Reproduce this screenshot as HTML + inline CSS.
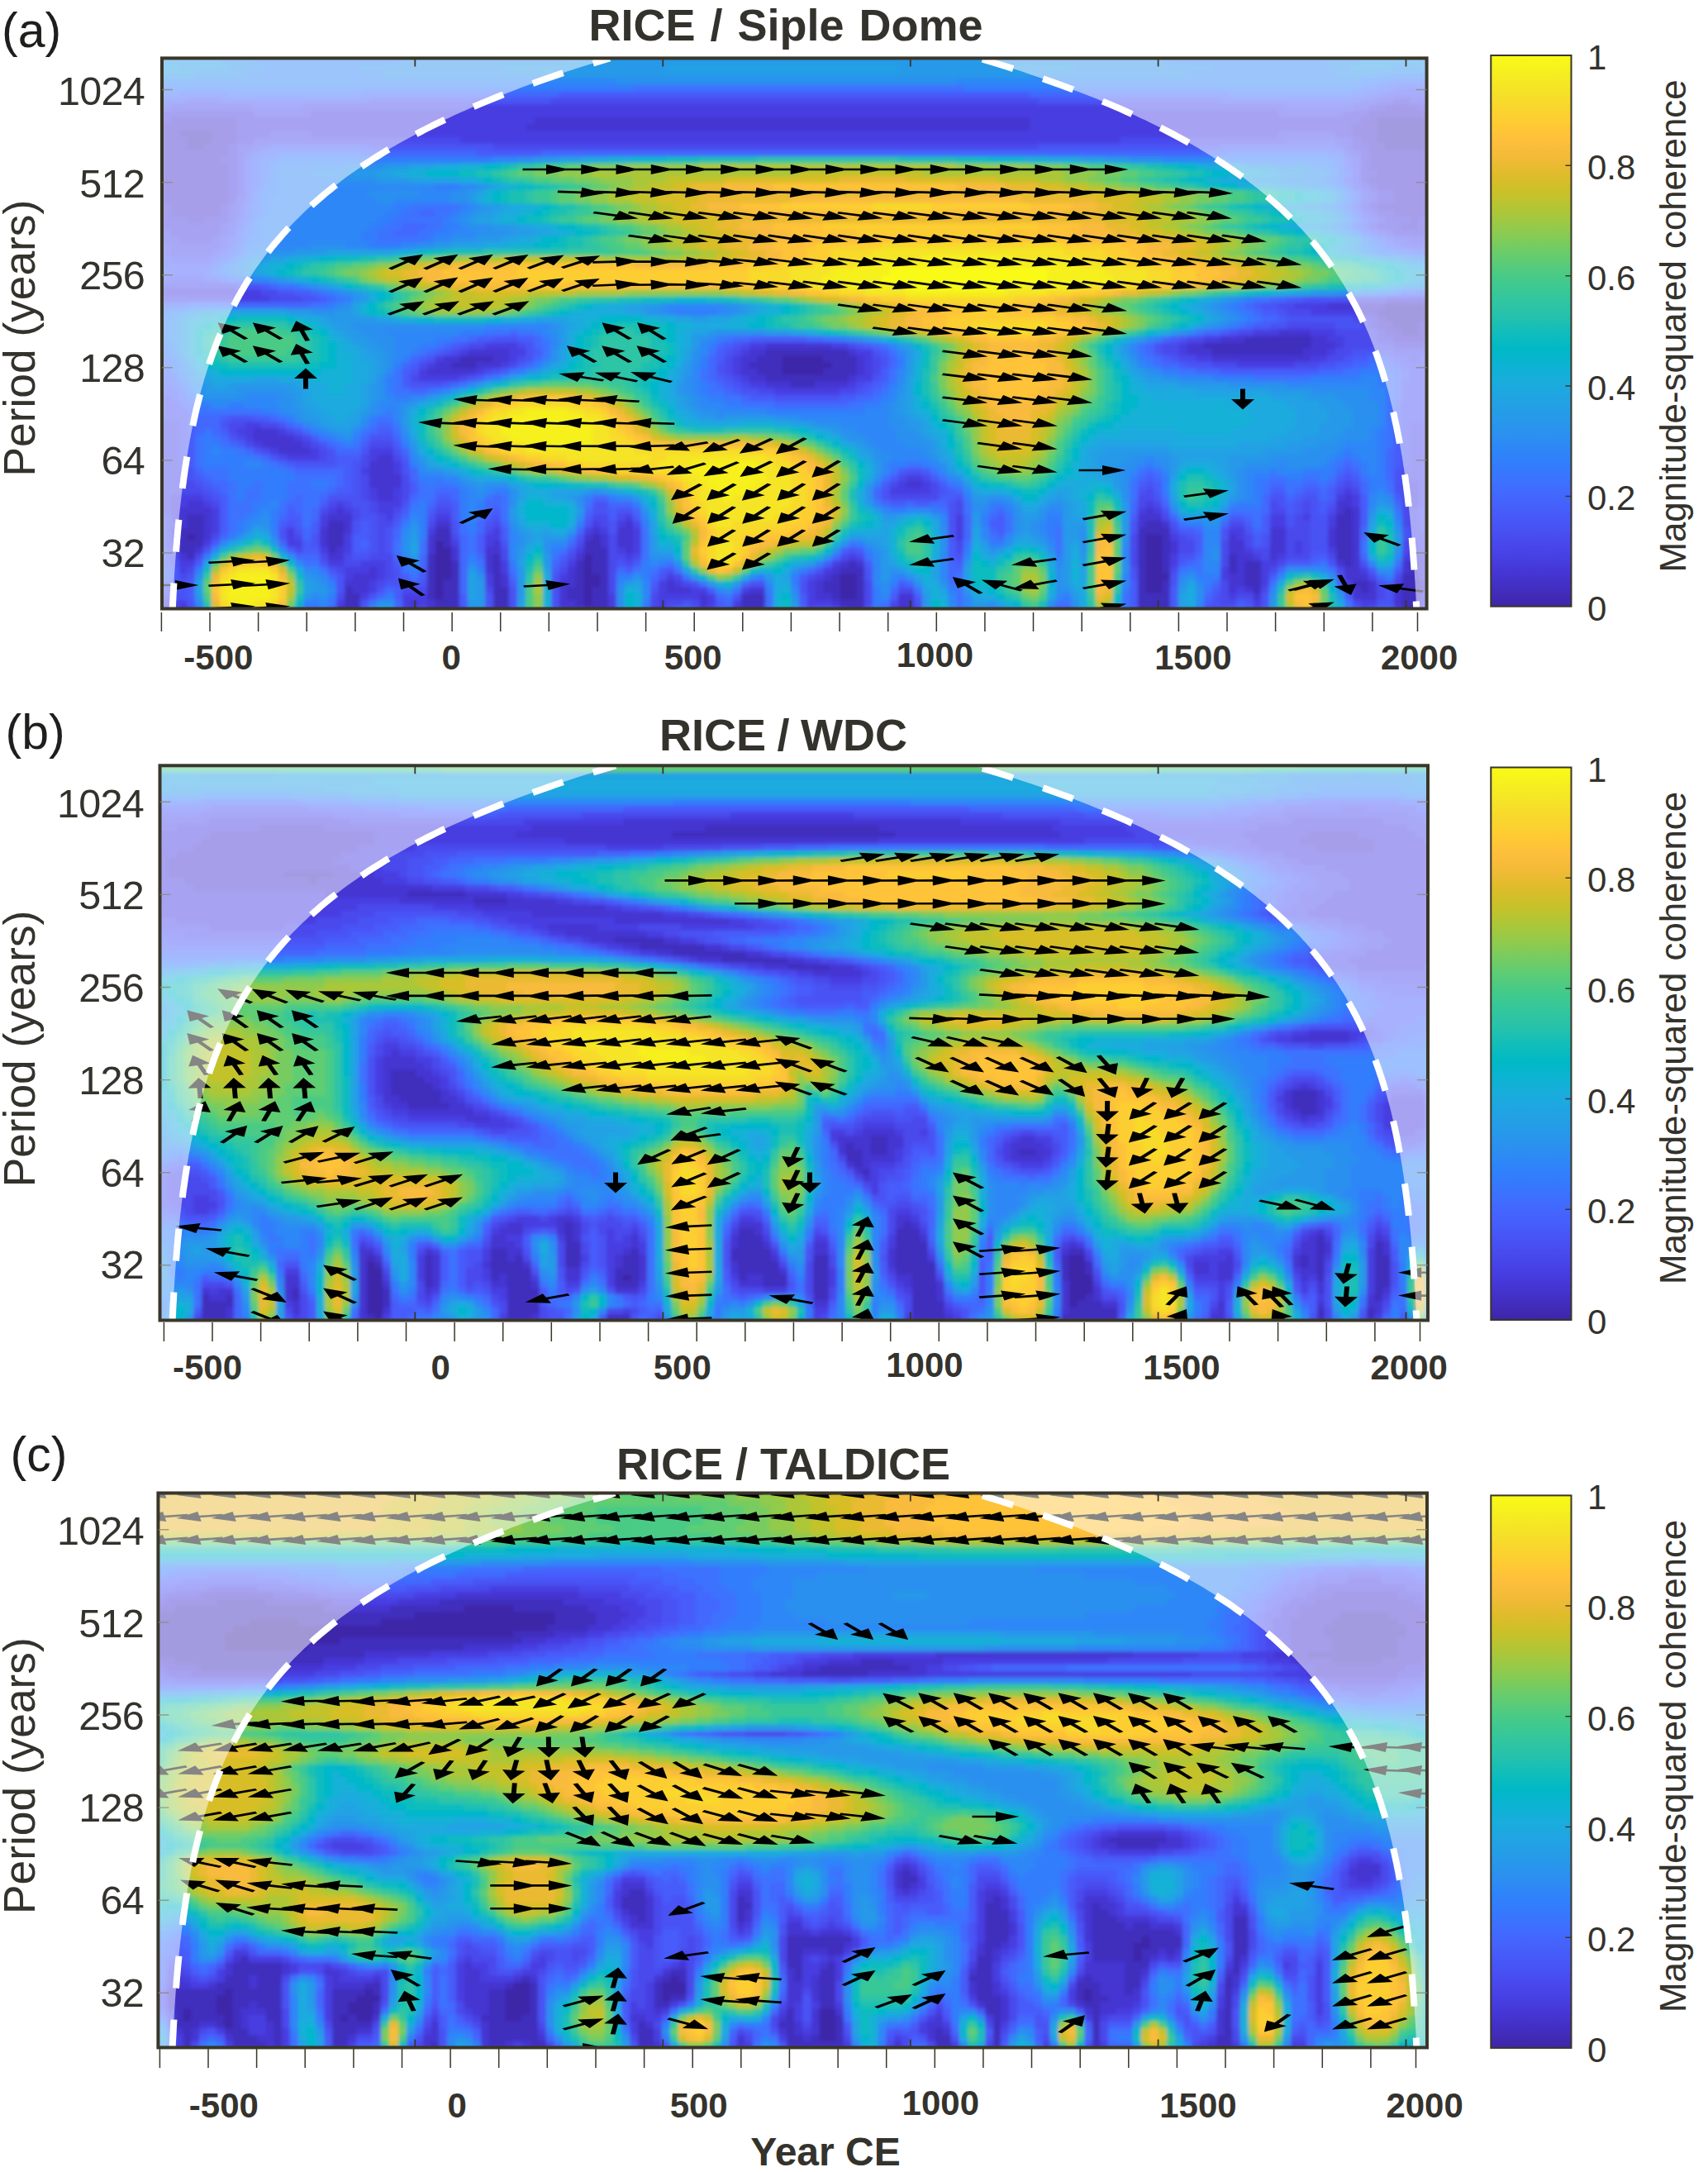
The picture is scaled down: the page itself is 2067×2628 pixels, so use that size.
<!DOCTYPE html><html><head><meta charset="utf-8"><title>Wavelet coherence</title>
<style>html,body{margin:0;padding:0;background:#fff}svg{display:block}text{font-family:"Liberation Sans",sans-serif;fill:#34322c}</style></head><body>
<svg width="2067" height="2628" viewBox="0 0 2067 2628">
<defs><linearGradient id="cb" x1="0" y1="0" x2="0" y2="1"><stop offset="0.0000" stop-color="#f9fb15"/><stop offset="0.0312" stop-color="#f6ef20"/><stop offset="0.0625" stop-color="#f5e327"/><stop offset="0.0938" stop-color="#f9d62d"/><stop offset="0.1250" stop-color="#feca33"/><stop offset="0.1562" stop-color="#febe3c"/><stop offset="0.1875" stop-color="#f1ba37"/><stop offset="0.2188" stop-color="#debc2a"/><stop offset="0.2500" stop-color="#c8c129"/><stop offset="0.2812" stop-color="#afc637"/><stop offset="0.3125" stop-color="#94ca4a"/><stop offset="0.3438" stop-color="#77cc60"/><stop offset="0.3750" stop-color="#5ccc76"/><stop offset="0.4062" stop-color="#44ca8a"/><stop offset="0.4375" stop-color="#34c79c"/><stop offset="0.4688" stop-color="#28c2ab"/><stop offset="0.5000" stop-color="#12beb9"/><stop offset="0.5312" stop-color="#01b9c6"/><stop offset="0.5625" stop-color="#0cb3d3"/><stop offset="0.5938" stop-color="#1aacdd"/><stop offset="0.6250" stop-color="#21a3e3"/><stop offset="0.6562" stop-color="#269ae9"/><stop offset="0.6875" stop-color="#2c90f0"/><stop offset="0.7188" stop-color="#2e85f8"/><stop offset="0.7500" stop-color="#347afd"/><stop offset="0.7812" stop-color="#3f6efe"/><stop offset="0.8125" stop-color="#4562fc"/><stop offset="0.8438" stop-color="#4757f7"/><stop offset="0.8750" stop-color="#484cef"/><stop offset="0.9062" stop-color="#4741e5"/><stop offset="0.9375" stop-color="#4536d5"/><stop offset="0.9688" stop-color="#422ebf"/><stop offset="1.0000" stop-color="#3e26a8"/></linearGradient>
<filter id="bl" x="-2%" y="-2%" width="104%" height="104%"><feGaussianBlur stdDeviation="2.2"/></filter></defs>
<rect width="2067" height="2628" fill="#fff"/>
<clipPath id="cp0"><rect x="196.0" y="70.4" width="1530.6" height="666.1"/></clipPath>
<g clip-path="url(#cp0)">
<rect x="196.0" y="70.4" width="1530.6" height="666.1" fill="#2d88f6"/>
<g filter="url(#bl)" fill="none" stroke-width="9">
<path stroke="#3e26a8" d="M946 434h51M946 442h61M946 450h51M226 650h11M1386 650h21M526 658h11M1386 658h21M526 666h21M1386 666h21M526 674h21M706 674h11M1386 674h21M526 682h21M706 682h11M1386 682h21M526 690h21M706 690h11M1386 690h21M526 698h21M706 698h21M1016 698h21M1386 698h31M526 706h11M706 706h21M1016 706h21M1386 706h21M526 714h11M706 714h11M1016 714h21M1386 714h21M526 722h11M706 722h11M1016 722h21M706 730h11"/>
<path stroke="#412ebd" d="M1666 146h61M1666 154h71M216 162h41M1666 162h71M226 170h31M1666 170h61M226 178h21M1676 178h51M1676 370h51M1666 378h61M1676 386h51M1686 394h31M1696 402h21M1506 410h81M1456 418h131M926 426h101M1466 426h111M556 434h41M916 434h31M996 434h41M546 442h31M906 442h41M1006 442h31M916 450h31M996 450h41M926 458h101M956 466h31M1626 618h11M226 626h21M1616 626h21M226 634h21M396 634h21M1386 634h21M1616 634h21M216 642h31M396 642h21M526 642h21M1376 642h41M1616 642h21M216 650h11M236 650h11M396 650h21M526 650h21M716 650h11M1376 650h11M1406 650h11M1616 650h21M216 658h31M396 658h21M536 658h11M706 658h21M1376 658h11M1406 658h11M1616 658h21M216 666h21M396 666h11M706 666h31M1376 666h11M1406 666h11M1616 666h21M226 674h11M516 674h11M596 674h11M716 674h21M1376 674h11M1406 674h11M1486 674h11M1616 674h21M516 682h11M546 682h11M596 682h11M696 682h11M716 682h21M1026 682h11M1376 682h11M1406 682h11M1486 682h11M1506 682h21M1626 682h11M1706 682h11M516 690h11M546 690h11M596 690h11M696 690h11M716 690h21M1016 690h31M1376 690h11M1406 690h11M1486 690h11M1506 690h21M1706 690h11M516 698h11M546 698h11M596 698h11M696 698h11M726 698h11M1006 698h11M1036 698h11M1376 698h11M1506 698h21M1696 698h21M516 706h11M536 706h21M596 706h11M696 706h11M726 706h11M996 706h21M1036 706h11M1376 706h11M1406 706h11M1506 706h21M1636 706h21M1696 706h21M416 714h11M516 714h11M536 714h21M596 714h21M686 714h21M716 714h21M996 714h21M1036 714h11M1376 714h11M1406 714h11M1516 714h11M1646 714h11M1696 714h21M416 722h21M516 722h11M536 722h21M596 722h21M686 722h21M716 722h21M896 722h31M1006 722h11M1036 722h11M1376 722h41M1696 722h21M416 730h21M526 730h31M596 730h21M696 730h11M716 730h21M896 730h31M1016 730h31M1376 730h41M1696 730h21M406 738h31M526 738h31M596 738h21M706 738h31M896 738h31M1026 738h21M1086 738h21M1376 738h41M1696 738h21"/>
<path stroke="#4435d1" d="M1676 130h41M1656 138h81M206 146h81M646 146h601M1646 146h21M1726 146h11M196 154h91M636 154h611M1636 154h31M196 162h21M256 162h31M1636 162h31M196 170h31M256 170h31M1646 170h21M1726 170h11M196 178h31M246 178h31M1656 178h21M1726 178h11M196 186h81M1656 186h81M196 194h71M1656 194h81M196 202h81M1656 202h81M196 210h81M1666 210h71M196 218h81M1656 218h81M196 226h81M1666 226h71M196 234h81M1686 234h51M196 242h81M1686 242h51M206 250h61M1666 250h71M206 258h61M1686 258h41M226 266h21M1706 266h11M1696 274h21M1606 370h71M1726 370h11M1646 378h21M1726 378h11M1666 386h11M1726 386h11M1666 394h21M1716 394h11M1546 402h41M1676 402h21M1716 402h11M1476 410h31M1586 410h21M1686 410h41M926 418h81M1436 418h21M1586 418h31M566 426h51M906 426h21M1026 426h11M1436 426h31M1576 426h31M536 434h21M596 434h21M896 434h21M1036 434h11M1466 434h121M526 442h21M576 442h31M896 442h11M1036 442h11M516 450h61M896 450h21M1036 450h11M906 458h21M1026 458h11M926 466h31M986 466h41M306 522h31M306 530h51M316 538h51M336 546h41M456 554h21M446 562h31M446 570h31M446 578h41M446 586h41M1096 586h21M456 594h21M456 602h21M1626 602h11M226 610h21M1616 610h21M216 618h41M406 618h11M1386 618h11M1616 618h11M1636 618h11M216 626h11M246 626h11M396 626h31M1376 626h31M1636 626h11M216 634h11M246 634h11M416 634h11M526 634h21M756 634h11M1376 634h11M1406 634h11M1636 634h11M246 642h11M386 642h11M416 642h11M716 642h11M746 642h21M1536 642h21M1606 642h11M1636 642h11M246 650h11M386 650h11M516 650h11M706 650h11M726 650h11M746 650h21M1486 650h11M1536 650h21M1606 650h11M1636 650h11M386 658h11M516 658h11M596 658h11M726 658h11M746 658h21M1416 658h11M1486 658h21M1536 658h21M1606 658h11M1636 658h11M236 666h11M406 666h11M516 666h11M546 666h11M586 666h21M756 666h11M1416 666h11M1486 666h21M1536 666h21M1636 666h11M216 674h11M396 674h21M546 674h11M586 674h11M696 674h11M1496 674h21M1536 674h11M1636 674h11M1706 674h11M586 682h11M1016 682h11M1036 682h11M1496 682h11M1616 682h11M1636 682h11M1696 682h11M446 690h11M586 690h11M686 690h11M1006 690h11M1496 690h11M1626 690h21M1696 690h11M426 698h31M606 698h11M686 698h11M996 698h11M1486 698h21M1626 698h31M416 706h31M606 706h11M676 706h21M806 706h11M986 706h11M1486 706h21M1656 706h11M1716 706h11M426 714h21M676 714h11M806 714h31M906 714h21M986 714h11M1486 714h11M1506 714h11M1636 714h11M1656 714h11M1686 714h11M1716 714h11M676 722h11M846 722h11M986 722h21M1086 722h21M1516 722h11M1636 722h31M1686 722h11M496 730h11M516 730h11M676 730h21M846 730h11M1006 730h11M1086 730h21M1686 730h11M216 738h11M516 738h11M686 738h21M736 738h11M886 738h11M1016 738h11M1076 738h11"/>
<path stroke="#463ee1" d="M1686 122h21M566 130h791M1656 130h21M1716 130h21M196 138h111M376 138h1171M1626 138h31M196 146h11M286 146h361M1246 146h401M286 154h351M1246 154h391M286 162h41M376 162h1171M1616 162h21M286 170h21M556 170h801M1636 170h11M276 178h11M1636 178h21M276 186h11M1646 186h11M266 194h21M1646 194h11M276 202h11M1646 202h11M276 210h11M1646 210h21M276 218h11M1646 218h11M276 226h11M1656 226h11M276 234h11M1666 234h21M276 242h11M1666 242h21M196 250h11M266 250h11M1656 250h11M196 258h11M266 258h11M1666 258h21M1726 258h11M196 266h31M246 266h31M1676 266h31M1716 266h21M196 274h71M1666 274h31M1716 274h21M206 282h61M1686 282h41M216 290h41M196 354h121M286 362h41M1676 362h61M1566 370h41M1586 378h61M1656 386h11M1656 394h11M1726 394h11M1516 402h31M1586 402h31M1666 402h11M1726 402h11M1456 410h21M1606 410h21M1666 410h21M586 418h41M906 418h21M1006 418h21M1426 418h11M1616 418h11M1686 418h41M556 426h11M616 426h21M896 426h11M1036 426h21M1426 426h11M1606 426h11M526 434h11M616 434h11M886 434h11M1046 434h11M1446 434h21M1586 434h21M516 442h11M606 442h11M886 442h11M1046 442h11M1496 442h71M506 450h11M576 450h11M886 450h11M1046 450h11M506 458h51M896 458h11M1036 458h21M906 466h21M1026 466h11M936 474h81M296 514h21M286 522h21M336 522h11M296 530h11M356 530h11M306 538h11M366 538h11M326 546h11M376 546h11M446 546h31M346 554h41M446 554h11M476 562h11M436 570h11M476 570h11M1096 578h21M1086 586h11M1116 586h11M1706 586h11M446 594h11M476 594h11M1076 594h51M1626 594h11M1706 594h11M206 602h41M446 602h11M476 602h11M1616 602h11M1636 602h11M1706 602h11M206 610h21M246 610h11M406 610h11M456 610h31M1386 610h11M1636 610h11M1706 610h11M206 618h11M256 618h11M396 618h11M416 618h11M456 618h21M1376 618h11M1396 618h11M206 626h11M256 626h11M386 626h11M466 626h11M526 626h21M756 626h11M1156 626h11M1536 626h21M1576 626h11M1606 626h11M256 634h11M386 634h11M716 634h11M746 634h11M1156 634h11M1536 634h21M1606 634h11M206 642h11M256 642h11M346 642h11M516 642h11M596 642h11M706 642h11M726 642h11M766 642h11M1156 642h11M1486 642h21M206 650h11M346 650h11M416 650h11M586 650h21M766 650h11M1156 650h11M1416 650h11M1496 650h11M246 658h11M346 658h21M416 658h11M546 658h11M586 658h11M766 658h11M1566 658h11M1706 658h11M386 666h11M416 666h11M696 666h11M746 666h11M766 666h11M1506 666h11M1566 666h11M1606 666h11M1706 666h11M756 674h11M1026 674h11M1416 674h11M1516 674h11M1546 674h11M1696 674h11M1716 674h11M216 682h21M396 682h21M436 682h31M606 682h11M686 682h11M1006 682h11M1416 682h11M1526 682h21M1716 682h11M216 690h11M416 690h31M456 690h11M606 690h11M996 690h11M1476 690h11M1526 690h11M1646 690h11M1716 690h11M416 698h11M456 698h11M586 698h11M676 698h11M806 698h11M986 698h11M1476 698h11M1526 698h11M1716 698h11M446 706h11M586 706h11M796 706h11M816 706h11M976 706h11M1526 706h11M1626 706h11M1686 706h11M446 714h11M796 714h11M836 714h21M896 714h11M976 714h11M1496 714h11M436 722h11M486 722h31M736 722h11M796 722h51M856 722h11M976 722h11M1486 722h11M1716 722h11M196 730h11M216 730h11M406 730h11M486 730h11M506 730h11M736 730h11M796 730h11M856 730h11M886 730h11M976 730h31M1516 730h11M1646 730h21M1716 730h11M196 738h11M486 738h21M676 738h11M786 738h21M846 738h11M1686 738h11"/>
<path stroke="#4848ec" d="M666 122h591M1666 122h21M1706 122h31M206 130h101M366 130h201M1356 130h201M1636 130h21M306 138h71M1546 138h81M326 162h51M1546 162h71M306 170h251M1356 170h201M1616 170h21M286 178h21M596 178h661M1626 178h11M286 186h11M1636 186h11M286 194h11M286 202h11M286 210h11M286 218h11M286 226h11M1646 226h11M286 234h11M1656 234h11M1656 242h11M276 250h11M1646 250h11M276 258h11M1656 258h11M276 266h11M1666 266h11M266 274h11M1656 274h11M196 282h11M266 282h11M1676 282h11M1726 282h11M196 290h21M256 290h11M1706 290h21M206 298h61M206 306h51M196 346h91M316 354h21M196 362h91M326 362h41M1636 362h41M1546 370h21M1556 378h31M1636 386h21M1556 394h61M1646 394h11M1496 402h21M1616 402h51M1436 410h21M1626 410h41M1726 410h11M566 418h21M626 418h11M896 418h11M1026 418h11M1406 418h21M1626 418h61M1726 418h11M546 426h11M886 426h11M1406 426h21M1616 426h21M1686 426h41M626 434h11M876 434h11M1056 434h11M1426 434h21M1606 434h21M1706 434h11M506 442h11M616 442h11M876 442h11M1056 442h11M1466 442h31M1566 442h31M586 450h11M876 450h11M1056 450h11M496 458h11M556 458h11M886 458h11M896 466h11M1036 466h11M916 474h21M1016 474h21M196 514h21M276 514h21M316 514h21M1706 514h21M196 522h21M276 522h11M346 522h11M1706 522h21M196 530h21M286 530h11M366 530h11M1706 530h21M196 538h21M296 538h11M376 538h11M446 538h31M1706 538h21M196 546h21M316 546h11M386 546h11M1706 546h21M196 554h21M336 554h11M386 554h11M436 554h11M476 554h11M1706 554h21M196 562h21M436 562h11M1706 562h21M196 570h31M1696 570h31M196 578h31M436 578h11M486 578h11M1086 578h11M1116 578h11M1696 578h31M196 586h41M436 586h11M486 586h11M1076 586h11M1126 586h11M1626 586h11M1696 586h11M1716 586h11M196 594h51M436 594h11M486 594h11M1126 594h11M1386 594h11M1616 594h11M1636 594h11M1696 594h11M1716 594h11M196 602h11M246 602h11M436 602h11M486 602h11M1076 602h61M1376 602h21M1696 602h11M1716 602h11M196 610h11M256 610h11M396 610h11M416 610h11M446 610h11M1156 610h11M1376 610h11M1396 610h11M1536 610h11M1576 610h11M1696 610h11M1716 610h11M196 618h11M386 618h11M426 618h11M446 618h11M476 618h11M526 618h21M1156 618h11M1536 618h21M1576 618h11M1606 618h11M1696 618h21M426 626h11M456 626h11M716 626h21M746 626h11M1406 626h11M1566 626h11M1696 626h21M206 634h11M456 634h21M516 634h11M596 634h11M726 634h11M766 634h11M1486 634h21M1566 634h21M1696 634h21M456 642h11M586 642h11M1416 642h11M1556 642h31M1706 642h11M256 650h11M356 650h11M456 650h11M546 650h11M736 650h11M1366 650h11M1426 650h11M1506 650h11M1556 650h31M1706 650h21M206 658h11M456 658h11M696 658h11M736 658h11M1156 658h11M1366 658h11M1426 658h21M1476 658h11M1506 658h11M1556 658h11M1576 658h11M1696 658h11M1716 658h21M206 666h11M356 666h11M456 666h11M606 666h11M736 666h11M1156 666h11M1366 666h11M1426 666h21M1476 666h11M1516 666h21M1556 666h11M1576 666h11M1696 666h11M1716 666h21M206 674h11M236 674h11M386 674h11M416 674h11M446 674h31M606 674h11M686 674h11M736 674h21M766 674h11M1016 674h11M1036 674h11M1366 674h11M1476 674h11M1526 674h11M1556 674h31M1606 674h11M1726 674h11M416 682h21M466 682h11M736 682h11M756 682h11M1366 682h11M1476 682h11M1546 682h11M226 690h11M406 690h11M466 690h11M676 690h11M736 690h11M1416 690h11M1536 690h11M1616 690h11M216 698h11M466 698h11M736 698h11M816 698h11M976 698h11M1656 698h11M1686 698h11M456 706h11M736 706h11M826 706h11M1046 706h11M1476 706h11M486 714h31M586 714h11M736 714h11M1046 714h11M1086 714h21M1476 714h11M1526 714h11M1626 714h11M1666 714h11M196 722h11M406 722h11M786 722h11M1046 722h11M1476 722h11M1496 722h21M1666 722h11M206 730h11M786 730h11M806 730h21M836 730h11M1046 730h11M1076 730h11M1476 730h21M1636 730h11M206 738h11M226 738h11M506 738h11M856 738h11M976 738h11M1006 738h11M1106 738h11M1456 738h21M1516 738h11M1646 738h11M1716 738h11"/>
<path stroke="#4852f4" d="M1676 114h51M226 122h41M446 122h221M1256 122h221M1646 122h21M196 130h11M306 130h61M1556 130h81M1556 170h61M306 178h21M446 178h151M1256 178h221M1616 178h11M296 186h11M1626 186h11M1636 194h11M1636 202h11M1636 210h11M1636 218h11M1636 226h11M1646 234h11M286 242h11M1646 242h11M286 250h11M286 258h11M1646 258h11M1656 266h11M276 274h11M276 282h11M1666 282h11M266 290h11M1686 290h21M1726 290h11M196 298h11M266 298h11M1696 298h31M196 306h11M256 306h11M206 314h51M206 338h41M286 346h31M336 354h21M366 362h21M1576 362h61M1526 370h21M1546 378h11M1556 386h81M1536 394h21M1616 394h31M1486 402h11M596 410h31M1426 410h11M556 418h11M636 418h11M886 418h11M1036 418h11M1396 418h11M536 426h11M636 426h11M876 426h11M1056 426h11M1396 426h11M1636 426h51M1726 426h11M516 434h11M636 434h11M1066 434h11M1416 434h11M1626 434h11M1686 434h21M1716 434h11M866 442h11M1066 442h11M1436 442h31M1596 442h21M1696 442h31M496 450h11M596 450h11M866 450h11M1706 450h21M566 458h11M876 458h11M1056 458h11M1706 458h21M496 466h41M886 466h11M1046 466h11M1696 466h31M896 474h21M1036 474h11M1696 474h41M196 482h11M936 482h81M1696 482h41M196 490h21M1696 490h41M196 498h31M1696 498h41M196 506h31M276 506h31M1696 506h41M216 514h11M266 514h11M336 514h11M1696 514h11M1726 514h11M216 522h11M356 522h11M1696 522h11M1726 522h11M216 530h11M276 530h11M446 530h31M1696 530h11M1726 530h11M216 538h11M386 538h11M1696 538h11M1726 538h11M216 546h11M306 546h11M396 546h11M436 546h11M476 546h11M1696 546h11M1726 546h11M216 554h11M326 554h11M396 554h11M1696 554h11M1726 554h11M216 562h11M356 562h51M426 562h11M486 562h11M1696 562h11M1726 562h11M226 570h11M426 570h11M486 570h11M1096 570h21M1686 570h11M1726 570h11M226 578h11M426 578h11M1626 578h11M1686 578h11M1726 578h11M236 586h11M426 586h11M1386 586h11M1616 586h11M1636 586h11M1686 586h11M1726 586h11M246 594h11M426 594h11M1066 594h11M1136 594h11M1376 594h11M1686 594h11M1726 594h11M256 602h11M396 602h41M1066 602h11M1156 602h11M1396 602h11M1536 602h21M1576 602h21M1726 602h11M426 610h21M486 610h11M526 610h21M716 610h21M1146 610h11M1546 610h11M1566 610h11M1586 610h11M1606 610h11M1726 610h11M436 618h11M716 618h21M746 618h21M1146 618h11M1406 618h11M1566 618h11M1586 618h11M1716 618h21M196 626h11M436 626h21M476 626h11M516 626h11M596 626h11M1146 626h11M1556 626h11M1586 626h21M1716 626h21M196 634h11M346 634h11M426 634h11M446 634h11M546 634h11M586 634h11M706 634h11M736 634h11M1146 634h11M1366 634h11M1416 634h11M1556 634h11M1586 634h21M1716 634h21M196 642h11M336 642h11M356 642h11M426 642h11M446 642h11M466 642h11M546 642h11M736 642h11M1146 642h11M1366 642h11M1476 642h11M1506 642h11M1586 642h21M1696 642h11M1716 642h21M196 650h11M336 650h11M376 650h11M446 650h11M466 650h11M696 650h11M1146 650h11M1436 650h11M1476 650h11M1526 650h11M1586 650h21M1696 650h11M1726 650h11M196 658h11M376 658h11M446 658h11M466 658h11M606 658h11M1526 658h11M1586 658h21M246 666h11M446 666h11M466 666h11M686 666h11M1026 666h11M1586 666h21M426 674h21M1156 674h11M1426 674h21M206 682h11M386 682h11M676 682h11M746 682h11M1606 682h11M1646 682h11M1726 682h11M396 690h11M476 690h11M806 690h11M986 690h11M1046 690h11M1366 690h11M1726 690h11M226 698h11M406 698h11M476 698h11M666 698h11M796 698h11M1046 698h11M1366 698h11M1416 698h11M1616 698h11M216 706h11M406 706h11M466 706h31M506 706h11M666 706h11M836 706h11M906 706h21M966 706h11M1416 706h11M1666 706h11M196 714h11M216 714h11M406 714h11M456 714h11M616 714h11M666 714h11M786 714h11M966 714h11M1676 714h11M206 722h21M446 722h11M586 722h11M616 722h11M666 722h11M886 722h11M1466 722h11M1526 722h11M1676 722h11M226 730h11M436 730h11M586 730h11M616 730h11M666 730h11M826 730h11M1106 730h11M1466 730h11M1506 730h11M1526 730h11M1666 730h21M556 738h11M586 738h11M616 738h11M666 738h11M806 738h11M836 738h11M986 738h21M1046 738h11M1476 738h11M1656 738h11"/>
<path stroke="#475cfa" d="M1686 106h31M676 114h571M1656 114h21M1726 114h11M196 122h31M266 122h181M1476 122h171M326 178h121M1476 178h141M306 186h11M576 186h81M296 194h11M1626 194h11M296 202h11M1626 202h11M296 210h11M296 218h11M1626 218h11M296 226h11M296 234h11M296 242h11M1636 250h11M286 266h11M1646 266h11M286 274h11M1646 274h11M1656 282h11M276 290h11M1676 290h11M276 298h11M1686 298h11M1726 298h11M266 306h11M196 314h11M256 314h11M196 322h61M206 330h41M196 338h11M246 338h21M316 346h11M356 354h21M386 362h11M1556 362h21M1516 370h11M1526 378h21M1546 386h11M1516 394h21M1476 402h11M576 410h21M626 410h21M906 410h71M1416 410h11M546 418h11M876 418h11M1046 418h11M526 426h11M646 426h11M866 426h11M1066 426h11M506 434h11M866 434h11M1406 434h11M1636 434h21M1676 434h11M1726 434h11M496 442h11M626 442h11M1426 442h11M1616 442h21M1686 442h11M1726 442h11M486 450h11M606 450h11M1066 450h11M1476 450h121M1696 450h11M1726 450h11M486 458h11M576 458h11M866 458h11M1066 458h11M1696 458h11M1726 458h11M196 466h11M486 466h11M536 466h11M876 466h11M1056 466h11M1726 466h11M196 474h21M886 474h11M1046 474h11M206 482h11M906 482h31M1016 482h21M216 490h11M1686 490h11M226 498h11M1686 498h11M226 506h11M266 506h11M306 506h21M1686 506h11M226 514h11M1686 514h11M226 522h11M266 522h11M456 522h21M1686 522h11M226 530h11M376 530h11M1686 530h11M226 538h11M286 538h11M436 538h11M476 538h11M1686 538h11M226 546h11M1686 546h11M226 554h11M406 554h31M486 554h11M1686 554h11M226 562h11M346 562h11M406 562h21M1686 562h11M416 570h11M1086 570h11M1116 570h11M1626 570h11M236 578h11M416 578h11M1076 578h11M1126 578h11M1386 578h11M1616 578h11M1636 578h11M246 586h11M416 586h11M496 586h11M1066 586h11M1136 586h11M1376 586h11M1396 586h11M256 594h11M406 594h21M496 594h11M1146 594h11M1396 594h11M1536 594h21M1576 594h21M1606 594h11M266 602h11M526 602h21M1136 602h21M1566 602h11M1606 602h11M1646 602h11M1686 602h11M266 610h11M386 610h11M546 610h11M1076 610h21M1106 610h21M1556 610h11M1596 610h11M1646 610h11M266 618h11M346 618h11M486 618h11M516 618h11M546 618h11M596 618h11M736 618h11M1556 618h11M1596 618h11M1646 618h11M266 626h11M346 626h21M546 626h11M586 626h11M706 626h11M736 626h11M766 626h11M1206 626h11M1366 626h11M1486 626h21M1526 626h11M1646 626h11M266 634h11M336 634h11M356 634h11M376 634h11M436 634h11M476 634h11M1196 634h21M1506 634h11M1526 634h11M1646 634h11M266 642h11M376 642h11M436 642h11M606 642h11M1206 642h11M1426 642h21M1526 642h11M426 650h21M576 650h11M606 650h11M1446 650h11M1516 650h11M256 658h11M366 658h11M426 658h11M576 658h11M1146 658h11M1446 658h11M1516 658h11M196 666h11M346 666h11M366 666h21M426 666h21M576 666h11M1016 666h11M1036 666h11M1146 666h11M1446 666h11M196 674h11M676 674h11M1146 674h11M1586 674h21M196 682h11M236 682h11M476 682h11M766 682h11M996 682h11M1046 682h11M1156 682h11M1426 682h11M1556 682h31M206 690h11M506 690h11M666 690h11M756 690h11M796 690h11M1656 690h11M1686 690h11M206 698h11M486 698h11M506 698h11M966 698h11M1536 698h11M1726 698h11M196 706h21M226 706h11M496 706h11M616 706h11M786 706h11M1086 706h11M1366 706h11M1676 706h11M1726 706h11M206 714h11M226 714h11M476 714h11M856 714h11M1366 714h11M1416 714h11M1466 714h11M226 722h11M476 722h11M556 722h11M966 722h11M1076 722h11M1106 722h11M1366 722h11M1416 722h11M1626 722h11M556 730h11M866 730h11M966 730h11M1366 730h11M1416 730h11M1456 730h11M1496 730h11M396 738h11M436 738h11M866 738h21M1276 738h21M1366 738h11M1416 738h11M1486 738h11M1506 738h11M1526 738h11M1636 738h11"/>
<path stroke="#4367fd" d="M1666 106h21M1716 106h21M216 114h61M436 114h241M1246 114h241M1636 114h21M316 186h21M436 186h141M656 186h831M1606 186h21M306 194h11M306 202h11M306 210h11M1626 210h11M306 218h11M306 226h11M1626 226h11M1636 234h11M1636 242h11M296 250h11M296 258h11M506 258h21M1636 258h11M296 266h11M486 274h31M1636 274h11M286 282h11M476 282h31M1646 282h11M286 290h11M1666 290h11M1676 298h11M276 306h11M1706 306h31M266 314h11M256 322h11M196 330h11M246 330h11M266 338h11M326 346h11M376 354h11M1696 354h41M396 362h11M1536 362h21M196 370h31M286 370h91M1506 370h11M1516 378h11M1526 386h21M1506 394h11M616 402h11M1456 402h21M566 410h11M646 410h11M886 410h21M976 410h21M1406 410h11M536 418h11M646 418h11M866 418h11M1056 418h11M1386 418h11M516 426h11M1386 426h11M496 434h11M646 434h11M856 434h11M1076 434h11M1396 434h11M1656 434h21M486 442h11M636 442h11M856 442h11M1076 442h11M1406 442h21M1636 442h21M1676 442h11M196 450h11M856 450h11M1446 450h31M1596 450h31M1686 450h11M196 458h21M856 458h11M1686 458h11M206 466h11M546 466h11M866 466h11M1066 466h11M1686 466h11M216 474h11M496 474h21M876 474h11M1056 474h11M1686 474h11M216 482h11M896 482h11M1036 482h21M1686 482h11M226 490h11M936 490h91M236 506h31M326 506h11M236 514h31M346 514h11M456 514h21M236 522h11M256 522h11M366 522h11M446 522h11M266 530h11M436 530h11M476 530h11M276 538h11M396 538h11M296 546h11M406 546h31M486 546h11M1676 546h11M316 554h11M1676 554h11M336 562h11M1626 562h11M1676 562h11M236 570h11M356 570h61M496 570h11M1386 570h11M1616 570h11M1636 570h11M1676 570h11M246 578h11M406 578h11M496 578h11M1376 578h11M1396 578h11M1676 578h11M256 586h21M406 586h11M1536 586h21M1576 586h21M1606 586h11M1646 586h11M266 594h11M396 594h11M526 594h31M1056 594h11M1156 594h11M1566 594h11M1596 594h11M1646 594h11M356 602h11M386 602h11M496 602h11M546 602h11M596 602h11M716 602h21M1056 602h11M1526 602h11M1556 602h11M1596 602h11M346 610h21M516 610h11M586 610h21M736 610h31M1066 610h11M1096 610h11M1126 610h21M1366 610h11M1406 610h11M1526 610h11M1686 610h11M356 618h11M376 618h11M586 618h11M706 618h11M766 618h11M1206 618h11M1366 618h11M1526 618h11M336 626h11M376 626h11M486 626h11M1166 626h11M1196 626h11M1416 626h11M1506 626h11M576 634h11M606 634h11M1166 634h11M1476 634h11M366 642h11M476 642h11M576 642h11M696 642h11M1166 642h11M1196 642h11M1446 642h11M1516 642h11M1646 642h11M266 650h11M366 650h11M476 650h11M556 650h11M1166 650h11M1206 650h11M1646 650h11M336 658h11M436 658h11M556 658h11M686 658h11M556 666h11M356 674h31M476 674h11M506 674h11M556 674h11M576 674h11M1006 674h11M1446 674h11M1646 674h11M506 682h11M556 682h11M666 682h11M1146 682h11M1436 682h11M1586 682h11M196 690h11M556 690h11M746 690h11M976 690h11M1146 690h21M1546 690h11M196 698h11M396 698h11M556 698h11M616 698h11M786 698h11M1146 698h11M1666 698h11M556 706h11M896 706h11M1096 706h11M1466 706h11M1616 706h11M466 714h11M556 714h11M1076 714h11M1726 714h11M456 722h11M866 722h11M1456 722h11M1726 722h11M476 730h11M876 730h11M1726 730h11M366 738h21M476 738h11M816 738h21M966 738h11M1066 738h11M1496 738h11M1666 738h21"/>
<path stroke="#3c72ff" d="M1676 98h51M766 106h401M1646 106h21M196 114h21M276 114h161M1486 114h151M336 186h101M1486 186h121M316 194h21M1616 194h11M316 202h11M1616 202h11M316 210h11M1616 210h11M316 218h11M1616 218h11M306 234h11M306 242h11M306 250h11M496 250h61M1626 250h11M306 258h11M486 258h21M526 258h21M476 266h61M1636 266h11M296 274h11M466 274h21M516 274h21M296 282h11M456 282h21M506 282h21M456 290h61M1656 290h11M286 298h11M1666 298h11M286 306h11M1686 306h21M276 314h11M256 330h11M276 338h21M336 346h21M386 354h11M1686 354h11M406 362h11M1516 362h21M226 370h61M376 370h21M1496 370h11M1506 378h11M1516 386h11M1496 394h11M586 402h31M626 402h21M1446 402h11M546 410h21M876 410h11M996 410h21M526 418h11M656 418h11M1066 418h11M1376 418h11M506 426h11M656 426h11M856 426h11M1076 426h11M1376 426h11M196 434h11M1386 434h11M196 442h11M1396 442h11M1656 442h21M206 450h11M476 450h11M616 450h11M846 450h11M1076 450h11M1426 450h21M1626 450h21M1676 450h11M476 458h11M586 458h11M846 458h11M1076 458h11M1516 458h71M1676 458h11M216 466h11M476 466h11M556 466h11M856 466h11M1676 466h11M476 474h21M516 474h11M856 474h21M1066 474h11M1676 474h11M226 482h11M876 482h21M1056 482h11M1676 482h11M896 490h41M1026 490h21M1676 490h11M236 498h81M1676 498h11M336 506h11M456 506h21M1676 506h11M356 514h11M446 514h11M1676 514h11M246 522h11M436 522h11M476 522h11M1676 522h11M236 530h11M256 530h11M386 530h11M1676 530h11M236 538h11M266 538h11M406 538h11M426 538h11M1676 538h11M236 546h11M286 546h11M236 554h11M306 554h11M1626 554h11M236 562h11M326 562h11M1096 562h21M1616 562h11M1636 562h11M246 570h31M346 570h11M1076 570h11M1126 570h11M1376 570h11M1396 570h11M256 578h21M356 578h51M1066 578h11M1136 578h11M1536 578h21M1576 578h21M1606 578h11M1646 578h11M276 586h11M306 586h11M346 586h31M396 586h11M506 586h11M526 586h21M1146 586h11M1366 586h11M1526 586h11M1556 586h21M1596 586h11M1676 586h11M276 594h11M296 594h21M346 594h51M506 594h21M1366 594h11M1526 594h11M1556 594h11M1676 594h11M276 602h11M296 602h21M346 602h11M366 602h21M506 602h21M586 602h11M606 602h11M1366 602h11M1406 602h11M276 610h31M336 610h11M366 610h21M496 610h11M606 610h11M706 610h11M1166 610h11M276 618h31M336 618h11M366 618h11M606 618h11M1136 618h11M1166 618h11M1196 618h11M1486 618h41M1686 618h11M276 626h21M366 626h11M576 626h11M606 626h11M1216 626h11M1516 626h11M276 634h11M366 634h11M556 634h11M1216 634h11M1426 634h11M1516 634h11M276 642h11M556 642h11M776 642h11M1216 642h11M1276 642h11M566 650h11M776 650h11M1196 650h11M1276 650h11M476 658h11M506 658h11M566 658h11M776 658h11M1026 658h11M1166 658h11M1276 658h11M1646 658h11M476 666h11M506 666h11M566 666h11M676 666h11M776 666h11M1276 666h11M1646 666h11M666 674h11M776 674h11M1046 674h11M366 682h21M576 682h11M806 682h11M1446 682h11M1596 682h11M1686 682h11M386 690h11M486 690h11M616 690h11M766 690h11M786 690h11M816 690h11M1426 690h11M1446 690h11M1606 690h11M496 698h11M826 698h11M1156 698h11M846 706h11M1146 706h21M1536 706h11M886 714h11M1106 714h11M1156 714h11M1456 714h11M876 722h11M926 722h11M1156 722h11M1356 722h11M396 730h11M446 730h11M926 730h11M1066 730h11M1156 730h11M1276 730h21M1356 730h11M1626 730h11M236 738h11M386 738h11M776 738h11M926 738h11M1056 738h11M1156 738h11M1266 738h11M1446 738h11M1726 738h11"/>
<path stroke="#317dfc" d="M1646 98h31M1726 98h11M196 106h571M1166 106h481M336 194h261M1486 194h131M326 202h11M1606 202h11M326 210h11M326 218h11M1606 218h11M316 226h21M526 226h31M1616 226h11M316 234h21M1626 234h11M316 242h11M1626 242h11M316 250h11M476 250h21M556 250h11M1616 250h11M316 258h11M466 258h21M546 258h11M1626 258h11M306 266h11M456 266h21M536 266h11M306 274h11M446 274h21M536 274h21M1626 274h11M306 282h11M436 282h21M526 282h21M1636 282h11M296 290h21M436 290h21M516 290h11M296 298h11M446 298h41M1656 298h11M1666 306h21M266 322h11M266 330h11M296 338h11M356 346h11M396 354h11M1666 354h21M416 362h11M1506 362h11M396 370h11M1486 370h11M196 378h11M816 378h51M1496 378h11M1506 386h11M1486 394h11M556 402h31M646 402h11M526 410h21M656 410h11M866 410h11M1016 410h11M1396 410h11M196 418h11M506 418h21M856 418h11M196 426h11M496 426h11M206 434h11M486 434h11M656 434h11M846 434h11M1086 434h11M1376 434h11M206 442h11M476 442h11M646 442h11M846 442h11M1086 442h11M1386 442h11M626 450h11M1406 450h21M1646 450h31M216 458h11M466 458h11M596 458h11M1466 458h51M1586 458h61M1666 458h11M466 466h11M846 466h11M1076 466h11M1666 466h11M226 474h11M466 474h11M526 474h11M846 474h11M476 482h21M856 482h21M1066 482h11M236 490h21M276 490h21M876 490h21M1046 490h21M316 498h21M466 498h11M926 498h121M346 506h11M446 506h11M476 514h11M376 522h11M1666 522h11M246 530h11M396 530h11M426 530h11M1666 530h11M246 538h21M416 538h11M486 538h11M1666 538h11M246 546h11M266 546h21M1626 546h11M1666 546h11M246 554h61M1616 554h11M1636 554h11M1666 554h11M246 562h51M316 562h11M496 562h11M1076 562h21M1116 562h11M1386 562h11M1606 562h11M1646 562h11M1666 562h11M276 570h71M1536 570h11M1576 570h41M1646 570h11M1666 570h11M276 578h81M506 578h31M1366 578h11M1406 578h11M1516 578h21M1556 578h21M1596 578h11M1656 578h21M286 586h21M316 586h31M376 586h21M516 586h11M546 586h11M1056 586h11M1156 586h11M1406 586h11M1516 586h11M1656 586h21M286 594h11M316 594h31M556 594h11M596 594h21M1406 594h11M1516 594h11M1656 594h11M286 602h11M316 602h31M556 602h11M706 602h11M736 602h11M1166 602h11M1516 602h11M306 610h21M506 610h11M556 610h11M576 610h11M766 610h11M1056 610h11M1196 610h21M1496 610h31M306 618h11M326 618h11M496 618h21M556 618h11M576 618h11M1076 618h21M1126 618h11M1216 618h11M296 626h11M326 626h11M506 626h11M556 626h11M1186 626h11M1266 626h21M1476 626h11M1686 626h11M286 634h11M326 634h11M486 634h11M506 634h11M566 634h11M696 634h11M776 634h11M1186 634h11M1266 634h21M1436 634h21M286 642h11M326 642h11M506 642h11M566 642h11M1266 642h11M276 650h11M506 650h11M686 650h11M1266 650h11M1036 658h11M1196 658h21M666 666h11M1046 666h11M1166 666h11M246 674h11M566 674h11M1276 674h11M486 682h11M616 682h11M776 682h11M796 682h11M986 682h11M236 690h11M496 690h11M576 690h11M776 690h11M966 690h11M1436 690h11M746 698h21M776 698h11M916 698h11M956 698h11M1086 698h11M1446 698h31M1676 698h11M396 706h11M956 706h11M1076 706h11M1456 706h11M926 714h11M1056 714h11M1146 714h11M1356 714h11M396 722h11M466 722h11M1056 722h11M1286 722h11M366 730h21M776 730h11M1056 730h11M1166 738h11M1196 738h11M1356 738h11M1626 738h11"/>
<path stroke="#2e87f7" d="M306 74h181M1416 74h191M316 82h121M1466 82h141M296 90h171M1436 90h181M1666 90h71M196 98h551M1156 98h491M596 194h31M1406 194h81M336 202h81M1586 202h21M336 210h41M1606 210h11M336 218h71M1596 218h11M336 226h191M556 226h21M1606 226h11M336 234h111M506 234h41M326 242h131M476 242h71M326 250h151M566 250h11M326 258h141M556 258h11M316 266h141M546 266h11M1626 266h11M316 274h131M556 274h11M1616 274h11M316 282h121M546 282h31M316 290h121M526 290h21M1646 290h11M306 298h71M416 298h31M486 298h21M1646 298h11M296 306h21M1656 306h11M286 314h11M1706 314h31M276 322h11M276 330h11M306 338h21M366 346h11M406 354h11M1646 354h21M1496 362h11M406 370h11M806 370h71M1476 370h11M206 378h21M806 378h11M866 378h21M1486 378h11M196 386h21M1496 386h11M196 394h11M586 394h81M1476 394h11M196 402h11M466 402h91M656 402h11M1436 402h11M196 410h11M476 410h51M666 410h11M856 410h11M1026 410h11M1386 410h11M206 418h11M476 418h31M666 418h11M846 418h11M1076 418h11M1366 418h11M206 426h11M476 426h21M846 426h11M1086 426h11M1366 426h11M476 434h11M216 442h11M836 442h11M1376 442h11M216 450h11M466 450h11M836 450h11M1086 450h11M1396 450h11M836 458h11M1086 458h11M1426 458h41M1646 458h21M226 466h11M566 466h11M836 466h11M1556 466h111M536 474h11M836 474h11M1076 474h11M1656 474h21M236 482h11M296 482h41M466 482h11M496 482h21M846 482h11M1076 482h11M1656 482h21M256 490h21M296 490h41M456 490h31M846 490h31M1066 490h11M1666 490h11M336 498h11M456 498h11M476 498h11M866 498h61M1046 498h31M1666 498h11M476 506h11M966 506h111M1666 506h11M366 514h11M436 514h11M1016 514h61M1666 514h11M386 522h11M426 522h11M1036 522h51M1656 522h11M406 530h11M486 530h11M1046 530h41M1656 530h11M1056 538h41M1626 538h41M256 546h11M1066 546h51M1616 546h11M1636 546h31M496 554h11M1076 554h51M1386 554h11M1606 554h11M1646 554h21M296 562h21M1066 562h11M1126 562h11M1376 562h11M1396 562h11M1546 562h11M1596 562h11M1656 562h11M506 570h11M1066 570h11M1136 570h11M1366 570h11M1406 570h11M1506 570h31M1546 570h31M1656 570h11M536 578h21M1146 578h11M1506 578h11M556 586h11M1506 586h11M566 594h11M586 594h11M1166 594h11M1506 594h11M1666 594h11M566 602h21M746 602h21M1506 602h11M1656 602h11M1676 602h11M326 610h11M566 610h11M1216 610h11M1486 610h11M1656 610h11M316 618h11M566 618h11M1066 618h11M1096 618h31M1186 618h11M1266 618h21M1416 618h11M306 626h11M496 626h11M566 626h11M776 626h11M1136 626h11M296 634h11M1136 634h11M1256 634h11M1686 634h11M486 642h11M616 642h11M1186 642h11M1256 642h11M1456 642h21M326 650h11M616 650h11M1186 650h11M1216 650h11M1456 650h21M266 658h11M616 658h11M666 658h21M1266 658h11M1456 658h21M256 666h11M336 666h11M616 666h11M1356 666h11M1456 666h11M486 674h11M616 674h11M1056 674h11M1136 674h11M1166 674h11M1356 674h11M1456 674h11M1686 674h11M356 682h11M566 682h11M786 682h11M1056 682h11M1136 682h11M1276 682h11M1456 682h21M1656 682h11M366 690h21M1056 690h11M1136 690h11M1456 690h21M1596 690h11M386 698h11M906 698h11M1056 698h11M1076 698h11M1136 698h11M1356 698h11M1426 698h11M1546 698h11M746 706h11M776 706h11M926 706h11M1056 706h11M1356 706h11M1446 706h11M396 714h11M776 714h11M866 714h11M956 714h11M1536 714h11M1616 714h11M376 722h11M776 722h11M1066 722h11M1146 722h11M1166 722h11M1276 722h11M236 730h11M386 730h11M1146 730h11M1166 730h11M1446 730h11M1186 738h11M1206 738h11"/>
<path stroke="#2b90ef" d="M266 74h41M486 74h201M1216 74h201M1606 74h41M276 82h41M436 82h171M1296 82h171M1606 82h31M1686 82h31M236 90h61M466 90h191M1246 90h191M1616 90h51M746 98h411M626 194h21M1366 194h41M416 202h51M1536 202h51M376 210h51M1576 210h31M406 218h51M1546 218h51M576 226h11M1586 226h21M446 234h61M546 234h21M1616 234h11M456 242h21M546 242h21M1616 242h11M576 250h11M1596 250h21M566 258h11M1616 258h11M556 266h11M566 274h31M1606 274h11M576 282h41M1626 282h11M546 290h31M376 298h41M506 298h21M316 306h41M1646 306h11M296 314h11M1696 314h11M286 322h11M286 330h11M326 338h11M376 346h11M1716 346h21M416 354h11M1616 354h31M426 362h11M1486 362h11M416 370h11M796 370h11M876 370h21M1466 370h11M226 378h11M376 378h31M786 378h21M886 378h11M1476 378h11M1486 386h11M206 394h11M426 394h161M666 394h11M1466 394h11M206 402h11M436 402h31M666 402h11M866 402h61M1426 402h11M206 410h11M446 410h31M846 410h11M1036 410h11M456 418h21M466 426h11M666 426h11M836 426h11M216 434h11M466 434h11M666 434h11M836 434h11M1366 434h11M466 442h11M656 442h11M226 450h11M636 450h11M1386 450h11M226 458h11M456 458h11M606 458h11M826 458h11M1406 458h21M236 466h11M456 466h11M826 466h11M1086 466h11M1486 466h71M236 474h11M286 474h61M456 474h11M826 474h11M1086 474h11M1586 474h71M246 482h51M336 482h21M456 482h11M836 482h11M1616 482h41M336 490h21M446 490h11M486 490h11M836 490h11M1076 490h11M1626 490h41M346 498h21M446 498h11M846 498h21M1076 498h11M1636 498h31M356 506h11M436 506h11M866 506h11M936 506h31M1076 506h21M1636 506h31M376 514h11M986 514h31M1076 514h21M1636 514h31M396 522h11M486 522h11M1016 522h21M1086 522h21M1626 522h31M416 530h11M1026 530h21M1086 530h31M1616 530h41M1046 538h11M1096 538h31M1596 538h31M496 546h11M1056 546h11M1116 546h11M1576 546h41M1056 554h21M1126 554h11M1366 554h21M1396 554h21M1536 554h71M506 562h11M1136 562h11M1356 562h21M1406 562h11M1506 562h41M1556 562h41M516 570h21M1346 570h21M1496 570h11M1056 578h11M1156 578h11M1356 578h11M1496 578h11M566 586h11M586 586h31M1356 586h11M1496 586h11M576 594h11M616 594h11M716 594h11M1046 594h11M1356 594h11M1496 594h11M616 602h11M696 602h11M1046 602h11M1196 602h21M1356 602h11M1496 602h11M1666 602h11M616 610h11M696 610h11M1176 610h21M1266 610h21M1676 610h11M776 618h11M1176 618h11M1226 618h11M1256 618h11M1476 618h11M1656 618h11M316 626h11M696 626h11M1226 626h11M1256 626h11M1426 626h11M306 634h21M496 634h11M616 634h11M1226 634h11M1246 634h11M1456 634h21M296 642h11M1136 642h11M1226 642h11M1246 642h11M1306 642h11M1686 642h11M286 650h11M486 650h11M626 650h11M1136 650h11M1256 650h11M1306 650h11M1356 650h11M486 658h11M626 658h11M656 658h11M1016 658h11M1046 658h11M1136 658h11M1216 658h11M1306 658h11M1356 658h11M486 666h11M656 666h11M1006 666h11M1056 666h11M1136 666h11M1196 666h11M1266 666h11M1306 666h11M1466 666h11M1686 666h11M346 674h11M786 674h31M996 674h11M1466 674h11M496 682h11M816 682h11M1356 682h11M956 690h11M1076 690h11M1276 690h11M1356 690h11M1556 690h41M1666 690h21M236 698h11M376 698h11M576 698h11M766 698h11M1096 698h11M1276 698h11M1436 698h11M1606 698h11M386 706h11M1066 706h11M1106 706h11M1136 706h11M1276 706h11M1426 706h11M746 714h11M876 714h11M1066 714h11M1276 714h21M1446 714h11M386 722h11M746 722h11M956 722h11M1446 722h11M1536 722h11M456 730h21M746 730h11M1196 730h11M1266 730h11M1296 730h11M446 738h11M566 738h21M746 738h11M1146 738h11M1176 738h11M1216 738h11M1296 738h11"/>
<path stroke="#2699e9" d="M196 74h71M686 74h531M1646 74h91M216 82h61M606 82h201M1086 82h211M1636 82h51M1716 82h21M196 90h41M656 90h591M646 194h31M1336 194h31M466 202h31M1506 202h31M426 210h31M1546 210h31M456 218h41M1516 218h31M586 226h11M1556 226h31M566 234h11M566 242h11M586 250h21M1576 250h21M576 258h21M1606 258h11M566 266h11M1616 266h11M596 274h31M1596 274h11M616 282h31M1616 282h11M576 290h31M1636 290h11M526 298h21M1636 298h11M356 306h41M1636 306h11M306 314h21M1676 314h21M296 322h11M1726 322h11M296 330h11M336 338h11M386 346h11M1696 346h21M426 354h11M1586 354h31M436 362h11M1476 362h11M776 370h21M896 370h11M1456 370h11M236 378h21M346 378h31M406 378h21M776 378h11M896 378h11M1466 378h11M216 386h11M396 386h61M836 386h21M1476 386h11M216 394h11M406 394h21M676 394h11M1456 394h11M216 402h11M416 402h21M676 402h11M856 402h11M926 402h31M1416 402h11M216 410h11M426 410h21M676 410h11M836 410h11M1046 410h11M1376 410h11M216 418h11M436 418h21M676 418h11M836 418h11M1086 418h11M1356 418h11M216 426h11M446 426h21M1096 426h11M1356 426h11M456 434h11M1096 434h11M226 442h11M456 442h11M826 442h11M1096 442h11M1366 442h11M456 450h11M646 450h11M826 450h11M1096 450h11M1376 450h11M236 458h11M1386 458h21M246 466h11M276 466h81M446 466h11M576 466h11M816 466h11M1426 466h61M246 474h41M346 474h21M446 474h11M546 474h11M816 474h11M1536 474h51M356 482h11M446 482h11M516 482h11M826 482h11M1086 482h11M1576 482h41M356 490h11M496 490h11M826 490h11M1086 490h11M1596 490h31M366 498h11M436 498h11M486 498h11M836 498h11M1086 498h11M1606 498h31M366 506h21M486 506h11M846 506h21M876 506h61M1096 506h11M1606 506h31M386 514h11M426 514h11M486 514h11M976 514h11M1096 514h21M1596 514h41M406 522h21M1006 522h11M1106 522h11M1596 522h31M1016 530h11M1116 530h11M1576 530h41M496 538h11M1036 538h11M1126 538h11M1556 538h41M1046 546h11M1126 546h11M1336 546h81M1526 546h51M506 554h11M1326 554h41M1416 554h11M1486 554h51M1056 562h11M1326 562h31M1416 562h11M1486 562h21M536 570h11M1056 570h11M1146 570h11M1336 570h11M1416 570h11M1486 570h11M556 578h11M1346 578h11M1486 578h11M576 586h11M1046 586h11M1166 586h11M1346 586h11M706 594h11M726 594h11M686 602h11M766 602h11M1176 602h21M1216 602h11M1276 602h11M1486 602h11M1046 610h11M1226 610h11M1286 610h11M1356 610h11M1416 610h11M1666 610h11M616 618h11M696 618h11M1056 618h11M1286 618h11M1356 618h11M616 626h11M1066 626h21M1126 626h11M1176 626h11M1236 626h21M1286 626h11M1356 626h11M1436 626h41M1656 626h11M1176 634h11M1236 634h11M1286 634h31M1356 634h11M316 642h11M496 642h11M626 642h11M686 642h11M1236 642h11M1286 642h21M1356 642h11M496 650h11M636 650h11M656 650h31M786 650h11M1026 650h21M1226 650h11M1246 650h11M1286 650h21M1686 650h11M326 658h11M786 658h11M1056 658h11M1186 658h11M1256 658h11M1286 658h11M1686 658h11M626 666h11M786 666h11M1066 666h11M1206 666h11M1286 666h11M496 674h11M626 674h11M656 674h11M1066 674h11M1286 674h11M1306 674h11M656 682h11M976 682h11M1066 682h11M1166 682h11M1286 682h11M1306 682h11M566 690h11M626 690h11M1066 690h11M1086 690h11M1286 690h11M366 698h11M626 698h11M836 698h11M926 698h11M1066 698h11M1286 698h11M376 706h11M576 706h11M626 706h11M756 706h11M856 706h11M886 706h11M1286 706h11M376 714h21M576 714h11M626 714h11M1166 714h11M1426 714h11M236 722h11M366 722h11M576 722h11M626 722h11M1116 722h11M1296 722h11M1616 722h11M566 730h21M956 730h11M1116 730h11M1176 730h21M1536 730h11M356 738h11M956 738h11M1116 738h11M1426 738h11M1536 738h11"/>
<path stroke="#22a2e4" d="M196 82h21M806 82h281M676 194h31M1306 194h31M496 202h31M1486 202h21M456 210h21M1526 210h21M496 218h61M1496 218h21M596 226h11M1536 226h21M576 234h11M1606 234h11M1606 242h11M606 250h11M1556 250h21M596 258h11M1596 258h11M576 266h21M1606 266h11M626 274h21M1576 274h21M646 282h21M1606 282h11M606 290h21M1626 290h11M546 298h41M1626 298h11M396 306h81M1626 306h11M326 314h21M1666 314h11M306 322h11M1706 322h21M306 330h11M1726 330h11M346 338h11M1716 338h21M396 346h11M1686 346h11M436 354h11M1566 354h21M1466 362h11M426 370h11M756 370h21M906 370h11M1446 370h11M256 378h91M426 378h11M756 378h21M906 378h11M1456 378h11M226 386h11M386 386h11M456 386h21M646 386h41M816 386h21M856 386h31M1466 386h11M396 394h11M686 394h11M1446 394h11M406 402h11M836 402h21M956 402h21M416 410h11M1056 410h11M1366 410h11M426 418h11M1096 418h11M436 426h11M676 426h11M826 426h11M226 434h11M436 434h21M676 434h11M826 434h11M1356 434h11M446 442h11M666 442h11M236 450h11M446 450h11M816 450h11M1366 450h11M246 458h11M306 458h31M446 458h11M616 458h11M816 458h11M1096 458h11M1376 458h11M256 466h21M356 466h11M436 466h11M1096 466h11M1386 466h41M366 474h11M436 474h11M1096 474h11M1446 474h91M366 482h11M436 482h11M526 482h11M816 482h11M1096 482h11M1536 482h41M366 490h21M436 490h11M816 490h11M1096 490h11M1556 490h41M376 498h21M426 498h11M826 498h11M1096 498h11M1566 498h41M386 506h21M416 506h21M836 506h11M1106 506h11M1566 506h41M396 514h31M956 514h21M1116 514h11M1566 514h31M996 522h11M1116 522h11M1556 522h41M496 530h11M1126 530h11M1536 530h41M1026 538h11M1326 538h91M1496 538h61M1036 546h11M1136 546h11M1316 546h21M1416 546h111M1046 554h11M1136 554h11M1316 554h11M1426 554h61M516 562h11M1146 562h11M1316 562h11M1426 562h11M1466 562h21M546 570h11M1316 570h21M1476 570h11M566 578h11M1326 578h21M1416 578h11M616 586h11M1486 586h11M626 594h11M666 594h41M736 594h11M1176 594h11M1276 594h21M1346 594h11M1486 594h11M626 602h11M666 602h21M1266 602h11M1286 602h11M1416 602h11M776 610h11M1256 610h11M1296 610h11M1476 610h11M1236 618h21M1296 618h11M1676 618h11M1086 626h11M1296 626h21M626 634h11M786 634h11M1066 634h21M1656 634h11M306 642h11M636 642h11M656 642h11M786 642h11M1066 642h11M1176 642h11M296 650h11M646 650h11M1046 650h31M1176 650h11M1236 650h11M276 658h11M496 658h11M636 658h11M1066 658h11M1246 658h11M1296 658h11M496 666h11M796 666h21M1186 666h11M1196 674h11M1266 674h11M246 682h11M626 682h11M966 682h11M1076 682h11M656 690h11M826 690h11M1126 690h11M1166 690h11M1306 690h11M566 698h11M946 698h11M1106 698h11M1126 698h11M1166 698h11M1306 698h11M236 706h11M366 706h11M566 706h11M766 706h11M1166 706h11M1436 706h11M236 714h11M366 714h11M566 714h11M1116 714h11M1136 714h11M1296 714h11M566 722h11M1176 722h11M1426 722h11M626 730h11M1206 730h11M1426 730h11M466 738h11M626 738h11M766 738h11M1226 738h11M1436 738h11"/>
<path stroke="#1caadf" d="M706 194h31M1266 194h41M526 202h31M1456 202h31M476 210h21M1506 210h21M556 218h21M1476 218h21M606 226h11M1516 226h21M1596 234h11M576 242h11M1596 242h11M616 250h21M1546 250h11M606 258h21M1576 258h21M596 266h11M1596 266h11M646 274h21M1556 274h21M666 282h21M1596 282h11M626 290h21M586 298h31M1616 298h11M476 306h21M1616 306h11M346 314h21M1656 314h11M316 322h11M1696 322h11M316 330h11M1706 330h21M356 338h11M1706 338h11M406 346h11M1676 346h11M1546 354h21M446 362h11M1456 362h11M736 370h21M916 370h11M1436 370h11M706 378h51M916 378h11M1446 378h11M236 386h11M366 386h21M476 386h11M626 386h21M686 386h21M796 386h21M886 386h11M1456 386h11M226 394h11M386 394h11M696 394h11M836 394h41M226 402h11M396 402h11M686 402h11M826 402h11M976 402h11M1406 402h11M226 410h11M406 410h11M686 410h11M826 410h11M226 418h11M416 418h11M686 418h11M826 418h11M1346 418h11M226 426h11M416 426h21M1106 426h11M1346 426h11M426 434h11M1106 434h11M236 442h11M426 442h21M676 442h11M816 442h11M1356 442h11M246 450h11M426 450h21M656 450h11M256 458h51M336 458h41M426 458h21M626 458h11M806 458h11M1366 458h11M366 466h31M416 466h21M586 466h11M806 466h11M1376 466h11M376 474h21M416 474h21M556 474h11M806 474h11M1386 474h61M376 482h61M806 482h11M1396 482h141M386 490h51M506 490h11M1486 490h71M396 498h31M496 498h11M816 498h11M1106 498h11M1506 498h61M406 506h11M826 506h11M1116 506h11M1516 506h51M846 514h51M936 514h21M1506 514h61M496 522h11M986 522h11M1126 522h11M1356 522h71M1486 522h71M1006 530h11M1136 530h11M1326 530h211M1016 538h11M1136 538h11M1316 538h11M1416 538h81M506 546h11M1306 546h11M516 554h11M1036 554h11M1146 554h11M1306 554h11M526 562h11M1046 562h11M1306 562h11M1436 562h31M556 570h11M1156 570h11M1306 570h11M1466 570h11M576 578h21M1046 578h11M1166 578h11M1306 578h21M1476 578h11M626 586h11M1286 586h31M1336 586h11M1416 586h11M636 594h31M746 594h11M1036 594h11M1186 594h31M1266 594h11M1296 594h11M1416 594h11M656 602h11M1036 602h11M1226 602h11M1256 602h11M1296 602h11M1476 602h11M626 610h11M686 610h11M1236 610h21M1306 610h11M1306 618h11M1426 618h11M1466 618h11M1666 618h11M626 626h11M786 626h11M1096 626h11M1116 626h11M686 634h11M1126 634h11M646 642h11M666 642h21M1046 642h21M1126 642h11M1656 642h11M316 650h11M646 658h11M1176 658h11M1226 658h21M636 666h11M1216 666h11M1256 666h11M1296 666h11M1076 674h11M1126 674h11M1186 674h11M1296 674h11M1656 674h11M956 682h11M1126 682h11M1266 682h11M1676 682h11M356 690h11M946 690h11M1096 690h11M656 698h11M896 698h11M936 698h11M1596 698h11M656 706h11M936 706h21M1116 706h21M1296 706h21M1546 706h11M1606 706h11M766 714h11M936 714h11M1306 714h11M1436 714h11M1136 722h11M1186 722h21M1266 722h11M1306 722h11M1436 722h11M1306 730h11M1436 730h11M1616 730h11M456 738h11M656 738h11M1306 738h11M1346 738h11M1616 738h11"/>
<path stroke="#12b1d6" d="M736 194h31M1236 194h31M556 202h31M1446 202h11M496 210h21M1486 210h21M576 218h11M1456 218h21M616 226h11M1496 226h21M586 234h11M1576 234h21M586 242h11M1576 242h21M636 250h21M1526 250h21M626 258h21M1566 258h11M606 266h21M1576 266h21M666 274h11M1546 274h11M686 282h11M1576 282h21M646 290h11M1616 290h11M616 298h31M1606 298h11M496 306h11M1606 306h11M366 314h21M1646 314h11M326 322h21M1686 322h11M326 330h11M1696 330h11M366 338h11M1696 338h11M1666 346h11M446 354h11M1536 354h11M1446 362h11M436 370h11M716 370h21M926 370h21M1426 370h11M436 378h11M686 378h21M926 378h21M1436 378h11M246 386h21M356 386h11M486 386h21M606 386h21M706 386h21M776 386h21M896 386h21M236 394h11M376 394h11M706 394h11M816 394h21M876 394h31M1436 394h11M696 402h11M816 402h11M986 402h11M1396 402h11M396 410h11M816 410h11M1066 410h11M1356 410h11M406 418h11M816 418h11M406 426h11M686 426h11M816 426h11M236 434h11M406 434h21M686 434h11M816 434h11M1346 434h11M406 442h21M1106 442h11M256 450h11M386 450h41M666 450h11M806 450h11M1106 450h11M1356 450h11M376 458h51M1106 458h11M396 466h21M796 466h11M1366 466h11M396 474h21M796 474h11M1366 474h21M536 482h11M796 482h11M1106 482h11M1376 482h21M516 490h11M806 490h11M1106 490h11M1376 490h111M1116 498h11M1366 498h141M496 506h11M816 506h11M1356 506h161M496 514h11M826 514h21M896 514h41M1126 514h11M1346 514h161M976 522h11M1136 522h11M1326 522h31M1426 522h61M996 530h11M1316 530h11M506 538h11M1306 538h11M1026 546h11M1146 546h11M536 562h11M1296 562h11M1046 570h11M1296 570h11M1426 570h11M1456 570h11M596 578h21M1286 578h21M1466 578h11M636 586h11M1176 586h11M1276 586h11M1316 586h21M1476 586h11M756 594h11M1216 594h11M1306 594h21M1476 594h11M636 602h21M776 602h11M1306 602h11M1346 602h11M656 610h31M1036 610h11M626 618h11M686 618h11M786 618h11M1046 618h11M1446 618h21M686 626h11M1056 626h11M1106 626h11M1676 626h11M636 634h31M1056 634h11M1086 634h11M1026 642h21M1076 642h11M306 650h11M1016 650h11M1076 650h11M1126 650h11M1656 650h11M286 658h11M796 658h21M1006 658h11M1076 658h11M1126 658h11M266 666h11M1076 666h11M1126 666h11M1176 666h11M256 674h11M816 674h11M986 674h11M1206 674h11M1086 682h11M1196 682h11M1296 682h11M1666 682h11M916 690h21M1266 690h11M1296 690h11M1116 698h11M1296 698h11M866 706h11M656 714h11M756 714h11M946 714h11M1126 714h11M1176 714h21M1266 714h11M656 722h11M766 722h11M936 722h11M1126 722h11M656 730h11M766 730h11M936 730h11M1136 730h11M1216 730h11M1346 730h11M246 738h11M756 738h11M936 738h11M1136 738h11M1256 738h11"/>
<path stroke="#02b7cb" d="M766 194h41M1196 194h41M586 202h21M1426 202h21M516 210h41M1466 210h21M586 218h11M1436 218h21M626 226h21M1476 226h21M596 234h11M1566 234h11M596 242h11M1566 242h11M656 250h11M1516 250h11M646 258h11M1546 258h21M626 266h11M1566 266h11M676 274h21M1526 274h21M696 282h21M1566 282h11M656 290h21M1606 290h11M646 298h21M1596 298h11M506 306h11M1586 306h21M386 314h21M1636 314h11M346 322h11M1676 322h11M336 330h11M1686 330h11M376 338h11M1686 338h11M416 346h11M1646 346h21M456 354h11M1516 354h21M456 362h11M816 362h41M1436 362h11M446 370h11M706 370h11M946 370h11M1416 370h11M446 378h11M676 378h11M946 378h11M1426 378h11M266 386h21M346 386h11M506 386h21M586 386h21M726 386h51M916 386h11M1446 386h11M246 394h11M716 394h11M806 394h11M906 394h21M1426 394h11M236 402h11M386 402h11M706 402h11M806 402h11M996 402h11M1386 402h11M236 410h11M696 410h11M806 410h11M1076 410h11M236 418h11M396 418h11M696 418h11M1106 418h11M1336 418h11M236 426h11M396 426h11M696 426h11M1336 426h11M396 434h11M806 434h11M246 442h11M386 442h21M686 442h11M806 442h11M1346 442h11M266 450h121M676 450h11M796 450h11M636 458h21M796 458h11M1356 458h11M596 466h11M786 466h11M1106 466h11M1356 466h11M566 474h11M786 474h11M1106 474h11M1356 474h11M1356 482h21M1116 490h11M1356 490h21M506 498h11M806 498h11M1356 498h11M1126 506h11M1346 506h11M1136 514h11M1326 514h21M966 522h11M1316 522h11M986 530h11M1146 530h11M1306 530h11M1006 538h11M1146 538h11M516 546h11M1296 546h11M526 554h11M1296 554h11M546 562h11M1036 562h11M1156 562h11M566 570h11M1166 570h11M1286 570h11M1436 570h21M616 578h11M1276 578h11M1426 578h11M646 586h41M1036 586h11M1186 586h11M1266 586h11M1226 594h11M1256 594h11M1336 594h11M1236 602h21M1316 602h11M636 610h21M786 610h11M1426 610h11M1466 610h11M636 618h51M1436 618h11M636 626h51M1666 626h11M666 634h21M1046 634h11M1116 634h11M1676 634h11M796 650h11M1656 658h11M646 666h11M816 666h11M996 666h11M1226 666h11M1246 666h11M1656 666h11M336 674h11M636 674h11M1176 674h11M1216 674h11M346 682h11M946 682h11M1186 682h11M936 690h11M1106 690h21M846 698h11M1266 698h11M1556 698h11M876 706h11M1176 706h11M1266 706h11M1196 714h11M1606 714h11M756 722h11M946 722h11M1206 722h11M356 730h11M756 730h11M1126 730h11M1226 730h11M946 738h11M1126 738h11"/>
<path stroke="#07bcbf" d="M806 194h41M1156 194h41M606 202h11M1406 202h21M556 210h21M1456 210h11M596 218h11M1426 218h11M646 226h11M1456 226h21M606 234h11M1546 234h21M606 242h11M1546 242h21M666 250h11M1496 250h21M656 258h11M1536 258h11M636 266h21M1556 266h11M696 274h11M1516 274h11M716 282h11M1546 282h21M676 290h11M1596 290h11M666 298h21M1586 298h11M516 306h21M1576 306h11M406 314h31M1616 314h21M356 322h11M1656 322h21M346 330h11M1676 330h11M386 338h11M1676 338h11M426 346h11M1626 346h21M466 354h11M1506 354h11M466 362h11M776 362h41M856 362h31M1426 362h11M696 370h11M956 370h11M1406 370h11M456 378h11M666 378h11M956 378h11M1416 378h11M286 386h61M526 386h61M926 386h11M1436 386h11M256 394h11M366 394h11M726 394h21M776 394h31M926 394h11M1416 394h11M246 402h11M376 402h11M716 402h11M796 402h11M1006 402h11M386 410h11M706 410h11M796 410h11M1346 410h11M386 418h11M706 418h11M806 418h11M246 426h11M386 426h11M806 426h11M1116 426h11M246 434h11M386 434h11M696 434h11M796 434h11M1116 434h11M1336 434h11M256 442h21M366 442h21M696 442h11M796 442h11M1116 442h11M686 450h11M786 450h11M1346 450h11M656 458h11M776 458h21M1346 458h11M606 466h11M776 466h11M546 482h11M786 482h11M1116 482h11M526 490h11M796 490h11M1346 490h11M1126 498h11M1346 498h11M506 506h11M806 506h11M1336 506h11M506 514h11M816 514h11M1316 514h11M506 522h11M956 522h11M1146 522h11M1306 522h11M506 530h11M1296 538h11M1016 546h11M536 554h11M1026 554h11M1156 554h11M1286 562h11M576 570h11M1036 570h11M1036 578h11M1176 578h11M1456 578h11M686 586h21M1196 586h21M1466 586h11M766 594h11M1236 594h21M1326 594h11M1466 594h11M786 602h11M1466 602h11M1316 610h11M1346 610h11M1456 610h11M1036 618h11M1316 618h11M1046 626h11M1036 634h11M1096 634h11M1666 634h11M796 642h11M1086 642h11M1676 642h11M806 650h11M296 658h11M316 658h11M816 658h11M326 666h11M1236 666h11M976 674h11M1086 674h11M1256 674h11M1676 674h11M636 682h11M1096 682h11M1116 682h11M1176 682h11M1206 682h11M246 690h11M906 690h11M1176 690h31M356 698h11M1176 698h31M1586 698h11M1186 706h21M1346 722h11M946 730h11M1236 738h11M1606 738h11"/>
<path stroke="#1dc0b3" d="M846 194h71M1086 194h71M616 202h11M1386 202h21M576 210h21M1436 210h21M606 218h11M1406 218h21M656 226h21M1446 226h11M616 234h21M1536 234h11M616 242h21M1536 242h11M676 250h21M1486 250h11M666 258h21M1516 258h21M656 266h11M1536 266h21M706 274h21M1506 274h11M726 282h11M1536 282h11M686 290h21M1586 290h11M686 298h21M1576 298h11M536 306h51M1556 306h21M436 314h21M1606 314h11M366 322h11M1646 322h11M356 330h11M1666 330h11M396 338h11M1666 338h11M436 346h11M1606 346h21M1496 354h11M746 362h31M886 362h11M1416 362h11M456 370h11M686 370h11M966 370h11M1396 370h11M466 378h11M656 378h11M966 378h11M1406 378h11M936 386h11M1426 386h11M266 394h11M346 394h21M746 394h31M936 394h21M256 402h11M366 402h11M726 402h21M766 402h31M1016 402h11M1376 402h11M246 410h11M376 410h11M716 410h11M786 410h11M1086 410h11M246 418h11M376 418h11M716 418h11M786 418h21M1116 418h11M1326 418h11M376 426h11M706 426h11M786 426h21M1326 426h11M256 434h11M366 434h21M706 434h11M786 434h11M276 442h91M706 442h21M776 442h21M1336 442h11M696 450h21M766 450h21M1116 450h11M666 458h21M766 458h11M1116 458h11M766 466h11M1116 466h11M1346 466h11M576 474h11M776 474h11M1116 474h11M1346 474h11M1346 482h11M786 490h11M1126 490h11M1336 490h11M516 498h11M796 498h11M1336 498h11M1136 506h11M1326 506h11M1146 514h11M836 522h41M936 522h21M976 530h11M1296 530h11M516 538h11M996 538h11M1156 538h11M526 546h11M1156 546h11M1286 546h11M1286 554h11M556 562h11M1166 562h11M586 570h11M1276 570h11M626 578h11M1266 578h11M1436 578h21M706 586h31M1216 586h11M1256 586h11M1426 586h11M1456 586h11M776 594h11M1026 594h11M1426 594h11M1026 602h11M1336 602h11M1426 602h11M1456 602h11M1436 610h21M1346 618h11M1036 626h11M1316 626h11M796 634h11M1026 634h11M1106 634h11M1316 634h11M1016 642h11M1116 642h11M1316 642h11M816 650h11M1086 650h11M1316 650h11M1676 650h11M1676 658h11M276 666h11M1086 666h11M1676 666h11M646 674h11M956 674h21M1666 674h11M936 682h11M636 690h11M1566 698h11M1206 714h11M1546 714h11M356 722h11M1216 722h11M1606 722h11M1256 730h11M1606 730h11M1246 738h11M1316 738h11M1546 738h11"/>
<path stroke="#2dc4a6" d="M916 194h171M626 202h21M1366 202h21M596 210h11M1416 210h21M616 218h21M1386 218h21M676 226h11M1426 226h21M636 234h11M1516 234h21M636 242h11M1516 242h21M696 250h11M1476 250h11M686 258h11M1506 258h11M666 266h11M1526 266h11M726 274h11M1486 274h21M736 282h21M1516 282h21M706 290h11M1566 290h21M706 298h21M1556 298h21M586 306h101M1546 306h11M456 314h21M1586 314h21M376 322h21M1636 322h11M366 330h21M1656 330h11M406 338h11M1646 338h21M446 346h11M1586 346h21M476 354h11M1476 354h21M476 362h11M716 362h31M896 362h21M1406 362h11M676 370h11M976 370h11M1386 370h11M646 378h11M976 378h11M1396 378h11M946 386h21M1416 386h11M276 394h71M956 394h11M1406 394h11M266 402h11M356 402h11M746 402h21M1026 402h11M256 410h11M366 410h11M726 410h61M1096 410h11M1336 410h11M256 418h11M366 418h11M726 418h61M256 426h11M366 426h11M716 426h71M1126 426h11M266 434h11M356 434h11M716 434h71M1326 434h11M726 442h51M716 450h51M1336 450h11M686 458h81M1336 458h11M616 466h11M756 466h11M1336 466h11M766 474h11M1336 474h11M556 482h11M776 482h11M1126 482h11M1336 482h11M536 490h11M1136 498h11M1326 498h11M516 506h11M796 506h11M1146 506h11M1316 506h11M806 514h11M1306 514h11M826 522h11M876 522h61M1296 522h11M516 530h11M966 530h11M1156 530h11M1286 538h11M1006 546h11M546 554h11M1016 554h11M1166 554h11M566 562h11M1026 562h11M1276 562h11M596 570h11M1176 570h11M636 578h11M1186 578h11M1226 586h11M1246 586h11M1436 586h21M1456 594h11M1326 602h11M1446 602h11M1026 610h11M796 618h11M796 626h11M1346 626h11M806 642h11M1096 642h11M1666 642h11M1006 650h11M1116 650h11M306 658h11M1086 658h11M1116 658h11M1316 658h11M1116 666h11M1316 666h11M1096 674h11M1116 674h11M1226 674h11M1246 674h11M826 682h11M1106 682h11M1216 682h11M836 690h11M1206 690h11M636 698h11M1576 698h11M356 706h11M1206 706h11M1596 706h11M1346 714h11M1226 722h11M246 730h11M1316 730h11M1596 738h11"/>
<path stroke="#37c897" d="M646 202h11M1346 202h21M606 210h11M1396 210h21M636 218h11M1376 218h11M686 226h21M1416 226h11M646 234h21M1506 234h11M646 242h21M1506 242h11M706 250h11M1456 250h21M696 258h21M1486 258h21M676 266h21M1506 266h21M736 274h11M1476 274h11M756 282h11M1506 282h11M716 290h11M1556 290h11M726 298h11M1546 298h11M686 306h61M1536 306h11M476 314h11M1576 314h11M396 322h11M1616 322h21M386 330h11M1636 330h21M416 338h11M1626 338h21M456 346h11M1576 346h11M486 354h11M1466 354h11M486 362h11M696 362h21M916 362h11M1396 362h11M466 370h11M666 370h11M986 370h11M1376 370h11M476 378h11M636 378h11M986 378h21M1386 378h11M966 386h11M1406 386h11M966 394h21M1396 394h11M276 402h11M336 402h21M1036 402h11M1366 402h11M266 410h11M356 410h11M266 418h11M356 418h11M1126 418h11M1316 418h11M266 426h11M346 426h21M276 434h81M1126 434h11M1126 442h11M1326 442h11M1126 450h11M626 466h11M736 466h21M1126 466h11M586 474h11M756 474h11M1126 474h11M766 482h11M1326 482h11M776 490h11M1136 490h11M1326 490h11M526 498h11M786 498h11M1316 498h11M1306 506h11M516 514h11M1156 514h11M1296 514h11M516 522h11M816 522h11M1156 522h11M1286 530h11M526 538h11M986 538h11M536 546h11M1166 546h11M1276 554h11M606 570h11M1026 570h11M1266 570h11M646 578h21M1196 578h11M1256 578h11M736 586h11M1026 586h11M1236 586h11M786 594h11M1436 594h21M1436 602h11M796 610h11M1026 618h11M1026 626h11M1346 634h11M1106 642h11M1096 650h11M1666 650h11M996 658h11M1666 658h11M286 666h11M986 666h11M1666 666h11M946 674h11M1106 674h11M1236 674h11M1316 674h11M646 682h11M926 682h11M1256 682h11M1216 690h11M246 698h11M886 698h11M1206 698h11M636 706h11M1346 706h11M356 714h11M1216 714h11M1316 722h11M1546 722h11M1236 730h11M1546 730h11M346 738h11"/>
<path stroke="#48cb86" d="M656 202h31M1316 202h31M616 210h11M1376 210h21M646 218h21M1356 218h21M706 226h11M1396 226h21M666 234h11M1486 234h21M666 242h11M1486 242h21M716 250h21M1446 250h11M716 258h11M1476 258h11M696 266h11M1496 266h11M746 274h21M1466 274h11M766 282h11M1496 282h11M726 290h21M1546 290h11M736 298h21M1536 298h11M746 306h41M1516 306h21M486 314h11M1556 314h21M406 322h21M1596 322h21M396 330h11M1616 330h21M426 338h11M1606 338h21M1556 346h21M496 354h11M1456 354h11M676 362h21M926 362h11M1386 362h11M476 370h11M656 370h11M996 370h11M1366 370h11M486 378h11M626 378h11M1006 378h11M1376 378h11M976 386h11M1396 386h11M986 394h11M1386 394h11M286 402h51M1046 402h11M1356 402h11M276 410h81M1106 410h11M1326 410h11M276 418h81M276 426h71M1136 426h11M1316 426h11M1326 450h11M1126 458h11M1326 458h11M636 466h21M716 466h21M1326 466h11M746 474h11M1326 474h11M566 482h11M1136 482h11M546 490h11M1316 490h11M1146 498h11M1306 498h11M526 506h11M786 506h11M1156 506h11M1296 506h11M796 514h11M806 522h11M1286 522h11M526 530h11M956 530h11M1166 530h11M1166 538h11M1276 538h11M996 546h11M1276 546h11M556 554h11M576 562h11M1016 562h11M1176 562h11M1266 562h11M616 570h11M1186 570h11M666 578h11M1026 578h11M1206 578h21M1246 578h11M746 586h21M796 602h11M1326 610h21M806 634h11M1016 634h11M816 642h11M1346 642h11M826 650h11M1106 650h11M1346 650h11M1096 658h21M1096 666h21M266 674h11M256 682h11M916 682h11M1226 682h11M1316 682h11M346 690h11M1316 690h11M856 698h11M1216 698h11M1316 698h11M1346 698h11M1216 706h11M1316 706h11M1556 706h11M636 714h11M1226 714h11M1316 714h11M246 722h11M636 722h11M1256 722h11M636 730h11M1246 730h11M636 738h11"/>
<path stroke="#5fcd73" d="M686 202h31M1286 202h31M626 210h21M1356 210h21M666 218h31M1336 218h21M716 226h21M1376 226h21M676 234h21M1466 234h21M676 242h21M1466 242h21M736 250h11M1436 250h11M726 258h21M1456 258h21M706 266h21M1476 266h21M766 274h11M1456 274h11M776 282h21M1476 282h21M746 290h11M1526 290h21M756 298h21M1526 298h11M786 306h21M1506 306h11M496 314h11M1536 314h21M426 322h21M1586 322h11M406 330h11M1606 330h11M1596 338h11M466 346h11M1546 346h11M506 354h11M1446 354h11M496 362h11M666 362h11M936 362h21M1376 362h11M486 370h11M646 370h11M1006 370h11M1346 370h21M496 378h11M616 378h11M1016 378h11M1366 378h11M986 386h11M1386 386h11M996 394h11M1056 402h11M1116 410h11M1136 418h11M1306 418h11M1136 434h11M1316 434h11M1316 442h11M656 466h61M596 474h11M736 474h11M1136 474h11M756 482h11M1316 482h11M766 490h11M1146 490h11M1306 490h11M536 498h11M776 498h11M526 514h11M1286 514h11M526 522h11M1166 522h11M946 530h11M1276 530h11M536 538h11M976 538h11M546 546h11M1006 554h11M1176 554h11M1266 554h11M586 562h11M1196 570h11M1256 570h11M676 578h11M1226 578h21M766 586h11M1016 594h11M1016 602h11M1326 618h11M806 626h11M1006 642h11M826 658h11M1346 658h11M296 666h11M316 666h11M826 666h11M966 666h21M1346 666h11M826 674h11M936 674h11M1346 674h11M336 682h11M1236 682h21M1346 682h11M646 690h11M896 690h11M1226 690h11M1256 690h11M1346 690h11M1226 698h11M246 706h11M1226 706h11M246 714h11M1256 714h11M1596 714h11M1236 722h11M1596 730h11M1336 738h11"/>
<path stroke="#78cc5f" d="M716 202h41M1246 202h41M646 210h31M1326 210h31M696 218h31M1316 218h21M736 226h11M1356 226h21M696 234h21M1446 234h21M696 242h21M1446 242h21M746 250h21M1416 250h21M746 258h11M1446 258h11M726 266h21M1466 266h11M776 274h21M1436 274h21M796 282h11M1456 282h21M756 290h21M1516 290h11M776 298h11M1506 298h21M806 306h21M1486 306h21M506 314h21M1526 314h11M446 322h11M1566 322h21M416 330h21M1586 330h21M436 338h11M1576 338h21M476 346h11M1526 346h21M516 354h11M1426 354h21M506 362h11M646 362h21M956 362h11M1356 362h21M636 370h11M1016 370h11M1336 370h11M506 378h21M596 378h21M1026 378h11M1356 378h11M996 386h21M1376 386h11M1006 394h21M1376 394h11M1066 402h11M1346 402h11M1316 410h11M1146 418h11M1146 426h11M1306 426h11M1136 442h11M1136 450h11M1316 450h11M1136 458h11M1316 458h11M1136 466h11M1316 466h11M606 474h11M726 474h11M1316 474h11M576 482h11M746 482h11M1146 482h11M1306 482h11M556 490h11M1156 498h11M1296 498h11M1166 506h11M1286 506h11M786 514h11M1166 514h11M1276 514h11M796 522h11M1276 522h11M926 530h21M966 538h11M1176 538h11M1266 538h11M986 546h11M1176 546h11M1266 546h11M566 554h11M596 562h11M1186 562h11M1256 562h11M626 570h11M1016 570h11M1206 570h11M1246 570h11M686 578h11M1016 586h11M796 594h11M1016 610h11M1336 618h11M1016 626h11M816 634h11M826 642h11M306 666h11M946 666h21M326 674h11M876 698h11M1256 698h11M1256 706h11M1586 706h11M1246 722h11M1596 722h11M346 730h11M646 738h11M1326 738h11M1556 738h11"/>
<path stroke="#92ca4b" d="M756 202h91M1156 202h91M676 210h41M1286 210h41M726 218h41M1286 218h31M746 226h21M1336 226h21M716 234h21M1426 234h21M716 242h21M1426 242h21M766 250h11M1406 250h11M756 258h21M1426 258h21M746 266h21M1446 266h21M796 274h11M1426 274h11M806 282h21M1446 282h11M776 290h21M1496 290h21M786 298h21M1496 298h11M826 306h21M1476 306h11M526 314h31M1506 314h21M456 322h21M1556 322h11M436 330h11M1576 330h11M446 338h11M1566 338h11M486 346h11M1506 346h21M526 354h11M756 354h121M1416 354h11M516 362h11M636 362h11M966 362h11M1346 362h11M496 370h21M626 370h11M1026 370h11M1326 370h11M526 378h71M1036 378h11M1336 378h21M1016 386h11M1366 386h11M1026 394h11M1366 394h11M1076 402h11M1336 402h11M1126 410h11M1306 410h11M1296 418h11M1296 426h11M1146 434h11M1306 434h11M1306 442h11M616 474h11M716 474h11M1146 474h11M1306 474h11M756 490h11M1156 490h11M1296 490h11M546 498h11M766 498h11M1166 498h11M1286 498h11M536 506h11M776 506h11M1276 506h11M536 514h11M1176 514h11M536 522h11M1176 522h11M536 530h11M816 530h71M906 530h21M1176 530h11M1266 530h11M546 538h11M556 546h11M576 554h11M996 554h11M1186 554h11M1256 554h11M1006 562h11M1196 562h11M1246 562h11M636 570h11M1216 570h31M696 578h21M1016 578h11M776 586h11M806 610h11M806 618h11M1016 618h11M1326 626h21M1006 634h11M996 650h11M986 658h11M276 674h11M926 674h11M906 682h11M846 690h11M1236 690h21M346 698h11M646 698h11M866 698h11M1566 706h11M1236 714h11M646 722h11M646 730h11"/>
<path stroke="#abc739" d="M846 202h311M716 210h251M1116 210h171M766 218h41M1256 218h31M766 226h21M1316 226h21M736 234h21M1396 234h31M736 242h31M1406 242h21M776 250h21M1386 250h21M776 258h21M1396 258h31M766 266h21M1416 266h31M806 274h21M1406 274h21M826 282h11M1426 282h21M796 290h21M1476 290h21M806 298h21M1476 298h21M846 306h21M1466 306h11M556 314h51M726 314h101M1486 314h21M476 322h11M1536 322h21M446 330h11M1556 330h21M456 338h11M1546 338h21M496 346h11M1496 346h11M536 354h11M696 354h61M876 354h21M1406 354h11M526 362h21M616 362h21M976 362h11M1336 362h11M516 370h21M606 370h21M1036 370h11M1316 370h11M1046 378h21M1326 378h11M1026 386h21M1356 386h11M1036 394h11M1356 394h11M1086 402h21M1326 402h11M1136 410h11M1156 418h11M1156 426h11M1296 434h11M1146 442h11M1146 450h11M1306 450h11M1146 458h11M1306 458h11M1146 466h11M1306 466h11M626 474h11M696 474h21M586 482h11M736 482h11M1156 482h11M1296 482h11M566 490h11M1166 490h11M1286 490h11M1276 498h11M1176 506h11M776 514h11M1266 514h11M786 522h11M1266 522h11M806 530h11M886 530h21M956 538h11M1186 538h11M1256 538h11M976 546h11M1186 546h11M1256 546h11M1196 554h11M1246 554h11M606 562h11M1206 562h11M1236 562h11M646 570h21M716 578h21M786 586h11M1006 594h11M806 602h11M1006 602h11M816 626h11M1326 634h11M836 650h11M936 666h11M916 674h11M836 682h11M256 690h11M1236 698h21M646 706h11M1236 706h21M1576 706h11M646 714h11M1246 714h11M1556 714h11M346 722h11M1336 730h11M256 738h11M1586 738h11"/>
<path stroke="#c3c22b" d="M966 210h151M806 218h71M1206 218h51M786 226h31M1286 226h31M756 234h41M1366 234h31M766 242h31M1376 242h31M796 250h21M1366 250h21M796 258h31M1376 258h21M786 266h31M1386 266h31M826 274h21M1386 274h21M836 282h21M1406 282h21M816 290h31M1456 290h21M826 298h21M1466 298h11M866 306h21M1446 306h21M606 314h121M826 314h41M1466 314h21M486 322h11M1516 322h21M456 330h11M1536 330h21M466 338h21M1526 338h21M506 346h21M1476 346h21M546 354h31M636 354h61M896 354h21M1386 354h21M546 362h71M986 362h11M1326 362h11M536 370h71M1046 370h11M1296 370h21M1066 378h11M1316 378h11M1046 386h11M1346 386h11M1046 394h21M1346 394h11M1106 402h11M1146 410h11M1296 410h11M1166 418h11M1286 418h11M1286 426h11M1156 434h11M1156 442h11M1296 442h11M1296 450h11M1296 458h11M1156 466h11M1296 466h11M636 474h61M1156 474h11M1296 474h11M596 482h11M726 482h11M1166 482h11M1286 482h11M746 490h11M1276 490h11M556 498h11M756 498h11M1176 498h11M546 506h11M766 506h11M1266 506h11M1186 514h11M1186 522h11M1256 522h11M546 530h11M796 530h11M1186 530h11M1256 530h11M556 538h11M946 538h11M566 546h11M1196 546h11M1246 546h11M586 554h11M986 554h11M1206 554h41M616 562h11M996 562h11M1216 562h21M666 570h11M1006 570h11M736 578h11M1006 578h11M1006 586h11M1006 610h11M1006 626h11M826 634h11M1336 634h11M836 642h11M996 642h11M1326 642h11M836 658h11M956 658h31M926 666h11M286 674h11M266 682h11M886 690h11M346 706h11M346 714h11M1326 730h11M1556 730h11M336 738h11"/>
<path stroke="#d8be28" d="M876 218h141M1096 218h111M816 226h21M1256 226h31M796 234h51M1306 234h61M796 242h51M1326 242h51M816 250h21M1346 250h21M826 258h31M1336 258h41M816 266h61M1336 266h51M846 274h21M1366 274h21M856 282h31M1376 282h31M846 290h31M1426 290h31M846 298h31M1446 298h21M886 306h21M1426 306h21M866 314h31M1446 314h21M496 322h21M1496 322h21M466 330h21M1516 330h21M486 338h11M1506 338h21M526 346h21M1456 346h21M576 354h61M916 354h21M1376 354h11M996 362h21M1306 362h21M1056 370h21M1286 370h11M1076 378h21M1296 378h21M1056 386h21M1326 386h21M1066 394h11M1336 394h11M1116 402h11M1316 402h11M1156 410h11M1286 410h11M1176 418h11M1276 418h11M1166 426h11M1276 426h11M1166 434h11M1286 434h11M1286 442h11M1156 450h11M1156 458h11M1166 474h11M1286 474h11M716 482h11M1276 482h11M576 490h11M736 490h11M1176 490h11M1186 498h11M1266 498h11M1186 506h11M1256 506h11M546 514h11M766 514h11M1196 514h11M1256 514h11M546 522h11M776 522h11M1196 522h11M1246 522h11M786 530h11M1196 530h11M1246 530h11M936 538h11M1196 538h21M1236 538h21M576 546h11M966 546h11M1206 546h41M596 554h11M626 562h11M676 570h11M746 578h21M796 586h11M806 594h11M996 602h11M816 618h11M1006 618h11M1336 642h11M986 650h11M946 658h11M296 674h11M316 674h11M836 674h11M896 682h11M336 690h11M1586 714h11M1336 722h11M1556 722h11M1566 738h11"/>
<path stroke="#eaba31" d="M1016 218h81M836 226h41M1216 226h41M846 234h461M846 242h111M1236 242h91M836 250h21M1326 250h21M856 258h51M1286 258h51M876 266h461M866 274h31M1336 274h31M886 282h31M1346 282h31M876 290h61M1386 290h41M876 298h31M1416 298h31M906 306h21M1406 306h21M896 314h31M1426 314h21M516 322h31M1476 322h21M486 330h21M1496 330h21M496 338h21M1486 338h21M546 346h21M1446 346h11M936 354h21M1356 354h21M1016 362h11M1296 362h11M1076 370h11M1266 370h21M1096 378h11M1276 378h21M1076 386h21M1316 386h11M1076 394h21M1326 394h11M1126 402h11M1306 402h11M1166 410h11M1276 410h11M1186 418h11M1256 418h21M1176 426h21M1266 426h11M1176 434h11M1276 434h11M1166 442h11M1166 450h11M1286 450h11M1166 458h11M1286 458h11M1166 466h11M1286 466h11M1176 474h11M1276 474h11M606 482h21M706 482h11M1176 482h21M1266 482h11M586 490h11M1186 490h11M1256 490h21M566 498h11M746 498h11M1196 498h11M1246 498h21M556 506h11M756 506h11M1196 506h21M1246 506h11M1206 514h11M1236 514h21M766 522h11M1206 522h41M556 530h11M1206 530h41M566 538h11M916 538h21M1216 538h21M956 546h11M606 554h11M976 554h11M636 562h11M986 562h11M686 570h21M996 570h11M766 578h21M996 578h11M996 586h11M996 594h11M816 602h11M816 610h11M996 610h11M826 626h11M836 634h11M996 634h11M986 642h11M956 650h31M1326 650h21M936 658h11M836 666h11M916 666h11M306 674h11M906 674h11M326 682h11M856 690h11M256 698h11M1336 714h11M1566 714h11M1326 722h11M256 730h11M1586 730h11M1576 738h11"/>
<path stroke="#f9bb3d" d="M876 226h61M1156 226h61M956 242h281M856 250h41M1296 250h31M906 258h121M1146 258h141M896 274h41M1306 274h31M916 282h41M1296 282h51M936 290h111M1296 290h91M906 298h31M1386 298h31M926 306h21M1386 306h21M926 314h21M1406 314h21M546 322h71M766 322h91M1456 322h21M506 330h31M1476 330h21M516 338h31M1466 338h21M566 346h71M686 346h211M1426 346h21M956 354h21M1346 354h11M1026 362h21M1276 362h21M1086 370h21M1246 370h21M1106 378h31M1256 378h21M1096 386h21M1296 386h21M1096 394h21M1316 394h11M1136 402h21M1296 402h11M1176 410h21M1256 410h21M1196 418h61M1196 426h31M1236 426h31M1186 434h11M1256 434h21M1176 442h21M1266 442h21M1176 450h11M1266 450h21M1176 458h11M1266 458h21M1176 466h21M1266 466h21M1186 474h11M1256 474h21M626 482h21M686 482h21M1196 482h11M1246 482h21M726 490h11M1196 490h61M576 498h11M736 498h11M1206 498h41M566 506h11M746 506h11M1216 506h31M556 514h11M756 514h11M1216 514h21M556 522h11M776 530h11M806 538h111M586 546h11M946 546h11M616 554h11M966 554h11M646 562h21M976 562h11M706 570h21M986 570h11M786 578h11M806 586h11M816 594h11M826 618h11M996 618h11M996 626h11M986 634h11M846 642h11M976 642h11M846 650h11M946 650h11M916 658h21M1326 658h21M906 666h11M1326 666h11M276 682h11M846 682h11M876 690h11M336 698h11M256 706h11M1326 706h21M1326 714h11M1576 714h11M256 722h11M1586 722h11M336 730h11M1566 730h11M326 738h11"/>
<path stroke="#fec338" d="M936 226h221M896 250h51M1246 250h51M1026 258h121M936 274h61M1256 274h51M956 282h81M1206 282h91M1046 290h251M936 298h51M1356 298h31M946 306h31M1366 306h21M946 314h31M1376 314h31M616 322h151M856 322h51M1426 322h31M536 330h91M1446 330h31M546 338h91M1446 338h21M636 346h51M896 346h31M1396 346h31M976 354h21M1326 354h21M1046 362h21M1256 362h21M1106 370h31M1216 370h31M1136 378h31M1216 378h41M1116 386h31M1276 386h21M1116 394h31M1296 394h21M1156 402h11M1276 402h21M1196 410h61M1226 426h11M1196 434h61M1196 442h71M1186 450h81M1186 458h81M1196 466h71M1196 474h61M646 482h41M1206 482h41M596 490h11M716 490h11M566 514h11M746 514h11M566 522h11M756 522h11M566 530h11M766 530h11M576 538h11M786 538h21M596 546h11M936 546h11M626 554h11M956 554h11M666 562h21M966 562h11M726 570h21M976 570h11M796 578h11M986 578h11M816 586h11M986 586h11M986 594h11M826 602h11M986 602h11M826 610h11M986 610h11M986 618h11M836 626h11M986 626h11M846 634h11M976 634h11M956 642h21M916 650h31M846 658h11M906 658h11M1336 666h11M846 674h11M896 674h11M1326 674h21M286 682h11M316 682h11M886 682h11M1326 682h21M266 690h11M866 690h11M1326 690h21M1326 698h21M256 714h11M1566 722h21M1576 730h11M266 738h11"/>
<path stroke="#fdce31" d="M946 250h111M1126 250h121M996 274h261M1036 282h171M986 298h81M1286 298h71M976 306h31M1336 306h31M976 314h31M1346 314h31M906 322h41M1396 322h31M626 330h281M1416 330h31M636 338h271M1416 338h31M926 346h31M1376 346h21M996 354h21M1296 354h31M1066 362h31M1226 362h31M1136 370h81M1166 378h51M1146 386h131M1146 394h31M1266 394h31M1166 402h31M1246 402h31M606 490h21M696 490h21M586 498h11M726 498h11M576 506h11M736 506h11M746 522h11M576 530h11M756 530h11M586 538h11M766 538h21M606 546h11M906 546h31M636 554h21M946 554h11M686 562h21M956 562h11M746 570h41M966 570h11M806 578h11M966 578h21M976 586h11M826 594h11M976 594h11M976 602h11M836 610h11M976 610h11M836 618h11M966 618h21M846 626h11M966 626h21M946 634h31M856 642h11M926 642h31M856 650h11M896 650h21M896 658h11M846 666h11M896 666h11M296 682h21M856 682h11M326 690h11M336 706h11M336 714h11M336 722h11M316 738h11"/>
<path stroke="#f8da2b" d="M1056 250h71M1066 298h221M1006 306h51M1286 306h51M1006 314h41M1306 314h41M946 322h41M1356 322h41M906 330h51M1386 330h31M906 338h51M1386 338h31M956 346h31M1346 346h31M1016 354h31M1266 354h31M1096 362h131M1176 394h91M1196 402h51M626 490h71M596 498h21M706 498h21M586 506h11M726 506h11M576 514h11M736 514h11M576 522h11M736 522h11M586 530h11M736 530h21M596 538h11M746 538h21M616 546h21M766 546h141M656 554h31M786 554h21M926 554h21M706 562h91M936 562h21M786 570h31M946 570h21M816 578h11M956 578h11M826 586h11M956 586h21M836 594h11M956 594h21M836 602h11M956 602h21M846 610h11M956 610h21M846 618h11M946 618h21M936 626h31M856 634h11M886 634h61M866 642h61M866 650h31M856 658h11M886 658h11M856 666h11M886 666h11M856 674h11M886 674h11M866 682h21M276 690h11M266 698h11M266 730h11M326 730h11M276 738h41"/>
<path stroke="#f5e526" d="M1056 306h231M1046 314h71M1226 314h81M986 322h51M1306 322h51M956 330h51M1336 330h51M956 338h41M1346 338h41M986 346h41M1306 346h41M1046 354h51M1216 354h51M616 498h21M686 498h21M596 506h21M706 506h21M586 514h21M716 514h21M586 522h21M716 522h21M596 530h21M716 530h21M606 538h31M716 538h31M636 546h131M686 554h101M806 554h121M796 562h41M916 562h21M816 570h21M916 570h31M826 578h21M926 578h31M836 586h21M916 586h41M846 594h21M906 594h51M846 602h31M886 602h71M856 610h101M856 618h91M856 626h81M866 634h21M866 658h21M866 666h21M866 674h21M286 690h41M276 698h11M326 698h11M266 706h11M326 706h11M266 714h11M326 714h11M266 722h11M326 722h11M276 730h11M306 730h21"/>
<path stroke="#f6f01f" d="M1116 314h111M1036 322h271M1006 330h71M1266 330h71M996 338h71M1266 338h81M1026 346h81M1226 346h81M1096 354h121M636 498h51M616 506h91M606 514h111M606 522h111M616 530h101M636 538h81M836 562h81M836 570h81M846 578h81M856 586h61M866 594h41M876 602h11M286 698h41M276 706h51M276 714h51M276 722h51M286 730h21"/>
<path stroke="#f9fb15" d="M1076 330h191M1066 338h201M1106 346h121"/>
</g>
<path fill="#000" d="M632.5 203.7L661.0 203.7L661.0 198.9L689.5 205.0L661.0 211.1L661.0 206.3L632.5 206.3ZM674.8 203.7L703.3 203.7L703.3 198.9L731.8 205.0L703.2 211.1L703.2 206.3L674.7 206.3ZM717.0 203.7L745.5 203.7L745.5 198.9L774.0 205.0L745.5 211.1L745.5 206.3L717.0 206.3ZM759.3 203.7L787.8 203.7L787.8 198.9L816.2 205.0L787.7 211.1L787.7 206.3L759.2 206.3ZM801.5 203.7L830.0 203.7L830.0 198.9L858.5 205.0L830.0 211.1L830.0 206.3L801.5 206.3ZM843.8 203.7L872.3 203.7L872.3 198.9L900.8 205.0L872.2 211.1L872.2 206.3L843.7 206.3ZM886.0 203.7L914.5 203.7L914.5 198.9L943.0 205.0L914.5 211.1L914.5 206.3L886.0 206.3ZM928.3 203.7L956.8 203.7L956.8 198.9L985.2 205.0L956.7 211.1L956.7 206.3L928.2 206.3ZM970.5 203.7L999.0 203.7L999.0 198.9L1027.5 205.0L999.0 211.1L999.0 206.3L970.5 206.3ZM1012.8 203.7L1041.3 203.7L1041.3 198.9L1069.8 205.0L1041.2 211.1L1041.2 206.3L1012.7 206.3ZM1055.0 203.7L1083.5 203.7L1083.5 198.9L1112.0 205.0L1083.5 211.1L1083.5 206.3L1055.0 206.3ZM1097.3 203.7L1125.8 203.7L1125.8 198.9L1154.2 205.0L1125.7 211.1L1125.7 206.3L1097.2 206.3ZM1139.5 203.7L1168.0 203.7L1168.0 198.9L1196.5 205.0L1168.0 211.1L1168.0 206.3L1139.5 206.3ZM1181.8 203.7L1210.3 203.7L1210.3 198.9L1238.8 205.0L1210.2 211.1L1210.2 206.3L1181.7 206.3ZM1224.0 203.7L1252.5 203.7L1252.5 198.9L1281.0 205.0L1252.5 211.1L1252.5 206.3L1224.0 206.3ZM1266.3 203.7L1294.8 203.7L1294.8 198.9L1323.2 205.0L1294.7 211.1L1294.7 206.3L1266.2 206.3ZM1308.5 203.7L1337.0 203.7L1337.0 198.9L1365.5 205.0L1337.0 211.1L1337.0 206.3L1308.5 206.3ZM675.1 230.6L703.5 231.6L704.3 226.8L731.7 233.9L702.2 239.0L703.0 234.2L674.6 233.2ZM717.3 230.6L745.7 231.6L746.6 226.8L773.9 233.9L744.4 239.0L745.3 234.2L716.9 233.2ZM759.6 230.7L788.0 231.6L788.8 226.8L816.2 233.8L786.7 239.0L787.5 234.2L759.1 233.2ZM801.8 230.7L830.2 231.6L831.0 226.8L858.4 233.8L829.0 239.0L829.8 234.2L801.4 233.3ZM844.0 230.7L872.5 231.6L873.3 226.8L900.7 233.8L871.2 239.0L872.0 234.2L843.6 233.3ZM886.3 230.7L914.7 231.6L915.5 226.8L942.9 233.8L913.5 239.0L914.3 234.2L885.9 233.3ZM928.5 230.7L957.0 231.6L957.8 226.8L985.2 233.8L955.7 239.0L956.5 234.2L928.1 233.3ZM970.8 230.7L999.2 231.6L1000.0 226.8L1027.4 233.8L998.0 239.0L998.8 234.2L970.4 233.3ZM1013.0 230.7L1041.5 231.6L1042.3 226.8L1069.7 233.8L1040.2 239.0L1041.0 234.2L1012.6 233.3ZM1055.3 230.7L1083.7 231.6L1084.5 226.8L1111.9 233.8L1082.5 239.0L1083.3 234.2L1054.9 233.3ZM1097.5 230.7L1126.0 231.6L1126.8 226.8L1154.2 233.8L1124.7 239.0L1125.5 234.2L1097.1 233.3ZM1139.8 230.7L1168.2 231.6L1169.1 226.8L1196.4 233.8L1166.9 239.0L1167.8 234.2L1139.4 233.3ZM1182.1 230.6L1210.5 231.6L1211.3 226.8L1238.7 233.9L1209.2 239.0L1210.0 234.2L1181.6 233.2ZM1224.3 230.6L1252.7 231.6L1253.6 226.8L1280.9 233.9L1251.4 239.0L1252.3 234.2L1223.9 233.2ZM1266.6 230.6L1295.0 231.6L1295.8 226.8L1323.2 233.9L1293.7 239.0L1294.5 234.2L1266.1 233.2ZM1308.8 230.6L1337.2 231.6L1338.1 226.8L1365.4 233.9L1335.9 239.0L1336.8 234.2L1308.4 233.2ZM1351.1 230.6L1379.5 231.6L1380.4 226.8L1407.7 233.9L1378.1 239.0L1379.0 234.2L1350.6 233.2ZM1393.3 230.6L1421.7 231.6L1422.6 226.8L1449.9 233.9L1420.4 239.0L1421.3 234.2L1392.9 233.2ZM1435.6 230.6L1464.0 231.6L1464.9 226.8L1492.2 233.9L1462.6 239.0L1463.5 234.2L1435.1 233.2ZM719.2 255.8L746.4 259.6L749.7 255.0L772.7 264.6L741.3 266.6L744.6 262.0L717.4 258.3ZM761.5 255.8L788.6 259.6L791.9 255.0L814.9 264.6L783.6 266.6L786.9 262.0L759.7 258.3ZM803.7 255.8L830.9 259.6L834.2 255.0L857.2 264.5L825.8 266.6L829.1 262.0L801.9 258.3ZM845.9 255.9L873.1 259.6L876.4 254.9L899.5 264.5L868.1 266.7L871.4 262.0L844.1 258.4ZM888.1 255.9L915.4 259.6L918.6 254.9L941.8 264.4L910.4 266.7L913.6 262.0L886.4 258.4ZM930.3 256.0L957.6 259.6L960.8 254.9L984.0 264.4L952.7 266.7L955.9 262.0L928.6 258.4ZM972.5 256.0L999.8 259.6L1003.0 254.9L1026.3 264.4L995.0 266.7L998.2 262.0L970.8 258.5ZM1014.8 256.0L1042.1 259.6L1045.2 254.9L1068.6 264.3L1037.3 266.7L1040.4 262.0L1013.1 258.5ZM1057.0 256.0L1084.3 259.6L1087.5 254.9L1110.8 264.3L1079.5 266.7L1082.7 262.0L1055.3 258.5ZM1099.3 256.0L1126.6 259.6L1129.7 254.9L1153.1 264.4L1121.8 266.7L1124.9 262.0L1097.6 258.5ZM1141.5 256.0L1168.8 259.6L1172.0 254.9L1195.3 264.4L1164.0 266.7L1167.2 262.0L1139.8 258.5ZM1183.8 255.9L1211.1 259.6L1214.3 254.9L1237.5 264.4L1206.2 266.7L1209.4 262.0L1182.1 258.4ZM1226.1 255.9L1253.4 259.6L1256.6 254.9L1279.8 264.4L1248.4 266.7L1251.6 262.0L1224.4 258.4ZM1268.4 255.9L1295.6 259.6L1298.9 254.9L1322.0 264.5L1290.6 266.7L1293.9 262.0L1266.6 258.4ZM1310.7 255.8L1337.9 259.6L1341.2 255.0L1364.2 264.5L1332.8 266.6L1336.1 262.0L1308.9 258.3ZM1353.0 255.8L1380.1 259.6L1383.5 255.0L1406.4 264.6L1375.0 266.6L1378.4 262.0L1351.2 258.3ZM1395.2 255.8L1422.4 259.6L1425.7 255.0L1448.7 264.6L1417.3 266.6L1420.6 262.0L1393.4 258.3ZM1437.5 255.8L1464.7 259.6L1468.0 255.0L1490.9 264.6L1459.5 266.6L1462.8 262.0L1435.7 258.2ZM761.5 283.7L788.6 287.5L792.0 282.9L814.9 292.5L783.5 294.5L786.9 289.9L759.7 286.2ZM803.7 283.7L830.9 287.5L834.2 282.9L857.2 292.5L825.8 294.5L829.1 289.9L801.9 286.1ZM846.0 283.7L873.2 287.5L876.5 282.9L899.4 292.5L868.0 294.5L871.3 289.9L844.2 286.1ZM888.3 283.6L915.4 287.5L918.8 282.9L941.6 292.5L910.2 294.5L913.6 289.9L886.5 286.1ZM930.5 283.6L957.7 287.5L961.0 282.9L983.9 292.5L952.5 294.5L955.8 289.9L928.7 286.1ZM972.8 283.6L999.9 287.5L1003.3 282.9L1026.1 292.5L994.7 294.5L998.1 289.9L971.0 286.1ZM1015.0 283.6L1042.2 287.5L1045.5 282.9L1068.4 292.5L1037.0 294.5L1040.3 289.9L1013.2 286.1ZM1057.3 283.6L1084.4 287.5L1087.8 282.9L1110.6 292.5L1079.2 294.5L1082.6 289.9L1055.5 286.1ZM1099.5 283.6L1126.7 287.5L1130.0 282.9L1152.9 292.5L1121.5 294.5L1124.8 289.9L1097.7 286.1ZM1141.8 283.6L1168.9 287.5L1172.3 282.9L1195.1 292.5L1163.7 294.5L1167.1 289.9L1140.0 286.1ZM1184.0 283.6L1211.2 287.5L1214.5 282.9L1237.4 292.5L1206.0 294.5L1209.3 289.9L1182.2 286.1ZM1226.3 283.6L1253.4 287.5L1256.8 282.9L1279.6 292.5L1248.2 294.5L1251.6 289.9L1224.5 286.1ZM1268.5 283.6L1295.7 287.5L1299.0 282.9L1321.9 292.5L1290.5 294.5L1293.8 289.9L1266.7 286.1ZM1310.8 283.6L1337.9 287.5L1341.3 282.9L1364.1 292.5L1332.7 294.5L1336.1 289.9L1309.0 286.1ZM1353.0 283.6L1380.2 287.5L1383.5 282.9L1406.4 292.5L1375.0 294.5L1378.3 289.9L1351.2 286.1ZM1395.3 283.6L1422.4 287.5L1425.8 282.9L1448.6 292.5L1417.2 294.5L1420.6 289.9L1393.5 286.1ZM1437.5 283.6L1464.7 287.5L1468.0 282.9L1490.9 292.5L1459.5 294.5L1462.8 289.9L1435.7 286.1ZM1479.8 283.6L1506.9 287.5L1510.3 282.9L1533.1 292.5L1501.7 294.5L1505.1 289.9L1478.0 286.1ZM469.9 324.6L489.9 315.7L482.1 312.3L512.0 307.7L501.9 320.9L494.1 317.5L474.1 326.4ZM512.0 324.5L532.1 315.7L524.4 312.3L554.4 307.7L544.1 320.9L536.4 317.5L516.2 326.4ZM554.1 324.4L574.4 315.7L566.7 312.2L596.8 307.8L586.3 321.0L578.6 317.5L558.2 326.3ZM595.9 324.2L616.7 315.6L609.2 312.1L639.6 308.1L628.3 321.1L620.8 317.6L599.9 326.1ZM637.4 323.7L659.1 315.6L652.0 311.9L682.7 308.5L670.0 321.3L662.9 317.6L641.2 325.7ZM678.5 322.9L701.5 315.5L695.0 311.6L726.3 309.2L711.5 321.6L705.0 317.7L682.0 325.0ZM716.9 316.1L745.3 315.3L744.6 310.5L773.9 315.8L746.4 322.7L745.7 317.9L717.3 318.7ZM759.3 315.2L787.8 315.3L787.9 310.5L816.2 316.7L787.6 322.7L787.7 317.9L759.2 317.8ZM801.9 314.2L830.3 315.3L831.2 310.5L858.4 317.7L828.8 322.7L829.7 317.9L801.3 316.8ZM844.7 313.2L872.8 315.3L874.6 310.6L900.3 318.7L869.9 322.6L871.7 317.9L843.7 315.7ZM887.5 312.4L915.2 315.3L917.8 310.6L942.2 319.5L911.2 322.6L913.8 317.9L886.1 314.9ZM930.2 311.9L957.6 315.4L960.6 310.7L984.1 320.1L952.9 322.5L955.9 317.8L928.5 314.4ZM972.7 311.7L999.9 315.4L1003.1 310.7L1026.2 320.3L994.9 322.5L998.1 317.8L970.9 314.1ZM1015.0 311.6L1042.1 315.4L1045.5 310.8L1068.4 320.4L1037.0 322.4L1040.4 317.8L1013.2 314.1ZM1057.3 311.6L1084.4 315.4L1087.8 310.8L1110.6 320.4L1079.2 322.4L1082.6 317.8L1055.5 314.0ZM1099.5 311.5L1126.7 315.4L1130.0 310.8L1152.9 320.4L1121.5 322.4L1124.8 317.8L1097.7 314.0ZM1141.8 311.5L1168.9 315.4L1172.3 310.8L1195.1 320.4L1163.7 322.4L1167.1 317.8L1140.0 314.0ZM1184.0 311.5L1211.2 315.4L1214.5 310.8L1237.4 320.4L1206.0 322.4L1209.3 317.8L1182.2 314.0ZM1226.3 311.5L1253.4 315.4L1256.8 310.8L1279.6 320.4L1248.2 322.4L1251.6 317.8L1224.5 314.0ZM1268.5 311.5L1295.7 315.4L1299.0 310.8L1321.9 320.4L1290.5 322.4L1293.8 317.8L1266.7 314.0ZM1310.8 311.5L1337.9 315.4L1341.3 310.8L1364.1 320.4L1332.7 322.4L1336.1 317.8L1309.0 314.0ZM1353.0 311.5L1380.2 315.4L1383.5 310.8L1406.4 320.4L1375.0 322.4L1378.3 317.8L1351.2 314.0ZM1395.3 311.5L1422.4 315.4L1425.8 310.8L1448.6 320.4L1417.2 322.4L1420.6 317.8L1393.5 314.0ZM1437.5 311.5L1464.7 315.4L1468.0 310.8L1490.9 320.4L1459.5 322.4L1462.8 317.8L1435.7 314.0ZM1479.8 311.5L1506.9 315.4L1510.3 310.8L1533.1 320.4L1501.7 322.4L1505.1 317.8L1478.0 314.0ZM1522.0 311.5L1549.2 315.4L1552.5 310.8L1575.4 320.4L1544.0 322.4L1547.3 317.8L1520.2 314.0ZM469.9 352.5L489.9 343.6L482.1 340.2L512.0 335.6L501.9 348.8L494.1 345.4L474.1 354.3ZM512.0 352.4L532.2 343.6L524.4 340.2L554.4 335.6L544.1 348.8L536.3 345.4L516.2 354.3ZM554.1 352.3L574.4 343.6L566.7 340.1L596.8 335.7L586.3 348.9L578.6 345.4L558.2 354.2ZM595.9 352.1L616.7 343.6L609.2 340.0L639.5 336.0L628.3 349.0L620.8 345.4L600.0 354.0ZM637.5 351.7L659.1 343.5L651.9 339.9L682.6 336.3L670.1 349.1L662.9 345.5L641.3 353.6ZM678.8 351.0L701.5 343.5L694.8 339.6L725.9 336.9L711.7 349.4L705.0 345.5L682.3 353.1ZM716.8 344.4L745.2 343.2L744.2 338.4L773.9 343.3L746.8 350.6L745.8 345.8L717.4 347.0ZM759.2 343.5L787.7 343.2L787.4 338.4L816.2 344.2L788.1 350.6L787.8 345.8L759.3 346.1ZM801.7 342.5L830.2 343.2L830.8 338.4L858.5 345.2L829.2 350.6L829.8 345.8L801.4 345.1ZM844.5 341.4L872.7 343.2L874.2 338.4L900.5 346.3L870.3 350.6L871.8 345.8L843.6 344.0ZM887.3 340.6L915.1 343.2L917.5 338.5L942.3 347.2L911.5 350.5L913.9 345.8L886.0 343.1ZM930.0 340.0L957.5 343.2L960.4 338.6L984.2 347.8L953.1 350.4L956.0 345.8L928.5 342.5ZM972.6 339.6L999.9 343.3L1003.0 338.6L1026.3 348.1L995.0 350.4L998.1 345.7L970.9 342.1ZM1015.0 339.5L1042.1 343.3L1045.5 338.7L1068.4 348.3L1037.0 350.3L1040.4 345.7L1013.2 342.0ZM1057.3 339.5L1084.4 343.3L1087.7 338.7L1110.6 348.3L1079.3 350.3L1082.6 345.7L1055.4 341.9ZM1099.5 339.5L1126.7 343.3L1130.0 338.7L1152.9 348.3L1121.5 350.3L1124.8 345.7L1097.7 341.9ZM1141.8 339.5L1168.9 343.3L1172.3 338.7L1195.1 348.3L1163.7 350.3L1167.1 345.7L1140.0 341.9ZM1184.0 339.5L1211.2 343.3L1214.5 338.7L1237.4 348.3L1206.0 350.3L1209.3 345.7L1182.2 341.9ZM1226.3 339.5L1253.4 343.3L1256.8 338.7L1279.6 348.3L1248.2 350.3L1251.6 345.7L1224.4 341.9ZM1268.5 339.5L1295.7 343.3L1299.0 338.7L1321.9 348.3L1290.5 350.3L1293.8 345.7L1266.7 341.9ZM1310.8 339.4L1337.9 343.3L1341.3 338.7L1364.1 348.3L1332.7 350.3L1336.1 345.7L1309.0 341.9ZM1353.0 339.4L1380.2 343.3L1383.5 338.7L1406.4 348.3L1375.0 350.3L1378.3 345.7L1351.2 341.9ZM1395.3 339.4L1422.4 343.3L1425.8 338.7L1448.6 348.3L1417.2 350.3L1420.6 345.7L1393.5 341.9ZM1437.5 339.4L1464.7 343.3L1468.0 338.7L1490.9 348.3L1459.5 350.3L1462.8 345.7L1435.7 341.9ZM1479.8 339.4L1506.9 343.3L1510.3 338.7L1533.1 348.3L1501.7 350.3L1505.1 345.7L1478.0 341.9ZM1522.0 339.4L1549.2 343.3L1552.5 338.7L1575.4 348.3L1544.0 350.3L1547.3 345.7L1520.2 341.9ZM468.3 379.5L490.1 371.4L483.0 367.7L513.8 364.3L501.0 377.1L493.9 373.4L472.1 381.4ZM510.6 379.5L532.3 371.4L525.2 367.7L556.0 364.3L543.3 377.1L536.2 373.4L514.4 381.5ZM552.8 379.5L574.6 371.4L567.5 367.7L598.2 364.3L585.5 377.1L578.4 373.4L556.7 381.5ZM595.1 379.5L616.8 371.4L609.7 367.7L640.5 364.3L627.8 377.1L620.7 373.4L599.0 381.5ZM1015.0 367.3L1042.2 371.2L1045.5 366.6L1068.4 376.2L1037.0 378.2L1040.3 373.6L1013.2 369.8ZM1057.3 367.4L1084.4 371.2L1087.8 366.6L1110.6 376.2L1079.2 378.2L1082.6 373.6L1055.5 369.8ZM1099.5 367.4L1126.6 371.2L1130.0 366.6L1152.9 376.2L1121.5 378.2L1124.9 373.6L1097.7 369.8ZM1141.7 367.4L1168.9 371.2L1172.2 366.6L1195.2 376.2L1163.8 378.2L1167.1 373.6L1139.9 369.9ZM1183.9 367.4L1211.1 371.2L1214.4 366.6L1237.4 376.1L1206.1 378.2L1209.4 373.6L1182.2 369.9ZM1226.2 367.4L1253.4 371.2L1256.7 366.6L1279.7 376.1L1248.3 378.2L1251.6 373.6L1224.4 369.9ZM1268.5 367.4L1295.6 371.2L1299.0 366.6L1321.9 376.2L1290.5 378.2L1293.9 373.6L1266.7 369.9ZM1310.7 367.4L1337.9 371.2L1341.2 366.6L1364.2 376.2L1332.8 378.2L1336.1 373.6L1308.9 369.8ZM295.6 411.0L278.4 401.1L269.6 404.0L263.5 390.3L291.9 396.6L283.1 399.5L300.4 409.5ZM337.9 411.0L320.6 401.1L311.9 404.0L305.8 390.3L334.1 396.6L325.4 399.5L342.6 409.5ZM369.4 412.7L362.4 400.6L351.7 401.8L358.3 388.2L378.8 398.8L368.1 400.0L375.1 412.1ZM760.3 411.1L743.1 401.1L734.3 404.0L728.4 390.3L756.7 396.6L747.9 399.5L765.0 409.5ZM802.0 411.2L785.3 401.1L776.4 403.9L771.1 390.2L799.1 396.7L790.2 399.5L806.8 409.7ZM1057.2 395.3L1084.4 399.1L1087.7 394.5L1110.7 404.1L1079.3 406.1L1082.6 401.5L1055.4 397.8ZM1099.4 395.3L1126.6 399.1L1129.9 394.5L1153.0 404.0L1121.6 406.1L1124.9 401.5L1097.7 397.8ZM1141.6 395.4L1168.9 399.1L1172.1 394.4L1195.3 403.9L1163.9 406.2L1167.1 401.5L1139.9 397.9ZM1183.8 395.4L1211.1 399.1L1214.3 394.4L1237.5 403.9L1206.2 406.2L1209.4 401.5L1182.1 397.9ZM1226.1 395.4L1253.4 399.1L1256.5 394.4L1279.8 403.9L1248.5 406.2L1251.6 401.5L1224.4 397.9ZM1268.3 395.4L1295.6 399.1L1298.8 394.4L1322.0 403.9L1290.7 406.2L1293.9 401.5L1266.6 397.9ZM1310.7 395.3L1337.9 399.1L1341.1 394.5L1364.2 404.0L1332.9 406.1L1336.1 401.5L1308.9 397.8ZM295.6 438.9L278.4 429.0L269.6 431.9L263.5 418.2L291.9 424.5L283.1 427.4L300.4 437.4ZM337.9 438.9L320.6 429.0L311.9 431.9L305.8 418.2L334.1 424.5L325.4 427.4L342.6 437.4ZM369.4 440.6L362.4 428.5L351.7 429.7L358.3 416.1L378.8 426.7L368.1 427.9L375.1 440.0ZM718.2 438.9L700.9 429.0L692.2 431.9L685.9 418.3L714.3 424.5L705.6 427.4L723.0 437.3ZM760.4 438.9L743.1 429.0L734.4 431.9L728.2 418.3L756.6 424.5L747.9 427.4L765.1 437.4ZM802.6 438.9L785.4 429.0L776.6 431.9L770.5 418.2L798.9 424.5L790.1 427.4L807.4 437.4ZM1141.4 423.6L1168.8 426.9L1171.8 422.3L1195.4 431.6L1164.2 434.1L1167.2 429.5L1139.8 426.1ZM1183.6 423.6L1211.0 426.9L1214.0 422.3L1237.7 431.6L1206.5 434.1L1209.5 429.5L1182.0 426.1ZM1225.9 423.6L1253.3 426.9L1256.3 422.3L1279.9 431.6L1248.7 434.1L1251.7 429.5L1224.3 426.1ZM1268.1 423.6L1295.5 426.9L1298.5 422.3L1322.2 431.6L1291.0 434.1L1294.0 429.5L1266.5 426.1ZM729.2 461.4L702.3 457.3L698.7 461.9L676.3 452.0L707.8 450.3L704.2 454.9L731.2 458.9ZM770.0 462.6L744.2 457.3L739.5 461.6L719.7 450.8L751.5 450.6L746.8 454.9L772.5 460.3ZM811.2 463.3L786.3 457.2L780.9 461.4L762.9 450.0L794.6 450.8L789.2 455.0L814.1 461.1ZM1141.4 451.5L1168.8 454.8L1171.8 450.2L1195.4 459.5L1164.2 462.0L1167.2 457.4L1139.8 454.0ZM1183.6 451.5L1211.0 454.8L1214.0 450.2L1237.7 459.5L1206.5 462.0L1209.5 457.4L1182.0 454.0ZM1225.9 451.5L1253.3 454.8L1256.3 450.2L1279.9 459.5L1248.7 462.0L1251.7 457.4L1224.3 454.0ZM1268.1 451.5L1295.5 454.8L1298.5 450.2L1322.2 459.5L1291.0 462.0L1294.0 457.4L1266.5 454.0ZM604.7 486.3L576.3 485.3L575.4 490.1L548.1 483.0L577.6 477.9L576.7 482.7L605.1 483.7ZM646.9 486.3L618.5 485.3L617.6 490.1L590.3 483.0L619.9 477.9L619.0 482.7L647.4 483.7ZM689.2 486.3L660.8 485.3L659.8 490.1L632.6 483.0L662.2 477.9L661.2 482.7L689.6 483.7ZM731.3 486.6L702.9 485.3L701.8 490.1L674.9 482.7L704.7 477.9L703.6 482.7L731.9 484.0ZM773.2 487.1L745.1 485.3L743.4 490.1L717.3 482.1L747.6 477.9L745.9 482.7L774.1 484.6ZM1141.4 479.4L1168.8 482.7L1171.8 478.1L1195.4 487.4L1164.2 489.9L1167.2 485.3L1139.8 481.9ZM1183.7 479.3L1211.1 482.7L1214.1 478.1L1237.7 487.4L1206.4 489.9L1209.4 485.3L1182.0 481.8ZM1225.9 479.3L1253.3 482.7L1256.3 478.1L1279.9 487.4L1248.7 489.9L1251.7 485.3L1224.3 481.8ZM1268.1 479.4L1295.6 482.7L1298.5 478.1L1322.2 487.4L1291.0 489.9L1293.9 485.3L1266.5 481.9ZM562.4 514.2L534.0 513.2L533.1 518.0L505.8 510.9L535.4 505.8L534.5 510.6L562.9 511.6ZM604.7 514.2L576.3 513.2L575.4 518.0L548.1 510.9L577.6 505.8L576.7 510.6L605.1 511.6ZM646.9 514.2L618.5 513.2L617.6 518.0L590.3 510.9L619.9 505.8L619.0 510.6L647.4 511.6ZM689.2 514.2L660.8 513.2L659.9 518.0L632.6 510.9L662.1 505.8L661.2 510.6L689.6 511.6ZM731.4 514.1L703.0 513.2L702.2 518.0L674.8 511.0L704.3 505.8L703.5 510.6L731.9 511.6ZM773.7 514.1L745.3 513.2L744.5 518.0L717.1 511.0L746.5 505.8L745.7 510.6L774.1 511.5ZM816.0 514.0L787.6 513.2L786.9 518.0L759.3 511.1L788.6 505.8L787.9 510.6L816.4 511.4ZM1141.5 507.1L1168.8 510.7L1171.9 506.0L1195.3 515.4L1164.1 517.8L1167.2 513.1L1139.8 509.6ZM1183.8 507.1L1211.1 510.7L1214.3 506.0L1237.6 515.5L1206.2 517.8L1209.4 513.1L1182.1 509.6ZM1226.0 507.1L1253.3 510.7L1256.5 506.0L1279.8 515.5L1248.5 517.8L1251.7 513.1L1224.3 509.6ZM604.7 542.1L576.3 541.1L575.4 545.9L548.1 538.8L577.6 533.7L576.7 538.5L605.1 539.5ZM647.0 541.9L618.6 541.1L617.8 545.9L590.3 539.0L619.7 533.7L618.9 538.5L647.4 539.3ZM689.4 541.6L660.9 541.1L660.5 545.9L632.5 539.3L661.5 533.7L661.1 538.5L689.6 539.0ZM731.7 541.2L703.2 541.1L703.1 545.9L674.8 539.7L703.4 533.7L703.3 538.5L731.8 538.6ZM774.0 540.9L745.5 541.1L745.7 545.9L717.0 540.0L745.3 533.7L745.5 538.5L774.0 538.3ZM816.4 540.2L788.0 541.1L788.8 545.9L759.3 540.7L786.7 533.7L787.5 538.5L816.0 537.6ZM857.6 536.5L831.1 541.0L835.1 545.5L803.4 544.3L824.9 534.1L828.9 538.6L855.5 534.0ZM896.4 533.0L874.1 540.8L880.9 544.6L849.9 547.6L863.6 535.0L870.4 538.8L892.7 531.0ZM936.3 531.7L916.6 540.7L924.6 544.0L894.8 548.8L904.4 535.6L912.4 538.9L932.0 529.9ZM976.9 530.9L959.1 540.6L967.6 543.6L938.9 549.5L945.9 536.0L954.4 539.0L972.3 529.2ZM1183.9 534.8L1211.1 538.6L1214.4 534.0L1237.5 543.5L1206.1 545.6L1209.4 541.0L1182.2 537.3ZM1226.2 534.8L1253.4 538.6L1256.7 534.0L1279.7 543.5L1248.3 545.6L1251.6 541.0L1224.4 537.3ZM647.1 569.5L618.6 569.0L618.2 573.8L590.3 567.2L619.3 561.6L618.9 566.4L647.3 566.9ZM689.5 569.0L661.0 569.0L661.0 573.8L632.5 567.7L661.0 561.6L661.0 566.4L689.5 566.4ZM731.8 568.5L703.4 569.0L703.8 573.8L674.8 568.2L702.7 561.6L703.1 566.4L731.6 565.9ZM774.1 568.1L745.7 569.0L746.5 573.8L717.1 568.6L744.5 561.6L745.3 566.4L773.7 565.5ZM816.1 565.9L788.5 569.0L791.2 573.6L760.1 570.8L784.3 561.8L787.0 566.4L814.6 563.4ZM855.2 561.7L831.7 568.8L837.9 572.8L806.5 574.8L822.1 562.6L828.3 566.6L851.8 559.6ZM895.1 560.1L874.3 568.7L881.8 572.2L851.4 576.2L862.7 563.2L870.2 566.7L891.1 558.2ZM935.9 559.3L916.7 568.6L924.8 571.8L895.3 576.9L904.2 563.6L912.3 566.8L931.5 557.6ZM976.9 558.7L959.1 568.5L967.7 571.5L939.0 577.5L945.8 563.9L954.4 566.9L972.2 557.1ZM1018.1 558.4L1001.4 568.5L1010.3 571.3L982.2 577.8L987.7 564.1L996.6 566.9L1013.4 556.8ZM1184.0 562.7L1211.2 566.5L1214.5 561.9L1237.4 571.5L1206.0 573.5L1209.3 568.9L1182.2 565.1ZM1226.2 562.7L1253.4 566.5L1256.7 561.9L1279.7 571.5L1248.3 573.5L1251.6 568.9L1224.4 565.1ZM850.4 586.8L832.3 596.4L840.8 599.5L811.9 605.2L819.2 591.7L827.7 594.8L845.9 585.1ZM891.8 586.4L874.6 596.4L883.4 599.3L855.1 605.6L861.1 591.9L869.9 594.8L887.0 584.8ZM933.6 586.2L916.9 596.4L925.8 599.2L897.8 605.7L903.2 592.0L912.1 594.8L928.8 584.7ZM975.6 586.1L959.2 596.4L968.1 599.1L940.3 605.8L945.4 592.1L954.3 594.8L970.8 584.6ZM1017.8 586.1L1001.4 596.3L1010.4 599.1L982.6 605.8L987.6 592.1L996.6 594.9L1013.0 584.6ZM848.8 614.0L832.4 624.2L841.4 627.0L813.6 633.7L818.6 620.0L827.6 622.8L844.0 612.5ZM891.1 614.0L874.7 624.2L883.7 627.0L855.9 633.7L860.8 620.0L869.8 622.8L886.2 612.5ZM933.3 614.0L916.9 624.2L925.9 627.0L898.1 633.7L903.1 620.0L912.1 622.8L928.4 612.5ZM975.5 614.0L959.2 624.2L968.2 627.0L940.4 633.7L945.3 620.0L954.3 622.8L970.7 612.5ZM1017.8 614.0L1001.4 624.2L1010.4 627.0L982.6 633.7L987.6 620.0L996.6 622.8L1012.9 612.5ZM1309.5 627.0L1335.9 622.3L1331.8 617.8L1363.4 618.8L1342.2 629.2L1338.1 624.7L1311.7 629.4ZM891.1 641.9L874.7 652.1L883.7 654.9L855.9 661.6L860.8 647.9L869.8 650.7L886.2 640.4ZM933.3 641.9L916.9 652.1L925.9 654.9L898.1 661.6L903.1 647.9L912.1 650.7L928.4 640.4ZM975.5 641.9L959.2 652.1L968.2 654.9L940.4 661.6L945.3 647.9L954.3 650.7L970.7 640.4ZM1017.8 641.9L1001.4 652.1L1010.4 654.9L982.6 661.6L987.6 647.9L996.6 650.7L1012.9 640.4ZM1309.5 654.9L1335.9 650.2L1331.8 645.7L1363.4 646.7L1342.2 657.1L1338.1 652.6L1311.7 657.3ZM252.1 679.5L280.4 678.0L279.1 673.2L309.0 677.8L282.4 685.4L281.1 680.6L252.8 682.1ZM294.3 679.5L322.6 678.0L321.3 673.2L351.3 677.8L324.7 685.4L323.4 680.6L295.1 682.1ZM891.6 670.0L874.6 680.1L883.5 682.9L855.3 689.4L861.0 675.7L869.9 678.5L886.8 668.5ZM933.5 669.9L916.9 680.1L925.8 682.9L897.9 689.4L903.2 675.7L912.1 678.5L928.7 668.4ZM1309.5 682.8L1335.9 678.1L1331.8 673.6L1363.4 674.6L1342.2 685.0L1338.1 680.5L1311.7 685.2ZM252.1 707.4L280.4 705.9L279.1 701.1L309.0 705.7L282.4 713.3L281.1 708.5L252.8 710.0ZM294.3 707.4L322.6 705.9L321.3 701.1L351.3 705.7L324.7 713.3L323.4 708.5L295.1 710.0ZM1280.0 703.7L1253.6 708.4L1257.7 712.9L1226.1 711.9L1247.3 701.5L1251.4 706.0L1277.8 701.3ZM1309.5 710.7L1335.9 706.0L1331.8 701.5L1363.4 702.5L1342.2 712.9L1338.1 708.4L1311.7 713.1ZM1564.6 712.6L1589.0 706.1L1583.2 702.0L1614.8 700.7L1597.8 712.4L1592.0 708.3L1567.7 714.8ZM252.1 735.3L280.4 733.8L279.1 729.0L309.0 733.6L282.4 741.2L281.1 736.4L252.8 737.9ZM294.3 735.3L322.6 733.8L321.3 729.0L351.3 733.6L324.7 741.2L323.4 736.4L295.1 737.9ZM1309.5 738.6L1335.9 733.9L1331.8 729.4L1363.4 730.4L1342.2 740.8L1338.1 736.3L1311.7 741.0ZM1564.6 740.5L1589.0 734.0L1583.2 729.9L1614.8 728.6L1597.8 740.3L1592.0 736.2L1567.7 742.7ZM367.0 470.5L367.0 458.0L356.0 458.0L370.0 445.5L384.0 458.0L373.0 458.0L373.0 470.5ZM555.3 632.2L574.8 623.1L566.8 619.8L596.5 614.9L587.2 628.2L579.2 624.9L559.6 634.0ZM511.9 692.7L494.6 682.8L485.9 685.7L479.8 672.0L508.1 678.3L499.4 681.2L516.6 691.2ZM509.6 721.3L494.5 710.7L485.2 713.3L481.9 699.4L508.8 706.7L499.5 709.3L514.6 719.9ZM633.3 708.2L661.6 706.7L660.3 701.9L690.3 706.5L663.7 714.1L662.4 709.3L634.1 710.8ZM183.5 706.7L212.0 706.7L212.0 701.9L240.5 708.0L212.0 714.1L212.0 709.3L183.5 709.3ZM1507.0 470.5L1507.0 483.0L1518.0 483.0L1504.0 495.5L1490.0 483.0L1501.0 483.0L1501.0 470.5ZM1305.5 567.7L1334.0 567.7L1334.0 562.9L1362.5 569.0L1334.0 575.1L1334.0 570.3L1305.5 570.3ZM1279.0 677.4L1251.9 681.2L1255.3 685.8L1223.9 683.8L1246.7 674.2L1250.1 678.8L1277.2 674.9ZM1721.2 717.1L1694.1 713.2L1690.7 717.8L1667.9 708.2L1699.3 706.2L1695.9 710.8L1723.0 714.6ZM1432.0 599.6L1459.1 595.8L1455.7 591.2L1487.1 593.2L1464.3 602.8L1460.9 598.2L1433.8 602.1ZM1432.0 627.6L1459.1 623.8L1455.7 619.2L1487.1 621.2L1464.3 630.8L1460.9 626.2L1433.8 630.1ZM1155.0 649.4L1127.9 653.2L1131.3 657.8L1099.9 655.8L1122.7 646.2L1126.1 650.8L1153.2 646.9ZM1155.0 677.4L1127.9 681.2L1131.3 685.8L1099.9 683.8L1122.7 674.2L1126.1 678.8L1153.2 674.9ZM1184.9 718.7L1167.6 708.8L1158.9 711.7L1152.8 698.0L1181.1 704.3L1172.4 707.2L1189.6 717.2ZM1234.8 715.6L1210.5 709.1L1204.7 713.2L1187.7 701.5L1219.3 702.8L1213.5 706.9L1237.9 713.4ZM1692.0 661.0L1670.1 653.0L1663.1 656.7L1650.1 644.0L1680.9 647.3L1673.9 651.0L1695.8 659.0ZM1558.1 713.4L1582.5 706.9L1576.7 702.8L1608.3 701.5L1591.3 713.2L1585.5 709.1L1561.2 715.6ZM1623.9 695.6L1630.9 707.7L1641.5 706.5L1635.0 720.1L1614.5 709.5L1625.1 708.3L1618.1 696.2Z"/>
<path fill="#fff" fill-opacity="0.52" d="M194 70L738.0 70.4L728.8 73.2L719.7 76.0L710.7 78.8L701.9 81.5L693.3 84.3L684.8 87.1L676.5 89.9L668.3 92.7L660.2 95.5L652.3 98.3L644.5 101.1L636.9 103.8L629.4 106.6L622.0 109.4L614.7 112.2L607.6 115.0L600.5 117.8L593.6 120.6L586.9 123.4L580.2 126.1L573.7 128.9L567.2 131.7L560.9 134.5L554.7 137.3L548.6 140.1L542.6 142.9L536.7 145.6L530.9 148.4L525.2 151.2L519.6 154.0L514.0 156.8L508.6 159.6L503.3 162.4L498.1 165.2L492.9 167.9L487.9 170.7L482.9 173.5L478.1 176.3L473.3 179.1L468.5 181.9L463.9 184.7L459.4 187.5L454.9 190.2L450.5 193.0L446.2 195.8L441.9 198.6L437.7 201.4L433.6 204.2L429.6 207.0L425.6 209.8L421.7 212.5L417.9 215.3L414.2 218.1L410.5 220.9L406.8 223.7L403.2 226.5L399.7 229.3L396.3 232.0L392.9 234.8L389.6 237.6L386.3 240.4L383.1 243.2L379.9 246.0L376.8 248.8L373.7 251.6L370.7 254.3L367.8 257.1L364.9 259.9L362.0 262.7L359.2 265.5L356.5 268.3L353.8 271.1L351.1 273.9L348.5 276.6L345.9 279.4L343.4 282.2L340.9 285.0L338.5 287.8L336.1 290.6L333.7 293.4L331.4 296.1L329.1 298.9L326.9 301.7L324.7 304.5L322.5 307.3L320.4 310.1L318.3 312.9L316.3 315.7L314.3 318.4L312.3 321.2L310.3 324.0L308.4 326.8L306.5 329.6L304.7 332.4L302.9 335.2L301.1 338.0L299.3 340.7L297.6 343.5L295.9 346.3L294.3 349.1L292.6 351.9L291.0 354.7L289.4 357.5L287.9 360.3L286.4 363.0L284.9 365.8L283.4 368.6L281.9 371.4L280.5 374.2L279.1 377.0L277.8 379.8L276.4 382.5L275.1 385.3L273.8 388.1L272.5 390.9L271.2 393.7L270.0 396.5L268.8 399.3L267.6 402.1L266.4 404.8L265.3 407.6L264.1 410.4L263.0 413.2L261.9 416.0L260.8 418.8L259.8 421.6L258.8 424.4L257.7 427.1L256.7 429.9L255.7 432.7L254.8 435.5L253.8 438.3L252.9 441.1L252.0 443.9L251.1 446.6L250.2 449.4L249.3 452.2L248.5 455.0L247.6 457.8L246.8 460.6L246.0 463.4L245.2 466.2L244.4 468.9L243.6 471.7L242.9 474.5L242.1 477.3L241.4 480.1L240.7 482.9L240.0 485.7L239.3 488.5L238.6 491.2L237.9 494.0L237.3 496.8L236.6 499.6L236.0 502.4L235.4 505.2L234.8 508.0L234.2 510.8L233.6 513.5L233.0 516.3L232.4 519.1L231.9 521.9L231.3 524.7L230.8 527.5L230.2 530.3L229.7 533.0L229.2 535.8L228.7 538.6L228.2 541.4L227.7 544.2L227.3 547.0L226.8 549.8L226.3 552.6L225.9 555.3L225.4 558.1L225.0 560.9L224.6 563.7L224.1 566.5L223.7 569.3L223.3 572.1L222.9 574.9L222.5 577.6L222.1 580.4L221.8 583.2L221.4 586.0L221.0 588.8L220.7 591.6L220.3 594.4L220.0 597.1L219.6 599.9L219.3 602.7L219.0 605.5L218.7 608.3L218.3 611.1L218.0 613.9L217.7 616.7L217.4 619.4L217.1 622.2L216.8 625.0L216.6 627.8L216.3 630.6L216.0 633.4L215.7 636.2L215.5 639.0L215.2 641.7L215.0 644.5L214.7 647.3L214.5 650.1L214.2 652.9L214.0 655.7L213.8 658.5L213.5 661.3L213.3 664.0L213.1 666.8L212.9 669.6L212.7 672.4L212.5 675.2L212.3 678.0L212.1 680.8L211.9 683.5L211.7 686.3L211.5 689.1L211.3 691.9L211.1 694.7L211.0 697.5L210.8 700.3L210.6 703.1L210.4 705.8L210.3 708.6L210.1 711.4L210.0 714.2L209.8 717.0L209.6 719.8L209.5 722.6L209.4 725.4L209.2 728.1L209.1 730.9L208.9 733.7L208.8 736.5L194 736ZM1728 70L1185.0 70.4L1194.2 73.2L1203.3 76.0L1212.3 78.8L1221.1 81.5L1229.7 84.3L1238.2 87.1L1246.5 89.9L1254.7 92.7L1262.8 95.5L1270.7 98.3L1278.5 101.1L1286.1 103.8L1293.6 106.6L1301.0 109.4L1308.3 112.2L1315.4 115.0L1322.5 117.8L1329.4 120.6L1336.1 123.4L1342.8 126.1L1349.3 128.9L1355.8 131.7L1362.1 134.5L1368.3 137.3L1374.4 140.1L1380.4 142.9L1386.3 145.6L1392.1 148.4L1397.8 151.2L1403.4 154.0L1409.0 156.8L1414.4 159.6L1419.7 162.4L1424.9 165.2L1430.1 167.9L1435.1 170.7L1440.1 173.5L1444.9 176.3L1449.7 179.1L1454.5 181.9L1459.1 184.7L1463.6 187.5L1468.1 190.2L1472.5 193.0L1476.8 195.8L1481.1 198.6L1485.3 201.4L1489.4 204.2L1493.4 207.0L1497.4 209.8L1501.3 212.5L1505.1 215.3L1508.8 218.1L1512.5 220.9L1516.2 223.7L1519.8 226.5L1523.3 229.3L1526.7 232.0L1530.1 234.8L1533.4 237.6L1536.7 240.4L1539.9 243.2L1543.1 246.0L1546.2 248.8L1549.3 251.6L1552.3 254.3L1555.2 257.1L1558.1 259.9L1561.0 262.7L1563.8 265.5L1566.5 268.3L1569.2 271.1L1571.9 273.9L1574.5 276.6L1577.1 279.4L1579.6 282.2L1582.1 285.0L1584.5 287.8L1586.9 290.6L1589.3 293.4L1591.6 296.1L1593.9 298.9L1596.1 301.7L1598.3 304.5L1600.5 307.3L1602.6 310.1L1604.7 312.9L1606.7 315.7L1608.7 318.4L1610.7 321.2L1612.7 324.0L1614.6 326.8L1616.5 329.6L1618.3 332.4L1620.1 335.2L1621.9 338.0L1623.7 340.7L1625.4 343.5L1627.1 346.3L1628.7 349.1L1630.4 351.9L1632.0 354.7L1633.6 357.5L1635.1 360.3L1636.6 363.0L1638.1 365.8L1639.6 368.6L1641.1 371.4L1642.5 374.2L1643.9 377.0L1645.2 379.8L1646.6 382.5L1647.9 385.3L1649.2 388.1L1650.5 390.9L1651.8 393.7L1653.0 396.5L1654.2 399.3L1655.4 402.1L1656.6 404.8L1657.7 407.6L1658.9 410.4L1660.0 413.2L1661.1 416.0L1662.2 418.8L1663.2 421.6L1664.2 424.4L1665.3 427.1L1666.3 429.9L1667.3 432.7L1668.2 435.5L1669.2 438.3L1670.1 441.1L1671.0 443.9L1671.9 446.6L1672.8 449.4L1673.7 452.2L1674.5 455.0L1675.4 457.8L1676.2 460.6L1677.0 463.4L1677.8 466.2L1678.6 468.9L1679.4 471.7L1680.1 474.5L1680.9 477.3L1681.6 480.1L1682.3 482.9L1683.0 485.7L1683.7 488.5L1684.4 491.2L1685.1 494.0L1685.7 496.8L1686.4 499.6L1687.0 502.4L1687.6 505.2L1688.2 508.0L1688.8 510.8L1689.4 513.5L1690.0 516.3L1690.6 519.1L1691.1 521.9L1691.7 524.7L1692.2 527.5L1692.8 530.3L1693.3 533.0L1693.8 535.8L1694.3 538.6L1694.8 541.4L1695.3 544.2L1695.7 547.0L1696.2 549.8L1696.7 552.6L1697.1 555.3L1697.6 558.1L1698.0 560.9L1698.4 563.7L1698.9 566.5L1699.3 569.3L1699.7 572.1L1700.1 574.9L1700.5 577.6L1700.9 580.4L1701.2 583.2L1701.6 586.0L1702.0 588.8L1702.3 591.6L1702.7 594.4L1703.0 597.1L1703.4 599.9L1703.7 602.7L1704.0 605.5L1704.3 608.3L1704.7 611.1L1705.0 613.9L1705.3 616.7L1705.6 619.4L1705.9 622.2L1706.2 625.0L1706.4 627.8L1706.7 630.6L1707.0 633.4L1707.3 636.2L1707.5 639.0L1707.8 641.7L1708.0 644.5L1708.3 647.3L1708.5 650.1L1708.8 652.9L1709.0 655.7L1709.2 658.5L1709.5 661.3L1709.7 664.0L1709.9 666.8L1710.1 669.6L1710.3 672.4L1710.5 675.2L1710.7 678.0L1710.9 680.8L1711.1 683.5L1711.3 686.3L1711.5 689.1L1711.7 691.9L1711.9 694.7L1712.0 697.5L1712.2 700.3L1712.4 703.1L1712.6 705.8L1712.7 708.6L1712.9 711.4L1713.0 714.2L1713.2 717.0L1713.4 719.8L1713.5 722.6L1713.6 725.4L1713.8 728.1L1713.9 730.9L1714.1 733.7L1714.2 736.5L1728 736Z"/>
<path fill="none" stroke="#fff" stroke-width="8" stroke-dasharray="39 38" stroke-dashoffset="-69.0" d="M208.8 736.5L208.9 733.7L209.1 730.9L209.2 728.1L209.4 725.4L209.5 722.6L209.6 719.8L209.8 717.0L210.0 714.2L210.1 711.4L210.3 708.6L210.4 705.8L210.6 703.1L210.8 700.3L211.0 697.5L211.1 694.7L211.3 691.9L211.5 689.1L211.7 686.3L211.9 683.5L212.1 680.8L212.3 678.0L212.5 675.2L212.7 672.4L212.9 669.6L213.1 666.8L213.3 664.0L213.5 661.3L213.8 658.5L214.0 655.7L214.2 652.9L214.5 650.1L214.7 647.3L215.0 644.5L215.2 641.7L215.5 639.0L215.7 636.2L216.0 633.4L216.3 630.6L216.6 627.8L216.8 625.0L217.1 622.2L217.4 619.4L217.7 616.7L218.0 613.9L218.3 611.1L218.7 608.3L219.0 605.5L219.3 602.7L219.6 599.9L220.0 597.1L220.3 594.4L220.7 591.6L221.0 588.8L221.4 586.0L221.8 583.2L222.1 580.4L222.5 577.6L222.9 574.9L223.3 572.1L223.7 569.3L224.1 566.5L224.6 563.7L225.0 560.9L225.4 558.1L225.9 555.3L226.3 552.6L226.8 549.8L227.3 547.0L227.7 544.2L228.2 541.4L228.7 538.6L229.2 535.8L229.7 533.0L230.2 530.3L230.8 527.5L231.3 524.7L231.9 521.9L232.4 519.1L233.0 516.3L233.6 513.5L234.2 510.8L234.8 508.0L235.4 505.2L236.0 502.4L236.6 499.6L237.3 496.8L237.9 494.0L238.6 491.2L239.3 488.5L240.0 485.7L240.7 482.9L241.4 480.1L242.1 477.3L242.9 474.5L243.6 471.7L244.4 468.9L245.2 466.2L246.0 463.4L246.8 460.6L247.6 457.8L248.5 455.0L249.3 452.2L250.2 449.4L251.1 446.6L252.0 443.9L252.9 441.1L253.8 438.3L254.8 435.5L255.7 432.7L256.7 429.9L257.7 427.1L258.8 424.4L259.8 421.6L260.8 418.8L261.9 416.0L263.0 413.2L264.1 410.4L265.3 407.6L266.4 404.8L267.6 402.1L268.8 399.3L270.0 396.5L271.2 393.7L272.5 390.9L273.8 388.1L275.1 385.3L276.4 382.5L277.8 379.8L279.1 377.0L280.5 374.2L281.9 371.4L283.4 368.6L284.9 365.8L286.4 363.0L287.9 360.3L289.4 357.5L291.0 354.7L292.6 351.9L294.3 349.1L295.9 346.3L297.6 343.5L299.3 340.7L301.1 338.0L302.9 335.2L304.7 332.4L306.5 329.6L308.4 326.8L310.3 324.0L312.3 321.2L314.3 318.4L316.3 315.7L318.3 312.9L320.4 310.1L322.5 307.3L324.7 304.5L326.9 301.7L329.1 298.9L331.4 296.1L333.7 293.4L336.1 290.6L338.5 287.8L340.9 285.0L343.4 282.2L345.9 279.4L348.5 276.6L351.1 273.9L353.8 271.1L356.5 268.3L359.2 265.5L362.0 262.7L364.9 259.9L367.8 257.1L370.7 254.3L373.7 251.6L376.8 248.8L379.9 246.0L383.1 243.2L386.3 240.4L389.6 237.6L392.9 234.8L396.3 232.0L399.7 229.3L403.2 226.5L406.8 223.7L410.5 220.9L414.2 218.1L417.9 215.3L421.7 212.5L425.6 209.8L429.6 207.0L433.6 204.2L437.7 201.4L441.9 198.6L446.2 195.8L450.5 193.0L454.9 190.2L459.4 187.5L463.9 184.7L468.5 181.9L473.3 179.1L478.1 176.3L482.9 173.5L487.9 170.7L492.9 167.9L498.1 165.2L503.3 162.4L508.6 159.6L514.0 156.8L519.6 154.0L525.2 151.2L530.9 148.4L536.7 145.6L542.6 142.9L548.6 140.1L554.7 137.3L560.9 134.5L567.2 131.7L573.7 128.9L580.2 126.1L586.9 123.4L593.6 120.6L600.5 117.8L607.6 115.0L614.7 112.2L622.0 109.4L629.4 106.6L636.9 103.8L644.5 101.1L652.3 98.3L660.2 95.5L668.3 92.7L676.5 89.9L684.8 87.1L693.3 84.3L701.9 81.5L710.7 78.8L719.7 76.0L728.8 73.2L738.0 70.4"/>
<path fill="none" stroke="#fff" stroke-width="8" stroke-dasharray="39 38" stroke-dashoffset="-4.1" d="M1185.0 70.4L1194.2 73.2L1203.3 76.0L1212.3 78.8L1221.1 81.5L1229.7 84.3L1238.2 87.1L1246.5 89.9L1254.7 92.7L1262.8 95.5L1270.7 98.3L1278.5 101.1L1286.1 103.8L1293.6 106.6L1301.0 109.4L1308.3 112.2L1315.4 115.0L1322.5 117.8L1329.4 120.6L1336.1 123.4L1342.8 126.1L1349.3 128.9L1355.8 131.7L1362.1 134.5L1368.3 137.3L1374.4 140.1L1380.4 142.9L1386.3 145.6L1392.1 148.4L1397.8 151.2L1403.4 154.0L1409.0 156.8L1414.4 159.6L1419.7 162.4L1424.9 165.2L1430.1 167.9L1435.1 170.7L1440.1 173.5L1444.9 176.3L1449.7 179.1L1454.5 181.9L1459.1 184.7L1463.6 187.5L1468.1 190.2L1472.5 193.0L1476.8 195.8L1481.1 198.6L1485.3 201.4L1489.4 204.2L1493.4 207.0L1497.4 209.8L1501.3 212.5L1505.1 215.3L1508.8 218.1L1512.5 220.9L1516.2 223.7L1519.8 226.5L1523.3 229.3L1526.7 232.0L1530.1 234.8L1533.4 237.6L1536.7 240.4L1539.9 243.2L1543.1 246.0L1546.2 248.8L1549.3 251.6L1552.3 254.3L1555.2 257.1L1558.1 259.9L1561.0 262.7L1563.8 265.5L1566.5 268.3L1569.2 271.1L1571.9 273.9L1574.5 276.6L1577.1 279.4L1579.6 282.2L1582.1 285.0L1584.5 287.8L1586.9 290.6L1589.3 293.4L1591.6 296.1L1593.9 298.9L1596.1 301.7L1598.3 304.5L1600.5 307.3L1602.6 310.1L1604.7 312.9L1606.7 315.7L1608.7 318.4L1610.7 321.2L1612.7 324.0L1614.6 326.8L1616.5 329.6L1618.3 332.4L1620.1 335.2L1621.9 338.0L1623.7 340.7L1625.4 343.5L1627.1 346.3L1628.7 349.1L1630.4 351.9L1632.0 354.7L1633.6 357.5L1635.1 360.3L1636.6 363.0L1638.1 365.8L1639.6 368.6L1641.1 371.4L1642.5 374.2L1643.9 377.0L1645.2 379.8L1646.6 382.5L1647.9 385.3L1649.2 388.1L1650.5 390.9L1651.8 393.7L1653.0 396.5L1654.2 399.3L1655.4 402.1L1656.6 404.8L1657.7 407.6L1658.9 410.4L1660.0 413.2L1661.1 416.0L1662.2 418.8L1663.2 421.6L1664.2 424.4L1665.3 427.1L1666.3 429.9L1667.3 432.7L1668.2 435.5L1669.2 438.3L1670.1 441.1L1671.0 443.9L1671.9 446.6L1672.8 449.4L1673.7 452.2L1674.5 455.0L1675.4 457.8L1676.2 460.6L1677.0 463.4L1677.8 466.2L1678.6 468.9L1679.4 471.7L1680.1 474.5L1680.9 477.3L1681.6 480.1L1682.3 482.9L1683.0 485.7L1683.7 488.5L1684.4 491.2L1685.1 494.0L1685.7 496.8L1686.4 499.6L1687.0 502.4L1687.6 505.2L1688.2 508.0L1688.8 510.8L1689.4 513.5L1690.0 516.3L1690.6 519.1L1691.1 521.9L1691.7 524.7L1692.2 527.5L1692.8 530.3L1693.3 533.0L1693.8 535.8L1694.3 538.6L1694.8 541.4L1695.3 544.2L1695.7 547.0L1696.2 549.8L1696.7 552.6L1697.1 555.3L1697.6 558.1L1698.0 560.9L1698.4 563.7L1698.9 566.5L1699.3 569.3L1699.7 572.1L1700.1 574.9L1700.5 577.6L1700.9 580.4L1701.2 583.2L1701.6 586.0L1702.0 588.8L1702.3 591.6L1702.7 594.4L1703.0 597.1L1703.4 599.9L1703.7 602.7L1704.0 605.5L1704.3 608.3L1704.7 611.1L1705.0 613.9L1705.3 616.7L1705.6 619.4L1705.9 622.2L1706.2 625.0L1706.4 627.8L1706.7 630.6L1707.0 633.4L1707.3 636.2L1707.5 639.0L1707.8 641.7L1708.0 644.5L1708.3 647.3L1708.5 650.1L1708.8 652.9L1709.0 655.7L1709.2 658.5L1709.5 661.3L1709.7 664.0L1709.9 666.8L1710.1 669.6L1710.3 672.4L1710.5 675.2L1710.7 678.0L1710.9 680.8L1711.1 683.5L1711.3 686.3L1711.5 689.1L1711.7 691.9L1711.9 694.7L1712.0 697.5L1712.2 700.3L1712.4 703.1L1712.6 705.8L1712.7 708.6L1712.9 711.4L1713.0 714.2L1713.2 717.0L1713.4 719.8L1713.5 722.6L1713.6 725.4L1713.8 728.1L1713.9 730.9L1714.1 733.7L1714.2 736.5"/>
</g>
<rect x="196.0" y="70.4" width="1530.6" height="666.1" fill="none" stroke="#3a3629" stroke-width="4"/>
<path stroke="#8a8570" stroke-opacity="0.75" stroke-width="1.4" fill="none" d="M196.0 108.5h13M1726.6 108.5h-13M196.0 220.6h13M1726.6 220.6h-13M196.0 332.7h13M1726.6 332.7h-13M196.0 444.8h13M1726.6 444.8h-13M196.0 556.9h13M1726.6 556.9h-13M196.0 669.0h13M1726.6 669.0h-13"/>
<path stroke="#3a3629" stroke-width="1.8" fill="none" d="M502.3 70.4v10M502.3 736.5v-10M802.3 70.4v10M802.3 736.5v-10M1101.8 70.4v10M1101.8 736.5v-10M1401.6 70.4v10M1401.6 736.5v-10M1701.5 70.4v10M1701.5 736.5v-10"/>
<path stroke="#3a3629" stroke-width="1.5" fill="none" d="M195.4 741.0v23M254.0 741.0v23M312.6 741.0v23M371.2 741.0v23M429.9 741.0v23M488.5 741.0v23M547.1 741.0v23M605.7 741.0v23M664.3 741.0v23M723.0 741.0v23M781.6 741.0v23M840.2 741.0v23M898.8 741.0v23M957.4 741.0v23M1016.1 741.0v23M1074.7 741.0v23M1133.3 741.0v23M1191.9 741.0v23M1250.5 741.0v23M1309.2 741.0v23M1367.8 741.0v23M1426.4 741.0v23M1485.0 741.0v23M1543.6 741.0v23M1602.3 741.0v23M1660.9 741.0v23M1715.5 741.0v23"/>
<text x="264.4" y="810" text-anchor="middle" font-size="42" font-weight="bold">-500</text>
<text x="546.1" y="810" text-anchor="middle" font-size="42" font-weight="bold">0</text>
<text x="838.7" y="810" text-anchor="middle" font-size="42" font-weight="bold">500</text>
<text x="1131.4" y="807" text-anchor="middle" font-size="42" font-weight="bold">1000</text>
<text x="1443.9" y="810" text-anchor="middle" font-size="42" font-weight="bold">1500</text>
<text x="1717.6" y="810" text-anchor="middle" font-size="42" font-weight="bold">2000</text>
<text x="175" y="126.9" text-anchor="end" font-size="48.5" letter-spacing="-0.7">1024</text>
<text x="175" y="238.7" text-anchor="end" font-size="48.5" letter-spacing="-0.7">512</text>
<text x="175" y="350.4" text-anchor="end" font-size="48.5" letter-spacing="-0.7">256</text>
<text x="175" y="462.1" text-anchor="end" font-size="48.5" letter-spacing="-0.7">128</text>
<text x="175" y="573.9" text-anchor="end" font-size="48.5" letter-spacing="-0.7">64</text>
<text x="175" y="685.6" text-anchor="end" font-size="48.5" letter-spacing="-0.7">32</text>
<text transform="translate(41.5 409.1) rotate(-90)" text-anchor="middle" font-size="53.3">Period (years)</text>
<text x="951.0" y="49" text-anchor="middle" font-size="54" font-weight="bold" word-spacing="3">RICE / Siple Dome</text>
<text x="2" y="57" font-size="59" style="fill:#1e1e1c">(a)</text>
<rect x="1804.3" y="67.0" width="97.2" height="666.7" fill="url(#cb)" stroke="#3a3629" stroke-width="2"/>
<text x="1921" y="84.0" font-size="42">1</text>
<text x="1921" y="217.3" font-size="42">0.8</text>
<text x="1921" y="350.7" font-size="42">0.6</text>
<text x="1921" y="484.0" font-size="42">0.4</text>
<text x="1921" y="617.4" font-size="42">0.2</text>
<text x="1921" y="750.7" font-size="42">0</text>
<path stroke="#3a3629" stroke-width="1.5" fill="none" d="M1901.5 200.3h-7M1901.5 333.7h-7M1901.5 467.0h-7M1901.5 600.4h-7"/>
<text transform="translate(2040 394.5) rotate(-90)" text-anchor="middle" font-size="43.8" word-spacing="2">Magnitude-squared coherence</text>
<clipPath id="cp1"><rect x="193.5" y="926.3" width="1534.5" height="671.2"/></clipPath>
<g clip-path="url(#cp1)">
<rect x="193.5" y="926.3" width="1534.5" height="671.2" fill="#2d88f6"/>
<g filter="url(#bl)" fill="none" stroke-width="9">
<path stroke="#3e26a8" d="M1293 1522h21M443 1530h11M1293 1530h21M443 1538h21M1293 1538h21M443 1546h21M753 1546h11M1293 1546h31M443 1554h21M1293 1554h31M443 1562h21M1293 1562h31M443 1570h21M1293 1570h21M443 1578h21M1293 1578h11M443 1586h21M453 1594h11"/>
<path stroke="#412ebd" d="M853 1002h211M813 1010h271M343 1058h61M373 1066h11M493 1082h71M573 1090h41M743 1138h61M773 1146h81M813 1154h91M873 1162h81M953 1170h51M473 1298h31M473 1306h41M473 1314h51M473 1322h61M1563 1322h31M483 1330h51M1563 1330h31M493 1338h51M1563 1338h31M1573 1346h21M1053 1378h21M1023 1386h11M1053 1386h21M1023 1394h21M1053 1394h21M1233 1394h21M1023 1402h21M1033 1410h11M1043 1418h11M683 1482h11M1093 1482h11M683 1490h11M893 1490h21M1083 1490h31M683 1498h11M893 1498h31M1083 1498h31M1593 1498h11M683 1506h21M893 1506h31M1083 1506h41M1593 1506h11M1663 1506h11M593 1514h21M683 1514h21M763 1514h11M883 1514h51M1083 1514h41M1293 1514h21M1593 1514h11M1663 1514h11M443 1522h11M513 1522h11M593 1522h21M623 1522h11M683 1522h21M753 1522h21M883 1522h51M983 1522h21M1083 1522h41M1283 1522h11M1573 1522h11M1593 1522h11M1663 1522h21M453 1530h11M513 1530h11M593 1530h41M683 1530h21M753 1530h21M893 1530h51M983 1530h21M1083 1530h51M1283 1530h11M1313 1530h11M1573 1530h11M1593 1530h11M1663 1530h21M513 1538h11M593 1538h51M743 1538h31M893 1538h51M983 1538h21M1083 1538h51M1283 1538h11M1313 1538h11M1593 1538h11M1663 1538h21M513 1546h11M593 1546h11M613 1546h31M743 1546h11M763 1546h11M893 1546h11M923 1546h31M983 1546h21M1103 1546h31M1283 1546h11M1593 1546h11M1663 1546h21M513 1554h11M613 1554h31M743 1554h31M923 1554h31M983 1554h21M1103 1554h31M1663 1554h21M353 1562h11M463 1562h11M613 1562h41M983 1562h21M1103 1562h31M1663 1562h11M243 1570h11M273 1570h11M353 1570h11M463 1570h11M613 1570h41M983 1570h21M1103 1570h31M1313 1570h11M1663 1570h11M243 1578h41M463 1578h11M613 1578h41M1103 1578h41M1303 1578h31M243 1586h31M613 1586h41M1103 1586h41M1293 1586h61M1593 1586h11M1653 1586h11M243 1594h31M443 1594h11M613 1594h31M733 1594h31M1103 1594h41M1283 1594h71M1593 1594h11M1653 1594h11"/>
<path stroke="#4435d1" d="M753 994h411M313 1002h81M643 1002h211M1063 1002h211M253 1010h201M623 1010h191M1083 1010h201M1583 1010h61M243 1018h211M683 1018h381M1573 1018h91M233 1026h201M1593 1026h71M213 1034h201M203 1042h201M203 1050h221M203 1058h141M403 1058h51M223 1066h151M383 1066h81M233 1074h291M393 1082h101M563 1082h51M483 1090h91M613 1090h61M573 1098h161M643 1106h161M743 1114h141M663 1122h61M683 1130h101M713 1138h31M803 1138h21M753 1146h21M853 1146h21M793 1154h21M903 1154h21M843 1162h31M953 1162h21M923 1170h31M1003 1170h31M983 1178h61M1583 1250h51M1563 1258h71M473 1274h11M463 1282h41M463 1290h51M463 1298h11M503 1298h21M463 1306h11M513 1306h21M463 1314h11M523 1314h11M1573 1314h11M463 1322h11M533 1322h11M1553 1322h11M1593 1322h11M463 1330h21M533 1330h21M1553 1330h11M1593 1330h11M473 1338h21M543 1338h21M1553 1338h11M1593 1338h11M493 1346h81M1563 1346h11M1593 1346h11M563 1354h31M1573 1354h11M1043 1370h41M1013 1378h41M1073 1378h21M1233 1378h21M1013 1386h11M1033 1386h21M1073 1386h21M1223 1386h41M1013 1394h11M1043 1394h11M1073 1394h11M1223 1394h11M1253 1394h21M1043 1402h41M1223 1402h41M1023 1410h11M1043 1410h11M1033 1418h11M1043 1426h11M673 1474h21M1083 1474h21M613 1482h21M673 1482h11M693 1482h11M893 1482h31M1083 1482h11M1103 1482h11M603 1490h31M673 1490h11M693 1490h11M913 1490h11M1593 1490h11M593 1498h21M693 1498h11M763 1498h11M883 1498h11M1113 1498h11M1583 1498h11M1663 1498h11M593 1506h31M763 1506h11M883 1506h11M923 1506h11M983 1506h21M1293 1506h11M1573 1506h21M1603 1506h11M1673 1506h11M433 1514h21M513 1514h11M613 1514h21M753 1514h11M983 1514h21M1073 1514h11M1283 1514h11M1573 1514h21M1603 1514h11M1673 1514h11M433 1522h11M453 1522h11M523 1522h11M613 1522h11M743 1522h11M773 1522h11M933 1522h11M1073 1522h11M1483 1522h11M1563 1522h11M1583 1522h11M433 1530h11M523 1530h11M583 1530h11M633 1530h11M743 1530h11M773 1530h11M883 1530h11M1073 1530h11M1443 1530h21M1473 1530h21M1563 1530h11M1583 1530h11M433 1538h11M523 1538h11M683 1538h21M773 1538h11M883 1538h11M943 1538h11M1443 1538h21M1473 1538h21M1573 1538h21M343 1546h21M433 1546h11M523 1546h11M603 1546h11M683 1546h21M773 1546h11M903 1546h21M1083 1546h21M1473 1546h21M1573 1546h11M343 1554h21M433 1554h11M463 1554h11M523 1554h11M593 1554h21M643 1554h11M893 1554h31M1093 1554h11M1133 1554h11M1283 1554h11M1593 1554h11M243 1562h11M263 1562h21M343 1562h11M433 1562h11M513 1562h11M743 1562h31M1133 1562h11M1283 1562h11M1323 1562h11M1593 1562h11M1673 1562h11M253 1570h21M343 1570h11M433 1570h11M1133 1570h11M1283 1570h11M1323 1570h11M1653 1570h11M353 1578h11M433 1578h11M983 1578h21M1283 1578h11M1333 1578h21M1473 1578h11M1593 1578h11M1653 1578h21M273 1586h11M353 1586h11M433 1586h11M463 1586h11M1283 1586h11M1473 1586h11M1663 1586h11M273 1594h11M433 1594h11M643 1594h11M1143 1594h11M1463 1594h21"/>
<path stroke="#463ee1" d="M883 986h151M253 994h171M633 994h121M1163 994h121M1563 994h111M213 1002h101M393 1002h251M1273 1002h91M1523 1002h181M193 1010h61M453 1010h171M1283 1010h91M1503 1010h81M1643 1010h71M193 1018h51M453 1018h231M1063 1018h251M1513 1018h61M1663 1018h61M193 1026h41M433 1026h71M733 1026h71M1523 1026h71M1663 1026h71M193 1034h21M413 1034h61M1553 1034h181M193 1042h11M403 1042h61M1573 1042h161M193 1050h11M423 1050h41M1603 1050h131M193 1058h11M453 1058h31M1623 1058h111M193 1066h31M463 1066h31M1633 1066h101M193 1074h41M523 1074h41M1633 1074h101M193 1082h201M613 1082h21M1613 1082h121M193 1090h291M673 1090h21M1603 1090h131M193 1098h241M523 1098h51M733 1098h21M1593 1098h141M193 1106h221M583 1106h61M803 1106h31M1583 1106h151M213 1114h171M613 1114h131M883 1114h21M1623 1114h111M253 1122h91M643 1122h21M723 1122h51M823 1122h91M1653 1122h81M663 1130h21M783 1130h21M1673 1130h61M703 1138h11M823 1138h21M1683 1138h51M733 1146h21M873 1146h11M1673 1146h61M773 1154h21M923 1154h11M1653 1154h81M833 1162h11M973 1162h21M1633 1162h101M903 1170h21M1033 1170h11M1643 1170h81M963 1178h21M1043 1178h11M1003 1186h41M1563 1250h21M1633 1250h21M1543 1258h21M1633 1258h11M463 1266h21M463 1274h11M483 1274h21M453 1282h11M503 1282h21M453 1290h11M513 1290h11M453 1298h11M523 1298h11M453 1306h11M533 1306h11M453 1314h11M533 1314h11M1563 1314h11M1583 1314h11M453 1322h11M543 1322h11M553 1330h11M1543 1330h11M1603 1330h11M1683 1330h41M463 1338h11M563 1338h11M1603 1338h11M1673 1338h51M473 1346h21M573 1346h21M1553 1346h11M1673 1346h51M493 1354h71M593 1354h21M1563 1354h11M1583 1354h21M1673 1354h51M573 1362h51M1043 1362h41M1673 1362h51M1003 1370h21M1033 1370h11M1083 1370h11M1113 1370h11M1683 1370h31M1003 1378h11M1223 1378h11M1253 1378h21M1213 1386h11M1263 1386h11M1083 1394h11M1213 1394h11M1083 1402h11M1213 1402h11M1263 1402h11M1053 1410h31M1233 1410h31M1053 1418h11M1053 1426h11M1053 1434h11M1053 1442h11M233 1450h21M233 1458h31M233 1466h21M1083 1466h21M623 1474h31M663 1474h11M693 1474h11M893 1474h21M1103 1474h11M603 1482h11M633 1482h41M593 1490h11M733 1490h11M763 1490h11M883 1490h11M1113 1490h11M1583 1490h11M1663 1490h11M613 1498h21M673 1498h11M733 1498h11M753 1498h11M923 1498h11M983 1498h21M1073 1498h11M1573 1498h11M1603 1498h11M1673 1498h11M433 1506h11M623 1506h11M733 1506h31M773 1506h11M1073 1506h11M1283 1506h11M1303 1506h11M523 1514h11M583 1514h11M733 1514h21M773 1514h11M933 1514h11M1473 1514h21M1563 1514h11M1653 1514h11M503 1522h11M583 1522h11M703 1522h11M733 1522h11M1123 1522h11M1313 1522h11M1443 1522h41M1603 1522h11M1653 1522h11M503 1530h11M733 1530h11M1463 1530h11M1653 1530h11M343 1538h21M503 1538h11M583 1538h11M733 1538h11M1003 1538h11M1073 1538h11M1463 1538h11M1563 1538h11M1653 1538h11M463 1546h11M503 1546h11M583 1546h11M643 1546h11M733 1546h11M883 1546h11M1003 1546h11M1443 1546h31M1583 1546h11M1653 1546h11M683 1554h21M733 1554h11M773 1554h11M1003 1554h11M1083 1554h11M1323 1554h11M1473 1554h11M1573 1554h11M1653 1554h11M253 1562h11M523 1562h11M593 1562h21M923 1562h31M1093 1562h11M1473 1562h11M1573 1562h11M1653 1562h11M513 1570h11M603 1570h11M1473 1570h11M1593 1570h11M1673 1570h11M343 1578h11M753 1586h11M983 1586h21M1143 1586h11M1463 1586h11M353 1594h11M463 1594h11M603 1594h11M983 1594h11M1093 1594h11M1153 1594h11M1663 1594h11"/>
<path stroke="#4848ec" d="M1623 978h31M243 986h161M703 986h181M1033 986h181M1553 986h151M193 994h61M423 994h211M1283 994h81M1503 994h61M1673 994h51M193 1002h21M1363 1002h161M1703 1002h31M1373 1010h131M1713 1010h21M1313 1018h101M1443 1018h71M1723 1018h11M503 1026h231M803 1026h71M1493 1026h31M473 1034h41M1523 1034h31M463 1042h31M1553 1042h21M463 1050h31M1563 1050h41M483 1058h11M1583 1058h41M493 1066h21M1593 1066h41M563 1074h31M1593 1074h41M633 1082h21M1573 1082h41M693 1090h21M1573 1090h31M433 1098h91M753 1098h21M1563 1098h31M413 1106h41M553 1106h31M833 1106h21M1553 1106h31M193 1114h21M383 1114h51M593 1114h21M903 1114h21M1593 1114h31M193 1122h61M343 1122h71M623 1122h21M773 1122h51M913 1122h31M1623 1122h31M223 1130h161M653 1130h11M803 1130h21M1643 1130h31M683 1138h21M843 1138h11M1653 1138h31M723 1146h11M883 1146h21M1643 1146h31M763 1154h11M933 1154h21M1613 1154h41M823 1162h11M993 1162h21M1603 1162h31M883 1170h21M1043 1170h11M1613 1170h31M1723 1170h11M943 1178h21M1053 1178h11M1643 1178h91M983 1186h21M1043 1186h21M1673 1186h61M1003 1194h41M1543 1250h21M1653 1250h11M463 1258h21M1533 1258h11M1643 1258h11M453 1266h11M483 1266h21M1583 1266h21M453 1274h11M503 1274h11M523 1282h11M523 1290h11M533 1298h11M1563 1306h31M543 1314h11M1553 1314h11M1593 1314h11M553 1322h11M1543 1322h11M1603 1322h11M1683 1322h41M453 1330h11M1673 1330h11M453 1338h11M573 1338h11M1543 1338h11M1663 1338h11M1723 1338h11M463 1346h11M593 1346h11M1543 1346h11M1603 1346h11M1663 1346h11M1723 1346h11M473 1354h21M613 1354h11M1043 1354h41M1103 1354h21M1553 1354h11M1663 1354h11M1723 1354h11M553 1362h21M623 1362h11M1033 1362h11M1083 1362h41M1573 1362h21M1723 1362h11M593 1370h21M1023 1370h11M1093 1370h21M1233 1370h21M1673 1370h11M1713 1370h11M1093 1378h31M1213 1378h11M1683 1378h41M1093 1386h11M1273 1386h11M1093 1394h11M1203 1394h11M1273 1394h11M1013 1402h11M1083 1410h11M1223 1410h11M1263 1410h11M213 1418h11M1063 1418h21M203 1426h41M1033 1426h11M1063 1426h11M203 1434h51M1043 1434h11M203 1442h61M203 1450h31M253 1450h11M213 1458h21M1083 1458h21M223 1466h11M253 1466h11M683 1466h11M1073 1466h11M1103 1466h11M613 1474h11M653 1474h11M733 1474h11M913 1474h11M1073 1474h11M593 1482h11M703 1482h11M723 1482h31M763 1482h11M883 1482h11M1073 1482h11M1113 1482h11M1663 1482h11M633 1490h11M703 1490h11M723 1490h11M743 1490h21M923 1490h11M983 1490h11M1073 1490h11M1573 1490h11M1603 1490h11M1673 1490h11M743 1498h11M773 1498h11M1293 1498h11M1653 1498h11M443 1506h11M583 1506h11M673 1506h11M703 1506h11M1563 1506h11M1653 1506h11M453 1514h11M503 1514h11M673 1514h11M703 1514h11M1123 1514h11M1313 1514h11M1453 1514h21M633 1522h11M673 1522h11M1003 1522h11M1433 1522h11M573 1530h11M673 1530h11M703 1530h11M943 1530h11M973 1530h11M1003 1530h11M1433 1530h11M1493 1530h11M1603 1530h11M463 1538h11M563 1538h21M973 1538h11M1603 1538h11M563 1546h21M973 1546h11M1073 1546h11M1133 1546h11M1323 1546h11M1563 1546h11M243 1554h31M503 1554h11M563 1554h11M583 1554h11M883 1554h11M973 1554h11M1443 1554h31M1483 1554h11M1583 1554h11M503 1562h11M683 1562h11M773 1562h11M893 1562h31M973 1562h11M1003 1562h11M1083 1562h11M363 1570h11M503 1570h11M593 1570h11M1003 1570h11M1093 1570h11M1333 1570h21M363 1578h11M513 1578h11M603 1578h11M1093 1578h11M1143 1578h11M1463 1578h11M1673 1578h11M343 1586h11M363 1586h11M603 1586h11M653 1586h11M733 1586h21M763 1586h11M1093 1586h11M1153 1586h11M1603 1586h11M233 1594h11M363 1594h11M653 1594h11M793 1594h11M993 1594h11M1603 1594h11"/>
<path stroke="#4852f4" d="M253 978h121M1553 978h71M1653 978h61M193 986h51M403 986h81M603 986h101M1213 986h101M1513 986h41M1703 986h31M1363 994h141M1723 994h11M1413 1018h31M873 1026h51M1463 1026h31M513 1034h41M1503 1034h21M493 1042h31M1533 1042h21M493 1050h21M1543 1050h21M493 1058h21M1563 1058h21M513 1066h21M1573 1066h21M593 1074h11M1563 1074h31M653 1082h21M1553 1082h21M713 1090h21M1553 1090h21M773 1098h21M1543 1098h21M453 1106h101M853 1106h11M1533 1106h21M433 1114h41M573 1114h21M923 1114h11M1563 1114h31M413 1122h41M603 1122h21M943 1122h11M1603 1122h21M193 1130h31M383 1130h41M643 1130h11M823 1130h41M1623 1130h21M203 1138h191M673 1138h11M853 1138h21M1633 1138h21M713 1146h11M903 1146h11M1623 1146h21M753 1154h11M953 1154h11M1593 1154h21M813 1162h11M1013 1162h11M1583 1162h21M873 1170h11M1053 1170h11M1593 1170h21M923 1178h21M1063 1178h11M1623 1178h21M963 1186h21M1063 1186h11M1643 1186h31M983 1194h21M1043 1194h21M1663 1194h71M983 1202h61M1683 1202h51M963 1210h81M1583 1242h81M463 1250h11M1533 1250h11M1663 1250h11M453 1258h11M483 1258h11M1523 1258h11M1653 1258h21M503 1266h11M1553 1266h31M1603 1266h31M513 1274h11M443 1282h11M443 1290h11M533 1290h11M443 1298h11M543 1298h11M443 1306h11M543 1306h11M1553 1306h11M1593 1306h11M443 1314h11M1543 1314h11M1603 1314h11M1683 1314h31M443 1322h11M1673 1322h11M563 1330h11M1663 1330h11M1723 1330h11M583 1338h11M1613 1338h11M453 1346h11M603 1346h11M1053 1346h31M1093 1346h21M463 1354h11M623 1354h11M1033 1354h11M1083 1354h21M1603 1354h11M483 1362h71M633 1362h11M1003 1362h31M1563 1362h11M1593 1362h11M1663 1362h11M583 1370h11M613 1370h31M1123 1370h11M1223 1370h11M1253 1370h21M1663 1370h11M1723 1370h11M1123 1378h11M1273 1378h11M1673 1378h11M1003 1386h11M1103 1386h31M1203 1386h11M1683 1386h31M1123 1394h11M1093 1402h11M1203 1402h11M1273 1402h11M1093 1410h11M1213 1410h11M203 1418h11M223 1418h21M1023 1418h11M1083 1418h11M1233 1418h31M193 1426h11M243 1426h11M1073 1426h21M193 1434h11M1063 1434h11M193 1442h11M1063 1442h11M193 1450h11M263 1450h11M1053 1450h21M1083 1450h21M193 1458h21M263 1458h11M1073 1458h11M1103 1458h11M203 1466h21M673 1466h11M693 1466h11M893 1466h31M1113 1466h11M223 1474h31M603 1474h11M703 1474h11M723 1474h11M743 1474h11M1113 1474h11M1663 1474h11M713 1482h11M753 1482h11M923 1482h11M1673 1482h11M643 1490h11M663 1490h11M773 1490h11M993 1490h11M1653 1490h11M433 1498h11M583 1498h11M703 1498h11M723 1498h11M1283 1498h11M1563 1498h11M513 1506h11M723 1506h11M873 1506h11M933 1506h11M1473 1506h21M563 1514h21M633 1514h11M723 1514h11M873 1514h11M973 1514h11M1003 1514h11M1443 1514h11M563 1522h21M723 1522h11M873 1522h11M973 1522h11M1063 1522h11M1493 1522h11M343 1530h21M563 1530h11M723 1530h11M873 1530h11M1683 1530h11M643 1538h11M673 1538h11M703 1538h11M1323 1538h11M1433 1538h11M1493 1538h11M1683 1538h11M673 1546h11M1183 1546h11M1603 1546h11M1683 1546h11M273 1554h11M573 1554h11M953 1554h11M1073 1554h11M1183 1554h11M1563 1554h11M1603 1554h11M1683 1554h11M363 1562h11M563 1562h11M583 1562h11M693 1562h11M733 1562h11M883 1562h11M1183 1562h11M1333 1562h11M1463 1562h11M1483 1562h11M1583 1562h11M1603 1562h11M523 1570h11M763 1570h11M973 1570h11M1083 1570h11M1463 1570h11M1483 1570h11M1573 1570h11M1603 1570h11M503 1578h11M593 1578h11M653 1578h11M1353 1578h11M1603 1578h11M663 1586h11M1163 1586h11M1353 1586h11M1673 1586h11M343 1594h11M663 1594h21M763 1594h11M1163 1594h11M1483 1594h11M1583 1594h11M1643 1594h11"/>
<path stroke="#475cfa" d="M1583 970h111M193 978h61M373 978h71M753 978h421M1523 978h31M1713 978h21M483 986h121M1313 986h91M1463 986h51M923 1026h41M1393 1026h71M553 1034h171M1483 1034h21M523 1042h21M1513 1042h21M513 1050h21M1533 1050h11M513 1058h11M1543 1058h21M533 1066h21M1553 1066h21M603 1074h21M1553 1074h11M673 1082h11M1543 1082h11M733 1090h11M1543 1090h11M793 1098h11M1533 1098h11M863 1106h11M1523 1106h11M473 1114h31M543 1114h31M933 1114h21M1553 1114h11M453 1122h31M593 1122h11M953 1122h11M1583 1122h21M423 1130h41M623 1130h21M863 1130h81M1613 1130h11M193 1138h11M393 1138h41M663 1138h11M873 1138h11M1613 1138h21M193 1146h201M703 1146h11M913 1146h11M1603 1146h21M743 1154h11M963 1154h11M1583 1154h11M803 1162h11M1023 1162h11M1563 1162h21M863 1170h11M1063 1170h11M1583 1170h11M913 1178h11M1073 1178h11M1603 1178h21M953 1186h11M1073 1186h11M1633 1186h11M963 1194h21M1063 1194h11M1643 1194h21M963 1202h21M1043 1202h21M1663 1202h21M953 1210h11M1043 1210h11M1663 1210h71M963 1218h61M1033 1218h21M1673 1218h61M1663 1226h71M1653 1234h61M463 1242h21M1573 1242h11M1663 1242h31M453 1250h11M473 1250h21M1673 1250h21M493 1258h11M1673 1258h11M443 1266h11M1543 1266h11M1633 1266h21M443 1274h11M523 1274h11M533 1282h11M543 1290h11M1563 1298h31M1693 1306h11M553 1314h11M1673 1314h11M1713 1314h11M563 1322h11M1533 1322h11M1613 1322h11M1663 1322h11M1723 1322h11M443 1330h11M573 1330h11M1533 1330h11M1613 1330h11M443 1338h11M1093 1338h21M1533 1338h11M1653 1338h11M1043 1346h11M1083 1346h11M1113 1346h11M1613 1346h11M1653 1346h11M453 1354h11M1543 1354h11M1653 1354h11M473 1362h11M643 1362h11M993 1362h11M1123 1362h11M1283 1362h11M1553 1362h11M1603 1362h11M573 1370h11M643 1370h11M1213 1370h11M1273 1370h21M613 1378h41M1203 1378h11M1283 1378h11M1663 1378h11M1723 1378h11M1283 1386h11M1673 1386h11M1713 1386h11M1103 1394h21M1283 1394h11M1103 1402h11M203 1410h41M1013 1410h11M1203 1410h11M1273 1410h11M193 1418h11M243 1418h11M1093 1418h11M1223 1418h11M1263 1418h11M253 1426h11M1093 1426h11M253 1434h11M1073 1434h21M263 1442h11M1043 1442h11M1073 1442h31M1073 1450h11M683 1458h11M1063 1458h11M1113 1458h11M193 1466h11M263 1466h11M623 1466h21M663 1466h11M733 1466h11M213 1474h11M253 1474h11M593 1474h11M713 1474h11M753 1474h21M883 1474h11M773 1482h11M983 1482h21M1593 1482h21M1653 1482h11M583 1490h11M653 1490h11M713 1490h11M443 1498h11M633 1498h11M713 1498h11M873 1498h11M1193 1498h11M1303 1498h11M1473 1498h21M453 1506h11M503 1506h11M633 1506h11M713 1506h11M973 1506h11M1003 1506h11M1063 1506h11M1123 1506h11M1193 1506h11M1453 1506h21M553 1514h11M713 1514h11M1063 1514h11M1193 1514h11M1273 1514h11M1433 1514h11M1493 1514h11M1683 1514h11M533 1522h11M553 1522h11M713 1522h11M943 1522h11M1273 1522h11M1683 1522h11M463 1530h11M533 1530h11M553 1530h11M713 1530h11M1063 1530h11M1183 1530h11M533 1538h11M553 1538h11M723 1538h11M873 1538h11M1063 1538h11M1133 1538h11M1183 1538h11M243 1546h11M533 1546h11M553 1546h11M703 1546h11M873 1546h11M953 1546h11M363 1554h11M553 1554h11M673 1554h11M573 1562h11M653 1562h11M673 1562h11M953 1562h11M1343 1562h11M1443 1562h21M1563 1562h11M1683 1562h11M653 1570h11M753 1570h11M773 1570h11M893 1570h11M1143 1570h11M1183 1570h11M1353 1570h11M1583 1570h11M373 1578h11M473 1578h11M763 1578h11M1003 1578h11M1153 1578h11M1483 1578h11M1583 1578h11M233 1586h11M373 1586h11M473 1586h31M513 1586h11M673 1586h11M773 1586h11M793 1586h11M1483 1586h11M1583 1586h11M1643 1586h11M373 1594h11M473 1594h21M723 1594h11M783 1594h11M1353 1594h11M1453 1594h11M1693 1594h11"/>
<path stroke="#4367fd" d="M243 970h121M1543 970h41M1693 970h41M443 978h71M613 978h141M1173 978h131M1483 978h41M1403 986h61M963 1026h41M1263 1026h131M723 1034h41M1473 1034h11M543 1042h31M1503 1042h11M533 1050h11M1523 1050h11M523 1058h11M1533 1058h11M553 1066h11M1543 1066h11M623 1074h11M1533 1074h21M683 1082h11M1523 1082h21M743 1090h11M1523 1090h21M803 1098h11M1523 1098h11M873 1106h21M1513 1106h11M503 1114h41M953 1114h11M1533 1114h21M483 1122h31M573 1122h21M963 1122h21M1573 1122h11M463 1130h31M613 1130h11M943 1130h21M1593 1130h21M433 1138h41M653 1138h11M883 1138h21M1603 1138h11M393 1146h51M693 1146h11M923 1146h11M1583 1146h21M193 1154h191M733 1154h11M973 1154h11M1563 1154h21M793 1162h11M1033 1162h11M1553 1162h11M853 1170h11M1073 1170h11M1563 1170h21M903 1178h11M1083 1178h11M1593 1178h11M943 1186h11M1083 1186h11M1613 1186h21M953 1194h11M1073 1194h11M1633 1194h11M953 1202h11M1063 1202h11M1643 1202h21M943 1210h11M1053 1210h11M1653 1210h11M943 1218h21M1023 1218h11M1653 1218h21M1643 1226h21M463 1234h21M1623 1234h31M1713 1234h21M453 1242h11M483 1242h11M1563 1242h11M1693 1242h41M443 1250h11M493 1250h11M1053 1250h11M1523 1250h11M1693 1250h31M443 1258h11M503 1258h11M1513 1258h11M1683 1258h21M513 1266h11M1523 1266h21M1653 1266h21M553 1298h11M1553 1298h11M1593 1298h11M553 1306h11M1543 1306h11M1603 1306h11M1673 1306h21M1703 1306h21M1533 1314h11M1613 1314h11M1663 1314h11M1723 1314h11M1653 1330h11M593 1338h11M1043 1338h51M443 1346h11M613 1346h11M1033 1346h11M1533 1346h11M633 1354h11M993 1354h21M1023 1354h11M1613 1354h11M463 1362h11M1273 1362h11M1543 1362h11M1653 1362h11M493 1370h81M653 1370h11M993 1370h11M1203 1370h11M1563 1370h41M1653 1370h11M593 1378h21M653 1378h21M1193 1378h11M643 1386h31M1193 1386h11M1723 1386h11M1003 1394h11M1193 1394h11M1683 1394h41M213 1402h11M1003 1402h11M1113 1402h21M1193 1402h11M1283 1402h11M193 1410h11M1103 1410h11M1013 1418h11M1103 1418h11M1213 1418h11M1023 1426h11M1243 1426h11M1033 1434h11M1093 1434h11M683 1450h11M1103 1450h21M673 1458h11M693 1458h11M903 1458h11M1053 1458h11M613 1466h11M643 1466h21M723 1466h11M743 1466h11M1063 1466h11M1123 1466h11M1663 1466h11M193 1474h21M923 1474h11M983 1474h21M1123 1474h11M1653 1474h11M1673 1474h11M223 1482h31M583 1482h11M1123 1482h11M1583 1482h11M433 1490h11M873 1490h11M1123 1490h11M1193 1490h11M1283 1490h21M1563 1490h11M1613 1490h11M1003 1498h11M1063 1498h11M1123 1498h11M1613 1498h11M523 1506h11M563 1506h21M1273 1506h11M1313 1506h11M1443 1506h11M1493 1506h11M1683 1506h11M533 1514h11M1423 1514h11M1553 1514h11M343 1522h21M1183 1522h21M1423 1522h11M1553 1522h11M333 1530h11M643 1530h11M1273 1530h11M1323 1530h11M713 1538h11M953 1538h11M253 1546h21M363 1546h11M723 1546h11M1063 1546h11M1433 1546h11M1493 1546h11M533 1554h11M873 1554h11M1333 1554h11M553 1562h11M1073 1562h11M1353 1562h11M283 1570h11M373 1570h11M473 1570h11M583 1570h11M673 1570h21M883 1570h11M903 1570h11M1443 1570h21M1683 1570h11M283 1578h11M483 1578h21M523 1578h11M663 1578h11M753 1578h11M773 1578h11M973 1578h11M1083 1578h11M1163 1578h31M1453 1578h11M1573 1578h11M283 1586h11M503 1586h11M593 1586h11M683 1586h11M783 1586h11M1003 1586h11M1173 1586h11M1453 1586h11M1693 1586h11M283 1594h11M423 1594h11M493 1594h11M593 1594h11M773 1594h11M1673 1594h11"/>
<path stroke="#3c72ff" d="M193 970h51M363 970h61M1513 970h31M513 978h101M1303 978h181M1003 1026h261M763 1034h31M1453 1034h21M573 1042h41M1493 1042h11M543 1050h21M1513 1050h11M533 1058h21M1523 1058h11M563 1066h11M1533 1066h11M633 1074h11M1523 1074h11M693 1082h11M1513 1082h11M753 1090h11M1513 1090h11M813 1098h11M1513 1098h11M893 1106h11M1503 1106h11M963 1114h11M1523 1114h11M513 1122h61M983 1122h11M1563 1122h11M493 1130h31M593 1130h21M963 1130h21M1583 1130h11M473 1138h31M633 1138h21M903 1138h21M1583 1138h21M443 1146h41M673 1146h21M933 1146h11M1573 1146h11M383 1154h61M723 1154h11M983 1154h11M1553 1154h11M193 1162h71M783 1162h11M1043 1162h11M1543 1162h11M843 1170h11M1553 1170h11M893 1178h11M1583 1178h11M933 1186h11M1603 1186h11M943 1194h11M1083 1194h11M1623 1194h11M943 1202h11M1073 1202h11M1633 1202h11M933 1210h11M1633 1210h21M933 1218h11M1633 1218h21M973 1226h41M1033 1226h21M1623 1226h21M453 1234h11M483 1234h11M1603 1234h21M443 1242h11M493 1242h11M1043 1242h21M1553 1242h11M1063 1250h11M1513 1250h11M1723 1250h11M1053 1258h21M1503 1258h11M1703 1258h31M523 1266h11M1513 1266h11M1673 1266h51M533 1274h11M1553 1274h141M543 1282h11M1563 1282h41M433 1290h11M1553 1290h61M433 1298h11M1543 1298h11M1603 1298h21M1683 1298h31M433 1306h11M1533 1306h11M1613 1306h11M1663 1306h11M1723 1306h11M563 1314h11M1623 1314h11M573 1322h11M1623 1322h11M1653 1322h11M583 1330h11M1053 1330h61M1523 1330h11M1623 1330h11M1623 1338h11M1643 1338h11M623 1346h11M1623 1346h11M1643 1346h11M443 1354h11M1013 1354h11M1123 1354h11M1273 1354h21M1533 1354h11M1623 1354h11M1643 1354h11M453 1362h11M653 1362h11M1223 1362h51M1613 1362h11M473 1370h21M663 1370h11M1293 1370h11M1553 1370h11M1603 1370h11M583 1378h11M673 1378h11M993 1378h11M1133 1378h11M1293 1378h11M1653 1378h11M623 1386h21M673 1386h21M1133 1386h11M1293 1386h11M1663 1386h11M653 1394h51M1133 1394h11M1673 1394h11M1723 1394h11M203 1402h11M223 1402h21M673 1402h41M1133 1402h11M1693 1402h11M243 1410h11M693 1410h31M1003 1410h11M1113 1410h21M1193 1410h11M253 1418h11M713 1418h11M1003 1418h11M1203 1418h11M1273 1418h11M1013 1426h11M1103 1426h11M1213 1426h31M1253 1426h21M263 1434h11M1023 1434h11M1103 1434h11M1103 1442h21M273 1450h11M673 1450h11M1123 1450h11M1663 1450h11M273 1458h11M733 1458h21M893 1458h11M913 1458h11M1123 1458h11M1653 1458h21M1703 1458h21M603 1466h11M703 1466h21M753 1466h21M883 1466h11M993 1466h11M1653 1466h11M1673 1466h11M1703 1466h21M263 1474h11M773 1474h11M1063 1474h11M1703 1474h21M193 1482h31M253 1482h11M873 1482h11M1063 1482h11M1573 1482h11M1613 1482h11M1643 1482h11M1703 1482h21M783 1490h11M1003 1490h11M1063 1490h11M1473 1490h21M1643 1490h11M1683 1490h11M1703 1490h21M323 1498h11M373 1498h11M423 1498h11M783 1498h11M933 1498h11M973 1498h11M1273 1498h11M1463 1498h11M1493 1498h11M1683 1498h11M373 1506h11M423 1506h11M783 1506h11M1433 1506h11M1553 1506h11M1613 1506h11M333 1514h31M373 1514h11M543 1514h11M783 1514h11M1183 1514h11M1613 1514h11M333 1522h11M463 1522h11M543 1522h11M783 1522h11M1323 1522h11M543 1530h11M783 1530h11M1133 1530h11M1193 1530h11M1553 1530h11M333 1538h11M363 1538h11M543 1538h11M783 1538h11M1273 1538h11M273 1546h11M543 1546h11M783 1546h11M233 1554h11M543 1554h11M653 1554h11M703 1554h11M723 1554h11M783 1554h11M963 1554h11M1063 1554h11M233 1562h11M283 1562h11M473 1562h11M533 1562h11M783 1562h11M873 1562h11M963 1562h11M1143 1562h11M1693 1562h11M233 1570h11M493 1570h11M573 1570h11M663 1570h11M743 1570h11M873 1570h11M913 1570h11M1173 1570h11M1693 1570h11M233 1578h11M583 1578h11M673 1578h11M783 1578h21M1643 1578h11M1683 1578h21M423 1586h11M523 1586h11M863 1586h11M1083 1586h11M1183 1586h11M503 1594h21M683 1594h11M973 1594h11M1003 1594h11M1173 1594h11M1273 1594h11M1443 1594h11"/>
<path stroke="#317dfc" d="M1573 962h131M423 970h61M813 970h291M1483 970h31M793 1034h21M1443 1034h11M613 1042h51M1483 1042h11M563 1050h21M1503 1050h11M553 1058h11M1513 1058h11M573 1066h21M1513 1066h21M643 1074h11M1513 1074h11M703 1082h11M1503 1082h11M763 1090h11M1503 1090h11M823 1098h11M1503 1098h11M903 1106h11M1493 1106h11M973 1114h11M1513 1114h11M993 1122h11M1543 1122h21M523 1130h71M983 1130h11M1573 1130h11M503 1138h51M613 1138h21M923 1138h31M1573 1138h11M483 1146h51M653 1146h21M943 1146h11M1563 1146h11M443 1154h51M703 1154h21M993 1154h11M1543 1154h11M263 1162h81M773 1162h11M1053 1162h11M1533 1162h11M1083 1170h11M1543 1170h11M1093 1178h11M1573 1178h11M923 1186h11M1093 1186h11M1593 1186h11M933 1194h11M1093 1194h11M1613 1194h11M933 1202h11M1083 1202h11M1623 1202h11M923 1210h11M1063 1210h11M1623 1210h11M923 1218h11M1053 1218h11M1623 1218h11M953 1226h21M1013 1226h21M1613 1226h11M443 1234h11M493 1234h11M1043 1234h11M1593 1234h11M1543 1242h11M503 1250h11M1043 1250h11M433 1258h11M513 1258h11M1493 1258h11M433 1266h11M1063 1266h11M1493 1266h21M1723 1266h11M433 1274h11M1513 1274h41M1693 1274h41M433 1282h11M1533 1282h31M1603 1282h131M553 1290h11M1533 1290h21M1613 1290h121M1533 1298h11M1623 1298h61M1713 1298h21M563 1306h11M1523 1306h11M1623 1306h41M433 1314h11M1523 1314h11M1633 1314h31M433 1322h11M1083 1322h21M1523 1322h11M1633 1322h21M433 1330h11M1043 1330h11M1633 1330h21M603 1338h11M1033 1338h11M1113 1338h11M1523 1338h11M1633 1338h11M1023 1346h11M1523 1346h11M1633 1346h11M643 1354h11M1633 1354h11M663 1362h11M1203 1362h21M1293 1362h11M1533 1362h11M1623 1362h11M1643 1362h11M673 1370h11M1133 1370h11M1193 1370h11M1543 1370h11M1613 1370h11M1643 1370h11M573 1378h11M683 1378h11M1183 1378h11M1563 1378h41M613 1386h11M693 1386h11M993 1386h11M1183 1386h11M1653 1386h11M203 1394h21M633 1394h21M703 1394h11M993 1394h11M1293 1394h11M1663 1394h11M193 1402h11M663 1402h11M713 1402h11M993 1402h11M1673 1402h21M1703 1402h31M683 1410h11M723 1410h11M993 1410h11M1133 1410h11M1283 1410h11M693 1418h21M723 1418h11M1113 1418h21M1193 1418h11M263 1426h11M713 1426h21M1003 1426h11M1113 1426h11M1203 1426h11M1003 1434h21M1113 1434h11M1233 1434h11M273 1442h11M683 1442h11M1003 1442h31M1123 1442h11M1643 1442h31M1703 1442h21M693 1450h11M733 1450h11M993 1450h31M1043 1450h11M1643 1450h21M1673 1450h11M1693 1450h41M623 1458h51M723 1458h11M993 1458h31M1643 1458h11M1673 1458h11M1693 1458h11M1723 1458h11M273 1466h11M923 1466h11M983 1466h11M1003 1466h11M1053 1466h11M1643 1466h11M1683 1466h21M1723 1466h11M313 1474h11M1003 1474h11M1643 1474h11M1683 1474h21M1723 1474h11M313 1482h21M783 1482h11M1003 1482h11M1193 1482h11M1283 1482h21M1683 1482h21M1723 1482h11M193 1490h31M233 1490h21M313 1490h21M363 1490h21M423 1490h11M443 1490h11M973 1490h11M1303 1490h11M1493 1490h11M1693 1490h11M1723 1490h11M193 1498h21M333 1498h11M363 1498h11M453 1498h11M573 1498h11M663 1498h11M1313 1498h11M1453 1498h11M1553 1498h11M1643 1498h11M1703 1498h31M203 1506h11M323 1506h21M363 1506h11M493 1506h11M553 1506h11M1183 1506h11M1423 1506h11M1543 1506h11M1723 1506h11M203 1514h11M323 1514h11M363 1514h11M423 1514h11M493 1514h11M943 1514h11M1413 1514h11M1543 1514h11M1723 1514h11M203 1522h11M363 1522h21M493 1522h11M643 1522h11M1613 1522h11M203 1530h11M363 1530h11M953 1530h11M1693 1530h11M203 1538h21M243 1538h31M1013 1538h11M1193 1538h11M1553 1538h11M1693 1538h11M213 1546h11M233 1546h11M333 1546h11M713 1546h11M963 1546h11M1013 1546h11M1193 1546h11M1273 1546h11M1333 1546h11M1693 1546h11M473 1554h11M1013 1554h11M1193 1554h11M1273 1554h11M1343 1554h21M1433 1554h11M1493 1554h11M1693 1554h11M373 1562h11M493 1562h11M543 1562h11M663 1562h11M1013 1562h11M1063 1562h11M1193 1562h11M483 1570h11M563 1570h11M783 1570h11M1073 1570h11M1153 1570h21M1563 1570h11M1643 1570h11M193 1578h11M683 1578h11M743 1578h11M863 1578h21M893 1578h11M1053 1578h11M1443 1578h11M193 1586h11M973 1586h11M1053 1586h11M1273 1586h11M1443 1586h11M1573 1586h11M1683 1586h11M293 1594h11M863 1594h11M1083 1594h11M1683 1594h11"/>
<path stroke="#2e87f7" d="M1633 938h21M1593 954h101M243 962h111M1543 962h31M1703 962h31M483 970h331M1103 970h381M813 1034h21M1423 1034h21M663 1042h31M1473 1042h11M583 1050h21M1493 1050h11M563 1058h11M1503 1058h11M593 1066h11M1503 1066h11M653 1074h11M1503 1074h11M713 1082h11M1493 1082h11M773 1090h11M1493 1090h11M833 1098h11M1493 1098h11M913 1106h11M1483 1106h11M983 1114h11M1503 1114h11M1003 1122h11M1533 1122h11M993 1130h11M1563 1130h11M553 1138h61M953 1138h21M1563 1138h11M533 1146h121M953 1146h21M1553 1146h11M493 1154h61M673 1154h31M1003 1154h21M1533 1154h11M343 1162h51M763 1162h11M1063 1162h11M1523 1162h11M193 1170h41M833 1170h11M1093 1170h11M1533 1170h11M883 1178h11M1103 1178h11M1563 1178h11M913 1186h11M1103 1186h11M1583 1186h11M923 1194h11M1603 1194h11M923 1202h11M1093 1202h11M1613 1202h11M913 1210h11M1073 1210h11M1613 1210h11M913 1218h11M1613 1218h11M463 1226h31M943 1226h11M1053 1226h11M1603 1226h11M433 1234h11M503 1234h11M1033 1234h11M1053 1234h11M1583 1234h11M433 1242h11M503 1242h11M1533 1242h11M433 1250h11M513 1250h11M1503 1250h11M1483 1258h11M533 1266h11M1053 1266h11M1473 1266h21M543 1274h11M1063 1274h11M1483 1274h31M553 1282h11M1493 1282h41M1503 1290h31M563 1298h11M1503 1298h31M1513 1306h11M573 1314h11M1083 1314h11M1513 1314h11M583 1322h11M1053 1322h31M1513 1322h11M593 1330h11M1513 1330h11M433 1338h11M613 1338h11M433 1346h11M633 1346h11M993 1346h11M1123 1346h11M653 1354h11M1133 1354h11M1523 1354h11M443 1362h11M1133 1362h11M1193 1362h11M1633 1362h11M463 1370h11M1183 1370h11M1623 1370h21M493 1378h81M1553 1378h11M1603 1378h51M603 1386h11M703 1386h11M1633 1386h21M193 1394h11M223 1394h11M713 1394h11M1183 1394h11M1633 1394h31M243 1402h11M653 1402h11M723 1402h11M1183 1402h11M1293 1402h11M1643 1402h31M253 1410h11M673 1410h11M1633 1410h101M263 1418h11M683 1418h11M733 1418h11M993 1418h11M1133 1418h11M1283 1418h11M1633 1418h101M693 1426h21M733 1426h11M993 1426h11M1123 1426h11M1193 1426h11M1273 1426h11M1633 1426h101M693 1434h51M993 1434h11M1123 1434h11M1203 1434h31M1243 1434h31M1633 1434h101M673 1442h11M693 1442h11M723 1442h21M993 1442h11M1033 1442h11M1203 1442h41M1623 1442h21M1673 1442h31M1723 1442h11M633 1450h41M703 1450h11M723 1450h11M743 1450h11M903 1450h21M1023 1450h11M1203 1450h31M1633 1450h11M1683 1450h11M283 1458h11M613 1458h11M703 1458h21M753 1458h21M983 1458h11M1203 1458h31M1683 1458h11M303 1466h21M593 1466h11M773 1466h11M1013 1466h11M1203 1466h21M303 1474h11M323 1474h11M583 1474h11M783 1474h11M873 1474h11M1013 1474h11M1053 1474h11M1193 1474h21M1633 1474h11M303 1482h11M333 1482h11M1013 1482h11M1053 1482h11M1473 1482h31M1513 1482h21M1623 1482h21M223 1490h11M253 1490h11M333 1490h31M933 1490h11M1013 1490h11M1053 1490h11M1273 1490h11M1463 1490h11M1503 1490h41M1553 1490h11M1623 1490h11M213 1498h11M313 1498h11M343 1498h21M383 1498h11M503 1498h21M643 1498h11M1013 1498h11M1053 1498h11M1183 1498h11M1503 1498h11M1523 1498h31M1693 1498h11M193 1506h11M343 1506h21M383 1506h11M1013 1506h11M1053 1506h11M1413 1506h11M1503 1506h11M1533 1506h11M1643 1506h11M1693 1506h31M193 1514h11M463 1514h11M643 1514h11M1013 1514h11M1053 1514h11M1323 1514h11M1503 1514h11M1643 1514h11M1693 1514h11M213 1522h11M423 1522h11M1013 1522h11M1133 1522h11M1503 1522h11M1543 1522h11M1693 1522h11M213 1530h11M253 1530h11M373 1530h11M493 1530h11M1013 1530h11M1363 1530h11M1423 1530h11M1503 1530h11M1613 1530h11M223 1538h21M373 1538h11M493 1538h11M963 1538h11M203 1546h11M223 1546h11M373 1546h11M493 1546h11M653 1546h11M203 1554h31M283 1554h11M333 1554h11M373 1554h11M493 1554h11M663 1554h11M713 1554h11M1143 1554h11M723 1562h11M1173 1562h11M1273 1562h11M1363 1562h11M193 1570h11M533 1570h11M553 1570h11M693 1570h11M733 1570h11M793 1570h11M863 1570h11M923 1570h11M963 1570h11M1013 1570h11M1053 1570h21M1193 1570h11M1273 1570h11M1363 1570h11M573 1578h11M733 1578h11M883 1578h11M1013 1578h11M1193 1578h11M1273 1578h11M293 1586h11M583 1586h11M723 1586h11M1013 1586h11M193 1594h11M523 1594h11M1013 1594h11M1053 1594h11M1183 1594h11M1573 1594h11M1613 1594h11"/>
<path stroke="#2b90ef" d="M1553 938h81M1653 938h81M1563 946h151M1543 954h51M1693 954h41M193 962h51M353 962h71M1503 962h41M833 1034h21M1403 1034h21M693 1042h21M1463 1042h11M603 1050h21M1483 1050h11M573 1058h21M1493 1058h11M603 1066h21M663 1074h11M1493 1074h11M723 1082h11M1483 1082h11M1483 1098h11M923 1106h11M1473 1106h11M993 1114h11M1493 1114h11M1523 1122h11M1003 1130h11M1543 1130h21M973 1138h21M1553 1138h11M973 1146h11M1543 1146h11M553 1154h121M1023 1154h11M1523 1154h11M393 1162h51M753 1162h11M1073 1162h11M1513 1162h11M233 1170h21M823 1170h11M1103 1170h11M1523 1170h11M873 1178h11M1553 1178h11M903 1186h11M1573 1186h11M913 1194h11M1103 1194h11M1593 1194h11M913 1202h11M1603 1202h11M903 1210h11M1083 1210h11M1603 1210h11M903 1218h11M1063 1218h11M1603 1218h11M443 1226h21M493 1226h11M933 1226h11M1593 1226h11M513 1234h11M983 1234h51M1573 1234h11M513 1242h11M1063 1242h11M1493 1250h11M523 1258h11M1473 1258h11M1453 1266h21M1463 1274h21M1063 1282h11M1473 1282h21M563 1290h11M1483 1290h21M1073 1298h11M1493 1298h11M573 1306h11M1073 1306h21M1503 1306h11M1063 1314h21M1093 1314h11M1503 1314h11M1043 1322h11M1103 1322h11M1033 1330h11M623 1338h11M1023 1338h11M1513 1338h11M643 1346h11M1003 1346h21M1133 1346h11M1273 1346h21M1513 1346h11M433 1354h11M663 1354h11M1143 1354h11M1263 1354h11M1293 1354h11M673 1362h11M1143 1362h11M1183 1362h11M1523 1362h11M453 1370h11M683 1370h11M1533 1370h11M193 1378h11M483 1378h11M693 1378h11M983 1378h11M1543 1378h11M193 1386h31M593 1386h11M983 1386h11M1563 1386h71M233 1394h11M623 1394h11M983 1394h11M1603 1394h31M643 1402h11M983 1402h11M1613 1402h31M663 1410h11M733 1410h11M1293 1410h11M1613 1410h21M1603 1418h31M683 1426h11M743 1426h11M1283 1426h11M1603 1426h31M273 1434h11M683 1434h11M743 1434h11M1193 1434h11M1273 1434h11M1603 1434h31M643 1442h31M703 1442h21M743 1442h11M1193 1442h11M1243 1442h21M1603 1442h21M283 1450h11M623 1450h11M713 1450h11M753 1450h11M893 1450h11M983 1450h11M1193 1450h11M1233 1450h11M1623 1450h11M293 1458h21M883 1458h11M1023 1458h11M1043 1458h11M1193 1458h11M1233 1458h11M1633 1458h11M283 1466h21M1193 1466h11M1223 1466h11M1633 1466h11M273 1474h11M293 1474h11M333 1474h11M1213 1474h11M1283 1474h21M1603 1474h31M263 1482h11M343 1482h41M573 1482h11M973 1482h11M1203 1482h11M1273 1482h11M1303 1482h11M1503 1482h11M1533 1482h11M1563 1482h11M383 1490h11M573 1490h11M1543 1490h11M1633 1490h11M223 1498h31M493 1498h11M563 1498h11M653 1498h11M1443 1498h11M1513 1498h11M213 1506h11M313 1506h11M463 1506h11M533 1506h21M643 1506h11M663 1506h11M943 1506h11M1403 1506h11M1523 1506h11M213 1514h11M383 1514h11M663 1514h11M1533 1514h11M1703 1514h11M193 1522h11M323 1522h11M953 1522h11M1053 1522h11M1363 1522h21M1413 1522h11M1643 1522h11M1723 1522h11M193 1530h11M223 1530h31M263 1530h11M423 1530h11M963 1530h11M1053 1530h11M1373 1530h11M273 1538h11M653 1538h11M1333 1538h11M1353 1538h21M473 1546h11M663 1546h11M1343 1546h31M1553 1546h11M193 1554h11M1053 1554h11M1363 1554h11M193 1562h21M223 1562h11M333 1562h11M483 1562h11M703 1562h11M793 1562h11M1053 1562h11M1433 1562h11M1643 1562h11M203 1570h11M543 1570h11M933 1570h31M293 1578h11M423 1578h11M533 1578h11M903 1578h11M1063 1578h21M1363 1578h11M1563 1578h11M693 1586h11M873 1586h11M1193 1586h11M533 1594h11M583 1594h11M1703 1594h11"/>
<path stroke="#2699e9" d="M243 938h91M1503 938h51M1523 946h41M1713 946h21M203 954h191M1513 954h31M423 962h61M1473 962h31M853 1034h21M1383 1034h21M713 1042h31M1453 1042h11M623 1050h21M1473 1050h11M593 1058h21M1483 1058h11M623 1066h11M1493 1066h11M673 1074h11M1483 1074h11M1473 1082h11M783 1090h11M1483 1090h11M843 1098h11M1473 1098h11M933 1106h11M1463 1106h11M1003 1114h11M1483 1114h11M1013 1122h11M1513 1122h11M1013 1130h11M1533 1130h11M993 1138h21M1543 1138h11M983 1146h21M1533 1146h11M1033 1154h11M1513 1154h11M443 1162h31M743 1162h11M1083 1162h11M1503 1162h11M253 1170h31M1513 1170h11M193 1178h11M1113 1178h11M1543 1178h11M893 1186h11M1113 1186h11M1563 1186h11M1113 1194h11M1583 1194h11M903 1202h11M1103 1202h11M1593 1202h11M893 1210h11M1093 1210h11M893 1218h11M1593 1218h11M193 1226h11M503 1226h11M923 1226h11M1583 1226h11M973 1234h11M1563 1234h11M1033 1242h11M1523 1242h11M523 1250h11M1043 1258h11M1073 1258h11M1463 1258h11M543 1266h11M1073 1266h11M1433 1266h21M553 1274h11M1053 1274h11M1073 1274h11M1443 1274h21M563 1282h11M1073 1282h11M1453 1282h21M1063 1290h21M1473 1290h11M573 1298h11M1083 1298h11M1483 1298h11M1063 1306h11M1093 1306h11M1493 1306h11M583 1314h11M1053 1314h11M1493 1314h11M593 1322h11M1503 1322h11M603 1330h11M1113 1330h11M1503 1330h11M633 1338h11M1123 1338h11M653 1346h11M983 1346h11M1143 1346h11M673 1354h11M983 1354h11M1153 1354h11M1173 1354h91M1513 1354h11M193 1362h11M683 1362h21M983 1362h11M1173 1362h11M193 1370h11M693 1370h11M983 1370h11M1143 1370h11M1173 1370h11M1523 1370h11M203 1378h11M473 1378h11M703 1378h11M1143 1378h11M1173 1378h11M1303 1378h11M1533 1378h11M223 1386h11M583 1386h11M713 1386h11M1303 1386h11M1543 1386h21M243 1394h11M613 1394h11M723 1394h11M1553 1394h51M253 1402h11M633 1402h11M733 1402h11M1563 1402h51M263 1410h11M653 1410h11M983 1410h11M1183 1410h11M1573 1410h41M673 1418h11M743 1418h11M983 1418h11M1563 1418h41M273 1426h11M1133 1426h11M1543 1426h61M673 1434h11M1283 1434h11M1533 1434h71M283 1442h11M623 1442h21M753 1442h11M903 1442h21M983 1442h11M1263 1442h21M1523 1442h11M1593 1442h11M293 1450h11M613 1450h11M763 1450h11M1033 1450h11M1133 1450h11M1243 1450h11M1613 1450h11M313 1458h11M603 1458h11M773 1458h11M923 1458h11M1133 1458h11M323 1466h11M783 1466h11M873 1466h11M1023 1466h11M1133 1466h11M1283 1466h21M283 1474h11M343 1474h21M973 1474h11M1273 1474h11M1483 1474h41M1593 1474h11M423 1482h21M933 1482h11M303 1490h11M453 1490h11M1183 1490h11M1203 1490h11M1313 1490h11M1453 1490h11M253 1498h11M1413 1498h31M1623 1498h21M223 1506h41M1323 1506h11M1513 1506h11M223 1514h11M243 1514h21M963 1514h11M1133 1514h11M1353 1514h41M1403 1514h11M1513 1514h21M223 1522h41M383 1522h11M663 1522h11M963 1522h11M1353 1522h11M1383 1522h11M1533 1522h11M663 1530h11M1333 1530h11M1353 1530h11M1543 1530h11M1643 1530h11M193 1538h11M423 1538h11M473 1538h11M663 1538h11M1053 1538h11M1373 1538h11M1503 1538h11M1613 1538h11M1643 1538h11M193 1546h11M283 1546h11M423 1546h11M1053 1546h11M1643 1546h11M483 1554h11M793 1554h11M1173 1554h11M1643 1554h11M213 1562h11M863 1562h11M1153 1562h11M1493 1562h11M293 1570h11M333 1570h11M423 1570h11M203 1578h11M693 1578h11M533 1586h11M573 1586h11M883 1586h21M1063 1586h21M1363 1586h11M1613 1586h11M223 1594h11M543 1594h11M573 1594h11M693 1594h11M803 1594h11M853 1594h11M873 1594h11M1193 1594h11M1433 1594h11M1633 1594h11"/>
<path stroke="#22a2e4" d="M193 938h51M333 938h1171M193 946h261M1473 946h51M193 954h11M393 954h91M1463 954h51M483 962h991M873 1034h21M1363 1034h21M743 1042h21M1443 1042h11M643 1050h31M1463 1050h11M613 1058h21M1473 1058h11M633 1066h21M1483 1066h11M683 1074h11M733 1082h11M793 1090h11M1473 1090h11M853 1098h11M1463 1098h11M943 1106h11M1453 1106h11M1013 1114h21M1473 1114h11M1023 1122h11M1503 1122h11M1023 1130h11M1013 1138h11M1533 1138h11M1003 1146h21M1523 1146h11M1043 1154h11M473 1162h41M723 1162h21M1093 1162h11M283 1170h21M813 1170h11M1113 1170h11M203 1178h21M863 1178h11M1533 1178h11M903 1194h11M1573 1194h11M1113 1202h11M1583 1202h11M1103 1210h11M1593 1210h11M193 1218h11M883 1218h11M1073 1218h11M1583 1218h11M433 1226h11M513 1226h11M913 1226h11M1573 1226h11M193 1234h11M423 1234h11M523 1234h11M953 1234h21M1553 1234h11M423 1242h11M523 1242h11M1003 1242h31M1513 1242h11M423 1250h11M1033 1250h11M1483 1250h11M423 1258h11M533 1258h11M1433 1258h31M423 1266h11M1383 1266h51M423 1274h11M1413 1274h31M423 1282h11M1443 1282h11M423 1290h11M1083 1290h11M1463 1290h11M423 1298h11M1063 1298h11M1473 1298h11M423 1306h11M583 1306h11M1053 1306h11M1483 1306h11M423 1314h11M1043 1314h11M423 1322h11M1033 1322h11M1493 1322h11M423 1330h11M613 1330h11M1023 1330h11M423 1338h11M643 1338h11M983 1338h21M1013 1338h11M1133 1338h21M1503 1338h11M663 1346h21M1153 1346h31M1503 1346h11M193 1354h11M683 1354h31M1163 1354h11M433 1362h11M703 1362h51M1153 1362h21M1513 1362h11M203 1370h11M443 1370h11M703 1370h61M1303 1370h11M213 1378h11M463 1378h11M713 1378h21M913 1378h11M1523 1378h11M233 1386h11M513 1386h71M723 1386h11M913 1386h11M1143 1386h11M1173 1386h11M1533 1386h11M603 1394h11M733 1394h11M1143 1394h11M1303 1394h11M1533 1394h21M1533 1402h31M743 1410h11M1533 1410h41M273 1418h11M663 1418h11M1183 1418h11M1293 1418h11M1523 1418h41M673 1426h11M753 1426h11M983 1426h11M1293 1426h11M1523 1426h21M283 1434h11M643 1434h31M753 1434h11M983 1434h11M1133 1434h11M1513 1434h21M293 1442h11M1133 1442h11M1283 1442h11M1513 1442h11M1533 1442h21M1583 1442h11M303 1450h11M1253 1450h41M1243 1458h11M1273 1458h31M1623 1458h11M333 1466h11M1043 1466h11M1233 1466h11M1273 1466h11M1623 1466h11M363 1474h11M573 1474h11M1133 1474h11M1223 1474h11M1303 1474h11M1473 1474h11M1523 1474h11M1583 1474h11M273 1482h11M293 1482h11M383 1482h11M443 1482h11M1133 1482h11M1213 1482h11M1463 1482h11M1543 1482h11M263 1490h11M563 1490h11M303 1498h11M463 1498h11M523 1498h11M553 1498h11M943 1498h11M1203 1498h11M1403 1498h11M483 1506h11M963 1506h11M1133 1506h11M1353 1506h21M1393 1506h11M1623 1506h11M233 1514h11M313 1514h11M483 1514h11M953 1514h11M1393 1514h11M263 1522h11M653 1522h11M1333 1522h11M1513 1522h11M1703 1522h11M473 1530h11M653 1530h11M1343 1530h11M793 1538h11M1343 1538h11M1423 1538h11M793 1546h11M1143 1546h11M1173 1546h11M1613 1546h11M423 1554h11M863 1554h11M293 1562h11M423 1562h11M713 1562h11M1163 1562h11M213 1570h21M1433 1570h11M333 1578h11M543 1578h11M563 1578h11M1613 1578h11M203 1586h11M333 1586h11M1433 1586h11M1563 1586h11M333 1594h11M893 1594h11M1493 1594h11M1723 1594h11"/>
<path stroke="#1caadf" d="M453 946h1021M483 954h981M893 1034h21M1343 1034h21M763 1042h21M1433 1042h11M673 1050h21M1453 1050h11M633 1058h21M1463 1058h11M653 1066h21M1473 1066h11M693 1074h21M1473 1074h11M743 1082h11M1463 1082h11M803 1090h11M1463 1090h11M863 1098h11M953 1106h11M1443 1106h11M1033 1114h11M1463 1114h11M1033 1122h11M1033 1130h11M1523 1130h11M1023 1138h11M1523 1138h11M1023 1146h11M1513 1146h11M1053 1154h11M1503 1154h11M513 1162h81M653 1162h71M1493 1162h11M303 1170h51M803 1170h11M1123 1170h11M1503 1170h11M223 1178h21M853 1178h11M1123 1178h11M1523 1178h11M883 1186h11M1123 1186h11M1553 1186h11M893 1194h11M1123 1194h11M893 1202h11M1123 1202h11M193 1210h11M883 1210h11M1113 1210h11M1583 1210h11M203 1218h11M873 1218h11M1083 1218h11M203 1226h11M523 1226h11M903 1226h11M1063 1226h11M203 1234h11M943 1234h11M1063 1234h11M1543 1234h11M193 1242h11M993 1242h11M193 1250h11M533 1250h11M1023 1250h11M1073 1250h11M1473 1250h11M1383 1258h51M1043 1266h11M1343 1266h41M563 1274h11M1383 1274h31M1053 1282h11M1083 1282h11M1433 1282h11M573 1290h11M1453 1290h11M1053 1298h11M1463 1298h11M1043 1306h11M1473 1306h11M593 1314h11M1033 1314h11M1103 1314h11M1483 1314h11M603 1322h11M623 1330h21M1123 1330h11M1493 1330h11M193 1338h11M653 1338h11M1153 1338h11M1273 1338h21M193 1346h11M423 1346h11M683 1346h21M1183 1346h21M1263 1346h11M1293 1346h11M203 1354h11M713 1354h31M1503 1354h11M203 1362h11M753 1362h21M213 1370h11M763 1370h11M903 1370h21M973 1370h11M1153 1370h21M1513 1370h11M223 1378h11M733 1378h31M903 1378h11M923 1378h11M973 1378h11M1513 1378h11M493 1386h21M733 1386h11M903 1386h11M923 1386h11M973 1386h11M1523 1386h11M253 1394h11M593 1394h11M913 1394h11M1173 1394h11M1523 1394h11M263 1402h11M623 1402h11M743 1402h11M1143 1402h11M1303 1402h11M1523 1402h11M643 1410h11M1523 1410h11M653 1418h11M753 1418h11M1513 1418h11M283 1426h11M653 1426h21M1183 1426h11M1513 1426h11M623 1434h21M913 1434h11M1183 1434h11M1293 1434h11M613 1442h11M763 1442h11M893 1442h11M1293 1442h11M1503 1442h11M1553 1442h31M313 1450h11M603 1450h11M773 1450h11M883 1450h11M923 1450h11M1293 1450h11M1503 1450h31M1603 1450h11M323 1458h11M593 1458h11M783 1458h11M1033 1458h11M1253 1458h21M1503 1458h11M1613 1458h11M343 1466h11M583 1466h11M973 1466h11M1243 1466h11M1263 1466h11M1303 1466h11M1483 1466h31M1613 1466h11M373 1474h11M933 1474h11M1023 1474h11M1263 1474h11M283 1482h11M563 1482h11M793 1482h11M863 1482h11M1183 1482h11M1263 1482h11M1313 1482h11M1553 1482h11M413 1490h11M503 1490h11M793 1490h11M863 1490h11M1133 1490h11M1263 1490h11M1443 1490h11M263 1498h11M483 1498h11M793 1498h11M863 1498h11M963 1498h11M1133 1498h11M1263 1498h11M1323 1498h11M263 1506h11M303 1506h11M653 1506h11M793 1506h11M863 1506h11M953 1506h11M1263 1506h11M1343 1506h11M1373 1506h21M1633 1506h11M263 1514h11M473 1514h11M653 1514h11M793 1514h11M863 1514h11M1333 1514h21M1623 1514h11M1713 1514h11M473 1522h21M793 1522h11M863 1522h11M1343 1522h11M1393 1522h21M1523 1522h11M273 1530h11M323 1530h11M383 1530h11M483 1530h11M793 1530h11M863 1530h11M1383 1530h11M1723 1530h11M483 1538h11M863 1538h11M483 1546h11M863 1546h11M1373 1546h11M1553 1554h11M1613 1554h11M1613 1562h11M1493 1570h11M1613 1570h11M223 1578h11M553 1578h11M963 1578h11M1433 1578h11M223 1586h11M383 1586h11M543 1586h11M803 1586h11M853 1586h11M1633 1586h11M203 1594h11M383 1594h11M563 1594h11M713 1594h11M883 1594h11M903 1594h11M1063 1594h21M1363 1594h11M1623 1594h11"/>
<path stroke="#12b1d6" d="M913 1034h21M1323 1034h21M783 1042h11M1423 1042h11M693 1050h31M1443 1050h11M653 1058h21M673 1066h21M1463 1066h11M713 1074h11M1463 1074h11M753 1082h11M1453 1082h11M813 1090h11M873 1098h11M1453 1098h11M963 1106h11M1433 1106h11M1043 1114h11M1453 1114h11M1043 1122h11M1493 1122h11M1513 1130h11M1033 1138h11M1513 1138h11M1033 1146h11M1503 1146h11M1063 1154h11M1493 1154h11M593 1162h61M1103 1162h11M1483 1162h11M353 1170h31M793 1170h11M1133 1170h11M1493 1170h11M243 1178h11M1133 1178h11M193 1186h21M873 1186h11M1543 1186h11M883 1194h11M1133 1194h11M1563 1194h11M193 1202h11M883 1202h11M1133 1202h11M1573 1202h11M203 1210h11M873 1210h11M1123 1210h11M1573 1210h11M213 1218h11M1573 1218h11M213 1226h11M423 1226h11M893 1226h11M1563 1226h11M413 1234h11M533 1234h11M933 1234h11M203 1242h11M533 1242h11M973 1242h21M1503 1242h11M1013 1250h11M1463 1250h11M193 1258h11M543 1258h11M1033 1258h11M1323 1258h61M553 1266h11M1313 1266h31M1043 1274h11M1363 1274h21M573 1282h11M1403 1282h31M1053 1290h11M1443 1290h11M583 1298h11M1043 1298h11M1093 1298h11M1453 1298h11M593 1306h11M1463 1306h11M603 1314h11M1473 1314h11M193 1322h11M613 1322h11M1023 1322h11M1113 1322h11M1483 1322h11M193 1330h11M643 1330h11M1013 1330h11M1133 1330h11M663 1338h21M1003 1338h11M1163 1338h11M1493 1338h11M203 1346h11M703 1346h11M1203 1346h21M423 1354h11M743 1354h21M213 1362h11M773 1362h21M973 1362h11M1303 1362h11M1503 1362h11M223 1370h11M773 1370h21M883 1370h21M923 1370h11M233 1378h11M453 1378h11M763 1378h11M893 1378h11M1153 1378h21M243 1386h11M483 1386h11M743 1386h11M1513 1386h11M573 1394h21M743 1394h11M903 1394h11M923 1394h11M973 1394h11M1513 1394h11M613 1402h11M913 1402h11M1513 1402h11M273 1410h11M633 1410h11M1143 1410h11M1303 1410h11M1513 1410h11M643 1418h11M623 1426h31M913 1426h11M1503 1426h11M293 1434h11M613 1434h11M763 1434h11M903 1434h11M1503 1434h11M303 1442h11M603 1442h11M1183 1442h11M1183 1450h11M1493 1450h11M1593 1450h11M333 1458h11M873 1458h11M973 1458h11M1303 1458h11M1483 1458h21M1513 1458h11M353 1466h11M1253 1466h11M1473 1466h11M1513 1466h11M1603 1466h11M563 1474h11M793 1474h11M863 1474h11M1043 1474h11M1183 1474h11M1233 1474h11M1253 1474h11M1313 1474h11M1463 1474h11M1533 1474h11M1573 1474h11M1223 1482h11M1453 1482h11M273 1490h11M293 1490h11M393 1490h11M493 1490h11M513 1490h11M943 1490h11M963 1490h11M1323 1490h11M1433 1490h11M413 1498h11M473 1498h11M1333 1498h31M1393 1498h11M473 1506h11M1333 1506h11M1263 1514h11M1633 1514h11M313 1522h11M1513 1530h11M1533 1530h11M1703 1530h11M283 1538h11M383 1538h11M1143 1538h11M1173 1538h11M1543 1538h11M1503 1546h11M293 1554h11M1153 1554h11M383 1570h11M213 1578h11M383 1578h11M803 1578h11M1493 1578h11M563 1586h11M903 1586h11M1493 1586h11M1703 1586h11M1723 1586h11M553 1594h11M1563 1594h11"/>
<path stroke="#02b7cb" d="M933 1034h31M1303 1034h21M793 1042h21M1413 1042h11M723 1050h21M673 1058h31M1453 1058h11M693 1066h21M723 1074h11M1453 1074h11M763 1082h11M1443 1082h11M823 1090h11M1453 1090h11M883 1098h11M1443 1098h11M973 1106h11M1423 1106h11M1053 1114h21M1053 1122h11M1483 1122h11M1043 1130h11M1503 1130h11M1043 1138h11M1503 1138h11M1043 1146h11M1073 1154h11M1483 1154h11M1113 1162h21M1473 1162h11M383 1170h21M1143 1170h11M1483 1170h11M253 1178h21M843 1178h11M1513 1178h11M213 1186h11M1133 1186h11M1533 1186h11M193 1194h11M1553 1194h11M203 1202h11M873 1202h11M1563 1202h11M213 1210h11M863 1210h11M1133 1210h11M1563 1210h11M223 1218h11M453 1218h61M863 1218h11M1093 1218h11M1563 1218h11M413 1226h11M533 1226h11M883 1226h11M1553 1226h11M213 1234h11M923 1234h11M1533 1234h11M413 1242h11M963 1242h11M1493 1242h11M203 1250h11M413 1250h11M993 1250h21M1443 1250h21M413 1258h11M1023 1258h11M1303 1258h21M193 1266h11M413 1266h11M1033 1266h11M1303 1266h11M193 1274h11M413 1274h11M1083 1274h11M1333 1274h31M193 1282h11M413 1282h11M1043 1282h11M1383 1282h21M193 1290h11M413 1290h11M583 1290h11M1043 1290h11M1423 1290h21M193 1298h11M413 1298h11M1443 1298h11M193 1306h11M1033 1306h11M193 1314h11M613 1314h11M623 1322h21M653 1330h11M983 1330h11M1143 1330h11M1483 1330h11M203 1338h11M683 1338h11M1173 1338h11M713 1346h21M1223 1346h41M1493 1346h11M213 1354h11M763 1354h21M973 1354h11M1493 1354h11M223 1362h11M793 1362h11M883 1362h51M433 1370h11M793 1370h11M873 1370h11M933 1370h11M1503 1370h11M243 1378h11M443 1378h11M773 1378h11M883 1378h11M1503 1378h11M253 1386h11M473 1386h11M753 1386h11M893 1386h11M1153 1386h21M263 1394h11M533 1394h41M273 1402h11M593 1402h21M903 1402h11M923 1402h11M973 1402h11M1173 1402h11M613 1410h21M753 1410h11M913 1410h11M1503 1410h11M283 1418h11M613 1418h31M913 1418h11M1143 1418h11M1303 1418h11M1503 1418h11M293 1426h11M613 1426h11M763 1426h11M903 1426h11M1303 1426h11M303 1434h11M603 1434h11M893 1434h11M1303 1434h11M313 1442h11M773 1442h11M923 1442h11M1303 1442h11M1493 1442h11M323 1450h11M593 1450h11M783 1450h11M973 1450h11M1303 1450h11M1533 1450h11M343 1458h11M1183 1458h11M1523 1458h11M1603 1458h11M363 1466h11M573 1466h11M933 1466h11M1033 1466h11M1183 1466h11M1313 1466h11M1523 1466h11M1593 1466h11M383 1474h11M423 1474h21M1243 1474h11M393 1482h11M413 1482h11M453 1482h11M1023 1482h11M1253 1482h11M1323 1482h11M283 1490h11M463 1490h11M483 1490h11M553 1490h11M1213 1490h11M1403 1490h31M293 1498h11M393 1498h11M533 1498h21M953 1498h11M1363 1498h11M1383 1498h11M1203 1506h11M303 1514h11M273 1522h11M1623 1522h21M1173 1530h11M1413 1530h11M1523 1530h11M1723 1538h11M293 1546h11M383 1546h11M383 1554h11M1163 1554h11M1373 1554h11M383 1562h11M1553 1562h11M703 1570h11M723 1570h11M723 1578h11M853 1578h11M913 1578h11M1633 1578h11M213 1586h11M553 1586h11M713 1586h11M1623 1586h11M213 1594h11M703 1594h11M963 1594h11"/>
<path stroke="#07bcbf" d="M963 1034h21M1273 1034h31M813 1042h21M1403 1042h11M743 1050h21M1433 1050h11M703 1058h21M1443 1058h11M713 1066h11M1453 1066h11M733 1074h11M1443 1074h11M773 1082h11M1443 1090h11M1433 1098h11M983 1106h21M1413 1106h11M1073 1114h11M1443 1114h11M1063 1122h11M1473 1122h11M1053 1130h11M1493 1130h11M1053 1138h11M1493 1138h11M1053 1146h21M1493 1146h11M1083 1154h21M1473 1154h11M1133 1162h11M1463 1162h11M403 1170h51M783 1170h11M1153 1170h11M1473 1170h11M273 1178h11M833 1178h11M1143 1178h11M1503 1178h11M223 1186h11M863 1186h11M203 1194h21M873 1194h11M1143 1194h11M1543 1194h11M213 1202h11M1143 1202h11M1553 1202h11M223 1210h11M1143 1210h11M443 1218h11M513 1218h11M853 1218h11M1103 1218h11M1553 1218h11M223 1226h11M543 1226h11M873 1226h11M1073 1226h11M1543 1226h11M403 1234h11M543 1234h11M913 1234h11M1523 1234h11M213 1242h11M403 1242h11M543 1242h11M953 1242h11M1073 1242h11M1483 1242h11M543 1250h11M983 1250h11M1413 1250h31M203 1258h11M553 1258h11M1013 1258h11M1293 1258h11M563 1266h11M1023 1266h11M1083 1266h11M1293 1266h11M573 1274h11M1033 1274h11M1313 1274h21M583 1282h11M1033 1282h11M1373 1282h11M1033 1290h11M1413 1290h11M593 1298h11M1033 1298h11M413 1306h11M603 1306h11M1103 1306h11M1453 1306h11M413 1314h11M623 1314h11M1023 1314h11M1463 1314h11M203 1322h11M413 1322h11M643 1322h11M1013 1322h11M1123 1322h11M1473 1322h11M203 1330h11M413 1330h11M663 1330h11M973 1330h11M1153 1330h11M1273 1330h21M413 1338h11M693 1338h21M973 1338h11M1183 1338h11M1263 1338h11M1293 1338h11M1483 1338h11M213 1346h11M413 1346h11M733 1346h21M973 1346h11M783 1354h21M1303 1354h11M423 1362h11M803 1362h11M863 1362h21M933 1362h11M963 1362h11M1493 1362h11M233 1370h11M863 1370h11M963 1370h11M783 1378h11M873 1378h11M933 1378h11M963 1378h11M263 1386h11M463 1386h11M763 1386h11M883 1386h11M933 1386h11M1503 1386h11M273 1394h11M513 1394h21M753 1394h11M893 1394h11M1153 1394h11M1503 1394h11M283 1402h11M573 1402h21M753 1402h11M1503 1402h11M283 1410h11M593 1410h21M903 1410h11M923 1410h11M973 1410h11M1173 1410h11M293 1418h11M603 1418h11M763 1418h11M903 1418h11M603 1426h11M1143 1426h11M773 1434h11M1493 1434h11M593 1442h11M883 1442h11M973 1442h11M333 1450h11M873 1450h11M1483 1450h11M1543 1450h11M1583 1450h11M353 1458h11M583 1458h11M1313 1458h11M1473 1458h11M1593 1458h11M373 1466h11M793 1466h11M863 1466h11M1463 1466h11M553 1474h11M1323 1474h11M1543 1474h11M1563 1474h11M553 1482h11M943 1482h11M963 1482h11M1043 1482h11M1233 1482h21M403 1490h11M473 1490h11M1253 1490h11M1333 1490h21M273 1498h11M1373 1498h11M273 1506h11M293 1506h11M393 1506h11M413 1506h11M273 1514h11M303 1522h11M1173 1522h11M1263 1522h11M283 1530h11M1143 1530h11M1623 1530h21M293 1538h11M323 1538h11M1383 1538h11M1623 1538h11M1703 1538h11M1373 1562h11M803 1570h11M1633 1570h11M1623 1578h11M1723 1578h11M703 1586h11M1023 1594h11M1043 1594h11"/>
<path stroke="#1dc0b3" d="M983 1034h41M1243 1034h31M833 1042h11M1393 1042h11M763 1050h21M1423 1050h11M723 1058h21M1433 1058h11M723 1066h21M1443 1066h11M743 1074h11M783 1082h11M1433 1082h11M833 1090h11M1433 1090h11M893 1098h11M1003 1106h11M1403 1106h11M1083 1114h21M1433 1114h11M1073 1122h11M1463 1122h11M1063 1130h11M1483 1130h11M1063 1138h11M1073 1146h11M1483 1146h11M1103 1154h11M1143 1162h11M453 1170h31M763 1170h21M1163 1170h11M283 1178h31M1153 1178h11M1493 1178h11M233 1186h21M1143 1186h11M1523 1186h11M223 1194h11M863 1194h11M223 1202h11M863 1202h11M1153 1202h11M853 1210h11M1153 1210h11M1553 1210h11M233 1218h11M433 1218h11M523 1218h11M843 1218h11M1113 1218h11M233 1226h11M373 1226h11M393 1226h21M863 1226h11M1533 1226h11M223 1234h11M373 1234h31M903 1234h11M1513 1234h11M943 1242h11M213 1250h11M403 1250h11M973 1250h11M1083 1250h11M1303 1250h111M403 1258h11M1003 1258h11M1083 1258h11M1283 1258h11M203 1266h11M1013 1266h11M203 1274h11M1023 1274h11M1303 1274h11M1363 1282h11M593 1290h11M1093 1290h11M1393 1290h21M603 1298h11M1433 1298h11M613 1306h11M1023 1306h11M1443 1306h11M203 1314h11M1113 1314h11M653 1322h11M1133 1322h11M673 1330h21M993 1330h21M1163 1330h11M1473 1330h11M213 1338h11M713 1338h11M1193 1338h11M753 1346h21M1483 1346h11M223 1354h11M413 1354h11M803 1354h11M903 1354h31M963 1354h11M233 1362h11M853 1362h11M943 1362h21M243 1370h11M803 1370h11M853 1370h11M943 1370h21M1493 1370h11M253 1378h21M793 1378h11M863 1378h11M273 1386h11M453 1386h11M773 1386h11M963 1386h11M283 1394h11M493 1394h21M1163 1394h11M1313 1394h11M293 1402h11M553 1402h21M893 1402h11M293 1410h11M583 1410h11M593 1418h11M923 1418h11M973 1418h11M1173 1418h11M1493 1418h11M303 1426h11M593 1426h11M893 1426h11M923 1426h11M973 1426h11M1493 1426h11M313 1434h11M593 1434h11M923 1434h11M973 1434h11M1143 1434h11M323 1442h11M783 1442h11M1313 1442h11M1483 1442h11M583 1450h11M1313 1450h11M1573 1450h11M363 1458h11M933 1458h11M1533 1458h11M563 1466h11M1323 1466h11M1533 1466h11M1583 1466h11M413 1474h11M443 1474h11M963 1474h11M1453 1474h11M1553 1474h11M403 1482h11M463 1482h11M483 1482h41M1333 1482h11M1443 1482h11M523 1490h11M953 1490h11M1023 1490h11M1353 1490h11M1393 1490h11M283 1498h11M403 1498h11M283 1506h11M293 1514h11M1173 1514h11M1203 1514h11M283 1522h21M1713 1522h11M293 1530h21M1263 1530h11M1393 1530h11M1513 1538h11M1533 1538h11M1633 1538h11M1153 1546h21M1423 1546h11M1543 1546h11M1623 1546h21M1723 1546h11M1623 1554h21M803 1562h11M1623 1562h21M853 1570h11M1373 1570h11M1553 1570h11M1623 1570h11M703 1578h11M1703 1578h11M963 1586h11M303 1594h11M1263 1594h11"/>
<path stroke="#2dc4a6" d="M1573 930h161M1023 1034h61M1193 1034h51M843 1042h21M1383 1042h11M783 1050h11M1413 1050h11M743 1058h21M1423 1058h11M743 1066h21M1433 1066h11M753 1074h21M1433 1074h11M793 1082h11M1423 1082h11M843 1090h11M1423 1090h11M903 1098h11M1423 1098h11M1013 1106h21M1393 1106h11M1103 1114h21M1413 1114h21M1083 1122h11M1453 1122h11M1073 1130h11M1473 1130h11M1073 1138h11M1483 1138h11M1083 1146h11M1473 1146h11M1113 1154h11M1463 1154h11M1153 1162h11M1453 1162h11M483 1170h31M753 1170h11M1173 1170h11M1463 1170h11M313 1178h41M823 1178h11M1483 1178h11M253 1186h11M853 1186h11M1153 1186h11M1513 1186h11M233 1194h11M1153 1194h11M1533 1194h11M233 1202h11M853 1202h11M1543 1202h11M233 1210h11M843 1210h11M1163 1210h11M1543 1210h11M243 1218h11M423 1218h11M533 1218h11M833 1218h11M1123 1218h11M1543 1218h11M243 1226h11M353 1226h21M383 1226h11M553 1226h11M853 1226h11M1083 1226h11M233 1234h11M353 1234h21M553 1234h11M893 1234h11M1073 1234h11M1503 1234h11M223 1242h11M363 1242h41M553 1242h11M933 1242h11M1463 1242h21M393 1250h11M553 1250h11M963 1250h11M1093 1250h11M1283 1250h21M213 1258h11M993 1258h11M1273 1258h11M403 1266h11M573 1266h11M1283 1266h11M403 1274h11M583 1274h11M203 1282h11M403 1282h11M593 1282h11M1023 1282h11M1343 1282h21M203 1290h11M403 1290h11M1023 1290h11M1383 1290h11M203 1298h11M403 1298h11M1023 1298h11M1413 1298h21M203 1306h11M403 1306h11M623 1306h11M403 1314h11M633 1314h11M1013 1314h11M1123 1314h11M1453 1314h11M403 1322h11M663 1322h11M973 1322h21M1143 1322h11M1463 1322h11M213 1330h11M403 1330h11M693 1330h11M1173 1330h11M403 1338h11M723 1338h11M1203 1338h21M1473 1338h11M223 1346h11M773 1346h21M233 1354h11M853 1354h51M933 1354h31M1483 1354h11M243 1362h11M813 1362h11M843 1362h11M253 1370h11M423 1370h11M273 1378h11M433 1378h11M943 1378h21M1313 1378h11M1493 1378h11M283 1386h21M783 1386h11M873 1386h11M1313 1386h11M1493 1386h11M293 1394h11M483 1394h11M763 1394h11M883 1394h11M933 1394h11M1493 1394h11M533 1402h21M763 1402h11M1153 1402h21M1313 1402h11M1493 1402h11M303 1410h11M563 1410h21M763 1410h11M893 1410h11M1313 1410h11M1493 1410h11M303 1418h11M583 1418h11M893 1418h11M1313 1418h11M313 1426h11M583 1426h11M773 1426h11M1173 1426h11M1313 1426h11M583 1434h11M883 1434h11M1313 1434h11M1483 1434h11M333 1442h11M583 1442h11M1143 1442h11M343 1450h11M1143 1450h11M1473 1450h11M1553 1450h21M573 1458h11M793 1458h11M863 1458h11M1323 1458h11M1583 1458h11M383 1466h11M553 1466h11M1573 1466h11M393 1474h21M453 1474h11M943 1474h11M1033 1474h11M1333 1474h11M473 1482h11M953 1482h11M1343 1482h11M1403 1482h41M543 1490h11M1043 1490h11M1223 1490h11M1363 1490h31M1213 1498h11M1253 1498h11M1173 1506h11M283 1514h11M393 1514h11M413 1514h11M1143 1522h11M313 1530h11M1403 1530h11M1703 1546h11M1503 1554h11M1723 1554h11M1723 1562h11M713 1570h11M1703 1570h11M1723 1570h11M953 1578h11M1373 1578h11M1023 1586h11M1043 1586h11M413 1594h11M913 1594h11M1203 1594h11"/>
<path stroke="#37c897" d="M1523 930h51M1083 1034h111M863 1042h21M1363 1042h21M793 1050h21M1403 1050h11M763 1058h21M1413 1058h11M763 1066h11M1423 1066h11M773 1074h11M1423 1074h11M803 1082h21M1413 1082h11M853 1090h11M913 1098h11M1413 1098h11M1033 1106h21M1373 1106h21M1123 1114h21M1403 1114h11M1093 1122h11M1443 1122h11M1083 1130h11M1463 1130h11M1083 1138h11M1473 1138h11M1093 1146h21M1463 1146h11M1123 1154h21M1453 1154h11M1163 1162h21M1443 1162h11M513 1170h31M723 1170h31M1183 1170h11M1453 1170h11M353 1178h31M813 1178h11M1163 1178h11M263 1186h11M843 1186h11M1503 1186h11M243 1194h11M853 1194h11M1523 1194h11M1163 1202h11M1533 1202h11M243 1210h11M833 1210h11M1533 1210h11M253 1218h11M413 1218h11M543 1218h11M823 1218h11M1133 1218h21M1533 1218h11M253 1226h11M343 1226h11M563 1226h11M843 1226h11M1523 1226h11M343 1234h11M883 1234h11M1493 1234h11M353 1242h11M923 1242h11M1083 1242h11M1453 1242h11M223 1250h11M363 1250h31M953 1250h11M1103 1250h11M1263 1250h21M393 1258h11M563 1258h11M983 1258h11M1093 1258h11M1263 1258h11M213 1266h11M393 1266h11M1003 1266h11M1273 1266h11M1013 1274h11M1293 1274h11M1093 1282h11M1313 1282h31M603 1290h11M1373 1290h11M613 1298h11M1103 1298h11M1403 1298h11M1113 1306h11M1433 1306h11M213 1314h11M643 1314h11M1443 1314h11M213 1322h11M673 1322h11M1003 1322h11M1153 1322h11M1273 1322h21M703 1330h11M1263 1330h11M1293 1330h11M1463 1330h11M223 1338h11M733 1338h21M1223 1338h11M1253 1338h11M233 1346h11M403 1346h11M793 1346h11M963 1346h11M1303 1346h11M243 1354h11M813 1354h11M843 1354h11M253 1362h11M413 1362h11M1483 1362h11M263 1370h31M843 1370h11M283 1378h31M803 1378h11M853 1378h11M303 1386h11M443 1386h11M863 1386h11M943 1386h11M303 1394h11M473 1394h11M773 1394h11M963 1394h11M303 1402h11M513 1402h21M883 1402h11M933 1402h11M553 1410h11M1153 1410h21M313 1418h11M573 1418h11M773 1418h11M573 1426h11M1483 1426h11M323 1434h11M783 1434h11M1173 1434h11M873 1442h11M1323 1442h11M1473 1442h11M353 1450h11M573 1450h11M793 1450h11M933 1450h11M1323 1450h11M373 1458h11M563 1458h11M1143 1458h11M1463 1458h11M1543 1458h11M1573 1458h11M423 1466h21M963 1466h11M1143 1466h11M1333 1466h11M1453 1466h11M1543 1466h11M1563 1466h11M543 1474h11M1143 1474h11M1343 1474h11M1443 1474h11M523 1482h11M543 1482h11M1353 1482h11M533 1490h11M1233 1490h21M1023 1498h11M1043 1498h11M1173 1498h11M403 1506h11M1143 1514h11M413 1522h11M1203 1522h11M303 1538h11M1153 1538h21M1263 1538h11M1523 1538h11M803 1554h11M1703 1554h11M853 1562h11M1703 1562h11M713 1578h11M1023 1578h11M1043 1578h11M1553 1578h11M1263 1586h11M1373 1586h11M813 1594h11M843 1594h11M1373 1594h11M1423 1594h11"/>
<path stroke="#48cb86" d="M193 930h341M1393 930h131M883 1042h11M1353 1042h11M813 1050h21M1393 1050h11M783 1058h21M1403 1058h11M773 1066h21M1413 1066h11M783 1074h11M1413 1074h11M823 1082h11M1403 1082h11M863 1090h21M1413 1090h11M923 1098h21M1403 1098h11M1053 1106h31M1353 1106h21M1143 1114h21M1383 1114h21M1103 1122h11M1433 1122h11M1093 1130h11M1453 1130h11M1093 1138h21M1463 1138h11M1113 1146h11M1453 1146h11M1143 1154h11M1443 1154h11M1183 1162h11M1433 1162h11M543 1170h71M663 1170h61M1193 1170h11M1443 1170h11M383 1178h31M803 1178h11M1173 1178h11M1473 1178h11M273 1186h21M833 1186h11M1163 1186h11M1493 1186h11M253 1194h11M843 1194h11M1163 1194h11M1513 1194h11M243 1202h21M843 1202h11M1173 1202h11M1523 1202h11M253 1210h11M443 1210h71M823 1210h11M1173 1210h11M263 1218h11M343 1218h71M553 1218h11M813 1218h11M1153 1218h11M1523 1218h11M263 1226h11M313 1226h31M573 1226h11M833 1226h11M1093 1226h11M1513 1226h11M243 1234h11M323 1234h21M563 1234h11M873 1234h11M1083 1234h11M233 1242h11M333 1242h21M913 1242h11M1093 1242h11M1433 1242h21M343 1250h21M563 1250h11M943 1250h11M1113 1250h11M1253 1250h11M223 1258h11M353 1258h41M973 1258h11M1103 1258h11M1253 1258h11M363 1266h31M993 1266h11M1093 1266h11M213 1274h11M393 1274h11M593 1274h11M1003 1274h11M1093 1274h11M1283 1274h11M213 1282h11M393 1282h11M603 1282h11M1013 1282h11M1303 1282h11M213 1290h11M393 1290h11M613 1290h11M1013 1290h11M1363 1290h11M213 1298h11M393 1298h11M623 1298h11M1013 1298h11M1393 1298h11M213 1306h11M393 1306h11M633 1306h11M1013 1306h11M1423 1306h11M393 1314h11M653 1314h11M973 1314h11M1133 1314h11M223 1322h11M393 1322h11M683 1322h11M1453 1322h11M223 1330h11M353 1330h51M713 1330h11M1183 1330h11M233 1338h11M353 1338h51M753 1338h21M1233 1338h21M243 1346h11M353 1346h21M393 1346h11M803 1346h21M883 1346h81M1473 1346h11M253 1354h11M403 1354h11M823 1354h21M263 1362h71M823 1362h21M293 1370h41M813 1370h11M1313 1370h11M1483 1370h11M313 1378h21M1483 1378h11M313 1386h21M793 1386h11M953 1386h11M313 1394h11M463 1394h11M873 1394h11M313 1402h11M493 1402h21M963 1402h11M313 1410h11M533 1410h21M773 1410h11M883 1410h11M933 1410h11M1483 1410h11M563 1418h11M883 1418h11M1153 1418h11M1483 1418h11M323 1426h11M783 1426h11M883 1426h11M333 1434h11M573 1434h11M1323 1434h11M343 1442h11M573 1442h11M933 1442h11M1173 1442h11M363 1450h11M863 1450h11M1173 1450h11M1463 1450h11M383 1458h11M553 1458h11M963 1458h11M1333 1458h11M1553 1458h21M393 1466h11M413 1466h11M443 1466h11M543 1466h11M943 1466h11M1553 1466h11M463 1474h11M483 1474h61M953 1474h11M1433 1474h11M533 1482h11M1033 1482h11M1143 1482h11M1173 1482h11M1363 1482h11M1393 1482h11M1143 1490h11M1173 1490h11M1143 1498h11M1023 1506h11M1143 1506h11M1253 1506h11M393 1522h11M1163 1530h11M1203 1530h11M1413 1538h11M303 1546h11M323 1546h11M803 1546h11M1263 1546h11M1383 1546h11M1513 1546h11M1263 1554h11M1543 1554h11M1023 1570h11M923 1578h11M1263 1578h11M303 1586h11M913 1586h11M1203 1586h11M1553 1586h11M1503 1594h11M1553 1594h11"/>
<path stroke="#5fcd73" d="M533 930h861M893 1042h21M1333 1042h21M833 1050h11M1383 1050h11M803 1058h21M1393 1058h11M793 1066h11M1403 1066h11M793 1074h21M1403 1074h11M833 1082h11M1393 1082h11M883 1090h11M1403 1090h11M943 1098h11M1383 1098h21M1083 1106h31M1333 1106h21M1163 1114h31M1363 1114h21M1113 1122h21M1423 1122h11M1103 1130h11M1443 1130h11M1113 1138h11M1453 1138h11M1123 1146h21M1443 1146h11M1153 1154h21M1433 1154h11M1193 1162h21M1413 1162h21M613 1170h51M1203 1170h21M1433 1170h11M413 1178h51M793 1178h11M1183 1178h11M1463 1178h11M293 1186h51M263 1194h21M833 1194h11M1503 1194h11M263 1202h11M833 1202h11M1513 1202h11M263 1210h21M423 1210h21M513 1210h21M813 1210h11M1183 1210h11M1523 1210h11M273 1218h71M563 1218h11M793 1218h21M1163 1218h21M1513 1218h11M273 1226h41M583 1226h11M823 1226h11M1503 1226h11M253 1234h21M303 1234h21M573 1234h11M863 1234h11M1473 1234h21M243 1242h11M323 1242h11M563 1242h11M903 1242h11M1103 1242h11M1283 1242h151M233 1250h11M333 1250h11M933 1250h11M1123 1250h21M1243 1250h11M343 1258h11M573 1258h11M963 1258h11M1113 1258h21M1243 1258h11M223 1266h11M343 1266h21M583 1266h11M983 1266h11M1103 1266h11M1263 1266h11M353 1274h41M353 1282h41M353 1290h41M1103 1290h11M1343 1290h21M353 1298h41M633 1298h11M1113 1298h11M1383 1298h11M353 1306h41M643 1306h11M1123 1306h11M1403 1306h21M223 1314h11M343 1314h51M663 1314h11M1003 1314h11M1143 1314h11M1273 1314h11M1433 1314h11M343 1322h51M693 1322h11M993 1322h11M1163 1322h11M1263 1322h11M1443 1322h11M233 1330h11M333 1330h21M723 1330h21M1193 1330h11M1453 1330h11M243 1338h11M333 1338h21M773 1338h21M963 1338h11M1463 1338h11M253 1346h11M313 1346h41M373 1346h21M823 1346h61M263 1354h121M393 1354h11M1473 1354h11M333 1362h21M403 1362h11M1313 1362h11M333 1370h11M413 1370h11M823 1370h21M333 1378h11M423 1378h11M433 1386h11M1483 1386h11M323 1394h11M453 1394h11M783 1394h11M863 1394h11M943 1394h21M1483 1394h11M323 1402h11M473 1402h21M773 1402h11M873 1402h11M1483 1402h11M323 1410h11M513 1410h21M963 1410h11M323 1418h11M543 1418h21M933 1418h11M1163 1418h11M1323 1418h11M563 1426h11M933 1426h11M1153 1426h11M1323 1426h11M873 1434h11M933 1434h11M1473 1434h11M353 1442h11M793 1442h11M373 1450h11M563 1450h11M963 1450h11M1333 1450h11M423 1458h11M943 1458h11M1173 1458h11M1453 1458h11M403 1466h11M453 1466h11M533 1466h11M953 1466h11M1173 1466h11M1343 1466h11M1443 1466h11M473 1474h11M1173 1474h11M1353 1474h11M1413 1474h21M1373 1482h21M1043 1506h11M403 1514h11M1023 1514h11M1163 1522h11M393 1530h11M413 1530h11M803 1530h11M1153 1530h11M1713 1530h11M313 1538h11M803 1538h11M1203 1538h11M1533 1546h11M303 1554h11M853 1554h11M1423 1554h11M1023 1562h11M1263 1562h11M1503 1562h11M1043 1570h11M1263 1570h11M303 1578h11M943 1578h11M413 1586h11M813 1586h11M843 1586h11M1033 1594h11M1713 1594h11"/>
<path stroke="#78cc5f" d="M913 1042h31M1313 1042h21M843 1050h21M1363 1050h21M823 1058h11M1383 1058h11M803 1066h21M1393 1066h11M813 1074h11M1393 1074h11M843 1082h21M1373 1082h21M893 1090h11M1393 1090h11M953 1098h21M1373 1098h11M1113 1106h31M1303 1106h31M1193 1114h71M1303 1114h61M1133 1122h21M1413 1122h11M1113 1130h11M1433 1130h11M1123 1138h11M1443 1138h11M1143 1146h11M1433 1146h11M1173 1154h21M1423 1154h11M1213 1162h21M1403 1162h11M1223 1170h21M1413 1170h21M463 1178h31M783 1178h11M1193 1178h21M1453 1178h11M343 1186h51M823 1186h11M1173 1186h11M1483 1186h11M283 1194h21M1173 1194h11M273 1202h11M823 1202h11M1183 1202h11M283 1210h21M343 1210h51M413 1210h11M533 1210h11M803 1210h11M1193 1210h11M1513 1210h11M573 1218h21M783 1218h11M1183 1218h21M593 1226h21M803 1226h21M1103 1226h11M1493 1226h11M273 1234h31M853 1234h11M1093 1234h11M1463 1234h11M253 1242h21M303 1242h21M893 1242h11M1263 1242h21M243 1250h11M313 1250h21M923 1250h11M1143 1250h21M1223 1250h21M233 1258h11M323 1258h21M953 1258h11M1133 1258h11M1233 1258h11M333 1266h11M593 1266h11M1113 1266h11M1253 1266h11M223 1274h11M333 1274h21M603 1274h11M993 1274h11M1103 1274h11M1273 1274h11M223 1282h11M333 1282h21M613 1282h11M1003 1282h11M1103 1282h11M1293 1282h11M223 1290h11M333 1290h21M623 1290h11M1003 1290h11M1313 1290h31M223 1298h11M333 1298h21M1373 1298h11M223 1306h11M333 1306h21M653 1306h11M1003 1306h11M1133 1306h11M1393 1306h11M333 1314h11M673 1314h11M963 1314h11M1153 1314h11M1283 1314h11M1423 1314h11M233 1322h11M323 1322h21M703 1322h11M963 1322h11M1173 1322h11M1293 1322h11M243 1330h11M313 1330h21M743 1330h11M963 1330h11M1203 1330h11M253 1338h21M293 1338h41M793 1338h21M933 1338h31M1303 1338h11M263 1346h51M1463 1346h11M383 1354h11M353 1362h21M1473 1362h11M343 1370h21M343 1378h11M813 1378h11M843 1378h11M333 1386h11M803 1386h11M853 1386h11M333 1394h11M443 1394h11M793 1394h11M1323 1394h11M463 1402h11M783 1402h11M943 1402h21M1323 1402h11M493 1410h21M873 1410h11M1323 1410h11M533 1418h11M783 1418h11M963 1418h11M333 1426h11M553 1426h11M873 1426h11M963 1426h11M1163 1426h11M1473 1426h11M343 1434h11M563 1434h11M793 1434h11M963 1434h11M1153 1434h21M363 1442h11M563 1442h11M863 1442h11M963 1442h11M1153 1442h21M1333 1442h11M1463 1442h11M383 1450h11M943 1450h11M1153 1450h11M393 1458h31M433 1458h11M543 1458h11M953 1458h11M1153 1458h11M1343 1458h11M513 1466h21M1393 1474h21M1033 1490h11M1223 1498h11M1243 1498h11M1163 1506h11M1213 1506h11M803 1514h11M1043 1514h11M1163 1514h11M1253 1514h11M803 1522h11M1023 1522h11M1153 1522h11M1023 1530h11M413 1538h11M1023 1538h11M1393 1538h11M1023 1546h11M1203 1546h11M323 1554h11M1023 1554h11M1203 1554h11M303 1562h11M1043 1562h11M303 1570h11M1203 1570h11M813 1578h11M933 1578h11M1203 1578h11M1033 1586h11M1423 1586h11M1503 1586h11M323 1594h11M393 1594h11M953 1594h11M1213 1594h11M1543 1594h11"/>
<path stroke="#92ca4b" d="M943 1042h21M1293 1042h21M863 1050h21M1353 1050h11M833 1058h21M1363 1058h21M823 1066h11M1383 1066h11M823 1074h21M1373 1074h21M863 1082h21M1363 1082h11M903 1090h21M1373 1090h21M973 1098h11M1353 1098h21M1143 1106h161M1263 1114h41M1153 1122h21M1393 1122h21M1123 1130h21M1423 1130h11M1133 1138h21M1433 1138h11M1153 1146h21M1423 1146h11M1193 1154h21M1403 1154h21M1233 1162h31M1383 1162h21M1243 1170h21M1393 1170h21M493 1178h31M763 1178h21M1213 1178h11M1443 1178h11M393 1186h71M813 1186h11M1183 1186h11M1473 1186h11M303 1194h91M823 1194h11M1183 1194h11M1493 1194h11M283 1202h101M423 1202h101M813 1202h11M1193 1202h11M1503 1202h11M303 1210h41M393 1210h21M543 1210h11M793 1210h11M1203 1210h11M1503 1210h11M593 1218h41M763 1218h21M1203 1218h21M1503 1218h11M613 1226h21M793 1226h11M1113 1226h21M1483 1226h11M583 1234h11M843 1234h11M1103 1234h11M1453 1234h11M273 1242h31M573 1242h11M883 1242h11M1113 1242h21M1253 1242h11M253 1250h21M293 1250h21M573 1250h11M913 1250h11M1163 1250h61M243 1258h11M313 1258h11M583 1258h11M943 1258h11M1143 1258h21M1223 1258h11M233 1266h11M313 1266h21M973 1266h11M1123 1266h11M233 1274h11M323 1274h11M613 1274h11M983 1274h11M1113 1274h11M1263 1274h11M233 1282h11M323 1282h11M623 1282h11M993 1282h11M1113 1282h11M1283 1282h11M233 1290h11M323 1290h11M633 1290h11M1113 1290h11M1303 1290h11M233 1298h11M323 1298h11M643 1298h11M1003 1298h11M1123 1298h11M1363 1298h11M233 1306h11M313 1306h21M663 1306h11M963 1306h11M1383 1306h11M233 1314h11M313 1314h21M683 1314h11M983 1314h21M1263 1314h11M1413 1314h11M243 1322h11M303 1322h21M713 1322h11M1183 1322h11M1433 1322h11M253 1330h61M753 1330h21M1213 1330h31M1253 1330h11M1443 1330h11M273 1338h21M813 1338h11M853 1338h81M1453 1338h11M1313 1354h11M1463 1354h11M373 1362h31M363 1370h11M403 1370h11M1473 1370h11M353 1378h11M413 1378h11M1473 1378h11M343 1386h11M423 1386h11M1323 1386h11M433 1394h11M333 1402h11M453 1402h11M863 1402h11M333 1410h11M473 1410h21M783 1410h11M943 1410h21M1473 1410h11M333 1418h11M513 1418h21M873 1418h11M943 1418h21M1473 1418h11M343 1426h11M543 1426h11M793 1426h11M353 1434h11M553 1434h11M1333 1434h11M373 1442h21M553 1442h11M943 1442h21M393 1450h41M553 1450h11M953 1450h11M1163 1450h11M1343 1450h11M1453 1450h11M443 1458h11M1163 1458h11M1443 1458h11M463 1466h51M853 1466h11M1153 1466h21M1353 1466h11M1423 1466h21M803 1474h11M853 1474h11M1153 1474h21M1363 1474h31M803 1482h11M853 1482h11M1153 1482h21M803 1490h11M853 1490h11M1153 1490h21M803 1498h11M853 1498h11M1033 1498h11M1153 1498h21M1233 1498h11M803 1506h11M1153 1506h11M1153 1514h11M403 1522h11M1043 1522h11M1043 1530h11M393 1538h11M1403 1538h11M393 1546h11M413 1546h11M853 1546h11M1043 1546h11M1523 1546h11M1043 1554h11M1383 1554h11M1203 1562h11M1423 1562h11M1543 1562h11M1503 1570h11M413 1578h11M843 1578h11M1033 1578h11M1503 1578h11M393 1586h11M953 1586h11M823 1594h21M923 1594h11M1253 1594h11M1383 1594h11"/>
<path stroke="#abc739" d="M963 1042h41M1263 1042h31M883 1050h21M1333 1050h21M853 1058h21M1353 1058h11M833 1066h21M1363 1066h21M843 1074h21M1353 1074h21M883 1082h21M1343 1082h21M923 1090h21M1363 1090h11M983 1098h21M1333 1098h21M1173 1122h41M1363 1122h31M1143 1130h21M1403 1130h21M1153 1138h21M1413 1138h21M1173 1146h31M1403 1146h21M1213 1154h31M1383 1154h21M1263 1162h121M1263 1170h41M1363 1170h31M523 1178h31M743 1178h21M1223 1178h21M1423 1178h21M463 1186h41M793 1186h21M1193 1186h11M1463 1186h11M393 1194h121M813 1194h11M1483 1194h11M383 1202h41M523 1202h21M803 1202h11M1493 1202h11M553 1210h21M773 1210h21M1213 1210h11M1493 1210h11M633 1218h51M723 1218h41M1223 1218h11M1493 1218h11M633 1226h21M773 1226h21M1133 1226h21M1473 1226h11M593 1234h11M833 1234h11M1283 1234h31M1433 1234h21M873 1242h11M1133 1242h11M1233 1242h21M273 1250h21M903 1250h11M253 1258h61M933 1258h11M1163 1258h61M243 1266h21M293 1266h21M603 1266h11M963 1266h11M1133 1266h11M1243 1266h11M243 1274h11M303 1274h21M623 1274h11M1123 1274h11M243 1282h11M303 1282h21M633 1282h11M1273 1282h11M243 1290h11M303 1290h21M643 1290h11M993 1290h11M1123 1290h11M1293 1290h11M243 1298h11M303 1298h21M653 1298h11M963 1298h11M993 1298h11M1133 1298h11M1343 1298h21M243 1306h11M293 1306h21M673 1306h11M973 1306h11M993 1306h11M1143 1306h11M1273 1306h21M243 1314h31M283 1314h31M693 1314h21M1163 1314h11M1403 1314h11M253 1322h51M723 1322h21M1193 1322h11M1423 1322h11M773 1330h21M943 1330h21M1243 1330h11M1303 1330h11M823 1338h31M1453 1346h11M1463 1362h11M373 1370h31M363 1378h21M403 1378h11M823 1378h21M1323 1378h11M353 1386h11M843 1386h11M1473 1386h11M343 1394h11M853 1394h11M1473 1394h11M343 1402h11M443 1402h11M793 1402h11M1473 1402h11M453 1410h21M863 1410h11M473 1418h41M793 1418h11M863 1418h11M1333 1418h11M533 1426h11M863 1426h11M943 1426h21M1333 1426h11M363 1434h11M863 1434h11M943 1434h21M1463 1434h11M393 1442h41M1343 1442h11M433 1450h21M543 1450h11M453 1458h11M533 1458h11M803 1458h11M853 1458h11M1353 1458h11M803 1466h11M1363 1466h11M1403 1466h21M853 1506h11M1033 1506h11M1243 1506h11M853 1514h11M853 1522h11M403 1530h11M853 1530h11M853 1538h11M1043 1538h11M313 1546h11M393 1554h11M413 1554h11M1513 1554h11M1533 1554h11M323 1562h11M393 1562h11M413 1562h11M393 1570h11M413 1570h11M813 1570h11M843 1570h11M1033 1570h11M1423 1570h11M1543 1570h11M393 1578h11M1423 1578h11M323 1586h11M1543 1586h11M313 1594h11M403 1594h11M1513 1594h11"/>
<path stroke="#c3c22b" d="M1003 1042h61M1213 1042h51M903 1050h21M1313 1050h21M873 1058h21M1333 1058h21M853 1066h21M1343 1066h21M863 1074h21M1333 1074h21M903 1082h21M1323 1082h21M943 1090h11M1343 1090h21M1003 1098h31M1313 1098h21M1213 1122h151M1163 1130h41M1373 1130h31M1173 1138h41M1383 1138h31M1203 1146h41M1383 1146h21M1243 1154h141M1303 1170h61M553 1178h71M683 1178h61M1243 1178h21M1413 1178h11M503 1186h31M783 1186h11M1203 1186h11M1453 1186h11M513 1194h21M793 1194h21M1193 1194h11M1473 1194h11M543 1202h11M793 1202h11M1203 1202h11M1483 1202h11M573 1210h31M753 1210h21M1223 1210h11M1483 1210h11M683 1218h41M1233 1218h21M1483 1218h11M653 1226h31M753 1226h21M1153 1226h111M1463 1226h11M603 1234h11M823 1234h11M1113 1234h21M1243 1234h41M1313 1234h51M1413 1234h21M583 1242h11M863 1242h11M1143 1242h21M1213 1242h21M583 1250h11M893 1250h11M593 1258h11M923 1258h11M263 1266h31M613 1266h11M943 1266h21M1143 1266h21M1223 1266h21M253 1274h51M973 1274h11M1133 1274h11M1253 1274h11M253 1282h51M983 1282h11M1123 1282h11M253 1290h51M653 1290h11M1133 1290h11M1273 1290h21M253 1298h51M663 1298h11M953 1298h11M1143 1298h11M1273 1298h71M253 1306h41M683 1306h11M983 1306h11M1153 1306h11M1263 1306h11M1363 1306h21M273 1314h11M713 1314h11M1173 1314h11M1293 1314h11M1393 1314h11M743 1322h11M953 1322h11M1203 1322h11M1253 1322h11M1413 1322h11M793 1330h21M913 1330h31M1433 1330h11M1443 1338h11M1313 1346h11M1323 1370h11M1463 1370h11M383 1378h21M363 1386h11M413 1386h11M813 1386h11M353 1394h11M423 1394h11M803 1394h11M433 1402h11M1333 1402h11M343 1410h11M443 1410h11M793 1410h11M1333 1410h11M343 1418h11M453 1418h21M1463 1418h11M353 1426h11M513 1426h21M1463 1426h11M373 1434h21M543 1434h11M1343 1434h11M433 1442h21M543 1442h11M1453 1442h11M453 1450h11M803 1450h11M1353 1450h11M1443 1450h11M463 1458h11M523 1458h11M1423 1458h21M1373 1466h31M1223 1506h11M1033 1514h11M1213 1514h11M1253 1522h11M403 1538h11M1713 1538h11M1413 1546h11M1033 1554h11M813 1562h11M1033 1562h11M1383 1562h11M323 1570h11M323 1578h11M1543 1578h11M823 1586h21M923 1586h11M1253 1586h11M1383 1586h11M1713 1586h11M943 1594h11M1223 1594h11M1533 1594h11"/>
<path stroke="#d8be28" d="M1063 1042h151M923 1050h31M1293 1050h21M893 1058h31M1313 1058h21M873 1066h31M1323 1066h21M883 1074h31M1313 1074h21M923 1082h31M1303 1082h21M953 1090h31M1323 1090h21M1033 1098h41M1273 1098h41M1203 1130h171M1213 1138h171M1243 1146h141M623 1178h61M1263 1178h41M1383 1178h31M533 1186h31M753 1186h31M1213 1186h21M1433 1186h21M533 1194h31M773 1194h21M1203 1194h11M1463 1194h11M553 1202h31M773 1202h21M1213 1202h11M1473 1202h11M603 1210h151M1233 1210h11M1473 1210h11M1253 1218h11M1463 1218h21M683 1226h71M1263 1226h31M1443 1226h21M613 1234h21M803 1234h21M1133 1234h21M1213 1234h31M1363 1234h51M593 1242h11M853 1242h11M1163 1242h51M593 1250h11M883 1250h11M603 1258h11M913 1258h11M623 1266h11M933 1266h11M1163 1266h21M1203 1266h21M633 1274h11M943 1274h31M1143 1274h11M1243 1274h11M643 1282h11M953 1282h11M973 1282h11M1133 1282h21M1263 1282h11M663 1290h11M953 1290h21M983 1290h11M1143 1290h11M1263 1290h11M673 1298h11M973 1298h21M1263 1298h11M693 1306h11M953 1306h11M1163 1306h11M1293 1306h71M723 1314h11M953 1314h11M1183 1314h11M1303 1314h11M1383 1314h11M753 1322h21M943 1322h11M1213 1322h41M1303 1322h11M1393 1322h21M813 1330h101M1423 1330h11M1313 1338h11M1433 1338h11M1443 1346h11M1323 1354h11M1453 1354h11M1323 1362h11M1453 1362h11M1463 1378h11M373 1386h41M823 1386h21M1333 1386h11M1463 1386h11M363 1394h11M1333 1394h11M1463 1394h11M353 1402h11M803 1402h11M853 1402h11M1463 1402h11M353 1410h11M433 1410h11M1463 1410h11M353 1418h11M443 1418h11M363 1426h11M433 1426h81M1343 1426h11M393 1434h71M533 1434h11M803 1434h11M1453 1434h11M453 1442h11M533 1442h11M803 1442h11M1353 1442h11M1443 1442h11M463 1450h11M533 1450h11M853 1450h11M1433 1450h11M473 1458h51M1363 1458h11M1403 1458h21M1233 1506h11M1033 1522h11M1033 1530h11M1253 1530h11M1033 1538h11M403 1546h11M813 1546h11M1033 1546h11M1393 1546h11M313 1554h11M403 1554h11M813 1554h11M1523 1554h11M843 1562h11M1383 1570h11M823 1578h21M1383 1578h11M313 1586h11M403 1586h11M943 1586h11M1213 1586h11M933 1594h11M1233 1594h21M1523 1594h11"/>
<path stroke="#eaba31" d="M953 1050h31M1263 1050h31M923 1058h21M1283 1058h31M903 1066h31M1293 1066h31M913 1074h31M1283 1074h31M953 1082h31M1273 1082h31M983 1090h21M1293 1090h31M1073 1098h201M1303 1178h81M563 1186h191M1233 1186h21M1413 1186h21M563 1194h51M743 1194h31M1213 1194h11M1443 1194h21M583 1202h51M733 1202h41M1223 1202h11M1453 1202h21M1243 1210h11M1463 1210h11M1263 1218h21M1453 1218h11M1293 1226h31M1423 1226h21M633 1234h21M793 1234h11M1153 1234h61M603 1242h11M843 1242h11M603 1250h11M873 1250h11M613 1258h11M903 1258h11M633 1266h11M1183 1266h21M643 1274h11M1153 1274h21M1233 1274h11M653 1282h11M943 1282h11M963 1282h11M1153 1282h11M1253 1282h11M673 1290h11M973 1290h11M1153 1290h11M683 1298h11M1153 1298h11M703 1306h21M1173 1306h11M1253 1306h11M733 1314h21M1193 1314h11M1253 1314h11M1313 1314h21M1363 1314h21M773 1322h31M913 1322h31M1313 1322h11M1383 1322h11M1313 1330h11M1403 1330h21M1423 1338h11M1323 1346h11M1433 1346h11M1443 1354h11M1333 1370h11M1453 1370h11M1333 1378h11M373 1394h11M403 1394h21M813 1394h11M843 1394h11M363 1402h11M423 1402h11M1343 1402h11M423 1410h11M803 1410h11M853 1410h11M1343 1410h11M363 1418h11M423 1418h21M803 1418h11M853 1418h11M1343 1418h11M1453 1418h11M373 1426h21M403 1426h31M803 1426h11M853 1426h11M1453 1426h11M463 1434h71M853 1434h11M1353 1434h11M1443 1434h11M463 1442h21M523 1442h11M853 1442h11M1363 1442h11M473 1450h21M513 1450h21M1363 1450h11M1423 1450h11M1373 1458h31M1243 1514h11M1213 1522h11M813 1530h11M813 1538h11M1253 1538h11M1713 1546h11M843 1554h11M313 1562h11M403 1562h11M823 1562h11M1513 1562h11M1533 1562h11M313 1570h11M403 1570h11M823 1570h21M1253 1570h11M313 1578h11M403 1578h11M1253 1578h11M1713 1578h11M933 1586h11M1513 1586h11M1533 1586h11M1393 1594h11M1413 1594h11"/>
<path stroke="#f9bb3d" d="M983 1050h41M1223 1050h41M943 1058h41M1243 1058h41M933 1066h41M1243 1066h51M943 1074h51M1233 1074h51M983 1082h41M1233 1082h41M1003 1090h41M1253 1090h41M1253 1186h51M1383 1186h31M613 1194h131M1223 1194h21M1423 1194h21M633 1202h101M1233 1202h21M1443 1202h11M1253 1210h21M1443 1210h21M1283 1218h21M1433 1218h21M1323 1226h101M653 1234h21M773 1234h21M613 1242h21M823 1242h21M613 1250h11M863 1250h11M623 1258h11M893 1258h11M643 1266h11M923 1266h11M653 1274h11M933 1274h11M1173 1274h61M663 1282h11M1163 1282h21M1233 1282h21M683 1290h11M943 1290h11M1163 1290h11M1253 1290h11M693 1298h21M1163 1298h21M1253 1298h11M723 1306h11M1183 1306h21M753 1314h21M933 1314h21M1203 1314h51M1333 1314h31M803 1322h111M1323 1322h31M1363 1322h21M1323 1330h21M1393 1330h11M1323 1338h21M1403 1338h21M1333 1346h11M1423 1346h11M1333 1354h11M1433 1354h11M1333 1362h11M1443 1362h11M1343 1378h11M1453 1378h11M1343 1386h11M1453 1386h11M383 1394h21M833 1394h11M1343 1394h11M1453 1394h11M373 1402h11M413 1402h11M843 1402h11M1453 1402h11M363 1410h21M413 1410h11M1453 1410h11M373 1418h21M403 1418h21M1353 1418h11M393 1426h11M1353 1426h11M1443 1426h11M1363 1434h11M483 1442h41M1373 1442h11M1423 1442h21M493 1450h21M1373 1450h51M843 1466h11M843 1474h11M813 1490h11M813 1498h11M813 1506h11M813 1514h11M1223 1514h21M813 1522h11M1213 1530h11M823 1546h11M843 1546h11M1253 1546h11M1403 1546h11M823 1554h21M1253 1554h11M1713 1554h11M833 1562h11M1253 1562h11M1523 1562h11M1713 1562h11M1513 1570h11M1533 1570h11M1713 1570h11M1213 1578h11M1513 1578h31M1223 1586h11M1243 1586h11M1523 1586h11"/>
<path stroke="#fec338" d="M1023 1050h201M983 1058h91M1173 1058h71M973 1066h271M993 1074h241M1023 1082h211M1043 1090h211M1303 1186h81M1243 1194h61M1383 1194h41M1253 1202h31M1403 1202h41M1273 1210h31M1403 1210h41M1303 1218h51M1383 1218h51M673 1234h101M633 1242h21M813 1242h11M623 1250h21M843 1250h21M633 1258h21M873 1258h21M653 1266h11M903 1266h21M663 1274h21M923 1274h11M673 1282h21M933 1282h11M1183 1282h51M693 1290h11M1173 1290h81M713 1298h11M943 1298h11M1183 1298h71M733 1306h21M933 1306h21M1203 1306h51M773 1314h31M903 1314h31M1353 1322h11M1343 1330h51M1343 1338h11M1383 1338h21M1343 1346h11M1403 1346h21M1343 1354h11M1423 1354h11M1343 1362h11M1433 1362h11M1343 1370h11M1443 1370h11M1443 1378h11M1353 1386h11M1443 1386h11M823 1394h11M1353 1394h11M1443 1394h11M383 1402h31M813 1402h11M1353 1402h11M1443 1402h11M383 1410h31M813 1410h11M843 1410h11M1353 1410h11M1443 1410h11M393 1418h11M1363 1418h11M1443 1418h11M1363 1426h11M1433 1426h11M1373 1434h11M1423 1434h21M813 1442h11M1383 1442h41M813 1450h11M843 1450h11M813 1458h11M843 1458h11M813 1466h11M813 1474h11M813 1482h11M843 1482h11M843 1490h11M843 1498h11M843 1506h11M823 1514h11M843 1514h11M823 1522h11M843 1522h11M1223 1522h11M1243 1522h11M823 1530h11M843 1530h11M823 1538h31M1213 1538h11M833 1546h11M1393 1554h11M1413 1554h11M1213 1570h11M1523 1570h11M1223 1578h11M1243 1578h11M1233 1586h11M1403 1594h11"/>
<path stroke="#fdce31" d="M1073 1058h101M1303 1194h81M1283 1202h121M1303 1210h101M1353 1218h31M653 1242h31M783 1242h31M643 1250h21M823 1250h21M653 1258h11M853 1258h21M663 1266h21M883 1266h21M683 1274h11M913 1274h11M693 1282h11M923 1282h11M703 1290h21M933 1290h11M723 1298h21M933 1298h11M753 1306h31M913 1306h21M803 1314h101M1353 1338h31M1353 1346h51M1353 1354h21M1383 1354h41M1353 1362h21M1393 1362h41M1353 1370h21M1403 1370h41M1353 1378h21M1413 1378h31M1363 1386h21M1413 1386h31M1363 1394h21M1413 1394h31M823 1402h21M1363 1402h31M1403 1402h41M833 1410h11M1363 1410h81M813 1418h11M843 1418h11M1373 1418h71M813 1426h11M843 1426h11M1373 1426h61M813 1434h11M843 1434h11M1383 1434h41M843 1442h11M823 1450h21M823 1458h21M823 1466h21M823 1474h21M823 1482h21M823 1490h21M823 1498h21M823 1506h21M833 1514h11M833 1522h11M1233 1522h11M833 1530h11M1223 1530h31M1243 1538h11M1213 1546h11M1243 1546h11M1213 1554h11M1233 1554h21M1403 1554h11M1213 1562h41M1393 1562h11M1413 1562h11M1223 1570h31M1233 1578h11M1393 1586h11M1413 1586h11"/>
<path stroke="#f8da2b" d="M683 1242h101M663 1250h31M793 1250h31M663 1258h31M823 1258h31M683 1266h21M863 1266h21M693 1274h31M893 1274h21M703 1282h31M903 1282h21M723 1290h21M913 1290h21M743 1298h41M903 1298h31M783 1306h131M1373 1354h11M1373 1362h21M1373 1370h31M1373 1378h41M1383 1386h31M1383 1394h31M1393 1402h11M823 1410h11M823 1418h21M823 1426h21M823 1434h21M823 1442h21M1223 1538h21M1223 1546h21M1223 1554h11M1393 1570h11M1413 1570h11M1393 1578h11M1413 1578h11M1403 1586h11"/>
<path stroke="#f5e526" d="M693 1250h101M693 1258h131M703 1266h71M783 1266h81M723 1274h51M833 1274h61M733 1282h51M853 1282h51M743 1290h171M783 1298h121M1403 1562h11M1403 1570h11M1403 1578h11"/>
<path stroke="#f6f01f" d="M773 1266h11M773 1274h61M783 1282h71"/>
</g>
<path fill="#000" d="M1016.4 1040.5L1043.2 1036.3L1039.5 1031.7L1071.1 1033.3L1049.0 1043.3L1045.3 1038.7L1018.5 1043.0ZM1058.7 1040.5L1085.5 1036.3L1081.8 1031.7L1113.3 1033.3L1091.2 1043.3L1087.5 1038.7L1060.7 1043.0ZM1100.9 1040.5L1127.7 1036.3L1124.0 1031.7L1155.6 1033.3L1133.5 1043.3L1129.8 1038.7L1103.0 1043.0ZM1143.2 1040.5L1170.0 1036.3L1166.3 1031.7L1197.8 1033.3L1175.7 1043.3L1172.0 1038.7L1145.2 1043.0ZM1185.4 1040.5L1212.2 1036.3L1208.5 1031.7L1240.1 1033.3L1218.0 1043.3L1214.3 1038.7L1187.5 1043.0ZM1227.7 1040.5L1254.5 1036.3L1250.8 1031.7L1282.3 1033.3L1260.2 1043.3L1256.5 1038.7L1229.7 1043.0ZM804.5 1064.1L833.0 1064.1L833.0 1059.3L861.5 1065.4L833.0 1071.5L833.0 1066.7L804.5 1066.7ZM846.7 1064.1L875.2 1064.1L875.2 1059.3L903.7 1065.4L875.3 1071.5L875.3 1066.7L846.8 1066.7ZM889.0 1064.1L917.5 1064.1L917.5 1059.3L946.0 1065.4L917.5 1071.5L917.5 1066.7L889.0 1066.7ZM931.2 1064.2L959.7 1064.1L959.7 1059.3L988.2 1065.3L959.8 1071.5L959.8 1066.7L931.3 1066.8ZM973.5 1064.2L1002.0 1064.1L1001.9 1059.3L1030.5 1065.3L1002.1 1071.5L1002.0 1066.7L973.5 1066.8ZM1015.7 1064.2L1044.2 1064.1L1044.1 1059.3L1072.7 1065.3L1044.4 1071.5L1044.3 1066.7L1015.8 1066.8ZM1058.0 1064.2L1086.5 1064.1L1086.4 1059.3L1115.0 1065.3L1086.6 1071.5L1086.5 1066.7L1058.0 1066.8ZM1100.2 1064.2L1128.7 1064.1L1128.6 1059.3L1157.2 1065.3L1128.9 1071.5L1128.8 1066.7L1100.3 1066.8ZM1142.5 1064.2L1171.0 1064.1L1170.9 1059.3L1199.5 1065.3L1171.1 1071.5L1171.0 1066.7L1142.5 1066.8ZM1184.7 1064.2L1213.2 1064.1L1213.1 1059.3L1241.7 1065.3L1213.4 1071.5L1213.3 1066.7L1184.8 1066.8ZM1227.0 1064.2L1255.5 1064.1L1255.4 1059.3L1284.0 1065.3L1255.6 1071.5L1255.5 1066.7L1227.0 1066.8ZM1269.2 1064.2L1297.7 1064.1L1297.7 1059.3L1326.2 1065.3L1297.8 1071.5L1297.8 1066.7L1269.3 1066.8ZM1311.5 1064.1L1340.0 1064.1L1340.0 1059.3L1368.5 1065.4L1340.0 1071.5L1340.0 1066.7L1311.5 1066.7ZM1353.7 1064.1L1382.2 1064.1L1382.2 1059.3L1410.7 1065.4L1382.3 1071.5L1382.3 1066.7L1353.8 1066.7ZM889.0 1092.0L917.5 1092.0L917.5 1087.2L946.0 1093.3L917.5 1099.4L917.5 1094.6L889.0 1094.6ZM931.3 1092.0L959.8 1092.0L959.8 1087.2L988.2 1093.3L959.7 1099.4L959.7 1094.6L931.2 1094.6ZM973.5 1092.0L1002.0 1092.0L1002.0 1087.2L1030.5 1093.3L1002.0 1099.4L1002.0 1094.6L973.5 1094.6ZM1015.8 1092.0L1044.3 1092.0L1044.3 1087.2L1072.7 1093.3L1044.2 1099.4L1044.2 1094.6L1015.7 1094.6ZM1058.0 1092.0L1086.5 1092.0L1086.5 1087.2L1115.0 1093.3L1086.5 1099.4L1086.5 1094.6L1058.0 1094.6ZM1100.3 1092.0L1128.8 1092.0L1128.8 1087.2L1157.2 1093.3L1128.7 1099.4L1128.7 1094.6L1100.2 1094.6ZM1142.5 1091.9L1171.0 1092.0L1171.1 1087.2L1199.5 1093.4L1170.9 1099.4L1171.0 1094.6L1142.5 1094.5ZM1184.8 1091.9L1213.3 1092.0L1213.4 1087.2L1241.7 1093.4L1213.1 1099.4L1213.2 1094.6L1184.7 1094.5ZM1227.0 1091.9L1255.5 1092.0L1255.6 1087.2L1284.0 1093.4L1255.4 1099.4L1255.5 1094.6L1227.0 1094.5ZM1269.3 1091.9L1297.8 1092.0L1297.9 1087.2L1326.2 1093.4L1297.6 1099.4L1297.7 1094.6L1269.2 1094.5ZM1311.5 1091.8L1340.0 1092.0L1340.2 1087.2L1368.5 1093.5L1339.8 1099.4L1340.0 1094.6L1311.5 1094.4ZM1353.8 1091.8L1382.3 1092.0L1382.4 1087.2L1410.7 1093.5L1382.1 1099.4L1382.2 1094.6L1353.7 1094.4ZM1102.5 1116.2L1129.6 1120.0L1133.0 1115.4L1155.9 1125.0L1124.5 1127.0L1127.9 1122.4L1100.7 1118.7ZM1144.7 1116.2L1171.9 1120.0L1175.2 1115.4L1198.2 1125.0L1166.8 1127.0L1170.1 1122.4L1142.9 1118.7ZM1187.0 1116.2L1214.1 1120.0L1217.5 1115.4L1240.4 1125.0L1209.0 1127.0L1212.4 1122.4L1185.2 1118.7ZM1229.2 1116.2L1256.4 1120.0L1259.7 1115.4L1282.7 1125.0L1251.3 1127.0L1254.6 1122.4L1227.4 1118.6ZM1271.5 1116.2L1298.7 1120.0L1302.0 1115.4L1324.9 1125.0L1293.5 1127.0L1296.8 1122.4L1269.7 1118.6ZM1313.8 1116.2L1340.9 1120.0L1344.3 1115.4L1367.1 1125.0L1335.7 1127.0L1339.1 1122.4L1311.9 1118.6ZM1356.0 1116.2L1383.2 1120.0L1386.5 1115.4L1409.4 1125.0L1378.0 1127.0L1381.3 1122.4L1354.2 1118.6ZM1398.3 1116.2L1425.4 1120.0L1428.8 1115.4L1451.6 1125.0L1420.2 1127.0L1423.6 1122.4L1396.5 1118.6ZM1144.8 1144.0L1171.9 1147.9L1175.3 1143.3L1198.1 1152.9L1166.7 1154.9L1170.1 1150.3L1143.0 1146.5ZM1187.0 1144.0L1214.2 1147.9L1217.5 1143.3L1240.4 1152.9L1209.0 1154.9L1212.3 1150.3L1185.2 1146.5ZM1229.3 1144.0L1256.4 1147.9L1259.8 1143.3L1282.6 1152.9L1251.2 1154.9L1254.6 1150.3L1227.5 1146.5ZM1271.5 1144.0L1298.7 1147.9L1302.0 1143.3L1324.9 1152.9L1293.5 1154.9L1296.8 1150.3L1269.7 1146.5ZM1313.8 1144.0L1340.9 1147.9L1344.3 1143.3L1367.1 1152.9L1335.7 1154.9L1339.1 1150.3L1312.0 1146.5ZM1356.0 1144.0L1383.2 1147.9L1386.5 1143.3L1409.4 1152.9L1378.0 1154.9L1381.3 1150.3L1354.2 1146.5ZM1398.3 1144.0L1425.4 1147.9L1428.8 1143.3L1451.6 1152.9L1420.2 1154.9L1423.6 1150.3L1396.5 1146.5ZM523.5 1178.3L495.0 1178.3L495.0 1183.1L466.5 1177.0L495.0 1170.9L495.0 1175.7L523.5 1175.7ZM565.8 1178.3L537.3 1178.3L537.3 1183.1L508.8 1177.0L537.2 1170.9L537.2 1175.7L565.7 1175.7ZM608.0 1178.3L579.5 1178.3L579.5 1183.1L551.0 1177.0L579.5 1170.9L579.5 1175.7L608.0 1175.7ZM650.3 1178.3L621.8 1178.3L621.8 1183.1L593.3 1177.0L621.7 1170.9L621.7 1175.7L650.2 1175.7ZM692.5 1178.3L664.0 1178.3L664.0 1183.1L635.5 1177.0L664.0 1170.9L664.0 1175.7L692.5 1175.7ZM734.8 1178.3L706.3 1178.3L706.3 1183.1L677.8 1177.0L706.2 1170.9L706.2 1175.7L734.7 1175.7ZM777.0 1178.3L748.5 1178.3L748.5 1183.1L720.0 1177.0L748.5 1170.9L748.5 1175.7L777.0 1175.7ZM819.3 1178.3L790.8 1178.3L790.8 1183.1L762.3 1177.0L790.7 1170.9L790.7 1175.7L819.2 1175.7ZM1187.0 1171.9L1214.2 1175.8L1217.5 1171.2L1240.4 1180.8L1209.0 1182.8L1212.3 1178.2L1185.2 1174.4ZM1229.3 1171.9L1256.4 1175.8L1259.8 1171.2L1282.6 1180.8L1251.2 1182.8L1254.6 1178.2L1227.5 1174.4ZM1271.5 1171.9L1298.7 1175.8L1302.0 1171.2L1324.9 1180.8L1293.5 1182.8L1296.8 1178.2L1269.7 1174.4ZM1313.8 1171.9L1340.9 1175.8L1344.3 1171.2L1367.1 1180.8L1335.7 1182.8L1339.1 1178.2L1312.0 1174.4ZM1356.0 1171.9L1383.2 1175.8L1386.5 1171.2L1409.4 1180.8L1378.0 1182.8L1381.3 1178.2L1354.2 1174.4ZM1398.3 1171.9L1425.4 1175.8L1428.8 1171.2L1451.6 1180.8L1420.2 1182.8L1423.6 1178.2L1396.5 1174.4ZM302.3 1214.5L281.7 1205.8L274.1 1209.3L263.1 1196.3L293.4 1200.5L285.8 1204.0L306.4 1212.6ZM345.4 1214.2L324.0 1205.9L316.7 1209.5L304.7 1196.6L335.3 1200.3L328.0 1203.9L349.3 1212.2ZM389.7 1213.2L366.5 1206.0L360.1 1209.9L345.1 1197.6L376.4 1199.9L370.0 1203.8L393.1 1211.1ZM434.7 1211.6L409.2 1206.1L404.3 1210.4L385.0 1199.3L416.7 1199.4L411.8 1203.7L437.3 1209.3ZM478.0 1210.8L451.6 1206.1L447.5 1210.6L426.3 1200.2L458.0 1199.2L453.9 1203.7L480.3 1208.4ZM523.5 1206.2L495.0 1206.2L495.1 1211.0L466.5 1204.9L494.9 1198.8L495.0 1203.6L523.5 1203.6ZM565.8 1206.1L537.3 1206.2L537.4 1211.0L508.8 1205.0L537.1 1198.8L537.2 1203.6L565.7 1203.5ZM608.0 1206.0L579.5 1206.2L579.7 1211.0L551.0 1205.1L579.3 1198.8L579.5 1203.6L607.9 1203.4ZM650.3 1205.9L621.8 1206.2L622.1 1211.0L593.3 1205.2L621.4 1198.8L621.7 1203.6L650.2 1203.3ZM692.6 1205.8L664.1 1206.2L664.4 1211.0L635.5 1205.3L663.6 1198.8L663.9 1203.6L692.4 1203.2ZM734.8 1205.7L706.4 1206.2L706.8 1211.0L677.8 1205.4L705.7 1198.8L706.1 1203.6L734.6 1203.1ZM777.1 1205.7L748.6 1206.2L749.1 1211.0L720.0 1205.4L747.9 1198.8L748.4 1203.6L776.9 1203.1ZM819.3 1205.7L790.9 1206.2L791.3 1211.0L762.3 1205.4L790.2 1198.8L790.6 1203.6L819.1 1203.1ZM861.6 1205.7L833.1 1206.2L833.5 1211.0L804.5 1205.4L832.5 1198.8L832.9 1203.6L861.4 1203.1ZM1185.3 1202.1L1213.6 1203.6L1214.9 1198.8L1241.5 1206.4L1211.6 1211.0L1212.9 1206.2L1184.6 1204.7ZM1227.6 1202.1L1255.9 1203.6L1257.2 1198.8L1283.8 1206.4L1253.8 1211.0L1255.1 1206.2L1226.8 1204.7ZM1269.8 1202.1L1298.1 1203.6L1299.4 1198.8L1326.0 1206.4L1296.1 1211.0L1297.4 1206.2L1269.1 1204.7ZM1312.1 1202.1L1340.4 1203.6L1341.7 1198.8L1368.3 1206.4L1338.3 1211.0L1339.6 1206.2L1311.3 1204.7ZM1354.3 1202.1L1382.6 1203.6L1383.9 1198.8L1410.5 1206.4L1380.6 1211.0L1381.9 1206.2L1353.6 1204.7ZM1396.6 1202.1L1424.9 1203.6L1426.2 1198.8L1452.8 1206.4L1422.8 1211.0L1424.1 1206.2L1395.8 1204.7ZM1438.8 1202.1L1467.1 1203.6L1468.4 1198.8L1495.0 1206.4L1465.1 1211.0L1466.4 1206.2L1438.1 1204.7ZM1481.1 1202.1L1509.4 1203.6L1510.7 1198.8L1537.3 1206.4L1507.3 1211.0L1508.6 1206.2L1480.3 1204.7ZM254.2 1244.1L239.0 1233.5L229.7 1236.1L226.3 1222.2L253.3 1229.5L244.0 1232.1L259.2 1242.7ZM296.4 1244.1L281.2 1233.5L271.9 1236.1L268.6 1222.2L295.6 1229.5L286.3 1232.1L301.4 1242.7ZM338.8 1244.1L323.5 1233.5L314.2 1236.1L310.7 1222.2L337.8 1229.5L328.5 1232.1L343.8 1242.7ZM381.2 1244.0L365.8 1233.5L356.5 1236.1L352.8 1222.3L380.0 1229.5L370.7 1232.1L386.2 1242.6ZM607.8 1230.9L580.2 1234.1L583.0 1238.7L551.9 1235.9L576.0 1226.9L578.8 1231.5L606.3 1228.4ZM650.0 1230.8L622.5 1234.1L625.4 1238.7L594.2 1236.1L618.1 1226.9L621.0 1231.5L648.5 1228.3ZM692.3 1230.8L664.8 1234.1L667.7 1238.7L636.5 1236.1L660.3 1226.9L663.2 1231.5L690.7 1228.3ZM734.5 1230.8L707.0 1234.1L709.9 1238.7L678.7 1236.1L702.6 1226.9L705.5 1231.5L733.0 1228.3ZM776.8 1230.8L749.3 1234.1L752.1 1238.7L721.0 1236.1L744.9 1226.9L747.7 1231.5L775.2 1228.3ZM819.1 1230.9L791.5 1234.1L794.3 1238.7L763.2 1236.0L787.2 1226.9L790.0 1231.5L817.5 1228.3ZM861.3 1231.0L833.7 1234.1L836.5 1238.7L805.4 1235.9L829.5 1226.9L832.3 1231.5L859.9 1228.4ZM1100.5 1230.6L1129.0 1231.5L1129.7 1226.7L1157.2 1233.7L1127.8 1238.9L1128.5 1234.1L1100.1 1233.2ZM1142.8 1230.6L1171.2 1231.5L1172.0 1226.7L1199.4 1233.7L1170.0 1238.9L1170.8 1234.1L1142.4 1233.2ZM1184.9 1230.9L1213.4 1231.5L1213.9 1226.7L1241.7 1233.4L1212.6 1238.9L1213.1 1234.1L1184.6 1233.5ZM1227.1 1231.3L1255.6 1231.5L1255.7 1226.7L1284.0 1233.0L1255.3 1238.9L1255.4 1234.1L1227.0 1233.9ZM1269.3 1231.5L1297.8 1231.5L1297.8 1226.7L1326.2 1232.8L1297.7 1238.9L1297.7 1234.1L1269.2 1234.1ZM1311.5 1231.5L1340.0 1231.5L1340.0 1226.7L1368.5 1232.8L1340.0 1238.9L1340.0 1234.1L1311.5 1234.1ZM1353.8 1231.4L1382.3 1231.5L1382.4 1226.7L1410.7 1232.9L1382.1 1238.9L1382.2 1234.1L1353.7 1234.0ZM1396.0 1231.4L1424.5 1231.5L1424.6 1226.7L1453.0 1232.9L1424.4 1238.9L1424.5 1234.1L1396.0 1234.0ZM1438.3 1231.5L1466.8 1231.5L1466.8 1226.7L1495.2 1232.8L1466.7 1238.9L1466.7 1234.1L1438.2 1234.1ZM254.1 1272.0L239.0 1261.4L229.7 1264.0L226.4 1250.1L253.3 1257.4L244.0 1260.0L259.1 1270.6ZM296.4 1272.0L281.2 1261.4L271.9 1264.0L268.6 1250.1L295.6 1257.4L286.3 1260.0L301.4 1270.6ZM338.6 1272.0L323.5 1261.4L314.2 1264.0L310.9 1250.1L337.8 1257.4L328.5 1260.0L343.6 1270.6ZM380.9 1272.0L365.7 1261.4L356.4 1264.0L353.1 1250.1L380.1 1257.4L370.8 1260.0L385.9 1270.6ZM650.1 1258.7L622.5 1262.0L625.3 1266.6L594.2 1263.9L618.2 1254.8L621.0 1259.4L648.5 1256.2ZM692.3 1258.8L664.8 1262.0L667.6 1266.6L636.4 1263.9L660.4 1254.8L663.2 1259.4L690.8 1256.2ZM734.6 1258.8L707.0 1262.0L709.8 1266.6L678.7 1263.9L702.7 1254.8L705.5 1259.4L733.1 1256.3ZM776.8 1258.8L749.2 1262.0L752.0 1266.6L720.9 1263.8L745.0 1254.8L747.8 1259.4L775.4 1256.3ZM819.1 1258.9L791.5 1262.0L794.2 1266.6L763.1 1263.8L787.3 1254.8L790.0 1259.4L817.7 1256.4ZM861.4 1259.0L833.7 1262.0L836.3 1266.6L805.3 1263.7L829.7 1254.8L832.3 1259.4L860.0 1256.5ZM903.6 1259.0L875.9 1262.0L878.5 1266.7L847.5 1263.6L872.0 1254.7L874.6 1259.4L902.3 1256.5ZM945.9 1259.0L918.2 1262.0L920.8 1266.7L889.8 1263.6L914.2 1254.7L916.8 1259.4L944.5 1256.5ZM979.8 1269.7L957.9 1261.7L950.8 1265.4L937.8 1252.7L968.7 1256.0L961.6 1259.7L983.6 1267.7ZM1105.0 1253.7L1130.1 1259.6L1135.3 1255.3L1153.9 1266.6L1122.2 1266.1L1127.4 1261.8L1102.2 1256.0ZM1147.2 1253.7L1172.4 1259.6L1177.5 1255.3L1196.2 1266.6L1164.5 1266.1L1169.6 1261.8L1144.4 1256.0ZM1189.2 1253.9L1214.6 1259.5L1219.6 1255.2L1238.7 1266.4L1206.9 1266.2L1211.9 1261.9L1186.5 1256.2ZM247.0 1300.9L238.7 1289.0L228.2 1290.4L233.1 1276.7L254.8 1286.8L244.3 1288.2L252.7 1300.2ZM289.3 1300.9L280.9 1289.0L270.4 1290.4L275.4 1276.7L297.1 1286.8L286.6 1288.2L295.0 1300.2ZM331.5 1300.9L323.2 1289.0L312.7 1290.4L317.6 1276.7L339.3 1286.8L328.8 1288.2L337.2 1300.2ZM373.8 1300.9L365.4 1289.0L354.9 1290.4L359.9 1276.7L381.6 1286.8L371.1 1288.2L379.5 1300.2ZM650.2 1287.0L622.4 1289.9L625.0 1294.6L594.0 1291.5L618.5 1282.6L621.1 1287.3L648.8 1284.4ZM692.4 1287.0L664.7 1289.9L667.3 1294.6L636.3 1291.5L660.7 1282.6L663.3 1287.3L691.0 1284.4ZM734.7 1287.0L706.9 1289.9L709.5 1294.6L678.5 1291.5L703.0 1282.6L705.6 1287.3L733.3 1284.4ZM776.9 1287.0L749.2 1289.9L751.8 1294.6L720.8 1291.5L745.2 1282.6L747.8 1287.3L775.5 1284.4ZM819.2 1287.0L791.4 1289.9L794.0 1294.6L763.0 1291.5L787.5 1282.6L790.1 1287.3L817.8 1284.4ZM861.4 1286.9L833.7 1289.9L836.3 1294.6L805.3 1291.5L829.7 1282.6L832.3 1287.3L860.0 1284.4ZM903.7 1287.0L875.9 1289.9L878.5 1294.6L847.5 1291.5L872.0 1282.6L874.6 1287.3L902.3 1284.4ZM945.9 1287.0L918.2 1289.9L920.8 1294.6L889.8 1291.5L914.2 1282.6L916.8 1287.3L944.5 1284.4ZM979.8 1297.6L957.9 1289.6L950.8 1293.3L937.8 1280.6L968.7 1283.9L961.6 1287.6L983.6 1295.6ZM1022.0 1297.6L1000.1 1289.6L993.1 1293.3L980.1 1280.6L1010.9 1283.9L1003.9 1287.6L1025.8 1295.6ZM1111.2 1278.7L1130.9 1287.7L1138.8 1284.4L1148.5 1297.6L1118.7 1292.8L1126.6 1289.5L1106.9 1280.5ZM1153.2 1278.8L1173.1 1287.7L1181.0 1284.3L1191.0 1297.5L1161.0 1292.9L1168.9 1289.5L1148.9 1280.6ZM1195.4 1278.8L1215.4 1287.7L1223.2 1284.3L1233.2 1297.5L1203.3 1292.9L1211.1 1289.5L1191.1 1280.6ZM1237.6 1278.8L1257.6 1287.7L1265.5 1284.3L1275.5 1297.5L1245.5 1292.9L1253.4 1289.5L1233.4 1280.6ZM1282.1 1278.1L1300.1 1287.8L1308.6 1284.8L1315.7 1298.3L1286.9 1292.4L1295.4 1289.4L1277.5 1279.7ZM1332.3 1276.5L1342.8 1288.1L1353.0 1286.3L1350.5 1300.2L1327.0 1290.9L1337.2 1289.1L1326.8 1277.5ZM239.6 1329.0L238.5 1316.5L227.5 1316.7L240.4 1304.0L255.5 1316.3L244.5 1316.5L245.6 1328.9ZM281.9 1329.0L280.8 1316.5L269.8 1316.7L282.7 1304.0L297.7 1316.3L286.7 1316.5L287.8 1328.9ZM324.1 1329.0L323.0 1316.5L312.0 1316.7L324.9 1304.0L340.0 1316.3L329.0 1316.5L330.1 1328.9ZM366.4 1329.0L365.3 1316.5L354.3 1316.7L367.2 1304.0L382.2 1316.3L371.2 1316.5L372.3 1328.9ZM734.7 1314.9L706.9 1317.8L709.5 1322.5L678.5 1319.4L703.0 1310.5L705.6 1315.2L733.3 1312.3ZM776.9 1314.9L749.2 1317.8L751.8 1322.5L720.8 1319.4L745.2 1310.5L747.8 1315.2L775.5 1312.3ZM819.2 1314.9L791.4 1317.8L794.0 1322.5L763.0 1319.4L787.5 1310.5L790.1 1315.2L817.8 1312.3ZM861.4 1314.8L833.7 1317.8L836.3 1322.4L805.3 1319.5L829.7 1310.6L832.3 1315.2L860.0 1312.3ZM903.7 1314.9L875.9 1317.8L878.5 1322.5L847.5 1319.4L872.0 1310.5L874.6 1315.2L902.3 1312.3ZM945.9 1314.9L918.2 1317.8L920.8 1322.5L889.8 1319.4L914.2 1310.5L916.8 1315.2L944.5 1312.3ZM979.9 1325.4L957.9 1317.5L950.9 1321.2L937.7 1308.6L968.6 1311.8L961.6 1315.5L983.6 1323.4ZM1022.0 1325.5L1000.1 1317.5L993.1 1321.2L980.1 1308.5L1010.9 1311.8L1003.9 1315.5L1025.8 1323.5ZM1153.2 1306.6L1173.1 1315.6L1181.0 1312.2L1190.9 1325.4L1161.0 1320.8L1168.9 1317.4L1149.0 1308.5ZM1195.4 1306.7L1215.4 1315.6L1223.2 1312.2L1233.2 1325.4L1203.3 1320.8L1211.1 1317.4L1191.2 1308.5ZM1237.7 1306.7L1257.6 1315.6L1265.5 1312.2L1275.5 1325.4L1245.5 1320.8L1253.4 1317.4L1233.4 1308.5ZM1284.8 1305.3L1300.2 1315.8L1309.5 1313.2L1313.2 1327.0L1286.0 1319.8L1295.3 1317.2L1279.8 1306.7ZM1333.0 1304.3L1342.8 1316.1L1353.1 1314.4L1349.7 1328.2L1326.9 1318.6L1337.2 1316.9L1327.5 1305.2ZM1391.1 1304.5L1385.1 1316.8L1395.9 1317.8L1376.3 1328.7L1368.6 1315.2L1379.4 1316.2L1385.3 1304.0ZM1434.3 1304.7L1427.4 1316.8L1438.0 1318.0L1417.6 1328.6L1411.0 1315.0L1421.6 1316.2L1428.5 1304.1ZM231.6 1356.2L238.6 1344.1L228.0 1342.9L248.5 1332.3L255.0 1345.9L244.4 1344.7L237.4 1356.8ZM273.9 1356.2L280.9 1344.1L270.2 1342.9L290.7 1332.3L297.3 1345.9L286.6 1344.7L279.6 1356.8ZM316.1 1356.2L323.1 1344.1L312.5 1342.9L333.0 1332.3L339.5 1345.9L328.9 1344.7L321.8 1356.8ZM357.4 1356.0L365.4 1344.0L354.8 1342.7L376.2 1332.4L381.7 1346.1L371.1 1344.8L363.1 1356.8ZM860.9 1341.6L834.0 1345.6L837.5 1350.2L806.0 1348.4L828.5 1338.6L832.0 1343.2L859.0 1339.1ZM903.6 1342.7L876.0 1345.7L878.6 1350.3L847.6 1347.4L871.9 1338.5L874.5 1343.1L902.2 1340.1ZM1343.2 1331.9L1343.0 1344.4L1354.0 1344.4L1339.8 1356.9L1326.0 1344.4L1337.0 1344.4L1337.2 1331.9ZM1400.5 1334.7L1384.7 1345.1L1393.9 1347.8L1366.5 1354.8L1370.6 1341.0L1379.8 1343.7L1395.6 1333.3ZM1443.2 1334.9L1426.9 1345.1L1436.0 1347.9L1408.2 1354.7L1413.0 1340.9L1422.1 1343.7L1438.4 1333.4ZM1485.5 1334.9L1469.2 1345.1L1478.2 1347.9L1450.4 1354.6L1455.3 1340.9L1464.3 1343.7L1480.7 1333.4ZM265.8 1382.1L281.3 1371.6L272.0 1369.0L299.2 1361.8L295.5 1375.6L286.2 1373.0L270.8 1383.5ZM307.1 1381.8L323.6 1371.5L314.6 1368.8L342.5 1362.1L337.4 1375.8L328.4 1373.1L312.0 1383.3ZM348.7 1381.5L365.9 1371.5L357.1 1368.6L385.5 1362.3L379.4 1376.0L370.6 1373.1L353.4 1383.0ZM389.4 1380.8L408.3 1371.4L400.0 1368.3L429.3 1362.9L421.0 1376.3L412.7 1373.2L393.9 1382.5ZM856.8 1365.3L834.9 1373.3L841.9 1377.0L811.1 1380.3L824.1 1367.6L831.1 1371.3L853.0 1363.3ZM1344.6 1359.9L1343.0 1372.4L1353.9 1372.7L1338.4 1384.8L1326.1 1371.9L1337.0 1372.2L1338.7 1359.7ZM1401.0 1362.8L1384.7 1373.0L1393.7 1375.8L1365.9 1382.5L1370.8 1368.8L1379.8 1371.6L1396.2 1361.3ZM1443.3 1362.8L1426.9 1373.0L1435.9 1375.8L1408.1 1382.5L1413.1 1368.8L1422.1 1371.6L1438.4 1361.3ZM1485.5 1362.8L1469.2 1373.0L1478.2 1375.8L1450.4 1382.5L1455.3 1368.8L1464.3 1371.6L1480.7 1361.3ZM342.3 1405.5L366.7 1399.1L361.0 1395.0L392.7 1393.7L375.5 1405.4L369.8 1401.3L345.4 1407.8ZM383.6 1404.5L409.2 1399.0L404.4 1394.7L436.2 1394.8L416.6 1405.7L411.8 1401.4L386.1 1406.8ZM427.5 1406.2L451.1 1399.1L444.9 1395.1L476.3 1393.2L460.6 1405.3L454.4 1401.3L430.9 1408.3ZM812.5 1392.0L792.9 1401.1L800.9 1404.4L771.2 1409.3L780.6 1396.0L788.6 1399.3L808.2 1390.2ZM855.7 1392.5L835.0 1401.1L842.6 1404.6L812.3 1408.8L823.4 1395.8L831.0 1399.3L851.6 1390.7ZM897.0 1392.0L877.4 1401.1L885.4 1404.4L855.6 1409.3L865.1 1396.0L873.1 1399.3L892.7 1390.2ZM968.6 1388.2L962.6 1400.5L973.4 1401.5L953.8 1412.4L946.1 1398.9L956.9 1399.9L962.8 1387.7ZM1344.7 1387.8L1343.0 1400.3L1353.9 1400.6L1338.2 1412.7L1326.1 1399.8L1337.0 1400.1L1338.8 1387.6ZM1401.0 1390.7L1384.7 1400.9L1393.7 1403.7L1365.9 1410.4L1370.8 1396.7L1379.8 1399.5L1396.2 1389.2ZM1443.3 1390.7L1426.9 1400.9L1435.9 1403.7L1408.1 1410.4L1413.1 1396.7L1422.1 1399.5L1438.4 1389.2ZM1485.5 1390.7L1469.2 1400.9L1478.2 1403.7L1450.4 1410.4L1455.3 1396.7L1464.3 1399.5L1480.7 1389.2ZM339.9 1429.8L367.6 1426.8L365.0 1422.1L395.9 1425.2L371.5 1434.1L368.9 1429.4L341.2 1432.3ZM382.0 1429.5L409.9 1426.8L407.5 1422.1L438.3 1425.4L413.5 1434.1L411.1 1429.4L383.3 1432.0ZM427.4 1434.0L451.1 1427.0L445.0 1423.0L476.4 1421.1L460.5 1433.2L454.4 1429.2L430.8 1436.2ZM470.3 1434.5L493.2 1427.1L486.7 1423.2L517.9 1420.7L503.3 1433.0L496.8 1429.1L473.8 1436.6ZM512.6 1434.5L535.5 1427.1L528.9 1423.2L560.2 1420.7L545.6 1433.0L539.0 1429.1L516.1 1436.6ZM855.8 1420.5L835.0 1429.0L842.5 1432.6L812.2 1436.6L823.5 1423.6L831.0 1427.2L851.8 1418.6ZM897.0 1419.9L877.4 1429.0L885.4 1432.3L855.7 1437.2L865.1 1423.9L873.1 1427.2L892.7 1418.1ZM968.5 1416.1L962.7 1428.4L973.4 1429.4L953.9 1440.3L946.1 1426.8L956.8 1427.8L962.7 1415.6ZM1186.8 1438.6L1168.7 1428.9L1160.2 1432.0L1152.9 1418.5L1181.8 1424.2L1173.3 1427.3L1191.4 1436.9ZM1344.7 1415.7L1343.0 1428.2L1353.9 1428.5L1338.2 1440.6L1326.1 1427.7L1337.0 1428.0L1338.8 1415.5ZM1401.0 1418.6L1384.7 1428.8L1393.7 1431.6L1365.9 1438.3L1370.8 1424.6L1379.8 1427.4L1396.2 1417.1ZM1443.3 1418.6L1426.9 1428.8L1435.9 1431.6L1408.1 1438.3L1413.1 1424.6L1422.1 1427.4L1438.4 1417.1ZM1485.5 1418.6L1469.2 1428.8L1478.2 1431.6L1450.4 1438.3L1455.3 1424.6L1464.3 1427.4L1480.7 1417.1ZM382.5 1458.7L409.6 1454.8L406.1 1450.2L437.5 1452.0L414.9 1461.8L411.4 1457.2L384.4 1461.2ZM428.1 1462.4L451.0 1455.0L444.4 1451.1L475.7 1448.6L461.1 1460.9L454.5 1457.0L431.6 1464.5ZM470.3 1462.4L493.2 1455.0L486.7 1451.1L517.9 1448.6L503.3 1460.9L496.8 1457.0L473.9 1464.5ZM512.6 1462.4L535.5 1455.0L528.9 1451.1L560.1 1448.5L545.6 1460.9L539.0 1457.0L516.2 1464.5ZM856.1 1448.6L835.0 1457.0L842.4 1460.5L811.8 1464.4L823.6 1451.5L831.0 1455.0L852.2 1446.7ZM968.4 1444.0L962.7 1456.3L973.4 1457.2L954.0 1468.2L946.1 1454.8L956.8 1455.7L962.6 1443.5ZM1186.8 1466.5L1168.7 1456.8L1160.2 1459.9L1152.9 1446.4L1181.8 1452.1L1173.3 1455.2L1191.4 1464.8ZM1381.9 1443.4L1385.2 1455.8L1396.1 1455.3L1385.6 1468.4L1368.4 1456.7L1379.3 1456.2L1376.0 1443.7ZM1424.1 1443.4L1427.4 1455.8L1438.4 1455.3L1427.8 1468.4L1410.6 1456.7L1421.6 1456.2L1418.2 1443.7ZM861.7 1483.8L833.3 1485.2L834.6 1490.0L804.7 1485.3L831.4 1477.8L832.7 1482.6L861.0 1481.2ZM1034.9 1495.8L1041.4 1483.6L1030.6 1482.5L1050.7 1471.7L1057.9 1485.3L1047.1 1484.2L1040.7 1496.4ZM1186.8 1494.4L1168.7 1484.7L1160.2 1487.8L1152.9 1474.3L1181.8 1480.0L1173.3 1483.1L1191.4 1492.7ZM861.6 1512.1L833.2 1513.1L834.1 1517.9L804.6 1512.8L831.9 1505.7L832.8 1510.5L861.2 1509.5ZM1034.9 1523.7L1041.4 1511.5L1030.6 1510.4L1050.7 1499.6L1057.9 1513.2L1047.1 1512.1L1040.7 1524.3ZM1186.8 1522.3L1168.7 1512.6L1160.2 1515.7L1152.9 1502.2L1181.8 1507.9L1173.3 1511.0L1191.4 1520.6ZM1184.6 1512.5L1212.8 1510.5L1211.0 1505.8L1241.4 1509.8L1215.5 1517.8L1213.7 1513.1L1185.6 1515.1ZM1226.9 1512.5L1255.0 1510.5L1253.3 1505.8L1283.6 1509.8L1257.7 1517.8L1256.0 1513.1L1227.8 1515.1ZM427.9 1549.7L408.3 1540.6L400.3 1543.9L391.0 1530.6L420.7 1535.5L412.7 1538.8L432.2 1547.9ZM861.6 1540.0L833.2 1541.0L834.1 1545.8L804.6 1540.7L831.9 1533.6L832.8 1538.4L861.2 1537.4ZM1034.9 1551.6L1041.4 1539.4L1030.6 1538.3L1050.7 1527.5L1057.9 1541.1L1047.1 1540.0L1040.7 1552.2ZM1184.6 1540.4L1212.8 1538.4L1211.1 1533.7L1241.4 1537.7L1215.4 1545.7L1213.7 1541.0L1185.6 1543.0ZM1226.9 1540.4L1255.0 1538.4L1253.3 1533.7L1283.6 1537.7L1257.7 1545.7L1256.0 1541.0L1227.8 1543.0ZM1748.8 1541.0L1720.2 1541.0L1720.2 1545.8L1691.8 1539.7L1720.2 1533.6L1720.2 1538.4L1748.8 1538.4ZM307.1 1558.2L328.0 1566.6L335.5 1563.1L346.9 1576.1L316.5 1572.1L324.0 1568.6L303.0 1560.1ZM427.9 1577.6L408.3 1568.5L400.3 1571.8L391.0 1558.5L420.7 1563.4L412.7 1566.7L432.2 1575.8ZM861.6 1567.9L833.2 1568.9L834.1 1573.7L804.6 1568.6L831.9 1561.5L832.8 1566.3L861.2 1565.3ZM1034.9 1579.5L1041.4 1567.3L1030.6 1566.2L1050.7 1555.4L1057.9 1569.0L1047.1 1567.9L1040.7 1580.1ZM1184.6 1568.3L1212.8 1566.3L1211.1 1561.6L1241.4 1565.6L1215.4 1573.6L1213.7 1568.9L1185.6 1570.9ZM1226.9 1568.3L1255.0 1566.3L1253.3 1561.6L1283.6 1565.6L1257.7 1573.6L1256.0 1568.9L1227.8 1570.9ZM1410.3 1578.5L1421.8 1567.1L1411.7 1565.1L1436.0 1556.2L1437.3 1570.1L1427.2 1568.1L1415.7 1579.6ZM1517.7 1579.6L1506.3 1568.1L1496.2 1570.1L1497.6 1556.2L1521.8 1565.1L1511.7 1567.1L1523.2 1578.5ZM1560.0 1579.6L1548.5 1568.1L1538.5 1570.1L1539.8 1556.2L1564.0 1565.1L1554.0 1567.1L1565.4 1578.5ZM1748.8 1568.9L1720.2 1568.9L1720.2 1573.7L1691.8 1567.6L1720.2 1561.5L1720.2 1566.3L1748.8 1566.3ZM307.0 1586.1L328.0 1594.5L335.5 1591.0L347.0 1604.0L316.5 1600.0L324.0 1596.5L303.0 1588.0ZM427.9 1605.5L408.3 1596.4L400.3 1599.7L391.0 1586.4L420.7 1591.3L412.7 1594.6L432.2 1603.7ZM861.6 1595.8L833.2 1596.8L834.1 1601.6L804.6 1596.5L831.9 1589.4L832.8 1594.2L861.2 1593.2ZM1034.9 1607.4L1041.4 1595.2L1030.6 1594.1L1050.7 1583.3L1057.9 1596.9L1047.1 1595.8L1040.7 1608.0ZM1226.9 1596.2L1255.0 1594.2L1253.3 1589.5L1283.6 1593.5L1257.7 1601.5L1256.0 1596.8L1227.8 1598.8ZM1410.3 1606.4L1421.8 1595.0L1411.7 1593.0L1435.9 1584.1L1437.3 1598.0L1427.2 1596.0L1415.8 1607.5ZM1560.0 1607.5L1548.5 1596.0L1538.5 1598.0L1539.8 1584.1L1564.0 1593.0L1554.0 1595.0L1565.4 1606.4ZM1525.6 1451.4L1551.3 1456.8L1556.1 1452.5L1575.6 1463.5L1543.9 1463.5L1548.7 1459.2L1523.1 1453.7ZM1569.2 1450.4L1593.5 1456.9L1599.3 1452.8L1616.3 1464.5L1584.7 1463.2L1590.5 1459.1L1566.1 1452.6ZM1635.3 1528.7L1631.9 1541.2L1642.9 1541.7L1625.7 1553.4L1615.1 1540.3L1626.1 1540.8L1629.4 1528.4ZM1633.1 1556.6L1632.0 1569.0L1643.0 1569.2L1627.9 1581.5L1615.0 1568.8L1626.0 1569.0L1627.1 1556.5ZM748.0 1418.5L748.0 1431.0L759.0 1431.0L745.0 1443.5L731.0 1431.0L742.0 1431.0L742.0 1418.5ZM873.0 1373.4L845.9 1377.2L849.3 1381.8L817.9 1379.8L840.7 1370.2L844.1 1374.8L871.2 1370.9ZM983.0 1418.5L983.0 1431.0L994.0 1431.0L980.0 1443.5L966.0 1431.0L977.0 1431.0L977.0 1418.5ZM982.3 1577.9L955.9 1573.2L951.8 1577.7L930.6 1567.3L962.2 1566.3L958.1 1570.8L984.5 1575.5ZM689.5 1567.5L663.1 1572.2L667.2 1576.7L635.6 1575.7L656.8 1565.3L660.9 1569.8L687.3 1565.1ZM310.3 1549.9L283.9 1545.2L279.8 1549.7L258.6 1539.3L290.2 1538.3L286.1 1542.8L312.5 1547.5ZM267.4 1489.7L239.4 1487.3L237.3 1492.0L212.1 1483.6L242.7 1480.0L240.6 1484.7L268.5 1487.2ZM300.3 1520.9L273.9 1516.2L269.8 1520.7L248.6 1510.3L280.2 1509.3L276.1 1513.8L302.5 1518.5ZM1548.7 1582.0L1537.3 1570.5L1527.2 1572.5L1528.6 1558.6L1552.8 1567.5L1542.7 1569.5L1554.2 1580.9Z"/>
<path fill="#fff" fill-opacity="0.52" d="M191 926L745.1 926.3L735.6 929.1L726.4 931.9L717.2 934.7L708.3 937.5L699.5 940.3L690.8 943.2L682.3 946.0L673.9 948.8L665.7 951.6L657.6 954.4L649.7 957.2L641.9 960.0L634.3 962.8L626.7 965.6L619.3 968.4L612.0 971.2L604.9 974.0L597.9 976.9L591.0 979.7L584.2 982.5L577.5 985.3L571.0 988.1L564.5 990.9L558.2 993.7L552.0 996.5L545.9 999.3L539.9 1002.1L534.0 1004.9L528.2 1007.7L522.5 1010.6L516.9 1013.4L511.4 1016.2L506.0 1019.0L500.7 1021.8L495.4 1024.6L490.3 1027.4L485.3 1030.2L480.3 1033.0L475.4 1035.8L470.6 1038.6L465.9 1041.4L461.3 1044.3L456.8 1047.1L452.3 1049.9L447.9 1052.7L443.6 1055.5L439.4 1058.3L435.2 1061.1L431.1 1063.9L427.1 1066.7L423.1 1069.5L419.3 1072.3L415.5 1075.1L411.7 1078.0L408.0 1080.8L404.4 1083.6L400.8 1086.4L397.3 1089.2L393.9 1092.0L390.5 1094.8L387.2 1097.6L384.0 1100.4L380.8 1103.2L377.6 1106.0L374.5 1108.8L371.5 1111.7L368.5 1114.5L365.5 1117.3L362.7 1120.1L359.8 1122.9L357.0 1125.7L354.3 1128.5L351.6 1131.3L349.0 1134.1L346.4 1136.9L343.8 1139.7L341.3 1142.5L338.8 1145.4L336.4 1148.2L334.0 1151.0L331.7 1153.8L329.4 1156.6L327.1 1159.4L324.9 1162.2L322.8 1165.0L320.6 1167.8L318.5 1170.6L316.4 1173.4L314.4 1176.2L312.4 1179.1L310.4 1181.9L308.5 1184.7L306.6 1187.5L304.8 1190.3L302.9 1193.1L301.1 1195.9L299.4 1198.7L297.6 1201.5L295.9 1204.3L294.2 1207.1L292.6 1209.9L291.0 1212.8L289.4 1215.6L287.8 1218.4L286.3 1221.2L284.8 1224.0L283.3 1226.8L281.8 1229.6L280.4 1232.4L279.0 1235.2L277.6 1238.0L276.3 1240.8L274.9 1243.6L273.6 1246.5L272.3 1249.3L271.1 1252.1L269.8 1254.9L268.6 1257.7L267.4 1260.5L266.2 1263.3L265.1 1266.1L263.9 1268.9L262.8 1271.7L261.7 1274.5L260.6 1277.3L259.6 1280.2L258.5 1283.0L257.5 1285.8L256.5 1288.6L255.5 1291.4L254.5 1294.2L253.6 1297.0L252.7 1299.8L251.7 1302.6L250.8 1305.4L249.9 1308.2L249.1 1311.0L248.2 1313.9L247.4 1316.7L246.5 1319.5L245.7 1322.3L244.9 1325.1L244.1 1327.9L243.4 1330.7L242.6 1333.5L241.9 1336.3L241.1 1339.1L240.4 1341.9L239.7 1344.7L239.0 1347.6L238.3 1350.4L237.7 1353.2L237.0 1356.0L236.4 1358.8L235.7 1361.6L235.1 1364.4L234.5 1367.2L233.9 1370.0L233.3 1372.8L232.7 1375.6L232.2 1378.4L231.6 1381.3L231.0 1384.1L230.5 1386.9L230.0 1389.7L229.5 1392.5L228.9 1395.3L228.4 1398.1L227.9 1400.9L227.5 1403.7L227.0 1406.5L226.5 1409.3L226.1 1412.1L225.6 1415.0L225.2 1417.8L224.7 1420.6L224.3 1423.4L223.9 1426.2L223.5 1429.0L223.1 1431.8L222.7 1434.6L222.3 1437.4L221.9 1440.2L221.5 1443.0L221.2 1445.8L220.8 1448.7L220.4 1451.5L220.1 1454.3L219.7 1457.1L219.4 1459.9L219.1 1462.7L218.7 1465.5L218.4 1468.3L218.1 1471.1L217.8 1473.9L217.5 1476.7L217.2 1479.5L216.9 1482.4L216.6 1485.2L216.3 1488.0L216.1 1490.8L215.8 1493.6L215.5 1496.4L215.3 1499.2L215.0 1502.0L214.8 1504.8L214.5 1507.6L214.3 1510.4L214.0 1513.2L213.8 1516.1L213.6 1518.9L213.4 1521.7L213.1 1524.5L212.9 1527.3L212.7 1530.1L212.5 1532.9L212.3 1535.7L212.1 1538.5L211.9 1541.3L211.7 1544.1L211.5 1546.9L211.3 1549.8L211.1 1552.6L211.0 1555.4L210.8 1558.2L210.6 1561.0L210.4 1563.8L210.3 1566.6L210.1 1569.4L210.0 1572.2L209.8 1575.0L209.6 1577.8L209.5 1580.6L209.3 1583.5L209.2 1586.3L209.1 1589.1L208.9 1591.9L208.8 1594.7L208.6 1597.5L191 1597ZM1730 926L1177.9 926.3L1187.4 929.1L1196.6 931.9L1205.8 934.7L1214.7 937.5L1223.5 940.3L1232.2 943.2L1240.7 946.0L1249.1 948.8L1257.3 951.6L1265.4 954.4L1273.3 957.2L1281.1 960.0L1288.7 962.8L1296.3 965.6L1303.7 968.4L1311.0 971.2L1318.1 974.0L1325.1 976.9L1332.0 979.7L1338.8 982.5L1345.5 985.3L1352.0 988.1L1358.5 990.9L1364.8 993.7L1371.0 996.5L1377.1 999.3L1383.1 1002.1L1389.0 1004.9L1394.8 1007.7L1400.5 1010.6L1406.1 1013.4L1411.6 1016.2L1417.0 1019.0L1422.3 1021.8L1427.6 1024.6L1432.7 1027.4L1437.7 1030.2L1442.7 1033.0L1447.6 1035.8L1452.4 1038.6L1457.1 1041.4L1461.7 1044.3L1466.2 1047.1L1470.7 1049.9L1475.1 1052.7L1479.4 1055.5L1483.6 1058.3L1487.8 1061.1L1491.9 1063.9L1495.9 1066.7L1499.9 1069.5L1503.7 1072.3L1507.5 1075.1L1511.3 1078.0L1515.0 1080.8L1518.6 1083.6L1522.2 1086.4L1525.7 1089.2L1529.1 1092.0L1532.5 1094.8L1535.8 1097.6L1539.0 1100.4L1542.2 1103.2L1545.4 1106.0L1548.5 1108.8L1551.5 1111.7L1554.5 1114.5L1557.5 1117.3L1560.3 1120.1L1563.2 1122.9L1566.0 1125.7L1568.7 1128.5L1571.4 1131.3L1574.0 1134.1L1576.6 1136.9L1579.2 1139.7L1581.7 1142.5L1584.2 1145.4L1586.6 1148.2L1589.0 1151.0L1591.3 1153.8L1593.6 1156.6L1595.9 1159.4L1598.1 1162.2L1600.2 1165.0L1602.4 1167.8L1604.5 1170.6L1606.6 1173.4L1608.6 1176.2L1610.6 1179.1L1612.6 1181.9L1614.5 1184.7L1616.4 1187.5L1618.2 1190.3L1620.1 1193.1L1621.9 1195.9L1623.6 1198.7L1625.4 1201.5L1627.1 1204.3L1628.8 1207.1L1630.4 1209.9L1632.0 1212.8L1633.6 1215.6L1635.2 1218.4L1636.7 1221.2L1638.2 1224.0L1639.7 1226.8L1641.2 1229.6L1642.6 1232.4L1644.0 1235.2L1645.4 1238.0L1646.7 1240.8L1648.1 1243.6L1649.4 1246.5L1650.7 1249.3L1651.9 1252.1L1653.2 1254.9L1654.4 1257.7L1655.6 1260.5L1656.8 1263.3L1657.9 1266.1L1659.1 1268.9L1660.2 1271.7L1661.3 1274.5L1662.4 1277.3L1663.4 1280.2L1664.5 1283.0L1665.5 1285.8L1666.5 1288.6L1667.5 1291.4L1668.5 1294.2L1669.4 1297.0L1670.3 1299.8L1671.3 1302.6L1672.2 1305.4L1673.1 1308.2L1673.9 1311.0L1674.8 1313.9L1675.6 1316.7L1676.5 1319.5L1677.3 1322.3L1678.1 1325.1L1678.9 1327.9L1679.6 1330.7L1680.4 1333.5L1681.1 1336.3L1681.9 1339.1L1682.6 1341.9L1683.3 1344.7L1684.0 1347.6L1684.7 1350.4L1685.3 1353.2L1686.0 1356.0L1686.6 1358.8L1687.3 1361.6L1687.9 1364.4L1688.5 1367.2L1689.1 1370.0L1689.7 1372.8L1690.3 1375.6L1690.8 1378.4L1691.4 1381.3L1692.0 1384.1L1692.5 1386.9L1693.0 1389.7L1693.5 1392.5L1694.1 1395.3L1694.6 1398.1L1695.1 1400.9L1695.5 1403.7L1696.0 1406.5L1696.5 1409.3L1696.9 1412.1L1697.4 1415.0L1697.8 1417.8L1698.3 1420.6L1698.7 1423.4L1699.1 1426.2L1699.5 1429.0L1699.9 1431.8L1700.3 1434.6L1700.7 1437.4L1701.1 1440.2L1701.5 1443.0L1701.8 1445.8L1702.2 1448.7L1702.6 1451.5L1702.9 1454.3L1703.3 1457.1L1703.6 1459.9L1703.9 1462.7L1704.3 1465.5L1704.6 1468.3L1704.9 1471.1L1705.2 1473.9L1705.5 1476.7L1705.8 1479.5L1706.1 1482.4L1706.4 1485.2L1706.7 1488.0L1706.9 1490.8L1707.2 1493.6L1707.5 1496.4L1707.7 1499.2L1708.0 1502.0L1708.2 1504.8L1708.5 1507.6L1708.7 1510.4L1709.0 1513.2L1709.2 1516.1L1709.4 1518.9L1709.6 1521.7L1709.9 1524.5L1710.1 1527.3L1710.3 1530.1L1710.5 1532.9L1710.7 1535.7L1710.9 1538.5L1711.1 1541.3L1711.3 1544.1L1711.5 1546.9L1711.7 1549.8L1711.9 1552.6L1712.0 1555.4L1712.2 1558.2L1712.4 1561.0L1712.6 1563.8L1712.7 1566.6L1712.9 1569.4L1713.0 1572.2L1713.2 1575.0L1713.4 1577.8L1713.5 1580.6L1713.7 1583.5L1713.8 1586.3L1713.9 1589.1L1714.1 1591.9L1714.2 1594.7L1714.4 1597.5L1730 1597Z"/>
<path fill="none" stroke="#fff" stroke-width="8" stroke-dasharray="39 38" stroke-dashoffset="-72.0" d="M208.6 1597.5L208.8 1594.7L208.9 1591.9L209.1 1589.1L209.2 1586.3L209.3 1583.5L209.5 1580.6L209.6 1577.8L209.8 1575.0L210.0 1572.2L210.1 1569.4L210.3 1566.6L210.4 1563.8L210.6 1561.0L210.8 1558.2L211.0 1555.4L211.1 1552.6L211.3 1549.8L211.5 1546.9L211.7 1544.1L211.9 1541.3L212.1 1538.5L212.3 1535.7L212.5 1532.9L212.7 1530.1L212.9 1527.3L213.1 1524.5L213.4 1521.7L213.6 1518.9L213.8 1516.1L214.0 1513.2L214.3 1510.4L214.5 1507.6L214.8 1504.8L215.0 1502.0L215.3 1499.2L215.5 1496.4L215.8 1493.6L216.1 1490.8L216.3 1488.0L216.6 1485.2L216.9 1482.4L217.2 1479.5L217.5 1476.7L217.8 1473.9L218.1 1471.1L218.4 1468.3L218.7 1465.5L219.1 1462.7L219.4 1459.9L219.7 1457.1L220.1 1454.3L220.4 1451.5L220.8 1448.7L221.2 1445.8L221.5 1443.0L221.9 1440.2L222.3 1437.4L222.7 1434.6L223.1 1431.8L223.5 1429.0L223.9 1426.2L224.3 1423.4L224.7 1420.6L225.2 1417.8L225.6 1415.0L226.1 1412.1L226.5 1409.3L227.0 1406.5L227.5 1403.7L227.9 1400.9L228.4 1398.1L228.9 1395.3L229.5 1392.5L230.0 1389.7L230.5 1386.9L231.0 1384.1L231.6 1381.3L232.2 1378.4L232.7 1375.6L233.3 1372.8L233.9 1370.0L234.5 1367.2L235.1 1364.4L235.7 1361.6L236.4 1358.8L237.0 1356.0L237.7 1353.2L238.3 1350.4L239.0 1347.6L239.7 1344.7L240.4 1341.9L241.1 1339.1L241.9 1336.3L242.6 1333.5L243.4 1330.7L244.1 1327.9L244.9 1325.1L245.7 1322.3L246.5 1319.5L247.4 1316.7L248.2 1313.9L249.1 1311.0L249.9 1308.2L250.8 1305.4L251.7 1302.6L252.7 1299.8L253.6 1297.0L254.5 1294.2L255.5 1291.4L256.5 1288.6L257.5 1285.8L258.5 1283.0L259.6 1280.2L260.6 1277.3L261.7 1274.5L262.8 1271.7L263.9 1268.9L265.1 1266.1L266.2 1263.3L267.4 1260.5L268.6 1257.7L269.8 1254.9L271.1 1252.1L272.3 1249.3L273.6 1246.5L274.9 1243.6L276.3 1240.8L277.6 1238.0L279.0 1235.2L280.4 1232.4L281.8 1229.6L283.3 1226.8L284.8 1224.0L286.3 1221.2L287.8 1218.4L289.4 1215.6L291.0 1212.8L292.6 1209.9L294.2 1207.1L295.9 1204.3L297.6 1201.5L299.4 1198.7L301.1 1195.9L302.9 1193.1L304.8 1190.3L306.6 1187.5L308.5 1184.7L310.4 1181.9L312.4 1179.1L314.4 1176.2L316.4 1173.4L318.5 1170.6L320.6 1167.8L322.8 1165.0L324.9 1162.2L327.1 1159.4L329.4 1156.6L331.7 1153.8L334.0 1151.0L336.4 1148.2L338.8 1145.4L341.3 1142.5L343.8 1139.7L346.4 1136.9L349.0 1134.1L351.6 1131.3L354.3 1128.5L357.0 1125.7L359.8 1122.9L362.7 1120.1L365.5 1117.3L368.5 1114.5L371.5 1111.7L374.5 1108.8L377.6 1106.0L380.8 1103.2L384.0 1100.4L387.2 1097.6L390.5 1094.8L393.9 1092.0L397.3 1089.2L400.8 1086.4L404.4 1083.6L408.0 1080.8L411.7 1078.0L415.5 1075.1L419.3 1072.3L423.1 1069.5L427.1 1066.7L431.1 1063.9L435.2 1061.1L439.4 1058.3L443.6 1055.5L447.9 1052.7L452.3 1049.9L456.8 1047.1L461.3 1044.3L465.9 1041.4L470.6 1038.6L475.4 1035.8L480.3 1033.0L485.3 1030.2L490.3 1027.4L495.4 1024.6L500.7 1021.8L506.0 1019.0L511.4 1016.2L516.9 1013.4L522.5 1010.6L528.2 1007.7L534.0 1004.9L539.9 1002.1L545.9 999.3L552.0 996.5L558.2 993.7L564.5 990.9L571.0 988.1L577.5 985.3L584.2 982.5L591.0 979.7L597.9 976.9L604.9 974.0L612.0 971.2L619.3 968.4L626.7 965.6L634.3 962.8L641.9 960.0L649.7 957.2L657.6 954.4L665.7 951.6L673.9 948.8L682.3 946.0L690.8 943.2L699.5 940.3L708.3 937.5L717.2 934.7L726.4 931.9L735.6 929.1L745.1 926.3"/>
<path fill="none" stroke="#fff" stroke-width="8" stroke-dasharray="39 38" stroke-dashoffset="-11.5" d="M1177.9 926.3L1187.4 929.1L1196.6 931.9L1205.8 934.7L1214.7 937.5L1223.5 940.3L1232.2 943.2L1240.7 946.0L1249.1 948.8L1257.3 951.6L1265.4 954.4L1273.3 957.2L1281.1 960.0L1288.7 962.8L1296.3 965.6L1303.7 968.4L1311.0 971.2L1318.1 974.0L1325.1 976.9L1332.0 979.7L1338.8 982.5L1345.5 985.3L1352.0 988.1L1358.5 990.9L1364.8 993.7L1371.0 996.5L1377.1 999.3L1383.1 1002.1L1389.0 1004.9L1394.8 1007.7L1400.5 1010.6L1406.1 1013.4L1411.6 1016.2L1417.0 1019.0L1422.3 1021.8L1427.6 1024.6L1432.7 1027.4L1437.7 1030.2L1442.7 1033.0L1447.6 1035.8L1452.4 1038.6L1457.1 1041.4L1461.7 1044.3L1466.2 1047.1L1470.7 1049.9L1475.1 1052.7L1479.4 1055.5L1483.6 1058.3L1487.8 1061.1L1491.9 1063.9L1495.9 1066.7L1499.9 1069.5L1503.7 1072.3L1507.5 1075.1L1511.3 1078.0L1515.0 1080.8L1518.6 1083.6L1522.2 1086.4L1525.7 1089.2L1529.1 1092.0L1532.5 1094.8L1535.8 1097.6L1539.0 1100.4L1542.2 1103.2L1545.4 1106.0L1548.5 1108.8L1551.5 1111.7L1554.5 1114.5L1557.5 1117.3L1560.3 1120.1L1563.2 1122.9L1566.0 1125.7L1568.7 1128.5L1571.4 1131.3L1574.0 1134.1L1576.6 1136.9L1579.2 1139.7L1581.7 1142.5L1584.2 1145.4L1586.6 1148.2L1589.0 1151.0L1591.3 1153.8L1593.6 1156.6L1595.9 1159.4L1598.1 1162.2L1600.2 1165.0L1602.4 1167.8L1604.5 1170.6L1606.6 1173.4L1608.6 1176.2L1610.6 1179.1L1612.6 1181.9L1614.5 1184.7L1616.4 1187.5L1618.2 1190.3L1620.1 1193.1L1621.9 1195.9L1623.6 1198.7L1625.4 1201.5L1627.1 1204.3L1628.8 1207.1L1630.4 1209.9L1632.0 1212.8L1633.6 1215.6L1635.2 1218.4L1636.7 1221.2L1638.2 1224.0L1639.7 1226.8L1641.2 1229.6L1642.6 1232.4L1644.0 1235.2L1645.4 1238.0L1646.7 1240.8L1648.1 1243.6L1649.4 1246.5L1650.7 1249.3L1651.9 1252.1L1653.2 1254.9L1654.4 1257.7L1655.6 1260.5L1656.8 1263.3L1657.9 1266.1L1659.1 1268.9L1660.2 1271.7L1661.3 1274.5L1662.4 1277.3L1663.4 1280.2L1664.5 1283.0L1665.5 1285.8L1666.5 1288.6L1667.5 1291.4L1668.5 1294.2L1669.4 1297.0L1670.3 1299.8L1671.3 1302.6L1672.2 1305.4L1673.1 1308.2L1673.9 1311.0L1674.8 1313.9L1675.6 1316.7L1676.5 1319.5L1677.3 1322.3L1678.1 1325.1L1678.9 1327.9L1679.6 1330.7L1680.4 1333.5L1681.1 1336.3L1681.9 1339.1L1682.6 1341.9L1683.3 1344.7L1684.0 1347.6L1684.7 1350.4L1685.3 1353.2L1686.0 1356.0L1686.6 1358.8L1687.3 1361.6L1687.9 1364.4L1688.5 1367.2L1689.1 1370.0L1689.7 1372.8L1690.3 1375.6L1690.8 1378.4L1691.4 1381.3L1692.0 1384.1L1692.5 1386.9L1693.0 1389.7L1693.5 1392.5L1694.1 1395.3L1694.6 1398.1L1695.1 1400.9L1695.5 1403.7L1696.0 1406.5L1696.5 1409.3L1696.9 1412.1L1697.4 1415.0L1697.8 1417.8L1698.3 1420.6L1698.7 1423.4L1699.1 1426.2L1699.5 1429.0L1699.9 1431.8L1700.3 1434.6L1700.7 1437.4L1701.1 1440.2L1701.5 1443.0L1701.8 1445.8L1702.2 1448.7L1702.6 1451.5L1702.9 1454.3L1703.3 1457.1L1703.6 1459.9L1703.9 1462.7L1704.3 1465.5L1704.6 1468.3L1704.9 1471.1L1705.2 1473.9L1705.5 1476.7L1705.8 1479.5L1706.1 1482.4L1706.4 1485.2L1706.7 1488.0L1706.9 1490.8L1707.2 1493.6L1707.5 1496.4L1707.7 1499.2L1708.0 1502.0L1708.2 1504.8L1708.5 1507.6L1708.7 1510.4L1709.0 1513.2L1709.2 1516.1L1709.4 1518.9L1709.6 1521.7L1709.9 1524.5L1710.1 1527.3L1710.3 1530.1L1710.5 1532.9L1710.7 1535.7L1710.9 1538.5L1711.1 1541.3L1711.3 1544.1L1711.5 1546.9L1711.7 1549.8L1711.9 1552.6L1712.0 1555.4L1712.2 1558.2L1712.4 1561.0L1712.6 1563.8L1712.7 1566.6L1712.9 1569.4L1713.0 1572.2L1713.2 1575.0L1713.4 1577.8L1713.5 1580.6L1713.7 1583.5L1713.8 1586.3L1713.9 1589.1L1714.1 1591.9L1714.2 1594.7L1714.4 1597.5"/>
</g>
<rect x="193.5" y="926.3" width="1534.5" height="671.2" fill="none" stroke="#3a3629" stroke-width="4"/>
<path stroke="#8a8570" stroke-opacity="0.75" stroke-width="1.4" fill="none" d="M193.5 970.3h13M1728.0 970.3h-13M193.5 1082.4h13M1728.0 1082.4h-13M193.5 1194.5h13M1728.0 1194.5h-13M193.5 1306.6h13M1728.0 1306.6h-13M193.5 1418.7h13M1728.0 1418.7h-13M193.5 1530.8h13M1728.0 1530.8h-13"/>
<path stroke="#3a3629" stroke-width="1.8" fill="none" d="M502.3 926.3v10M502.3 1597.5v-10M802.3 926.3v10M802.3 1597.5v-10M1101.8 926.3v10M1101.8 1597.5v-10M1401.6 926.3v10M1401.6 1597.5v-10M1701.5 926.3v10M1701.5 1597.5v-10"/>
<path stroke="#3a3629" stroke-width="1.5" fill="none" d="M198.4 1600.0v23M257.0 1600.0v23M315.6 1600.0v23M374.2 1600.0v23M432.9 1600.0v23M491.5 1600.0v23M550.1 1600.0v23M608.7 1600.0v23M667.3 1600.0v23M726.0 1600.0v23M784.6 1600.0v23M843.2 1600.0v23M901.8 1600.0v23M960.4 1600.0v23M1019.1 1600.0v23M1077.7 1600.0v23M1136.3 1600.0v23M1194.9 1600.0v23M1253.5 1600.0v23M1312.2 1600.0v23M1370.8 1600.0v23M1429.4 1600.0v23M1488.0 1600.0v23M1546.6 1600.0v23M1605.3 1600.0v23M1663.9 1600.0v23M1718.5 1600.0v23"/>
<text x="251.0" y="1669" text-anchor="middle" font-size="42" font-weight="bold">-500</text>
<text x="533.2" y="1669" text-anchor="middle" font-size="42" font-weight="bold">0</text>
<text x="825.8" y="1669" text-anchor="middle" font-size="42" font-weight="bold">500</text>
<text x="1118.9" y="1666" text-anchor="middle" font-size="42" font-weight="bold">1000</text>
<text x="1430.0" y="1669" text-anchor="middle" font-size="42" font-weight="bold">1500</text>
<text x="1705.2" y="1669" text-anchor="middle" font-size="42" font-weight="bold">2000</text>
<text x="174" y="988.7" text-anchor="end" font-size="48.5" letter-spacing="-0.7">1024</text>
<text x="174" y="1100.4" text-anchor="end" font-size="48.5" letter-spacing="-0.7">512</text>
<text x="174" y="1212.2" text-anchor="end" font-size="48.5" letter-spacing="-0.7">256</text>
<text x="174" y="1323.9" text-anchor="end" font-size="48.5" letter-spacing="-0.7">128</text>
<text x="174" y="1435.7" text-anchor="end" font-size="48.5" letter-spacing="-0.7">64</text>
<text x="174" y="1547.4" text-anchor="end" font-size="48.5" letter-spacing="-0.7">32</text>
<text transform="translate(41.5 1269.0) rotate(-90)" text-anchor="middle" font-size="53.3">Period (years)</text>
<text x="948.0" y="908" text-anchor="middle" font-size="54" font-weight="bold" word-spacing="-1.5">RICE / WDC</text>
<text x="6.5" y="906" font-size="59" style="fill:#1e1e1c">(b)</text>
<rect x="1804.3" y="928.5" width="97.2" height="668.5" fill="url(#cb)" stroke="#3a3629" stroke-width="2"/>
<text x="1921" y="945.5" font-size="42">1</text>
<text x="1921" y="1079.2" font-size="42">0.8</text>
<text x="1921" y="1212.9" font-size="42">0.6</text>
<text x="1921" y="1346.6" font-size="42">0.4</text>
<text x="1921" y="1480.3" font-size="42">0.2</text>
<text x="1921" y="1614.0" font-size="42">0</text>
<path stroke="#3a3629" stroke-width="1.5" fill="none" d="M1901.5 1062.2h-7M1901.5 1195.9h-7M1901.5 1329.6h-7M1901.5 1463.3h-7"/>
<text transform="translate(2040 1256.0) rotate(-90)" text-anchor="middle" font-size="43.8" word-spacing="2">Magnitude-squared coherence</text>
<clipPath id="cp2"><rect x="191.4" y="1806.5" width="1535.6" height="670.9"/></clipPath>
<g clip-path="url(#cp2)">
<rect x="191.4" y="1806.5" width="1535.6" height="670.9" fill="#2d88f6"/>
<g filter="url(#bl)" fill="none" stroke-width="9">
<path stroke="#3e26a8" d="M561 1946h61M501 1954h171M301 1962h61M461 1962h211M281 1970h381M271 1978h351M271 1986h141M271 1994h101M1381 2346h11M1371 2354h21M1371 2362h11M1371 2370h11M811 2394h11M621 2402h21M801 2402h31M271 2410h11M441 2410h11M611 2410h31M801 2410h31M1311 2410h11M261 2418h21M431 2418h31M611 2418h31M801 2418h11M1311 2418h11M261 2426h21M421 2426h31M611 2426h31M221 2434h11M261 2434h21M421 2434h31M611 2434h31M991 2434h21M221 2442h11M271 2442h11M411 2442h11M431 2442h21M611 2442h21M991 2442h21M271 2450h11M991 2450h21M991 2458h21M991 2466h21"/>
<path stroke="#412ebd" d="M261 1938h61M531 1938h151M211 1946h181M471 1946h91M621 1946h91M191 1954h311M671 1954h51M1621 1954h61M191 1962h111M361 1962h101M671 1962h51M1611 1962h81M191 1970h91M661 1970h51M1601 1970h101M191 1978h81M621 1978h51M1601 1978h101M191 1986h81M411 1986h221M1611 1986h81M191 1994h81M371 1994h191M1611 1994h81M191 2002h251M1581 2002h111M211 2010h181M1041 2010h41M1611 2010h61M241 2018h101M991 2018h111M971 2026h81M1341 2226h71M1351 2234h51M1091 2266h11M1091 2274h21M1091 2282h11M761 2290h21M751 2298h31M891 2298h11M1201 2298h11M751 2306h31M891 2306h21M1191 2306h21M1321 2306h11M761 2314h21M891 2314h11M1191 2314h31M1321 2314h21M771 2322h11M891 2322h11M1191 2322h31M1321 2322h31M1491 2322h21M1191 2330h31M1321 2330h41M1371 2330h21M1491 2330h21M1191 2338h31M1321 2338h101M1491 2338h21M951 2346h81M1191 2346h31M1321 2346h61M1391 2346h41M1491 2346h21M951 2354h71M1191 2354h21M1321 2354h51M1391 2354h41M1491 2354h21M951 2362h21M1001 2362h21M1191 2362h11M1321 2362h51M1381 2362h21M1411 2362h11M1491 2362h21M291 2370h11M951 2370h21M1181 2370h21M1321 2370h51M1381 2370h11M1491 2370h11M281 2378h61M951 2378h21M1001 2378h11M1181 2378h21M1361 2378h31M1491 2378h11M281 2386h61M811 2386h21M961 2386h11M991 2386h21M1181 2386h21M1361 2386h21M1491 2386h11M271 2394h31M311 2394h31M631 2394h11M801 2394h11M821 2394h11M961 2394h11M991 2394h21M1171 2394h31M1311 2394h11M1361 2394h21M1481 2394h11M261 2402h41M311 2402h31M441 2402h21M611 2402h11M641 2402h11M791 2402h11M991 2402h21M1181 2402h21M1301 2402h31M1361 2402h21M1481 2402h11M211 2410h61M281 2410h61M401 2410h41M451 2410h11M591 2410h21M641 2410h11M791 2410h11M991 2410h21M1181 2410h21M1301 2410h11M1321 2410h11M1361 2410h11M1481 2410h11M211 2418h51M281 2418h61M401 2418h31M591 2418h21M641 2418h11M791 2418h11M811 2418h21M991 2418h21M1181 2418h31M1301 2418h11M1321 2418h21M1481 2418h11M211 2426h51M281 2426h21M311 2426h31M401 2426h21M451 2426h11M591 2426h21M641 2426h11M791 2426h21M991 2426h21M1191 2426h21M1311 2426h21M1481 2426h11M211 2434h11M231 2434h31M281 2434h11M321 2434h21M401 2434h21M451 2434h11M591 2434h21M641 2434h11M951 2434h11M1191 2434h21M1321 2434h11M1481 2434h11M211 2442h11M231 2442h41M281 2442h11M321 2442h21M401 2442h11M421 2442h11M581 2442h31M631 2442h21M951 2442h11M1011 2442h11M1201 2442h11M1321 2442h11M1481 2442h11M211 2450h31M261 2450h11M281 2450h11M331 2450h11M401 2450h51M591 2450h61M771 2450h11M941 2450h21M1011 2450h11M1201 2450h11M1321 2450h11M1481 2450h11M221 2458h11M271 2458h31M331 2458h11M401 2458h31M591 2458h61M771 2458h21M951 2458h11M1011 2458h11M1131 2458h11M1201 2458h11M1321 2458h11M1481 2458h11M221 2466h11M281 2466h31M331 2466h11M401 2466h21M591 2466h61M771 2466h21M951 2466h21M981 2466h11M1011 2466h11M1131 2466h21M1201 2466h11M1321 2466h11M1471 2466h21M221 2474h11M281 2474h41M331 2474h11M401 2474h21M521 2474h11M591 2474h21M641 2474h21M771 2474h21M951 2474h71M1131 2474h21M1201 2474h11M1321 2474h11M1471 2474h21"/>
<path stroke="#4435d1" d="M241 1930h91M551 1930h151M1611 1930h81M201 1938h61M321 1938h81M481 1938h51M681 1938h51M1591 1938h121M191 1946h21M391 1946h81M711 1946h41M1571 1946h151M721 1954h41M1571 1954h51M1681 1954h51M721 1962h31M1561 1962h51M1691 1962h41M711 1970h31M1561 1970h41M1701 1970h31M671 1978h41M1561 1978h41M1701 1978h31M631 1986h31M1561 1986h51M1691 1986h41M561 1994h61M1561 1994h51M1691 1994h41M441 2002h81M1131 2002h241M1541 2002h41M1691 2002h41M191 2010h21M391 2010h51M1001 2010h41M1081 2010h61M1561 2010h51M1671 2010h51M201 2018h41M341 2018h51M971 2018h21M1101 2018h21M1591 2018h111M231 2026h111M931 2026h41M1051 2026h71M1581 2026h111M1351 2218h61M1331 2226h11M1411 2226h21M1331 2234h21M1401 2234h31M1091 2258h11M1641 2258h31M1081 2266h11M1101 2266h11M1631 2266h41M1081 2274h11M1641 2274h21M751 2282h31M1081 2282h11M1101 2282h11M751 2290h11M891 2290h21M1091 2290h11M1191 2290h21M781 2298h11M901 2298h11M1191 2298h11M1211 2298h11M1311 2298h31M781 2306h11M1211 2306h11M1311 2306h11M1331 2306h21M1491 2306h11M751 2314h11M781 2314h11M901 2314h11M1311 2314h11M1341 2314h11M1491 2314h21M761 2322h11M781 2322h11M901 2322h11M1311 2322h11M1351 2322h41M761 2330h31M891 2330h11M951 2330h21M1221 2330h11M1311 2330h11M1361 2330h11M1391 2330h31M951 2338h31M991 2338h31M1221 2338h11M1311 2338h11M1421 2338h11M1311 2346h11M1021 2354h11M1181 2354h11M1211 2354h11M971 2362h31M1181 2362h11M1201 2362h11M1401 2362h11M1421 2362h11M281 2370h11M1001 2370h11M1201 2370h11M1391 2370h11M1411 2370h11M1501 2370h11M271 2378h11M341 2378h11M561 2378h11M821 2378h11M991 2378h11M1311 2378h51M271 2386h11M341 2386h11M391 2386h21M561 2386h21M801 2386h11M951 2386h11M1171 2386h11M1311 2386h51M1381 2386h11M1481 2386h11M211 2394h11M301 2394h11M401 2394h11M451 2394h11M561 2394h21M621 2394h11M641 2394h11M791 2394h11M951 2394h11M981 2394h11M1301 2394h11M1321 2394h41M1491 2394h11M211 2402h21M251 2402h11M301 2402h11M401 2402h41M561 2402h51M951 2402h21M981 2402h11M1171 2402h11M1201 2402h11M1331 2402h31M1491 2402h11M201 2410h11M561 2410h31M951 2410h21M981 2410h11M1171 2410h11M1201 2410h11M1331 2410h31M1371 2410h11M201 2418h11M561 2418h31M951 2418h21M981 2418h11M1211 2418h11M1341 2418h41M201 2426h11M301 2426h11M561 2426h31M951 2426h11M1181 2426h11M1211 2426h11M1301 2426h11M1331 2426h41M291 2434h31M571 2434h21M791 2434h11M981 2434h11M1011 2434h11M1211 2434h11M1311 2434h11M1331 2434h21M1471 2434h11M291 2442h11M451 2442h11M761 2442h21M941 2442h11M981 2442h11M1131 2442h11M1211 2442h11M1471 2442h11M241 2450h21M291 2450h11M321 2450h11M521 2450h11M581 2450h11M781 2450h11M961 2450h11M981 2450h11M1121 2450h21M1471 2450h11M211 2458h11M231 2458h11M321 2458h11M431 2458h21M521 2458h11M581 2458h11M941 2458h11M961 2458h11M981 2458h11M1121 2458h11M1141 2458h11M1471 2458h11M231 2466h11M271 2466h11M311 2466h21M421 2466h11M511 2466h21M581 2466h11M651 2466h11M891 2466h11M971 2466h11M1121 2466h11M321 2474h11M511 2474h11M581 2474h11M611 2474h11M631 2474h11M791 2474h11M891 2474h11M1081 2474h11M1461 2474h11"/>
<path stroke="#463ee1" d="M1631 1914h41M251 1922h61M591 1922h111M1591 1922h111M201 1930h41M331 1930h51M501 1930h51M701 1930h51M1581 1930h31M1691 1930h31M191 1938h11M401 1938h81M731 1938h41M1561 1938h31M1711 1938h21M751 1946h31M1551 1946h21M1721 1946h11M761 1954h21M1551 1954h21M751 1962h21M1541 1962h21M741 1970h21M1541 1970h21M711 1978h21M1541 1978h21M661 1986h31M1551 1986h11M621 1994h31M1551 1994h11M521 2002h71M1031 2002h101M1371 2002h81M1501 2002h41M441 2010h41M971 2010h31M1141 2010h201M1531 2010h31M1721 2010h11M191 2018h11M391 2018h41M951 2018h21M1121 2018h21M1571 2018h21M1701 2018h31M201 2026h31M341 2026h41M911 2026h21M1121 2026h321M1541 2026h41M1691 2026h31M1601 2034h91M1331 2218h21M1411 2218h21M1321 2226h11M1431 2226h11M401 2234h41M1321 2234h11M1431 2234h11M1341 2242h61M1641 2250h21M1081 2258h11M1101 2258h11M1631 2258h11M751 2274h31M1111 2274h11M1631 2274h11M1661 2274h11M891 2282h21M1111 2282h11M1191 2282h21M1631 2282h31M741 2290h11M781 2290h11M1081 2290h11M1101 2290h11M1181 2290h11M1211 2290h11M1311 2290h31M741 2298h11M1181 2298h11M1341 2298h11M1491 2298h11M741 2306h11M1181 2306h11M1301 2306h11M1351 2306h11M1501 2306h11M1181 2314h11M1221 2314h11M1351 2314h11M751 2322h11M951 2322h21M1181 2322h11M1221 2322h11M1391 2322h11M901 2330h11M1001 2330h11M1181 2330h11M1421 2330h11M771 2338h21M891 2338h11M981 2338h11M1021 2338h11M1181 2338h11M771 2346h21M1031 2346h11M1181 2346h11M1221 2346h11M781 2354h11M1031 2354h11M1221 2354h11M1311 2354h11M281 2362h21M1021 2362h11M1211 2362h11M1311 2362h11M301 2370h41M561 2370h11M651 2370h11M821 2370h11M971 2370h11M991 2370h11M1011 2370h11M1311 2370h11M1401 2370h11M1421 2370h11M351 2378h11M391 2378h11M551 2378h11M571 2378h21M641 2378h21M811 2378h11M971 2378h21M1011 2378h11M1171 2378h11M1201 2378h11M1481 2378h11M1501 2378h11M1551 2378h11M1591 2378h11M211 2386h11M261 2386h11M351 2386h11M411 2386h11M551 2386h11M581 2386h11M631 2386h21M971 2386h21M1011 2386h11M1201 2386h11M1591 2386h11M221 2394h11M261 2394h11M391 2394h11M411 2394h41M551 2394h11M581 2394h41M971 2394h11M1011 2394h11M1201 2394h11M1381 2394h11M1591 2394h11M201 2402h11M231 2402h21M391 2402h11M551 2402h11M781 2402h11M971 2402h11M1591 2402h11M391 2410h11M551 2410h11M781 2410h11M1211 2410h11M1291 2410h11M1491 2410h11M1591 2410h11M391 2418h11M551 2418h11M781 2418h11M1171 2418h11M1291 2418h11M1471 2418h11M1591 2418h11M391 2426h11M761 2426h11M781 2426h11M811 2426h11M961 2426h11M981 2426h11M1011 2426h11M1371 2426h11M1471 2426h11M1591 2426h11M201 2434h11M391 2434h11M561 2434h11M761 2434h31M801 2434h11M941 2434h11M961 2434h11M1131 2434h11M1351 2434h21M1591 2434h11M301 2442h21M391 2442h11M521 2442h11M571 2442h11M781 2442h21M961 2442h11M1121 2442h11M1191 2442h11M1311 2442h11M1331 2442h11M301 2450h21M761 2450h11M1111 2450h11M1141 2450h11M1211 2450h11M261 2458h11M301 2458h21M341 2458h11M511 2458h11M651 2458h11M761 2458h11M791 2458h11M971 2458h11M1111 2458h11M211 2466h11M341 2466h11M791 2466h11M941 2466h11M1081 2466h11M1461 2466h11M211 2474h11M271 2474h11M341 2474h11M421 2474h11M621 2474h11M901 2474h11M1021 2474h11M1151 2474h11M1261 2474h11M1331 2474h11M1451 2474h11M1491 2474h11M1561 2474h21"/>
<path stroke="#4848ec" d="M1631 1906h41M1591 1914h41M1671 1914h41M211 1922h41M311 1922h51M531 1922h61M701 1922h61M1571 1922h21M1701 1922h31M191 1930h11M381 1930h121M751 1930h31M1561 1930h21M1721 1930h11M771 1938h31M1551 1938h11M781 1946h21M1541 1946h11M781 1954h21M1531 1954h21M771 1962h31M1531 1962h11M761 1970h21M1531 1970h11M731 1978h21M1531 1978h11M691 1986h21M1531 1986h21M651 1994h31M1531 1994h21M591 2002h41M991 2002h41M1451 2002h51M481 2010h61M961 2010h11M1341 2010h91M1501 2010h31M431 2018h31M941 2018h11M1141 2018h21M1551 2018h21M191 2026h11M381 2026h31M881 2026h31M1441 2026h101M1721 2026h11M211 2034h131M1571 2034h31M1691 2034h31M1621 2042h61M901 2098h51M1321 2218h11M1431 2218h11M401 2226h31M1311 2226h11M1441 2226h11M391 2234h11M441 2234h11M1311 2234h11M1441 2234h11M411 2242h41M1321 2242h21M1401 2242h21M1091 2250h11M1631 2250h11M1661 2250h11M1671 2258h11M1111 2266h11M1621 2266h11M1671 2266h11M891 2274h21M1181 2274h31M1621 2274h11M1671 2274h11M741 2282h11M781 2282h11M1181 2282h11M1211 2282h11M1311 2282h31M1621 2282h11M1661 2282h11M881 2290h11M1111 2290h11M1301 2290h11M1341 2290h11M1491 2290h11M791 2298h11M881 2298h11M1081 2298h31M1221 2298h11M1301 2298h11M1351 2298h11M791 2306h11M881 2306h11M1221 2306h11M1481 2306h11M741 2314h11M791 2314h11M881 2314h11M951 2314h11M1301 2314h11M1361 2314h31M1481 2314h11M791 2322h11M881 2322h11M1001 2322h11M1301 2322h11M1401 2322h21M1481 2322h11M751 2330h11M791 2330h11M881 2330h11M971 2330h11M991 2330h11M1011 2330h11M1481 2330h11M761 2338h11M791 2338h11M901 2338h11M1481 2338h11M1511 2338h11M831 2346h11M941 2346h11M1481 2346h11M1511 2346h11M561 2354h11M771 2354h11M831 2354h11M941 2354h11M1511 2354h11M561 2362h21M651 2362h21M691 2362h21M771 2362h21M821 2362h21M941 2362h11M1171 2362h11M1221 2362h11M271 2370h11M341 2370h11M551 2370h11M571 2370h31M641 2370h11M661 2370h11M691 2370h11M771 2370h21M831 2370h11M941 2370h11M981 2370h11M1171 2370h11M1211 2370h11M1481 2370h11M1551 2370h21M1591 2370h11M211 2378h11M361 2378h31M401 2378h11M591 2378h11M771 2378h21M801 2378h11M831 2378h11M1391 2378h11M1561 2378h11M201 2386h11M221 2386h11M381 2386h11M421 2386h11M451 2386h21M591 2386h11M621 2386h11M651 2386h11M771 2386h31M831 2386h11M1301 2386h11M1501 2386h11M1551 2386h21M201 2394h11M231 2394h11M251 2394h11M341 2394h11M461 2394h11M771 2394h21M831 2394h11M461 2402h11M771 2402h11M831 2402h11M1011 2402h11M1211 2402h11M1291 2402h11M1381 2402h11M1471 2402h11M461 2410h11M761 2410h21M831 2410h11M971 2410h11M1011 2410h11M1471 2410h11M461 2418h11M761 2418h21M1011 2418h11M1221 2418h11M1491 2418h11M551 2426h11M771 2426h11M941 2426h11M1131 2426h11M1221 2426h11M1291 2426h11M1491 2426h11M341 2434h11M521 2434h11M551 2434h11M1221 2434h11M1371 2434h11M201 2442h11M341 2442h11M561 2442h11M931 2442h11M1221 2442h11M1341 2442h31M1591 2442h11M341 2450h11M391 2450h11M451 2450h11M511 2450h11M571 2450h11M651 2450h11M791 2450h11M931 2450h11M971 2450h11M1191 2450h11M1331 2450h11M241 2458h11M891 2458h11M1211 2458h11M1331 2458h11M1491 2458h11M431 2466h21M761 2466h11M901 2466h11M1021 2466h11M1091 2466h11M1261 2466h11M1331 2466h11M1451 2466h11M1491 2466h11M1561 2466h21M231 2474h11M501 2474h11M661 2474h11M1071 2474h11M1091 2474h11M1121 2474h11M1191 2474h11M1441 2474h11"/>
<path stroke="#4852f4" d="M1591 1906h41M1671 1906h41M221 1914h121M571 1914h191M1571 1914h21M1711 1914h21M191 1922h21M361 1922h41M491 1922h41M761 1922h31M1551 1922h21M781 1930h31M1541 1930h21M801 1938h21M1531 1938h21M801 1946h21M1531 1946h11M801 1954h21M1521 1954h11M801 1962h21M1521 1962h11M781 1970h21M1521 1970h11M751 1978h21M1521 1978h11M711 1986h21M1521 1986h11M681 1994h31M1521 1994h11M631 2002h31M961 2002h31M541 2010h61M941 2010h21M1431 2010h71M461 2018h41M931 2018h11M1161 2018h21M1531 2018h21M411 2026h31M861 2026h21M191 2034h21M341 2034h31M1001 2034h31M1551 2034h21M1721 2034h11M1591 2042h31M1681 2042h31M1641 2050h31M871 2098h31M951 2098h21M1351 2210h61M1311 2218h11M1441 2218h11M391 2226h11M431 2226h21M1301 2226h11M1451 2226h11M381 2234h11M451 2234h11M1301 2234h11M1451 2234h11M401 2242h11M451 2242h11M1311 2242h11M1421 2242h21M1641 2242h31M1081 2250h11M1101 2250h11M1671 2250h11M1111 2258h11M1621 2258h11M761 2266h11M891 2266h11M1071 2266h11M1181 2266h31M741 2274h11M781 2274h11M1071 2274h11M1301 2274h41M881 2282h11M1071 2282h11M1121 2282h11M1301 2282h11M1341 2282h11M1491 2282h11M1671 2282h11M791 2290h11M911 2290h11M1121 2290h11M1351 2290h11M1481 2290h11M1621 2290h41M811 2298h21M911 2298h11M1111 2298h21M1481 2298h11M1501 2298h11M801 2306h31M911 2306h11M951 2306h11M1001 2306h11M1091 2306h11M1361 2306h21M801 2314h31M911 2314h11M961 2314h11M1001 2314h21M1391 2314h11M741 2322h11M801 2322h41M971 2322h11M991 2322h11M1011 2322h11M1421 2322h11M1511 2322h11M801 2330h41M941 2330h11M981 2330h11M1021 2330h11M1171 2330h11M1231 2330h11M1301 2330h11M1511 2330h11M821 2338h21M881 2338h11M941 2338h11M1031 2338h11M1171 2338h11M1231 2338h11M1301 2338h11M761 2346h11M791 2346h11M821 2346h11M841 2346h11M891 2346h11M1171 2346h11M1231 2346h11M291 2354h11M551 2354h11M571 2354h11M691 2354h21M791 2354h11M821 2354h11M841 2354h11M1171 2354h11M1231 2354h11M1481 2354h11M301 2362h11M551 2362h11M581 2362h21M641 2362h11M671 2362h21M791 2362h11M841 2362h11M1481 2362h11M1511 2362h11M1551 2362h21M1591 2362h11M211 2370h11M671 2370h21M701 2370h11M791 2370h11M811 2370h11M1221 2370h11M201 2378h11M221 2378h11M261 2378h11M411 2378h11M631 2378h11M661 2378h11M681 2378h21M791 2378h11M941 2378h11M1211 2378h11M1301 2378h11M1411 2378h21M361 2386h21M431 2386h21M601 2386h21M761 2386h11M241 2394h11M651 2394h11M761 2394h11M1211 2394h11M1501 2394h11M1551 2394h21M1581 2394h11M341 2402h11M651 2402h11M761 2402h11M1581 2402h11M191 2410h11M341 2410h11M651 2410h11M1221 2410h11M1381 2410h11M1581 2410h11M191 2418h11M341 2418h11M651 2418h11M831 2418h11M971 2418h11M1381 2418h11M1581 2418h11M191 2426h11M341 2426h11M461 2426h11M521 2426h11M651 2426h11M821 2426h11M971 2426h11M1171 2426h11M1381 2426h11M1601 2426h11M651 2434h11M971 2434h11M1121 2434h11M1421 2434h11M1491 2434h11M1601 2434h11M511 2442h11M651 2442h11M971 2442h11M1111 2442h11M1141 2442h11M1251 2442h11M1431 2442h11M1491 2442h11M1601 2442h11M201 2450h11M1251 2450h21M1431 2450h11M1491 2450h11M1591 2450h11M251 2458h11M391 2458h11M451 2458h11M531 2458h11M901 2458h11M931 2458h11M1021 2458h11M1081 2458h11M1101 2458h11M1261 2458h11M1441 2458h11M1461 2458h11M1571 2458h11M501 2466h11M531 2466h11M1071 2466h11M1111 2466h11M1151 2466h11M1191 2466h11M1211 2466h11M1441 2466h11M531 2474h11M761 2474h11M881 2474h11M941 2474h11M1311 2474h11"/>
<path stroke="#475cfa" d="M1601 1898h101M251 1906h61M611 1906h161M1571 1906h21M1711 1906h21M191 1914h31M341 1914h41M521 1914h51M761 1914h41M1551 1914h21M401 1922h91M791 1922h31M1541 1922h11M811 1930h31M1531 1930h11M821 1938h21M1521 1938h11M821 1946h21M1521 1946h11M821 1954h21M1511 1954h11M821 1962h21M1511 1962h11M801 1970h21M1511 1970h11M771 1978h21M1511 1978h11M731 1986h21M1511 1986h11M711 1994h21M1511 1994h11M661 2002h41M931 2002h31M601 2010h41M921 2010h21M501 2018h51M911 2018h21M1181 2018h21M1521 2018h11M441 2026h21M841 2026h21M371 2034h21M951 2034h51M1031 2034h51M1531 2034h21M1571 2042h21M1711 2042h21M1601 2050h41M1671 2050h41M861 2098h11M971 2098h11M1331 2210h21M1411 2210h21M1301 2218h11M1451 2218h11M1291 2226h11M1461 2226h11M461 2234h11M1291 2234h11M1461 2234h11M391 2242h11M461 2242h11M1301 2242h11M1441 2242h11M1631 2242h11M1321 2250h71M1621 2250h11M1071 2258h11M1181 2258h21M1681 2258h11M751 2266h11M771 2266h11M901 2266h11M1121 2266h11M1301 2266h51M1611 2266h11M1681 2266h11M791 2274h11M811 2274h11M881 2274h11M1121 2274h11M1211 2274h11M1291 2274h11M1341 2274h11M1481 2274h21M1611 2274h11M1681 2274h11M791 2282h41M911 2282h11M1171 2282h11M1291 2282h11M1351 2282h11M1481 2282h11M1611 2282h11M801 2290h31M1071 2290h11M1131 2290h11M1171 2290h11M1221 2290h11M1291 2290h11M1501 2290h11M1611 2290h11M1661 2290h11M731 2298h11M801 2298h11M941 2298h11M1001 2298h21M1071 2298h11M1131 2298h11M1171 2298h11M1291 2298h11M1361 2298h11M1611 2298h21M731 2306h11M831 2306h11M941 2306h11M1011 2306h11M1081 2306h11M1101 2306h41M1171 2306h11M1291 2306h11M1381 2306h11M831 2314h11M941 2314h11M991 2314h11M1081 2314h21M1121 2314h21M1171 2314h11M1231 2314h11M1401 2314h11M1471 2314h11M1511 2314h11M911 2322h11M941 2322h11M981 2322h11M1081 2322h11M1171 2322h11M1231 2322h11M1471 2322h11M1081 2330h11M751 2338h11M801 2338h21M841 2338h11M1081 2338h11M551 2346h21M701 2346h21M801 2346h21M881 2346h11M901 2346h11M1041 2346h11M1301 2346h11M211 2354h11M281 2354h11M581 2354h21M651 2354h41M711 2354h11M761 2354h11M801 2354h21M1041 2354h11M1301 2354h11M1591 2354h11M211 2362h21M271 2362h11M711 2362h11M761 2362h11M801 2362h21M1031 2362h11M1231 2362h11M1601 2362h11M201 2370h11M221 2370h11M351 2370h11M601 2370h11M761 2370h11M801 2370h11M841 2370h11M1021 2370h11M1301 2370h11M1511 2370h11M1541 2370h11M1581 2370h11M1601 2370h11M541 2378h11M601 2378h11M671 2378h11M701 2378h11M761 2378h11M1401 2378h11M1571 2378h21M1601 2378h11M231 2386h11M251 2386h11M521 2386h11M541 2386h11M661 2386h11M681 2386h21M941 2386h11M1161 2386h11M1211 2386h11M1391 2386h11M1581 2386h11M1601 2386h11M521 2394h11M541 2394h11M1161 2394h11M1471 2394h11M1601 2394h11M191 2402h11M521 2402h11M541 2402h11M1161 2402h11M1221 2402h11M1561 2402h11M1601 2402h11M521 2410h11M541 2410h11M1161 2410h11M1601 2410h11M521 2418h11M541 2418h11M751 2418h11M941 2418h11M1131 2418h11M1231 2418h11M1601 2418h11M751 2426h11M1231 2426h21M1421 2426h11M1581 2426h11M191 2434h11M751 2434h11M1141 2434h11M1181 2434h11M1231 2434h31M1301 2434h11M1431 2434h11M1581 2434h11M531 2442h11M551 2442h11M751 2442h11M801 2442h11M1261 2442h11M1421 2442h11M1581 2442h11M531 2450h11M561 2450h11M1021 2450h11M1101 2450h11M1221 2450h11M1311 2450h11M1341 2450h31M1441 2450h11M1461 2450h11M1571 2450h11M1601 2450h11M571 2458h11M1071 2458h11M1091 2458h11M1191 2458h11M1251 2458h11M1431 2458h11M1451 2458h11M1561 2458h11M241 2466h11M261 2466h11M391 2466h11M451 2466h11M881 2466h11M1101 2466h11M1251 2466h11M391 2474h11M431 2474h21M491 2474h11M801 2474h11M1211 2474h11"/>
<path stroke="#4367fd" d="M631 1898h171M1571 1898h31M1701 1898h31M201 1906h51M311 1906h51M551 1906h61M771 1906h51M1551 1906h21M381 1914h41M471 1914h51M801 1914h41M1541 1914h11M821 1922h31M1531 1922h11M841 1930h21M1521 1930h11M841 1938h31M1511 1938h11M841 1946h31M1501 1946h21M841 1954h21M1501 1954h11M841 1962h21M1501 1962h11M821 1970h31M1491 1970h21M791 1978h21M1501 1978h11M751 1986h21M1501 1986h11M731 1994h31M1491 1994h21M701 2002h31M901 2002h31M641 2010h41M901 2010h21M551 2018h61M901 2018h11M1201 2018h91M1501 2018h21M461 2026h41M831 2026h11M391 2034h21M911 2034h41M1081 2034h31M1501 2034h31M191 2042h101M1561 2042h11M1581 2050h21M1711 2050h21M1631 2058h71M841 2098h21M981 2098h11M1311 2210h21M1431 2210h11M411 2218h21M1291 2218h11M1461 2218h11M381 2226h11M451 2226h11M1281 2226h11M1471 2226h11M371 2234h11M1281 2234h11M1471 2234h11M1641 2234h21M471 2242h11M1091 2242h11M1291 2242h11M1451 2242h21M1671 2242h11M1111 2250h11M1301 2250h21M1391 2250h11M1681 2250h11M891 2258h11M1121 2258h11M1171 2258h11M1201 2258h11M1301 2258h71M1481 2258h21M1611 2258h11M781 2266h11M801 2266h21M881 2266h11M1171 2266h11M1211 2266h11M1291 2266h11M1351 2266h11M1481 2266h21M801 2274h11M821 2274h11M911 2274h11M1131 2274h11M1171 2274h11M1351 2274h11M1471 2274h11M1501 2274h11M1601 2274h11M731 2282h11M931 2282h21M1131 2282h11M1221 2282h11M1361 2282h11M1471 2282h11M1501 2282h11M1601 2282h11M1681 2282h11M731 2290h11M931 2290h21M1001 2290h21M1361 2290h11M1471 2290h11M1601 2290h11M1671 2290h11M831 2298h11M931 2298h11M951 2298h11M1231 2298h11M1371 2298h11M1471 2298h11M1631 2298h21M961 2306h11M991 2306h11M1071 2306h11M1141 2306h11M1231 2306h11M1471 2306h11M1511 2306h11M1611 2306h11M731 2314h11M971 2314h21M1071 2314h11M1101 2314h21M1141 2314h11M1291 2314h11M1411 2314h21M1021 2322h11M1071 2322h11M1091 2322h11M711 2330h11M741 2330h11M841 2330h11M911 2330h11M1071 2330h11M1091 2330h11M1161 2330h11M1431 2330h11M1471 2330h11M701 2338h21M1071 2338h11M1161 2338h11M1431 2338h11M1471 2338h11M211 2346h21M571 2346h31M691 2346h11M851 2346h11M1071 2346h11M1161 2346h11M1431 2346h11M1521 2346h11M1591 2346h11M201 2354h11M221 2354h11M301 2354h11M541 2354h11M601 2354h11M851 2354h11M1431 2354h11M1521 2354h11M1551 2354h21M1601 2354h11M201 2362h11M311 2362h31M601 2362h11M1301 2362h11M1521 2362h11M1541 2362h11M1571 2362h21M191 2370h11M361 2370h11M541 2370h11M631 2370h11M711 2370h11M1231 2370h11M1571 2370h11M191 2378h11M231 2378h11M251 2378h11M421 2378h11M521 2378h11M611 2378h21M841 2378h11M1161 2378h11M1221 2378h11M1511 2378h11M1541 2378h11M191 2386h11M241 2386h11M531 2386h11M671 2386h11M1221 2386h11M1471 2386h11M1571 2386h11M191 2394h11M381 2394h11M661 2394h11M681 2394h11M941 2394h11M1221 2394h11M1291 2394h11M1571 2394h11M1501 2402h11M381 2410h11M751 2410h11M941 2410h11M1231 2410h11M1561 2410h11M381 2418h11M1161 2418h11M1241 2418h11M1281 2418h11M1421 2418h11M381 2426h11M541 2426h11M1121 2426h11M1141 2426h11M1251 2426h11M1281 2426h11M1431 2426h11M511 2434h11M531 2434h21M931 2434h11M1261 2434h11M1381 2434h11M1231 2442h21M1371 2442h11M1571 2442h11M551 2450h11M751 2450h11M1561 2450h11M1581 2450h11M201 2458h11M501 2458h11M881 2458h11M911 2458h11M1151 2458h11M1221 2458h11M1311 2458h11M1581 2458h31M251 2466h11M571 2466h11M661 2466h11M911 2466h11M1311 2466h11M1431 2466h11M1581 2466h11M451 2474h11M1101 2474h21M1251 2474h11M1341 2474h31M1581 2474h11"/>
<path stroke="#3c72ff" d="M211 1898h141M561 1898h71M801 1898h71M1551 1898h21M191 1906h11M361 1906h51M491 1906h61M821 1906h51M1531 1906h21M421 1914h51M841 1914h31M1521 1914h21M851 1922h31M1511 1922h21M861 1930h31M1501 1930h21M871 1938h21M1491 1938h21M871 1946h21M1491 1946h11M861 1954h31M1481 1954h21M861 1962h21M1481 1962h21M851 1970h21M1481 1970h11M811 1978h21M1481 1978h21M771 1986h21M1491 1986h11M761 1994h21M1481 1994h11M731 2002h61M841 2002h61M681 2010h41M871 2010h31M611 2018h31M881 2018h21M1291 2018h211M501 2026h71M821 2026h11M411 2034h21M881 2034h31M1111 2034h21M1401 2034h101M291 2042h31M1541 2042h21M1571 2050h11M1611 2058h21M1701 2058h31M831 2098h11M991 2098h11M1301 2210h11M1441 2210h21M401 2218h11M431 2218h11M1281 2218h11M1471 2218h11M461 2226h11M1481 2226h11M471 2234h11M1271 2234h11M1481 2234h11M1631 2234h11M1661 2234h11M381 2242h11M1101 2242h11M1281 2242h11M1471 2242h21M1621 2242h11M1681 2242h11M431 2250h31M1071 2250h11M1181 2250h31M1291 2250h11M1401 2250h101M1611 2250h11M811 2258h11M881 2258h11M901 2258h11M1211 2258h11M1291 2258h11M1371 2258h11M1471 2258h11M1501 2258h11M791 2266h11M821 2266h11M911 2266h11M931 2266h21M1001 2266h21M1061 2266h11M1131 2266h11M1281 2266h11M1361 2266h11M1471 2266h11M1501 2266h11M1601 2266h11M1691 2266h11M731 2274h11M921 2274h31M1011 2274h11M1061 2274h11M1221 2274h11M1281 2274h11M1361 2274h11M1461 2274h11M831 2282h11M921 2282h11M1001 2282h21M1061 2282h11M1141 2282h11M1281 2282h11M1461 2282h11M831 2290h11M921 2290h11M1141 2290h11M1231 2290h11M1281 2290h11M1461 2290h11M1681 2290h11M921 2298h11M1141 2298h11M1461 2298h11M1511 2298h11M1601 2298h11M1651 2298h11M921 2306h21M1021 2306h11M1391 2306h11M1431 2306h11M1461 2306h11M1621 2306h11M931 2314h11M1021 2314h11M1151 2314h21M1431 2314h11M711 2322h11M731 2322h11M841 2322h11M1101 2322h71M1291 2322h11M1431 2322h11M701 2330h11M721 2330h11M1031 2330h11M211 2338h11M551 2338h21M851 2338h11M871 2338h11M911 2338h11M1041 2338h11M1091 2338h11M1521 2338h11M1591 2338h11M201 2346h11M541 2346h11M661 2346h11M681 2346h11M751 2346h11M871 2346h11M1051 2346h21M1081 2346h11M1471 2346h11M1601 2346h11M191 2354h11M271 2354h11M641 2354h11M881 2354h11M1051 2354h11M1161 2354h11M1531 2354h21M1571 2354h21M191 2362h11M341 2362h11M541 2362h11M631 2362h11M851 2362h11M1161 2362h11M1531 2362h11M261 2370h11M371 2370h31M611 2370h11M1161 2370h11M241 2378h11M531 2378h11M1021 2378h11M1231 2378h11M1231 2386h11M1411 2386h21M1541 2386h11M351 2394h11M531 2394h11M671 2394h11M691 2394h11M1391 2394h11M381 2402h11M531 2402h11M661 2402h11M751 2402h11M941 2402h11M1231 2402h21M1551 2402h11M1571 2402h11M531 2410h11M1131 2410h11M1241 2410h11M1421 2410h11M1571 2410h11M531 2418h11M1121 2418h11M1141 2418h11M1251 2418h11M1391 2418h11M1561 2418h21M511 2426h11M531 2426h11M1161 2426h11M1391 2426h11M1411 2426h11M1561 2426h21M381 2434h11M461 2434h11M811 2434h11M1111 2434h11M1411 2434h11M1561 2434h21M191 2442h11M541 2442h11M1021 2442h11M1101 2442h11M1441 2442h11M1461 2442h11M1561 2442h11M541 2450h11M891 2450h11M921 2450h11M1081 2450h21M1151 2450h11M1231 2450h21M1421 2450h11M1451 2450h11M561 2458h11M921 2458h11M1341 2458h31M201 2466h11M351 2466h11M931 2466h11M1341 2466h11M201 2474h11M241 2474h11M261 2474h11M351 2474h11M671 2474h11M911 2474h11"/>
<path stroke="#317dfc" d="M1641 1890h21M191 1898h21M351 1898h61M491 1898h71M871 1898h61M1521 1898h31M411 1906h81M871 1906h51M1501 1906h31M871 1914h41M1501 1914h21M881 1922h31M1491 1922h21M891 1930h31M1481 1930h21M891 1938h31M1481 1938h11M891 1946h31M1471 1946h21M891 1954h31M1471 1954h11M881 1962h41M1461 1962h21M871 1970h41M1461 1970h21M831 1978h21M1471 1978h11M791 1986h11M1481 1986h11M781 1994h31M1451 1994h31M791 2002h51M721 2010h151M641 2018h31M831 2018h51M571 2026h41M811 2026h11M431 2034h31M861 2034h21M1131 2034h41M1311 2034h91M321 2042h21M1531 2042h11M1561 2050h11M1591 2058h21M1641 2066h91M821 2098h11M1001 2098h11M1321 2202h81M1291 2210h11M1461 2210h21M391 2218h11M441 2218h11M1481 2218h21M371 2226h11M1271 2226h11M1491 2226h21M1631 2226h41M1261 2234h11M1491 2234h21M1621 2234h11M1671 2234h11M481 2242h11M1081 2242h11M1261 2242h21M1491 2242h21M1611 2242h11M1691 2242h11M411 2250h21M461 2250h11M891 2250h11M1121 2250h11M1171 2250h11M1251 2250h41M1501 2250h11M1691 2250h11M761 2258h51M821 2258h21M911 2258h11M931 2258h21M1001 2258h21M1061 2258h11M1131 2258h21M1161 2258h11M1251 2258h41M1441 2258h31M1511 2258h11M1601 2258h11M1691 2258h11M741 2266h11M831 2266h11M871 2266h11M921 2266h11M1141 2266h31M1221 2266h11M1241 2266h41M1371 2266h11M1451 2266h21M1511 2266h11M511 2274h21M831 2274h11M871 2274h11M1001 2274h11M1141 2274h11M1161 2274h11M1231 2274h51M1451 2274h11M1511 2274h11M1591 2274h11M1691 2274h11M871 2282h11M1021 2282h11M1161 2282h11M1231 2282h51M1371 2282h11M1451 2282h11M1511 2282h11M1591 2282h11M1691 2282h11M871 2290h11M951 2290h11M1021 2290h11M1061 2290h11M1151 2290h21M1241 2290h31M1371 2290h11M1441 2290h21M1511 2290h11M1691 2290h11M871 2298h11M991 2298h11M1021 2298h11M1061 2298h11M1151 2298h21M1241 2298h21M1281 2298h11M1381 2298h11M1431 2298h31M1661 2298h31M721 2306h11M841 2306h11M871 2306h11M971 2306h21M1061 2306h11M1151 2306h21M1241 2306h11M1421 2306h11M1441 2306h21M1601 2306h11M1631 2306h11M721 2314h11M841 2314h11M871 2314h11M921 2314h11M1061 2314h11M1241 2314h11M1441 2314h11M1461 2314h11M1601 2314h31M721 2322h11M871 2322h11M931 2322h11M1241 2322h11M1461 2322h11M1521 2322h11M731 2330h11M851 2330h11M871 2330h11M1061 2330h11M1101 2330h11M1131 2330h31M1241 2330h11M1521 2330h11M1601 2330h11M201 2338h11M221 2338h11M571 2338h11M691 2338h11M721 2338h11M741 2338h11M861 2338h11M1051 2338h21M1151 2338h11M1241 2338h11M1601 2338h11M191 2346h11M281 2346h21M521 2346h21M601 2346h11M651 2346h11M671 2346h11M721 2346h11M861 2346h11M1091 2346h11M1241 2346h11M1531 2346h11M1551 2346h41M231 2354h11M311 2354h11M521 2354h21M721 2354h11M861 2354h21M891 2354h11M1061 2354h21M1241 2354h11M1471 2354h11M231 2362h11M611 2362h11M1041 2362h11M1241 2362h11M1431 2362h11M1471 2362h11M231 2370h11M401 2370h11M621 2370h11M851 2370h11M1241 2370h11M1471 2370h11M1521 2370h21M431 2378h11M461 2378h11M711 2378h11M1241 2378h11M1471 2378h11M471 2386h11M511 2386h11M701 2386h11M751 2386h11M841 2386h11M1021 2386h11M1241 2386h11M1401 2386h11M751 2394h11M1151 2394h11M1231 2394h21M1421 2394h11M671 2402h21M1151 2402h11M1391 2402h11M1421 2402h11M661 2410h11M1141 2410h21M1251 2410h11M1281 2410h11M1391 2410h11M511 2418h11M1151 2418h11M1411 2418h11M1431 2418h11M831 2426h11M1151 2426h11M1261 2426h21M1021 2434h11M1151 2434h11M1271 2434h11M1461 2434h11M381 2442h11M1151 2442h11M501 2450h11M801 2450h11M901 2450h21M1071 2450h11M1611 2450h11M351 2458h11M541 2458h21M661 2458h11M751 2458h11M1611 2458h11M491 2466h11M801 2466h11M921 2466h11M1351 2466h21M1591 2466h21M571 2474h11M1061 2474h11M1271 2474h11M1431 2474h11M1501 2474h11"/>
<path stroke="#2e87f7" d="M661 1890h181M1591 1890h51M1661 1890h51M411 1898h81M931 1898h121M1251 1898h271M921 1906h71M1311 1906h191M911 1914h51M1371 1914h131M911 1922h51M1411 1922h81M921 1930h41M1421 1930h61M921 1938h31M1411 1938h71M921 1946h31M1371 1946h101M921 1954h41M1311 1954h161M921 1962h81M1171 1962h291M911 1970h551M851 1978h31M1431 1978h41M801 1986h21M1461 1986h21M811 1994h41M1301 1994h151M671 2018h41M771 2018h61M611 2026h21M801 2026h11M461 2034h31M841 2034h21M1171 2034h141M341 2042h21M1511 2042h21M1541 2050h21M1581 2058h11M1621 2066h21M811 2098h11M1011 2098h11M901 2106h71M1291 2202h31M1401 2202h31M1281 2210h11M1481 2210h61M381 2218h11M451 2218h11M1271 2218h11M1501 2218h41M1611 2218h51M471 2226h11M1261 2226h11M1511 2226h31M1611 2226h21M1671 2226h61M361 2234h11M481 2234h11M1511 2234h31M1611 2234h11M1681 2234h51M371 2242h11M491 2242h11M1071 2242h11M1111 2242h11M1241 2242h21M1511 2242h31M1701 2242h31M401 2250h11M471 2250h11M801 2250h41M871 2250h21M901 2250h11M941 2250h21M991 2250h31M1061 2250h11M1131 2250h41M1211 2250h41M1511 2250h41M1601 2250h11M1701 2250h31M841 2258h11M861 2258h21M921 2258h11M951 2258h11M991 2258h11M1021 2258h11M1051 2258h11M1151 2258h11M1221 2258h31M1381 2258h11M1431 2258h11M1521 2258h31M1701 2258h31M501 2266h21M841 2266h11M861 2266h11M951 2266h11M1021 2266h11M1051 2266h11M1231 2266h11M1441 2266h11M1521 2266h31M1591 2266h11M1701 2266h31M501 2274h11M841 2274h11M951 2274h11M1021 2274h11M1051 2274h11M1151 2274h11M1371 2274h11M1441 2274h11M1521 2274h11M1701 2274h11M1721 2274h11M511 2282h21M721 2282h11M841 2282h11M951 2282h11M1051 2282h11M1151 2282h11M1441 2282h11M1701 2282h11M1721 2282h11M721 2290h11M841 2290h11M1051 2290h11M1271 2290h11M1431 2290h11M1591 2290h11M721 2298h11M841 2298h11M961 2298h11M1261 2298h11M1591 2298h11M1691 2298h11M1251 2306h11M1281 2306h11M1401 2306h21M1641 2306h11M711 2314h11M1451 2314h11M1521 2314h11M701 2322h11M851 2322h11M921 2322h11M1031 2322h11M1061 2322h11M1441 2322h11M1591 2322h31M211 2330h21M551 2330h21M861 2330h11M931 2330h11M1111 2330h21M1291 2330h11M1461 2330h11M1591 2330h11M191 2338h11M531 2338h21M581 2338h21M731 2338h11M1101 2338h11M1141 2338h11M1531 2338h11M1551 2338h31M231 2346h11M511 2346h11M911 2346h11M1151 2346h11M1541 2346h11M611 2354h11M631 2354h11M751 2354h11M901 2354h11M1081 2354h11M1151 2354h11M351 2362h11M531 2362h11M621 2362h11M721 2362h11M751 2362h11M861 2362h11M1151 2362h11M531 2370h11M751 2370h11M1031 2370h11M1151 2370h11M1431 2370h11M441 2378h21M751 2378h11M1151 2378h11M1531 2378h11M1151 2386h11M1291 2386h11M1511 2386h11M371 2394h11M471 2394h11M511 2394h11M841 2394h11M1021 2394h11M1411 2394h11M511 2402h11M1131 2402h21M511 2410h11M1121 2410h11M1411 2410h11M1501 2410h11M1551 2410h11M351 2418h11M661 2418h11M1401 2418h11M351 2426h11M931 2426h11M1021 2426h11M1111 2426h11M1401 2426h11M351 2434h11M1161 2434h21M1391 2434h11M351 2442h11M921 2442h11M1411 2442h11M1611 2442h11M191 2450h11M351 2450h11M381 2450h11M881 2450h11M1061 2458h11M1241 2458h11M1421 2458h11M541 2466h11M561 2466h11M1061 2466h11M1221 2466h11M1611 2466h11M251 2474h11M541 2474h11M931 2474h11M1031 2474h11M1161 2474h11M1551 2474h11M1591 2474h11"/>
<path stroke="#2b90ef" d="M581 1890h81M841 1890h81M1561 1890h31M1711 1890h21M1051 1898h201M991 1906h321M961 1914h411M961 1922h451M961 1930h121M1121 1930h301M951 1938h461M951 1946h421M961 1954h351M1001 1962h171M881 1978h41M1321 1978h111M821 1986h31M1421 1986h41M851 1994h61M1191 1994h111M711 2018h61M631 2026h11M791 2026h11M491 2034h51M831 2034h11M361 2042h21M1491 2042h21M191 2050h41M1531 2050h11M1571 2058h11M1601 2066h21M1661 2074h71M871 2106h31M971 2106h31M1121 2138h71M1151 2146h111M1171 2154h111M1191 2162h91M1211 2170h71M1231 2178h61M1251 2186h61M1261 2194h91M1531 2194h21M1601 2194h11M1271 2202h21M1431 2202h121M1601 2202h31M401 2210h41M1271 2210h11M1601 2210h61M1721 2210h11M461 2218h11M1261 2218h11M1601 2218h11M1661 2218h71M361 2226h11M1601 2226h11M491 2234h11M1251 2234h11M1601 2234h11M501 2242h11M1121 2242h11M1181 2242h31M1231 2242h11M1541 2242h11M1601 2242h11M391 2250h11M481 2250h11M761 2250h41M841 2250h31M911 2250h31M961 2250h31M1021 2250h41M451 2258h21M751 2258h11M851 2258h11M961 2258h11M981 2258h11M1031 2258h21M1391 2258h11M1421 2258h11M1551 2258h11M1591 2258h11M491 2266h11M521 2266h11M731 2266h11M851 2266h11M991 2266h11M1031 2266h21M1431 2266h11M1551 2266h11M1581 2266h11M531 2274h11M721 2274h11M851 2274h21M991 2274h11M1031 2274h21M1431 2274h11M1531 2274h31M1581 2274h11M1711 2274h11M531 2282h11M851 2282h21M991 2282h11M1031 2282h21M1431 2282h11M1521 2282h31M1581 2282h11M1711 2282h11M521 2290h11M861 2290h11M991 2290h11M1031 2290h21M1381 2290h11M1521 2290h11M1701 2290h31M1031 2298h11M1051 2298h11M1271 2298h11M1391 2298h11M1421 2298h11M1521 2298h11M1701 2298h11M1721 2298h11M711 2306h11M1031 2306h11M1051 2306h11M1261 2306h11M1521 2306h11M1591 2306h11M1681 2306h21M851 2314h11M1031 2314h11M1251 2314h11M1591 2314h11M1631 2314h11M861 2322h11M1451 2322h11M1621 2322h11M201 2330h11M541 2330h11M571 2330h11M691 2330h11M921 2330h11M1041 2330h21M1441 2330h11M1531 2330h11M1561 2330h31M1611 2330h11M231 2338h11M521 2338h11M681 2338h11M931 2338h11M1111 2338h31M1291 2338h11M1461 2338h11M1541 2338h11M1581 2338h11M271 2346h11M301 2346h11M641 2346h11M731 2346h21M931 2346h11M1141 2346h11M321 2354h21M511 2354h11M621 2354h11M931 2354h11M1141 2354h11M261 2362h11M871 2362h11M1051 2362h11M1141 2362h11M241 2370h21M521 2370h11M721 2370h11M1141 2370h11M511 2378h11M1431 2378h11M1521 2378h11M1141 2386h11M361 2394h11M1131 2394h21M1401 2394h11M1541 2394h11M351 2402h11M471 2402h11M1021 2402h11M1121 2402h11M1251 2402h11M1401 2402h21M351 2410h11M471 2410h11M671 2410h21M1021 2410h11M1401 2410h11M1431 2410h11M1021 2418h11M1261 2418h21M661 2426h11M1461 2426h11M661 2434h11M1101 2434h11M1281 2434h21M1401 2434h11M1441 2434h11M1611 2434h11M501 2442h11M661 2442h11M1091 2442h11M1181 2442h11M1271 2442h11M1451 2442h11M661 2450h11M1061 2450h11M801 2458h11M1231 2458h11M551 2466h11M671 2466h11M751 2466h11M1241 2466h11M871 2474h11M921 2474h11M1611 2474h11"/>
<path stroke="#2699e9" d="M191 1890h221M471 1890h111M921 1890h101M1511 1890h51M1081 1930h41M921 1978h71M1211 1978h111M851 1986h21M1361 1986h61M911 1994h281M641 2026h11M781 2026h11M541 2034h51M821 2034h11M381 2042h11M881 2042h91M1471 2042h21M231 2050h31M1521 2050h11M1551 2058h21M1591 2066h11M1631 2074h31M1711 2082h21M901 2090h61M801 2098h11M1021 2098h11M851 2106h21M1001 2106h21M921 2114h131M991 2122h101M1041 2130h121M1081 2138h41M1191 2138h51M1121 2146h31M1261 2146h21M1141 2154h31M1281 2154h11M1171 2162h21M1281 2162h11M1191 2170h21M1281 2170h21M1211 2178h21M1291 2178h21M1581 2178h21M1241 2186h11M1311 2186h21M1581 2186h41M1251 2194h11M1351 2194h31M1511 2194h21M1551 2194h11M1591 2194h11M1611 2194h21M401 2202h31M1261 2202h11M1591 2202h11M1631 2202h21M391 2210h11M441 2210h21M1261 2210h11M1541 2210h11M1661 2210h61M371 2218h11M471 2218h11M1541 2218h11M481 2226h11M1251 2226h11M1541 2226h11M351 2234h11M1091 2234h21M1241 2234h11M1541 2234h11M361 2242h11M511 2242h21M991 2242h41M1041 2242h31M1131 2242h51M1211 2242h21M491 2250h21M1551 2250h11M1591 2250h11M441 2258h11M471 2258h41M971 2258h11M1401 2258h21M1561 2258h11M1581 2258h11M461 2266h31M1381 2266h11M1561 2266h21M491 2274h11M541 2274h11M1381 2274h11M1561 2274h21M501 2282h11M711 2282h11M1381 2282h11M1551 2282h31M511 2290h11M531 2290h11M711 2290h11M851 2290h11M961 2290h11M1531 2290h31M1581 2290h11M521 2298h21M711 2298h11M851 2298h21M971 2298h21M1041 2298h11M1531 2298h11M1581 2298h11M1711 2298h11M851 2306h21M1041 2306h11M1271 2306h11M1581 2306h11M1651 2306h31M1701 2306h31M701 2314h11M861 2314h11M1041 2314h21M1281 2314h11M1561 2314h31M1691 2314h11M1721 2314h11M211 2322h11M541 2322h31M1041 2322h21M1251 2322h11M1531 2322h11M1561 2322h31M191 2330h11M521 2330h21M1451 2330h11M1541 2330h21M511 2338h11M601 2338h11M671 2338h11M921 2338h11M1441 2338h11M1611 2338h11M611 2346h11M1101 2346h11M1131 2346h11M1291 2346h11M241 2354h11M261 2354h11M341 2354h11M731 2354h21M1091 2354h11M241 2362h11M521 2362h11M931 2362h11M1061 2362h21M411 2370h11M471 2378h11M851 2378h11M1141 2378h11M1291 2378h11M711 2386h11M1131 2386h11M1431 2386h11M701 2394h11M1251 2394h11M371 2402h11M691 2402h11M841 2402h11M1281 2402h11M1431 2402h11M371 2410h11M841 2410h11M371 2418h11M471 2418h11M671 2418h11M1111 2418h11M1461 2418h11M1501 2418h11M1551 2418h11M371 2426h11M1611 2426h11M1071 2442h21M1371 2450h11M191 2458h11M381 2458h11M491 2458h11M1031 2466h11M1501 2466h11M1551 2466h11M191 2474h11M561 2474h11M681 2474h11M751 2474h11M1221 2474h11M1601 2474h11M1621 2474h11"/>
<path stroke="#22a2e4" d="M721 1882h111M411 1890h61M1021 1890h491M991 1978h221M871 1986h41M1301 1986h61M651 2026h21M761 2026h21M591 2034h21M811 2034h11M391 2042h21M851 2042h31M971 2042h41M1441 2042h31M261 2050h21M1501 2050h21M1541 2058h11M1581 2066h11M1621 2074h11M1681 2082h31M881 2090h21M961 2090h21M791 2098h11M1031 2098h11M841 2106h11M1021 2106h11M891 2114h31M1051 2114h21M951 2122h41M1091 2122h31M1011 2130h31M1161 2130h31M1061 2138h21M1241 2138h31M1101 2146h21M1281 2146h21M1121 2154h21M1291 2154h11M1151 2162h21M1291 2162h11M1171 2170h21M1301 2170h11M1581 2170h21M1191 2178h21M1311 2178h11M1561 2178h21M1601 2178h21M411 2186h21M1221 2186h21M1331 2186h11M1531 2186h51M1621 2186h11M401 2194h41M1241 2194h11M1381 2194h21M1491 2194h21M1561 2194h31M1631 2194h21M391 2202h11M431 2202h31M1251 2202h11M1551 2202h11M1651 2202h81M381 2210h11M461 2210h21M541 2210h71M1591 2210h11M481 2218h21M1251 2218h11M351 2226h11M491 2226h11M501 2234h11M1081 2234h11M1111 2234h11M1231 2234h11M531 2242h11M951 2242h41M1031 2242h11M1591 2242h11M381 2250h11M511 2250h11M751 2250h11M421 2258h21M511 2258h11M741 2258h11M1571 2258h11M451 2266h11M531 2266h11M961 2266h11M981 2266h11M1421 2266h11M711 2274h11M1421 2274h11M541 2282h11M961 2282h11M1421 2282h11M541 2290h11M981 2290h11M1421 2290h11M1561 2290h21M511 2298h11M541 2298h11M1401 2298h21M1541 2298h41M521 2306h21M1531 2306h51M531 2314h31M1261 2314h11M1531 2314h11M1551 2314h11M1681 2314h11M1701 2314h21M201 2322h11M221 2322h11M521 2322h21M1281 2322h11M1541 2322h21M1701 2322h11M1721 2322h11M231 2330h11M581 2330h11M1251 2330h11M1621 2330h11M1721 2330h11M281 2338h21M651 2338h21M1721 2338h11M241 2346h11M311 2346h11M471 2346h21M501 2346h11M621 2346h21M921 2346h11M1111 2346h21M1461 2346h11M1611 2346h11M1721 2346h11M351 2354h11M911 2354h11M1131 2354h11M1291 2354h11M1611 2354h11M1721 2354h11M251 2362h11M361 2362h11M391 2362h21M731 2362h21M881 2362h11M1081 2362h11M1131 2362h11M1611 2362h11M1721 2362h11M861 2370h11M1041 2370h11M1131 2370h11M1291 2370h11M1611 2370h11M1721 2370h11M721 2378h11M1031 2378h11M1131 2378h11M1611 2378h11M1251 2386h11M1531 2386h11M741 2394h11M1121 2394h11M1431 2394h11M741 2402h11M741 2410h11M1261 2410h11M1461 2410h11M1611 2410h11M741 2418h11M841 2418h11M1611 2418h11M471 2426h11M741 2426h11M1441 2426h11M371 2434h11M501 2434h11M1451 2434h11M1061 2442h11M1161 2442h11M1301 2442h11M1381 2442h11M1031 2450h11M1271 2450h11M1031 2458h11M191 2466h11M381 2466h11M871 2466h11M1231 2466h11M1271 2466h11M1421 2466h11M1621 2466h11M361 2474h11M381 2474h11M551 2474h11M1241 2474h11M1371 2474h11"/>
<path stroke="#1caadf" d="M631 1882h91M831 1882h91M1621 1882h61M911 1986h81M1211 1986h91M671 2026h11M751 2026h11M611 2034h11M801 2034h11M411 2042h21M831 2042h21M1011 2042h31M1421 2042h21M281 2050h31M1491 2050h11M1531 2058h11M1571 2066h11M1601 2074h21M1651 2082h31M861 2090h21M981 2090h11M1711 2090h21M781 2098h11M821 2106h21M1031 2106h21M871 2114h21M1071 2114h21M931 2122h21M1121 2122h21M991 2130h21M1191 2130h21M1041 2138h21M1271 2138h21M1081 2146h21M1301 2146h11M1111 2154h11M1301 2154h11M1581 2154h21M1131 2162h21M1301 2162h11M1571 2162h41M411 2170h21M1151 2170h21M1311 2170h11M1561 2170h21M1601 2170h21M401 2178h41M1181 2178h11M1321 2178h11M1551 2178h11M1621 2178h11M401 2186h11M431 2186h21M1211 2186h11M1341 2186h21M1521 2186h11M1631 2186h11M391 2194h11M441 2194h21M1401 2194h91M1651 2194h11M1711 2194h21M381 2202h11M461 2202h21M551 2202h41M1581 2202h11M481 2210h61M611 2210h21M1251 2210h11M1551 2210h11M361 2218h11M501 2218h81M1591 2218h11M501 2226h11M1241 2226h11M1591 2226h11M511 2234h21M1071 2234h11M1121 2234h11M1221 2234h11M1591 2234h11M351 2242h11M541 2242h11M751 2242h201M1551 2242h11M521 2250h11M1561 2250h11M1581 2250h11M411 2258h11M521 2258h11M441 2266h11M541 2266h11M721 2266h11M971 2266h11M1391 2266h11M1411 2266h11M461 2274h31M551 2274h11M961 2274h11M981 2274h11M491 2282h11M551 2282h11M981 2282h11M501 2290h11M551 2290h11M971 2290h11M1391 2290h11M1411 2290h11M551 2298h11M541 2306h21M701 2306h11M211 2314h11M521 2314h11M561 2314h11M1271 2314h11M1541 2314h11M1641 2314h11M191 2322h11M571 2322h11M691 2322h11M1631 2322h11M1691 2322h11M1711 2322h11M511 2330h11M591 2330h11M681 2330h11M1711 2330h11M241 2338h11M271 2338h11M501 2338h11M1251 2338h11M1451 2338h11M261 2346h11M321 2346h11M491 2346h11M1251 2346h11M1441 2346h11M251 2354h11M471 2354h11M501 2354h11M1101 2354h31M1461 2354h11M371 2362h21M891 2362h11M1291 2362h11M731 2370h21M931 2370h11M1061 2370h11M1251 2370h11M741 2378h11M1251 2378h11M1721 2378h11M741 2386h11M851 2386h11M1121 2386h11M1521 2386h11M1611 2386h11M1511 2394h11M1611 2394h11M361 2402h11M1611 2402h11M361 2410h11M1111 2410h11M1271 2410h11M361 2418h11M681 2418h11M931 2418h11M361 2426h11M671 2426h11M1101 2426h11M1501 2426h11M1551 2426h11M361 2434h11M741 2434h11M821 2434h11M921 2434h11M1091 2434h11M361 2442h21M461 2442h11M741 2442h11M881 2442h21M911 2442h11M1031 2442h11M491 2450h11M1411 2450h11M671 2458h11M871 2458h11M1271 2458h11M1501 2458h11M1551 2458h11M1621 2458h11M361 2466h11M1161 2466h11M811 2474h11M1181 2474h11M1421 2474h11"/>
<path stroke="#12b1d6" d="M671 1874h221M561 1882h71M921 1882h81M1571 1882h51M1681 1882h51M991 1986h221M681 2026h71M621 2034h11M431 2042h21M821 2042h11M1041 2042h31M1401 2042h21M311 2050h21M911 2050h61M1471 2050h21M191 2058h11M1521 2058h11M1561 2066h11M1591 2074h11M1631 2082h21M851 2090h11M991 2090h21M1691 2090h21M191 2098h11M1041 2098h11M811 2106h11M1051 2106h11M851 2114h21M1091 2114h21M911 2122h21M1141 2122h21M971 2130h21M1211 2130h31M1021 2138h21M1291 2138h11M401 2146h11M1061 2146h21M1571 2146h31M401 2154h21M1091 2154h21M1571 2154h11M1601 2154h11M401 2162h31M1121 2162h11M1311 2162h11M1561 2162h11M1611 2162h11M401 2170h11M431 2170h21M1141 2170h11M1621 2170h11M391 2178h11M441 2178h21M1161 2178h21M1331 2178h11M1541 2178h11M1631 2178h11M391 2186h11M451 2186h21M1201 2186h11M1361 2186h11M1511 2186h11M1641 2186h11M1721 2186h11M381 2194h11M461 2194h31M1231 2194h11M1661 2194h51M481 2202h71M591 2202h31M1241 2202h11M1561 2202h21M371 2210h11M631 2210h21M1581 2210h11M581 2218h31M1241 2218h11M1551 2218h11M191 2226h11M511 2226h11M1231 2226h11M1551 2226h11M191 2234h11M341 2234h11M531 2234h31M1051 2234h21M1131 2234h11M1211 2234h11M1551 2234h11M191 2242h11M551 2242h11M741 2242h11M1581 2242h11M371 2250h11M741 2250h11M1571 2250h11M401 2258h11M431 2266h11M711 2266h11M1401 2266h11M451 2274h11M561 2274h11M701 2274h11M971 2274h11M1391 2274h31M701 2282h11M971 2282h11M1391 2282h31M701 2290h11M1401 2290h11M701 2298h11M511 2306h11M561 2306h11M191 2314h21M221 2314h11M1651 2314h11M1671 2314h11M231 2322h11M511 2322h11M581 2322h11M1261 2322h11M1701 2330h11M301 2338h11M611 2338h11M641 2338h11M1621 2338h11M1711 2338h11M251 2346h11M331 2346h11M461 2346h11M1711 2346h11M391 2354h21M461 2354h11M481 2354h11M921 2354h11M1251 2354h11M1441 2354h11M411 2362h11M511 2362h11M1091 2362h11M1121 2362h11M1251 2362h11M1461 2362h11M421 2370h11M511 2370h11M1051 2370h11M1071 2370h11M1121 2370h11M731 2378h11M1121 2378h11M501 2386h11M721 2386h11M1031 2386h11M1721 2386h11M1281 2394h11M1721 2394h11M1111 2402h11M1261 2402h11M1461 2402h11M1541 2402h11M691 2410h11M1441 2418h11M501 2426h11M841 2426h11M1451 2426h11M671 2434h11M1031 2434h11M1071 2434h21M1501 2434h11M1551 2434h11M671 2442h11M811 2442h11M901 2442h11M1051 2442h11M1401 2442h11M1501 2442h11M1551 2442h11M361 2450h21M671 2450h11M741 2450h11M871 2450h11M1051 2450h11M1161 2450h11M1501 2450h11M1551 2450h11M1621 2450h11M361 2458h11M1051 2458h11M681 2466h11M1051 2466h11M691 2474h11M1041 2474h21M1231 2474h11M1631 2474h11M1701 2474h11"/>
<path stroke="#02b7cb" d="M611 1874h61M891 1874h61M191 1882h371M1001 1882h111M1481 1882h91M631 2034h11M791 2034h11M451 2042h21M811 2042h11M1071 2042h21M1371 2042h31M331 2050h11M871 2050h41M971 2050h41M1451 2050h21M201 2058h31M1511 2058h11M1551 2066h11M1581 2074h11M1611 2082h21M191 2090h11M841 2090h11M1011 2090h11M1661 2090h31M201 2098h11M771 2098h11M1051 2098h11M1711 2098h21M191 2106h11M801 2106h11M1061 2106h21M841 2114h11M1111 2114h11M891 2122h21M1161 2122h21M951 2130h21M1241 2130h21M391 2138h31M1011 2138h11M1301 2138h11M1561 2138h51M391 2146h11M411 2146h21M1051 2146h11M1311 2146h11M1561 2146h11M1601 2146h21M391 2154h11M421 2154h21M1081 2154h11M1311 2154h11M1561 2154h11M1611 2154h11M391 2162h11M431 2162h21M1111 2162h11M1621 2162h11M391 2170h11M451 2170h11M1121 2170h21M1321 2170h11M1551 2170h11M1631 2170h11M461 2178h11M1141 2178h21M1341 2178h11M1531 2178h11M1641 2178h11M381 2186h11M471 2186h21M1191 2186h11M1371 2186h11M1501 2186h11M1651 2186h31M1701 2186h21M491 2194h101M1221 2194h11M371 2202h11M621 2202h11M361 2210h11M651 2210h11M1241 2210h11M1561 2210h11M351 2218h11M611 2218h21M1581 2218h11M341 2226h11M521 2226h21M1081 2226h31M201 2234h11M331 2234h11M561 2234h11M1031 2234h21M1141 2234h11M1191 2234h21M1581 2234h11M341 2242h11M561 2242h21M711 2242h31M1561 2242h21M531 2250h11M731 2250h11M391 2258h11M531 2258h11M731 2258h11M421 2266h11M551 2266h11M441 2274h11M481 2282h11M561 2282h11M561 2290h11M501 2298h11M561 2298h11M201 2306h21M511 2314h11M571 2314h11M691 2314h11M1661 2314h11M1271 2322h11M1681 2322h11M241 2330h11M281 2330h11M601 2330h11M671 2330h11M1281 2330h11M1631 2330h11M1691 2330h11M251 2338h21M481 2338h21M621 2338h21M1701 2338h11M341 2346h11M1451 2346h11M1621 2346h11M361 2354h11M411 2354h11M491 2354h11M1711 2354h11M901 2362h11M1101 2362h21M1441 2362h11M871 2370h11M1081 2370h11M1461 2370h11M861 2378h11M931 2378h11M1041 2378h11M1461 2378h11M481 2386h11M731 2386h11M1461 2386h11M501 2394h11M711 2394h11M851 2394h11M1031 2394h11M1461 2394h11M501 2402h11M701 2402h11M1271 2402h11M1721 2402h11M501 2410h11M1721 2410h11M501 2418h11M1101 2418h11M1721 2418h11M681 2426h11M1031 2426h11M1721 2426h11M1061 2434h11M1721 2434h11M491 2442h11M871 2442h11M1171 2442h11M1721 2442h11M1181 2450h11M1721 2450h11M371 2458h11M741 2458h11M1161 2458h11M1371 2458h11M371 2466h11M1041 2466h11M371 2474h11M1301 2474h11M1691 2474h11M1721 2474h11"/>
<path stroke="#07bcbf" d="M531 1874h81M951 1874h51M1571 1874h161M1111 1882h371M641 2034h11M781 2034h11M471 2042h21M801 2042h11M1091 2042h21M1341 2042h31M341 2050h21M851 2050h21M1011 2050h21M1441 2050h11M231 2058h21M1501 2058h11M1541 2066h11M1571 2074h11M1601 2082h11M201 2090h11M821 2090h21M1021 2090h11M1631 2090h31M211 2098h11M761 2098h11M1061 2098h11M1701 2098h11M201 2106h11M781 2106h21M1081 2106h11M1721 2106h11M821 2114h21M1121 2114h21M871 2122h21M1181 2122h21M931 2130h21M1261 2130h21M1571 2130h31M381 2138h11M421 2138h11M991 2138h21M1311 2138h11M1551 2138h11M1611 2138h11M381 2146h11M431 2146h11M1031 2146h21M1321 2146h11M1551 2146h11M1621 2146h11M381 2154h11M441 2154h11M1071 2154h11M1321 2154h11M1551 2154h11M1621 2154h11M381 2162h11M451 2162h11M1091 2162h21M1321 2162h11M1551 2162h11M1631 2162h11M381 2170h11M461 2170h21M1111 2170h11M1331 2170h11M1541 2170h11M1641 2170h11M381 2178h11M471 2178h31M1131 2178h11M1351 2178h11M1521 2178h11M1651 2178h21M1711 2178h21M491 2186h71M1161 2186h31M1381 2186h21M1481 2186h21M1681 2186h21M371 2194h11M591 2194h21M1211 2194h11M631 2202h11M1231 2202h11M661 2210h21M1571 2210h11M191 2218h11M631 2218h11M1231 2218h11M1561 2218h21M201 2226h11M331 2226h11M541 2226h31M1061 2226h21M1111 2226h21M1221 2226h11M1561 2226h31M211 2234h11M571 2234h21M1011 2234h21M1151 2234h41M1561 2234h21M201 2242h11M701 2242h11M361 2250h11M541 2250h11M411 2266h11M561 2266h11M701 2266h11M461 2282h21M491 2290h11M191 2306h11M571 2306h11M231 2314h11M241 2322h11M591 2322h11M1641 2322h11M271 2330h11M291 2330h11M501 2330h11M661 2330h11M1261 2330h11M311 2338h11M471 2338h11M1281 2338h11M351 2346h11M371 2354h21M1451 2354h11M911 2362h21M1711 2362h11M461 2370h11M1091 2370h11M1111 2370h11M1441 2370h11M481 2378h11M501 2378h11M1051 2378h31M1111 2378h11M931 2386h11M1111 2386h11M481 2394h11M731 2394h11M1111 2394h11M1261 2394h11M1531 2394h11M1031 2402h11M1511 2402h11M931 2410h11M1031 2410h11M1441 2410h11M1031 2418h11M1451 2418h11M1091 2426h11M471 2434h11M681 2434h11M1041 2434h21M1041 2442h11M1391 2442h11M1621 2442h11M1041 2450h11M681 2458h11M1041 2458h11M1721 2458h11M741 2466h11M1371 2466h11M1721 2466h11M481 2474h11M1711 2474h11"/>
<path stroke="#1dc0b3" d="M741 1866h91M191 1874h341M1001 1874h61M1441 1874h131M651 2034h21M761 2034h21M491 2042h31M791 2042h11M1111 2042h31M1311 2042h31M361 2050h21M831 2050h21M1031 2050h21M1421 2050h21M251 2058h21M931 2058h61M1481 2058h21M191 2066h11M1531 2066h11M1561 2074h11M191 2082h11M941 2082h41M1591 2082h11M211 2090h11M811 2090h11M1031 2090h11M1611 2090h21M221 2098h11M751 2098h11M1071 2098h11M1671 2098h31M771 2106h11M1091 2106h11M1711 2106h11M811 2114h11M1141 2114h11M1721 2114h11M861 2122h11M1201 2122h11M921 2130h11M1281 2130h21M1551 2130h21M1601 2130h21M371 2138h11M431 2138h11M981 2138h11M1321 2138h11M1541 2138h11M1621 2138h11M371 2146h11M441 2146h11M1021 2146h11M1331 2146h11M1541 2146h11M1631 2146h11M451 2154h11M1061 2154h11M1631 2154h11M461 2162h21M1081 2162h11M1331 2162h11M1541 2162h11M1641 2162h11M481 2170h21M1101 2170h11M1531 2170h11M1651 2170h21M1711 2170h21M501 2178h31M1121 2178h11M1511 2178h11M1671 2178h41M371 2186h11M561 2186h31M1131 2186h31M1401 2186h21M1461 2186h21M611 2194h21M361 2202h11M641 2202h21M1221 2202h11M191 2210h11M351 2210h11M681 2210h11M1231 2210h11M201 2218h11M341 2218h11M641 2218h31M1071 2218h41M211 2226h11M571 2226h21M1051 2226h11M1131 2226h11M221 2234h11M321 2234h11M591 2234h11M991 2234h21M331 2242h11M581 2242h11M691 2242h11M191 2250h11M721 2250h11M381 2258h11M541 2258h11M721 2258h11M401 2266h11M431 2274h11M571 2274h11M691 2274h11M451 2282h11M571 2282h11M481 2290h11M191 2298h21M571 2298h11M221 2306h11M501 2306h11M691 2306h11M581 2314h11M501 2322h11M681 2322h11M1671 2322h11M251 2330h21M301 2330h11M491 2330h11M651 2330h11M1271 2330h11M321 2338h11M1631 2338h11M1691 2338h11M401 2346h11M451 2346h11M1701 2346h11M421 2354h11M451 2354h11M1621 2354h11M461 2362h21M1451 2362h11M431 2370h31M471 2370h11M881 2370h11M1101 2370h11M1081 2378h11M1441 2378h11M491 2386h11M1041 2386h31M1281 2386h11M1441 2386h11M491 2394h11M721 2394h11M931 2394h11M1441 2394h11M1521 2394h11M481 2402h11M731 2402h11M851 2402h11M931 2402h11M1441 2402h11M481 2410h11M851 2410h11M1101 2410h11M1451 2410h11M481 2418h11M691 2418h11M851 2418h11M481 2426h11M921 2426h11M1041 2426h51M491 2434h11M831 2434h11M871 2434h11M681 2442h11M1281 2442h11M681 2450h11M1181 2458h11M1411 2458h11M691 2466h11M1181 2466h11M1631 2466h11M1701 2466h21M741 2474h11M861 2474h11M1171 2474h11M1511 2474h11"/>
<path stroke="#2dc4a6" d="M661 1866h81M831 1866h71M1061 1874h91M1281 1874h161M671 2034h11M741 2034h21M521 2042h41M781 2042h11M1141 2042h41M1271 2042h41M381 2050h11M821 2050h11M1051 2050h21M1401 2050h21M271 2058h21M891 2058h41M991 2058h21M1471 2058h11M201 2066h21M1521 2066h11M191 2074h11M1551 2074h11M201 2082h11M901 2082h41M981 2082h31M1581 2082h11M221 2090h11M801 2090h11M1041 2090h11M1601 2090h11M231 2098h11M341 2098h71M741 2098h11M1621 2098h51M211 2106h11M751 2106h21M1101 2106h21M1691 2106h21M191 2114h11M791 2114h21M1151 2114h11M1711 2114h11M841 2122h21M1211 2122h21M1561 2122h61M1721 2122h11M901 2130h21M1301 2130h21M1541 2130h11M1621 2130h11M1721 2130h11M441 2138h11M961 2138h21M1331 2138h11M1531 2138h11M1631 2138h11M1721 2138h11M451 2146h11M1011 2146h11M1641 2146h11M1721 2146h11M371 2154h11M461 2154h11M1051 2154h11M1331 2154h11M1541 2154h11M1641 2154h31M1711 2154h21M371 2162h11M481 2162h11M1071 2162h11M1651 2162h81M371 2170h11M501 2170h21M1091 2170h11M1341 2170h11M1671 2170h41M371 2178h11M531 2178h41M1111 2178h11M1361 2178h11M1501 2178h11M591 2186h21M1121 2186h11M1421 2186h41M361 2194h11M631 2194h11M1191 2194h21M661 2202h11M691 2210h21M1091 2210h21M331 2218h11M671 2218h21M1051 2218h21M1111 2218h11M1221 2218h11M221 2226h11M321 2226h11M591 2226h21M1031 2226h21M1141 2226h11M1211 2226h11M231 2234h11M311 2234h11M601 2234h11M971 2234h21M211 2242h11M591 2242h11M681 2242h11M351 2250h11M551 2250h11M711 2250h11M191 2258h11M371 2258h11M551 2258h11M711 2258h11M191 2266h11M391 2266h11M571 2266h11M191 2274h11M421 2274h11M441 2282h11M691 2282h11M191 2290h11M471 2290h11M571 2290h11M211 2298h11M491 2298h11M691 2298h11M241 2314h11M501 2314h11M251 2322h11M271 2322h21M1651 2322h21M611 2330h11M641 2330h11M1641 2330h11M1681 2330h11M331 2338h11M461 2338h11M1261 2338h11M361 2346h11M391 2346h11M411 2346h11M1281 2346h11M1701 2354h11M421 2362h11M501 2362h11M1621 2362h11M1451 2370h11M1711 2370h11M491 2378h11M1101 2378h11M1281 2378h11M1451 2378h11M861 2386h11M1071 2386h11M1261 2386h11M1041 2394h11M1061 2394h11M1271 2394h11M491 2402h11M711 2402h11M1101 2402h11M1451 2402h11M491 2410h11M731 2410h11M1541 2410h11M491 2418h11M1041 2418h41M1091 2418h11M491 2426h11M851 2426h11M481 2434h11M881 2434h11M911 2434h11M1621 2434h11M1301 2450h11M1711 2458h11M1691 2466h11M701 2474h11M1411 2474h11"/>
<path stroke="#37c897" d="M611 1866h51M901 1866h41M1151 1874h131M681 2034h61M561 2042h31M761 2042h21M1181 2042h91M391 2050h21M811 2050h11M1071 2050h21M1381 2050h21M291 2058h21M871 2058h21M1011 2058h21M1461 2058h11M221 2066h21M921 2066h81M1501 2066h21M201 2074h21M931 2074h71M1541 2074h11M211 2082h21M881 2082h21M1011 2082h21M1571 2082h11M231 2090h21M791 2090h11M1051 2090h11M1591 2090h11M241 2098h21M321 2098h21M411 2098h21M731 2098h11M1081 2098h11M1601 2098h21M221 2106h11M361 2106h61M731 2106h21M1121 2106h11M1601 2106h91M201 2114h11M771 2114h21M1161 2114h21M1581 2114h61M1681 2114h31M191 2122h11M831 2122h11M1231 2122h21M1551 2122h11M1621 2122h21M1691 2122h31M191 2130h11M391 2130h21M881 2130h21M1321 2130h11M1531 2130h11M1631 2130h31M1691 2130h31M361 2138h11M451 2138h11M941 2138h21M1341 2138h11M1521 2138h11M1641 2138h81M361 2146h11M461 2146h11M1001 2146h11M1341 2146h11M1531 2146h11M1651 2146h71M471 2154h21M1031 2154h21M1341 2154h11M1531 2154h11M1671 2154h41M491 2162h21M1061 2162h11M1341 2162h11M1531 2162h11M521 2170h31M1081 2170h11M1351 2170h11M1521 2170h11M361 2178h11M571 2178h31M1091 2178h21M1371 2178h11M1491 2178h11M361 2186h11M611 2186h11M1101 2186h21M641 2194h11M1111 2194h51M1171 2194h21M191 2202h11M351 2202h11M671 2202h11M1101 2202h21M1211 2202h11M201 2210h11M341 2210h11M711 2210h11M1071 2210h21M1111 2210h11M1221 2210h11M211 2218h11M691 2218h21M1041 2218h11M1121 2218h11M231 2226h11M311 2226h11M611 2226h11M1021 2226h11M1151 2226h11M1191 2226h21M241 2234h11M301 2234h11M611 2234h11M941 2234h31M221 2242h11M321 2242h11M601 2242h11M671 2242h11M201 2250h11M341 2250h11M561 2250h11M701 2250h11M561 2258h11M701 2258h11M691 2266h11M411 2274h11M191 2282h11M431 2282h11M201 2290h11M461 2290h11M691 2290h11M221 2298h11M231 2306h11M581 2306h11M591 2314h11M261 2322h11M291 2322h11M601 2322h11M671 2322h11M311 2330h11M481 2330h11M621 2330h21M341 2338h11M1271 2338h11M381 2346h11M421 2346h11M1261 2346h11M1631 2346h11M431 2354h21M1261 2354h11M1281 2354h11M451 2362h11M481 2362h11M1261 2362h11M1281 2362h11M501 2370h11M921 2370h11M1261 2370h11M1281 2370h11M1621 2370h11M871 2378h11M1091 2378h11M1261 2378h11M1711 2378h11M1081 2386h11M1101 2386h11M1451 2386h11M1051 2394h11M1071 2394h21M1101 2394h11M1451 2394h11M721 2402h11M1041 2402h41M701 2410h11M1041 2410h61M731 2418h11M1081 2418h11M691 2426h11M861 2426h11M1621 2426h11M861 2434h11M481 2442h11M1291 2442h11M1711 2442h11M461 2450h11M811 2450h11M1171 2450h11M1711 2450h11M691 2458h11M1631 2458h11M1701 2458h11M811 2466h11M1411 2466h11M461 2474h11M711 2474h11M731 2474h11M1541 2474h11M1641 2474h11M1681 2474h11"/>
<path stroke="#48cb86" d="M721 1826h131M711 1834h151M721 1842h131M741 1850h91M711 1858h151M551 1866h61M941 1866h41M1621 1866h111M591 2042h31M751 2042h11M411 2050h21M791 2050h21M1091 2050h21M1361 2050h21M311 2058h31M851 2058h21M1031 2058h21M1441 2058h21M241 2066h21M901 2066h21M1001 2066h21M1491 2066h11M221 2074h11M901 2074h31M1001 2074h21M1531 2074h11M231 2082h11M861 2082h21M1031 2082h11M1561 2082h11M251 2090h11M781 2090h11M1061 2090h11M1581 2090h11M261 2098h61M431 2098h21M721 2098h11M1091 2098h11M1591 2098h11M231 2106h11M341 2106h21M421 2106h21M701 2106h31M1131 2106h11M1581 2106h21M751 2114h21M1181 2114h11M1561 2114h21M1641 2114h41M811 2122h21M1251 2122h21M1531 2122h21M1641 2122h51M381 2130h11M411 2130h21M871 2130h11M1331 2130h21M1521 2130h11M1661 2130h31M191 2138h11M351 2138h11M461 2138h11M931 2138h11M1351 2138h11M471 2146h21M981 2146h21M1351 2146h11M1521 2146h11M361 2154h11M491 2154h21M1021 2154h11M1521 2154h11M361 2162h11M511 2162h21M1051 2162h11M1351 2162h11M1521 2162h11M361 2170h11M551 2170h31M1071 2170h11M1361 2170h11M1511 2170h11M601 2178h11M1081 2178h11M1381 2178h21M1481 2178h11M621 2186h11M1091 2186h11M191 2194h11M351 2194h11M651 2194h11M1091 2194h21M1161 2194h11M201 2202h11M341 2202h11M681 2202h11M1081 2202h21M1121 2202h21M1201 2202h11M211 2210h11M331 2210h11M721 2210h21M1051 2210h21M1121 2210h11M1211 2210h11M221 2218h11M321 2218h11M711 2218h11M1021 2218h21M1131 2218h11M1211 2218h11M241 2226h21M291 2226h21M621 2226h31M1001 2226h21M1161 2226h31M251 2234h51M621 2234h161M901 2234h41M311 2242h11M611 2242h11M661 2242h11M571 2250h11M691 2250h11M201 2258h11M361 2258h11M201 2266h11M381 2266h11M201 2274h11M401 2274h11M581 2274h11M201 2282h11M581 2282h11M211 2290h11M451 2290h11M481 2298h11M581 2298h11M491 2306h11M251 2314h31M491 2314h11M681 2314h11M301 2322h11M491 2322h11M321 2330h11M471 2330h11M1651 2330h11M1671 2330h11M351 2338h11M1681 2338h11M371 2346h11M431 2346h21M1271 2346h11M1691 2346h11M431 2362h21M491 2362h11M1701 2362h11M481 2370h11M891 2370h11M1621 2378h11M1091 2386h11M1271 2386h11M1711 2386h11M861 2394h11M1091 2394h11M1711 2394h11M1081 2402h21M1531 2402h11M1511 2410h11M861 2418h11M1621 2418h11M731 2426h11M1711 2426h11M691 2434h11M841 2434h11M891 2434h21M1711 2434h11M861 2442h11M691 2450h11M1381 2450h11M1401 2450h11M1691 2458h11M481 2466h11M701 2466h11M731 2466h11M1171 2466h11M1301 2466h11M721 2474h11M821 2474h11M1281 2474h11"/>
<path stroke="#5fcd73" d="M751 1810h71M691 1818h191M671 1826h51M851 1826h51M661 1834h51M861 1834h41M661 1842h61M851 1842h51M681 1850h61M831 1850h61M651 1858h61M861 1858h51M191 1866h361M981 1866h41M1531 1866h91M621 2042h31M731 2042h21M431 2050h21M781 2050h11M1111 2050h21M1331 2050h31M341 2058h21M841 2058h11M1051 2058h21M1421 2058h21M261 2066h21M871 2066h31M1021 2066h21M1481 2066h11M231 2074h21M881 2074h21M1021 2074h21M1521 2074h11M241 2082h21M841 2082h21M1041 2082h21M1551 2082h11M261 2090h31M331 2090h41M761 2090h21M1071 2090h11M1561 2090h21M451 2098h11M701 2098h21M1101 2098h11M1571 2098h21M241 2106h11M331 2106h11M441 2106h21M621 2106h81M1141 2106h11M1571 2106h11M211 2114h11M371 2114h51M721 2114h31M1191 2114h21M1551 2114h11M201 2122h11M381 2122h31M791 2122h21M1271 2122h31M1521 2122h11M201 2130h11M371 2130h11M431 2130h11M851 2130h21M1351 2130h11M1501 2130h21M471 2138h21M911 2138h21M1361 2138h11M1511 2138h11M191 2146h11M351 2146h11M491 2146h11M971 2146h11M1361 2146h11M1511 2146h11M351 2154h11M511 2154h11M1011 2154h11M1351 2154h11M531 2162h21M1041 2162h11M1511 2162h11M581 2170h21M1061 2170h11M1371 2170h11M1501 2170h11M351 2178h11M611 2178h11M1071 2178h11M1401 2178h21M1461 2178h21M191 2186h11M351 2186h11M631 2186h21M1081 2186h11M341 2194h11M661 2194h11M1081 2194h11M691 2202h21M1071 2202h11M1141 2202h11M1191 2202h11M321 2210h11M741 2210h11M1041 2210h11M1131 2210h11M1201 2210h11M231 2218h11M301 2218h21M721 2218h31M1001 2218h21M1141 2218h21M1191 2218h21M261 2226h31M651 2226h61M981 2226h21M781 2234h121M231 2242h11M301 2242h11M621 2242h41M211 2250h11M331 2250h11M581 2250h11M351 2258h11M571 2258h11M691 2258h11M371 2266h11M581 2266h11M211 2274h11M391 2274h11M681 2274h11M211 2282h11M411 2282h21M441 2290h11M581 2290h11M231 2298h11M471 2298h11M241 2306h11M681 2306h11M281 2314h21M311 2322h11M481 2322h11M611 2322h11M651 2322h21M331 2330h11M1661 2330h11M451 2338h11M1641 2338h11M1271 2354h11M1631 2354h11M1271 2362h11M491 2370h11M901 2370h21M1271 2370h11M1271 2378h11M1621 2386h11M1621 2394h11M861 2402h11M1521 2402h11M1621 2402h11M1711 2402h11M711 2410h21M861 2410h11M1621 2410h11M1711 2410h11M701 2418h11M1541 2418h11M1711 2418h11M871 2426h11M731 2434h11M851 2434h11M691 2442h11M731 2442h11M481 2450h11M731 2450h11M1631 2450h11M1701 2450h11M731 2458h11M811 2458h11M1171 2458h11M1301 2458h11M861 2466h11M1511 2466h11M851 2474h11M1651 2474h11M1671 2474h11"/>
<path stroke="#78cc5f" d="M681 1810h71M821 1810h71M651 1818h41M881 1818h41M631 1826h41M901 1826h31M621 1834h41M901 1834h31M631 1842h31M901 1842h31M631 1850h51M891 1850h41M611 1858h41M911 1858h41M1021 1866h41M1411 1866h121M651 2042h81M451 2050h21M771 2050h11M1131 2050h41M1301 2050h31M361 2058h21M821 2058h21M1071 2058h21M1411 2058h11M281 2066h31M861 2066h11M1041 2066h21M1471 2066h11M251 2074h21M861 2074h21M1041 2074h11M1511 2074h11M261 2082h21M821 2082h21M1061 2082h11M1531 2082h21M291 2090h41M371 2090h41M751 2090h11M1081 2090h11M1551 2090h11M461 2098h31M661 2098h41M1111 2098h21M1561 2098h11M251 2106h31M301 2106h31M461 2106h21M561 2106h61M1151 2106h21M1551 2106h21M221 2114h11M361 2114h11M421 2114h21M621 2114h101M1211 2114h21M1531 2114h21M211 2122h11M371 2122h11M411 2122h21M771 2122h21M1301 2122h31M1501 2122h21M361 2130h11M441 2130h21M831 2130h21M1361 2130h21M1491 2130h11M201 2138h11M341 2138h11M491 2138h21M901 2138h11M1371 2138h11M1491 2138h21M341 2146h11M501 2146h21M951 2146h21M1371 2146h11M1501 2146h11M191 2154h11M521 2154h21M1001 2154h11M1361 2154h11M1511 2154h11M191 2162h11M351 2162h11M551 2162h31M1031 2162h11M1361 2162h11M1501 2162h11M191 2170h11M351 2170h11M601 2170h11M1051 2170h11M1381 2170h11M1491 2170h11M191 2178h11M621 2178h11M1061 2178h11M1421 2178h41M341 2186h11M651 2186h11M1071 2186h11M201 2194h11M671 2194h11M1071 2194h11M211 2202h11M331 2202h11M711 2202h11M1051 2202h21M1151 2202h41M221 2210h11M311 2210h11M751 2210h21M1021 2210h21M1141 2210h61M241 2218h61M751 2218h21M981 2218h21M1161 2218h31M711 2226h41M961 2226h21M241 2242h11M291 2242h11M681 2250h11M211 2258h11M341 2258h11M211 2266h11M361 2266h11M681 2266h11M381 2274h11M401 2282h11M681 2282h11M221 2290h11M431 2290h11M461 2298h11M251 2306h31M481 2306h11M591 2306h11M301 2314h11M481 2314h11M601 2314h11M671 2314h11M321 2322h21M621 2322h11M641 2322h11M341 2330h11M461 2330h11M361 2338h11M391 2338h31M1691 2354h11M1631 2362h11M1701 2370h11M921 2378h11M921 2418h11M471 2442h11M821 2442h11M1701 2442h11M861 2450h11M461 2458h11M481 2458h11M701 2458h11M861 2458h11M461 2466h11M711 2466h21M1541 2466h11M1641 2466h11M1681 2466h11M1661 2474h11"/>
<path stroke="#92ca4b" d="M631 1810h51M891 1810h51M611 1818h41M921 1818h31M591 1826h41M931 1826h21M591 1834h31M931 1834h31M591 1842h41M931 1842h31M601 1850h31M931 1850h31M571 1858h41M951 1858h31M1061 1866h51M1331 1866h81M471 2050h21M761 2050h11M1171 2050h131M381 2058h21M811 2058h11M1091 2058h11M1391 2058h21M311 2066h31M841 2066h21M1061 2066h11M1451 2066h21M271 2074h31M841 2074h21M1051 2074h21M1491 2074h21M281 2082h41M801 2082h21M1071 2082h11M1521 2082h11M411 2090h21M731 2090h21M1091 2090h21M1541 2090h11M491 2098h171M1131 2098h11M1551 2098h11M281 2106h21M481 2106h81M1171 2106h11M1541 2106h11M231 2114h11M341 2114h21M441 2114h21M591 2114h31M1231 2114h21M1511 2114h21M361 2122h11M431 2122h21M741 2122h31M1331 2122h21M1481 2122h21M211 2130h11M351 2130h11M461 2130h21M811 2130h21M1381 2130h21M1471 2130h21M211 2138h11M331 2138h11M511 2138h21M881 2138h21M1381 2138h21M1481 2138h11M201 2146h11M521 2146h21M941 2146h11M1381 2146h11M1491 2146h11M201 2154h11M341 2154h11M541 2154h31M991 2154h11M1371 2154h11M1491 2154h21M201 2162h11M341 2162h11M581 2162h21M1021 2162h11M1371 2162h21M1491 2162h11M201 2170h11M341 2170h11M611 2170h21M1041 2170h11M1391 2170h21M1471 2170h21M201 2178h11M341 2178h11M631 2178h21M1051 2178h11M201 2186h11M661 2186h11M1061 2186h11M211 2194h11M331 2194h11M681 2194h11M1051 2194h21M221 2202h11M321 2202h11M721 2202h11M1041 2202h11M231 2210h21M301 2210h11M771 2210h21M1001 2210h21M771 2218h31M951 2218h31M751 2226h41M931 2226h31M251 2242h41M221 2250h11M321 2250h11M591 2250h11M331 2258h11M581 2258h11M341 2266h21M591 2266h11M221 2274h11M371 2274h11M591 2274h11M221 2282h11M391 2282h11M591 2282h11M421 2290h11M681 2290h11M241 2298h11M451 2298h11M591 2298h11M681 2298h11M281 2306h21M471 2306h11M311 2314h31M471 2314h11M341 2322h11M471 2322h11M631 2322h11M351 2330h11M371 2338h21M421 2338h31M1651 2338h11M1671 2338h11M1641 2346h11M1681 2346h11M1691 2362h11M881 2378h11M1701 2378h11M871 2386h11M711 2418h21M1511 2418h11M701 2426h11M881 2426h11M911 2426h11M1541 2426h11M701 2434h11M1631 2442h11M701 2450h11M1281 2450h11M1691 2450h11M711 2458h21M831 2474h21M1381 2474h11"/>
<path stroke="#abc739" d="M591 1810h41M941 1810h31M571 1818h41M951 1818h31M561 1826h31M951 1826h31M551 1834h41M961 1834h21M561 1842h31M961 1842h21M561 1850h41M961 1850h21M521 1858h51M981 1858h31M1111 1866h221M491 2050h21M741 2050h21M401 2058h21M801 2058h11M1101 2058h21M1361 2058h31M341 2066h31M821 2066h21M1071 2066h21M1441 2066h11M301 2074h51M821 2074h21M1071 2074h11M1481 2074h11M321 2082h71M781 2082h21M1081 2082h11M1511 2082h11M431 2090h31M701 2090h31M1111 2090h11M1531 2090h11M1141 2098h11M1531 2098h21M1181 2106h21M1521 2106h21M241 2114h11M331 2114h11M461 2114h21M561 2114h31M1251 2114h31M1491 2114h21M221 2122h11M341 2122h21M451 2122h11M591 2122h151M1351 2122h41M1451 2122h31M221 2130h11M341 2130h11M481 2130h31M581 2130h51M791 2130h21M1401 2130h71M221 2138h11M321 2138h11M531 2138h41M861 2138h21M1401 2138h31M1451 2138h31M211 2146h11M331 2146h11M541 2146h31M921 2146h21M1391 2146h21M1471 2146h21M211 2154h11M331 2154h11M571 2154h31M971 2154h21M1381 2154h31M1471 2154h21M331 2162h11M601 2162h21M1011 2162h11M1391 2162h31M1461 2162h31M331 2170h11M631 2170h11M1031 2170h11M1411 2170h61M211 2178h11M331 2178h11M651 2178h11M1041 2178h11M211 2186h11M331 2186h11M671 2186h11M1051 2186h11M221 2194h11M321 2194h11M691 2194h21M1041 2194h11M231 2202h21M301 2202h21M731 2202h21M1021 2202h21M251 2210h51M791 2210h21M981 2210h21M801 2218h51M901 2218h51M791 2226h141M311 2250h11M601 2250h11M671 2250h11M221 2258h11M681 2258h11M221 2266h11M331 2266h11M671 2266h11M341 2274h31M671 2274h11M371 2282h21M231 2290h11M391 2290h31M591 2290h11M251 2298h11M321 2298h31M441 2298h11M301 2306h51M461 2306h11M601 2306h11M671 2306h11M341 2314h11M611 2314h11M651 2314h21M461 2322h11M451 2330h11M1661 2338h11M1631 2370h11M1701 2386h11M921 2410h11M1531 2410h11M871 2418h11M711 2426h21M1701 2426h11M1541 2434h11M1701 2434h11M701 2442h21M711 2450h21M1391 2450h11M1511 2458h11M1541 2458h11M1641 2458h11M1681 2458h11M1651 2466h31M1291 2474h11M1401 2474h11M1521 2474h21"/>
<path stroke="#c3c22b" d="M541 1810h51M971 1810h31M531 1818h41M981 1818h21M521 1826h41M981 1826h31M511 1834h41M981 1834h31M521 1842h41M981 1842h31M521 1850h41M981 1850h31M191 1858h131M391 1858h131M1011 1858h31M1581 1858h151M511 2050h21M731 2050h11M421 2058h31M791 2058h11M1121 2058h31M1341 2058h21M371 2066h41M811 2066h11M1091 2066h11M1421 2066h21M351 2074h51M801 2074h21M1081 2074h11M1471 2074h11M391 2082h41M761 2082h21M1091 2082h21M1501 2082h11M461 2090h31M661 2090h41M1121 2090h11M1511 2090h21M1151 2098h21M1521 2098h11M1201 2106h21M1501 2106h21M251 2114h21M311 2114h21M481 2114h81M1281 2114h31M1461 2114h31M231 2122h11M331 2122h11M461 2122h31M561 2122h31M1391 2122h61M231 2130h21M321 2130h21M511 2130h71M631 2130h51M761 2130h31M231 2138h21M301 2138h21M571 2138h61M831 2138h31M1431 2138h21M221 2146h21M311 2146h21M571 2146h41M901 2146h21M1411 2146h61M221 2154h11M321 2154h11M601 2154h21M961 2154h11M1411 2154h61M211 2162h21M321 2162h11M621 2162h21M991 2162h21M1421 2162h41M211 2170h21M321 2170h11M641 2170h11M1021 2170h11M221 2178h11M321 2178h11M661 2178h11M1031 2178h11M221 2186h21M311 2186h21M681 2186h11M1031 2186h21M231 2194h21M301 2194h21M711 2194h11M1031 2194h11M251 2202h51M751 2202h21M1001 2202h21M811 2210h41M941 2210h41M851 2218h51M231 2250h11M301 2250h11M611 2250h11M661 2250h11M321 2258h11M591 2258h11M671 2258h11M321 2266h11M601 2266h11M231 2274h11M321 2274h21M601 2274h11M231 2282h11M331 2282h41M671 2282h11M241 2290h11M321 2290h41M371 2290h21M261 2298h61M351 2298h11M431 2298h11M601 2298h11M671 2298h11M351 2306h11M451 2306h11M351 2314h11M461 2314h11M621 2314h31M351 2322h11M361 2330h11M391 2330h31M441 2330h11M1651 2346h11M1671 2346h11M1641 2354h11M1681 2354h11M1691 2370h11M891 2378h11M911 2378h11M1631 2378h11M921 2386h11M871 2394h11M1701 2394h11M1701 2402h11M1521 2410h11M1701 2410h11M1701 2418h11M891 2426h21M1511 2426h11M711 2434h21M1631 2434h11M721 2442h11M831 2442h11M851 2442h11M1541 2442h11M1691 2442h11M1511 2450h11M1541 2450h11M1381 2458h11M1401 2458h11M1281 2466h11"/>
<path stroke="#d8be28" d="M481 1810h61M1001 1810h41M471 1818h61M1001 1818h31M461 1826h61M1011 1826h21M461 1834h51M1011 1834h31M461 1842h61M1011 1842h31M451 1850h71M1011 1850h31M321 1858h71M1041 1858h41M1441 1858h141M531 2050h21M711 2050h21M451 2058h21M771 2058h21M1151 2058h41M1301 2058h41M411 2066h31M801 2066h11M1101 2066h21M1401 2066h21M401 2074h41M781 2074h21M1091 2074h21M1451 2074h21M431 2082h31M741 2082h21M1111 2082h11M1481 2082h21M491 2090h171M1131 2090h11M1501 2090h11M1171 2098h11M1501 2098h21M1221 2106h21M1481 2106h21M271 2114h41M1311 2114h151M241 2122h21M311 2122h21M491 2122h71M251 2130h71M681 2130h81M251 2138h51M631 2138h31M811 2138h21M241 2146h71M611 2146h31M881 2146h21M231 2154h91M621 2154h21M941 2154h21M231 2162h91M641 2162h11M981 2162h11M231 2170h91M651 2170h21M1001 2170h21M231 2178h91M671 2178h11M1021 2178h11M241 2186h71M691 2186h21M1021 2186h11M251 2194h51M721 2194h21M1011 2194h21M771 2202h21M981 2202h21M851 2210h91M241 2250h31M281 2250h21M621 2250h41M231 2258h11M311 2258h11M601 2258h11M231 2266h11M311 2266h11M611 2266h11M661 2266h11M241 2274h11M311 2274h11M611 2274h11M661 2274h11M241 2282h11M321 2282h11M601 2282h11M251 2290h21M311 2290h11M361 2290h11M601 2290h11M671 2290h11M361 2298h71M441 2306h11M611 2306h61M451 2314h11M361 2322h11M451 2322h11M371 2330h21M421 2330h21M1661 2346h11M1641 2362h11M1681 2362h11M901 2378h11M1691 2378h11M881 2386h11M1631 2386h11M921 2394h11M871 2402h11M921 2402h11M871 2410h11M1631 2418h11M1631 2426h11M1511 2434h11M1691 2434h11M1511 2442h11M1291 2450h11M1641 2450h11M1681 2450h11M1281 2458h11M1651 2458h31M821 2466h11M851 2466h11M1381 2466h11M1401 2466h11M471 2474h11M1391 2474h11"/>
<path stroke="#eaba31" d="M191 1810h291M1041 1810h41M1501 1810h231M191 1818h281M1031 1818h41M1531 1818h201M191 1826h271M1031 1826h41M1551 1826h181M191 1834h271M1041 1834h31M1561 1834h171M191 1842h271M1041 1842h31M1551 1842h181M191 1850h261M1041 1850h41M1501 1850h231M1081 1858h61M1331 1858h111M551 2050h31M691 2050h21M471 2058h21M761 2058h11M1191 2058h111M441 2066h31M781 2066h21M1121 2066h21M1371 2066h31M441 2074h31M771 2074h11M1111 2074h11M1431 2074h21M461 2082h51M711 2082h31M1121 2082h11M1461 2082h21M1141 2090h21M1481 2090h21M1181 2098h31M1481 2098h21M1241 2106h41M1451 2106h31M261 2122h51M661 2138h51M761 2138h51M641 2146h21M851 2146h31M641 2154h21M921 2154h21M651 2162h21M961 2162h21M671 2170h11M991 2170h11M681 2178h21M1001 2178h21M711 2186h11M1001 2186h21M741 2194h21M991 2194h21M791 2202h31M951 2202h31M271 2250h11M241 2258h11M301 2258h11M611 2258h11M651 2258h21M241 2266h11M301 2266h11M621 2266h41M251 2274h21M301 2274h11M621 2274h41M251 2282h31M301 2282h21M611 2282h61M271 2290h41M611 2290h61M611 2298h61M361 2306h81M361 2314h11M391 2314h61M371 2322h81M1651 2354h11M1671 2354h11M1641 2370h11M1681 2370h11M1691 2386h11M1631 2394h11M1691 2394h11M1631 2402h11M1631 2410h11M881 2418h11M911 2418h11M1531 2418h11M1691 2426h11M841 2442h11M1641 2442h11M1681 2442h11M471 2450h11M821 2450h11M1291 2466h11M1521 2466h21"/>
<path stroke="#f9bb3d" d="M1081 1810h71M1351 1810h151M1071 1818h61M1411 1818h121M1071 1826h51M1431 1826h121M1071 1834h51M1441 1834h121M1071 1842h51M1431 1842h121M1081 1850h61M1391 1850h111M1141 1858h191M581 2050h41M651 2050h41M491 2058h21M751 2058h11M471 2066h21M771 2066h11M1141 2066h31M1341 2066h31M471 2074h31M751 2074h21M1121 2074h31M1401 2074h31M511 2082h71M671 2082h41M1131 2082h21M1441 2082h21M1161 2090h21M1461 2090h21M1211 2098h21M1451 2098h31M1281 2106h171M711 2138h51M661 2146h41M811 2146h41M661 2154h31M891 2154h31M671 2162h21M941 2162h21M681 2170h21M971 2170h21M701 2178h21M981 2178h21M721 2186h21M981 2186h21M761 2194h21M971 2194h21M821 2202h131M251 2258h51M621 2258h31M251 2266h51M271 2274h31M281 2282h21M371 2314h21M1661 2354h11M1651 2362h11M1671 2362h11M1641 2378h11M1681 2378h11M891 2386h11M911 2386h11M881 2394h11M1691 2402h11M881 2410h11M1691 2410h11M891 2418h11M1521 2418h11M1691 2418h11M1641 2434h11M1681 2434h11M851 2450h11M1651 2450h31M471 2458h11M821 2458h11M851 2458h11M1291 2458h11M1391 2458h11M471 2466h11M831 2466h11M1391 2466h11"/>
<path stroke="#fec338" d="M1151 1810h201M1131 1818h281M1121 1826h311M1121 1834h321M1121 1842h311M1141 1850h251M621 2050h31M511 2058h21M731 2058h21M491 2066h21M751 2066h21M1171 2066h171M501 2074h31M731 2074h21M1151 2074h21M1371 2074h31M581 2082h91M1151 2082h31M1411 2082h31M1181 2090h31M1421 2090h41M1231 2098h61M1391 2098h61M701 2146h111M691 2154h41M841 2154h51M691 2162h31M911 2162h31M701 2170h31M941 2170h31M721 2178h31M961 2178h21M741 2186h31M951 2186h31M781 2194h41M921 2194h51M1661 2362h11M1651 2370h11M1671 2370h11M901 2386h11M1641 2386h11M1681 2386h11M911 2394h11M1641 2394h11M1681 2394h11M881 2402h11M911 2402h11M1681 2402h11M911 2410h11M1681 2410h11M901 2418h11M1641 2418h11M1681 2418h11M1521 2426h21M1641 2426h11M1681 2426h11M1531 2434h11M1671 2434h11M1651 2442h31M831 2450h11M831 2458h11M1521 2458h21M841 2466h11"/>
<path stroke="#fdce31" d="M531 2058h21M711 2058h21M511 2066h31M731 2066h21M531 2074h41M701 2074h31M1171 2074h91M1281 2074h91M1181 2082h51M1351 2082h61M1211 2090h81M1331 2090h91M1291 2098h101M731 2154h111M721 2162h191M731 2170h71M851 2170h91M751 2178h81M871 2178h91M771 2186h181M821 2194h101M1661 2370h11M1651 2378h31M1651 2386h31M891 2394h21M1651 2394h31M891 2402h21M1641 2402h41M891 2410h21M1641 2410h41M1651 2418h31M1651 2426h31M1521 2434h11M1651 2434h21M1521 2442h21M841 2450h11M1521 2450h21M841 2458h11"/>
<path stroke="#f8da2b" d="M551 2058h41M681 2058h31M541 2066h21M711 2066h21M571 2074h131M1261 2074h21M1231 2082h121M1291 2090h41M801 2170h51M831 2178h41"/>
<path stroke="#f5e526" d="M591 2058h91M561 2066h151"/>
</g>
<path fill="#000" d="M227.9 1806.4L199.7 1808.4L201.4 1813.1L171.1 1809.1L197.1 1801.1L198.8 1805.8L226.9 1803.8ZM270.1 1806.4L242.0 1808.4L243.7 1813.1L213.4 1809.1L239.3 1801.1L241.0 1805.8L269.2 1803.8ZM312.4 1806.4L284.2 1808.4L285.9 1813.1L255.6 1809.1L281.6 1801.1L283.3 1805.8L311.4 1803.8ZM354.6 1806.4L326.5 1808.4L328.2 1813.1L297.9 1809.1L323.8 1801.1L325.5 1805.8L353.7 1803.8ZM396.9 1806.4L368.7 1808.4L370.4 1813.1L340.1 1809.1L366.1 1801.1L367.8 1805.8L395.9 1803.8ZM439.1 1806.4L411.0 1808.4L412.7 1813.1L382.4 1809.1L408.3 1801.1L410.0 1805.8L438.2 1803.8ZM481.4 1806.4L453.2 1808.4L454.9 1813.1L424.6 1809.1L450.6 1801.1L452.3 1805.8L480.4 1803.8ZM523.6 1806.4L495.5 1808.4L497.2 1813.1L466.9 1809.1L492.8 1801.1L494.5 1805.8L522.7 1803.8ZM565.9 1806.4L537.7 1808.4L539.4 1813.1L509.1 1809.1L535.1 1801.1L536.8 1805.8L564.9 1803.8ZM608.1 1806.4L580.0 1808.4L581.7 1813.1L551.4 1809.1L577.3 1801.1L579.0 1805.8L607.2 1803.8ZM650.4 1806.4L622.2 1808.4L623.9 1813.1L593.6 1809.1L619.6 1801.1L621.3 1805.8L649.4 1803.8ZM692.6 1806.4L664.5 1808.4L666.2 1813.1L635.9 1809.1L661.8 1801.1L663.5 1805.8L691.7 1803.8ZM734.9 1806.4L706.7 1808.4L708.4 1813.1L678.1 1809.1L704.1 1801.1L705.8 1805.8L733.9 1803.8ZM777.1 1806.4L749.0 1808.4L750.7 1813.1L720.4 1809.1L746.3 1801.1L748.0 1805.8L776.2 1803.8ZM819.4 1806.4L791.2 1808.4L792.9 1813.1L762.6 1809.1L788.6 1801.1L790.3 1805.8L818.4 1803.8ZM861.6 1806.4L833.5 1808.4L835.2 1813.1L804.9 1809.1L830.8 1801.1L832.5 1805.8L860.7 1803.8ZM903.9 1806.4L875.7 1808.4L877.4 1813.1L847.1 1809.1L873.1 1801.1L874.8 1805.8L902.9 1803.8ZM946.1 1806.4L918.0 1808.4L919.7 1813.1L889.4 1809.1L915.3 1801.1L917.0 1805.8L945.2 1803.8ZM988.4 1806.4L960.2 1808.4L961.9 1813.1L931.6 1809.1L957.6 1801.1L959.3 1805.8L987.4 1803.8ZM1030.6 1806.4L1002.5 1808.4L1004.2 1813.1L973.9 1809.1L999.8 1801.1L1001.5 1805.8L1029.7 1803.8ZM1072.9 1806.4L1044.7 1808.4L1046.4 1813.1L1016.1 1809.1L1042.1 1801.1L1043.8 1805.8L1071.9 1803.8ZM1115.1 1806.4L1087.0 1808.4L1088.7 1813.1L1058.4 1809.1L1084.3 1801.1L1086.0 1805.8L1114.2 1803.8ZM1157.4 1806.4L1129.2 1808.4L1130.9 1813.1L1100.6 1809.1L1126.6 1801.1L1128.3 1805.8L1156.4 1803.8ZM1199.6 1806.4L1171.5 1808.4L1173.2 1813.1L1142.9 1809.1L1168.8 1801.1L1170.5 1805.8L1198.7 1803.8ZM1241.9 1806.4L1213.7 1808.4L1215.4 1813.1L1185.1 1809.1L1211.1 1801.1L1212.8 1805.8L1240.9 1803.8ZM1284.1 1806.4L1256.0 1808.4L1257.7 1813.1L1227.4 1809.1L1253.3 1801.1L1255.0 1805.8L1283.2 1803.8ZM1326.4 1806.4L1298.2 1808.4L1299.9 1813.1L1269.6 1809.1L1295.6 1801.1L1297.3 1805.8L1325.4 1803.8ZM1368.6 1806.4L1340.5 1808.4L1342.2 1813.1L1311.9 1809.1L1337.8 1801.1L1339.5 1805.8L1367.7 1803.8ZM1410.9 1806.4L1382.7 1808.4L1384.4 1813.1L1354.1 1809.1L1380.1 1801.1L1381.8 1805.8L1409.9 1803.8ZM1453.1 1806.4L1425.0 1808.4L1426.7 1813.1L1396.4 1809.1L1422.3 1801.1L1424.0 1805.8L1452.2 1803.8ZM1495.4 1806.4L1467.2 1808.4L1468.9 1813.1L1438.6 1809.1L1464.6 1801.1L1466.3 1805.8L1494.4 1803.8ZM1537.6 1806.4L1509.5 1808.4L1511.2 1813.1L1480.9 1809.1L1506.8 1801.1L1508.5 1805.8L1536.7 1803.8ZM1579.9 1806.4L1551.7 1808.4L1553.4 1813.1L1523.1 1809.1L1549.1 1801.1L1550.8 1805.8L1578.9 1803.8ZM1622.1 1806.4L1594.0 1808.4L1595.7 1813.1L1565.4 1809.1L1591.3 1801.1L1593.0 1805.8L1621.2 1803.8ZM1664.4 1806.4L1636.2 1808.4L1637.9 1813.1L1607.6 1809.1L1633.6 1801.1L1635.3 1805.8L1663.4 1803.8ZM1706.6 1806.4L1678.5 1808.4L1680.2 1813.1L1649.9 1809.1L1675.8 1801.1L1677.5 1805.8L1705.7 1803.8ZM1748.9 1806.4L1720.7 1808.4L1722.4 1813.1L1692.1 1809.1L1718.1 1801.1L1719.8 1805.8L1747.9 1803.8ZM227.9 1834.3L199.7 1836.3L201.4 1841.0L171.1 1837.0L197.1 1829.0L198.8 1833.7L226.9 1831.7ZM270.1 1834.3L242.0 1836.3L243.7 1841.0L213.4 1837.0L239.3 1829.0L241.0 1833.7L269.2 1831.7ZM312.4 1834.3L284.2 1836.3L285.9 1841.0L255.6 1837.0L281.6 1829.0L283.3 1833.7L311.4 1831.7ZM354.6 1834.3L326.5 1836.3L328.2 1841.0L297.9 1837.0L323.8 1829.0L325.5 1833.7L353.7 1831.7ZM396.9 1834.3L368.7 1836.3L370.4 1841.0L340.1 1837.0L366.1 1829.0L367.8 1833.7L395.9 1831.7ZM439.1 1834.3L411.0 1836.3L412.7 1841.0L382.4 1837.0L408.3 1829.0L410.0 1833.7L438.2 1831.7ZM481.4 1834.3L453.2 1836.3L454.9 1841.0L424.6 1837.0L450.6 1829.0L452.3 1833.7L480.4 1831.7ZM523.6 1834.3L495.5 1836.3L497.2 1841.0L466.9 1837.0L492.8 1829.0L494.5 1833.7L522.7 1831.7ZM565.9 1834.3L537.7 1836.3L539.4 1841.0L509.1 1837.0L535.1 1829.0L536.8 1833.7L564.9 1831.7ZM608.1 1834.3L580.0 1836.3L581.7 1841.0L551.4 1837.0L577.3 1829.0L579.0 1833.7L607.2 1831.7ZM650.4 1834.3L622.2 1836.3L623.9 1841.0L593.6 1837.0L619.6 1829.0L621.3 1833.7L649.4 1831.7ZM692.6 1834.3L664.5 1836.3L666.2 1841.0L635.9 1837.0L661.8 1829.0L663.5 1833.7L691.7 1831.7ZM734.9 1834.3L706.7 1836.3L708.4 1841.0L678.1 1837.0L704.1 1829.0L705.8 1833.7L733.9 1831.7ZM777.1 1834.3L749.0 1836.3L750.7 1841.0L720.4 1837.0L746.3 1829.0L748.0 1833.7L776.2 1831.7ZM819.4 1834.3L791.2 1836.3L792.9 1841.0L762.6 1837.0L788.6 1829.0L790.3 1833.7L818.4 1831.7ZM861.6 1834.3L833.5 1836.3L835.2 1841.0L804.9 1837.0L830.8 1829.0L832.5 1833.7L860.7 1831.7ZM903.9 1834.3L875.7 1836.3L877.4 1841.0L847.1 1837.0L873.1 1829.0L874.8 1833.7L902.9 1831.7ZM946.1 1834.3L918.0 1836.3L919.7 1841.0L889.4 1837.0L915.3 1829.0L917.0 1833.7L945.2 1831.7ZM988.4 1834.3L960.2 1836.3L961.9 1841.0L931.6 1837.0L957.6 1829.0L959.3 1833.7L987.4 1831.7ZM1030.6 1834.3L1002.5 1836.3L1004.2 1841.0L973.9 1837.0L999.8 1829.0L1001.5 1833.7L1029.7 1831.7ZM1072.9 1834.3L1044.7 1836.3L1046.4 1841.0L1016.1 1837.0L1042.1 1829.0L1043.8 1833.7L1071.9 1831.7ZM1115.1 1834.3L1087.0 1836.3L1088.7 1841.0L1058.4 1837.0L1084.3 1829.0L1086.0 1833.7L1114.2 1831.7ZM1157.4 1834.3L1129.2 1836.3L1130.9 1841.0L1100.6 1837.0L1126.6 1829.0L1128.3 1833.7L1156.4 1831.7ZM1199.6 1834.3L1171.5 1836.3L1173.2 1841.0L1142.9 1837.0L1168.8 1829.0L1170.5 1833.7L1198.7 1831.7ZM1241.9 1834.3L1213.7 1836.3L1215.4 1841.0L1185.1 1837.0L1211.1 1829.0L1212.8 1833.7L1240.9 1831.7ZM1284.1 1834.3L1256.0 1836.3L1257.7 1841.0L1227.4 1837.0L1253.3 1829.0L1255.0 1833.7L1283.2 1831.7ZM1326.4 1834.3L1298.2 1836.3L1299.9 1841.0L1269.6 1837.0L1295.6 1829.0L1297.3 1833.7L1325.4 1831.7ZM1368.6 1834.3L1340.5 1836.3L1342.2 1841.0L1311.9 1837.0L1337.8 1829.0L1339.5 1833.7L1367.7 1831.7ZM1410.9 1834.3L1382.7 1836.3L1384.4 1841.0L1354.1 1837.0L1380.1 1829.0L1381.8 1833.7L1409.9 1831.7ZM1453.1 1834.3L1425.0 1836.3L1426.7 1841.0L1396.4 1837.0L1422.3 1829.0L1424.0 1833.7L1452.2 1831.7ZM1495.4 1834.3L1467.2 1836.3L1468.9 1841.0L1438.6 1837.0L1464.6 1829.0L1466.3 1833.7L1494.4 1831.7ZM1537.6 1834.3L1509.5 1836.3L1511.2 1841.0L1480.9 1837.0L1506.8 1829.0L1508.5 1833.7L1536.7 1831.7ZM1579.9 1834.3L1551.7 1836.3L1553.4 1841.0L1523.1 1837.0L1549.1 1829.0L1550.8 1833.7L1578.9 1831.7ZM1622.1 1834.3L1594.0 1836.3L1595.7 1841.0L1565.4 1837.0L1591.3 1829.0L1593.0 1833.7L1621.2 1831.7ZM1664.4 1834.3L1636.2 1836.3L1637.9 1841.0L1607.6 1837.0L1633.6 1829.0L1635.3 1833.7L1663.4 1831.7ZM1706.6 1834.3L1678.5 1836.3L1680.2 1841.0L1649.9 1837.0L1675.8 1829.0L1677.5 1833.7L1705.7 1831.7ZM1748.9 1834.3L1720.7 1836.3L1722.4 1841.0L1692.1 1837.0L1718.1 1829.0L1719.8 1833.7L1747.9 1831.7ZM227.9 1862.2L199.7 1864.2L201.4 1868.9L171.1 1864.9L197.1 1856.9L198.8 1861.6L226.9 1859.6ZM270.1 1862.2L242.0 1864.2L243.7 1868.9L213.4 1864.9L239.3 1856.9L241.0 1861.6L269.2 1859.6ZM312.4 1862.2L284.2 1864.2L285.9 1868.9L255.6 1864.9L281.6 1856.9L283.3 1861.6L311.4 1859.6ZM354.6 1862.2L326.5 1864.2L328.2 1868.9L297.9 1864.9L323.8 1856.9L325.5 1861.6L353.7 1859.6ZM396.9 1862.2L368.7 1864.2L370.4 1868.9L340.1 1864.9L366.1 1856.9L367.8 1861.6L395.9 1859.6ZM439.1 1862.2L411.0 1864.2L412.7 1868.9L382.4 1864.9L408.3 1856.9L410.0 1861.6L438.2 1859.6ZM481.4 1862.2L453.2 1864.2L454.9 1868.9L424.6 1864.9L450.6 1856.9L452.3 1861.6L480.4 1859.6ZM523.6 1862.2L495.5 1864.2L497.2 1868.9L466.9 1864.9L492.8 1856.9L494.5 1861.6L522.7 1859.6ZM565.9 1862.2L537.7 1864.2L539.4 1868.9L509.1 1864.9L535.1 1856.9L536.8 1861.6L564.9 1859.6ZM608.1 1862.2L580.0 1864.2L581.7 1868.9L551.4 1864.9L577.3 1856.9L579.0 1861.6L607.2 1859.6ZM650.4 1862.2L622.2 1864.2L623.9 1868.9L593.6 1864.9L619.6 1856.9L621.3 1861.6L649.4 1859.6ZM692.6 1862.2L664.5 1864.2L666.2 1868.9L635.9 1864.9L661.8 1856.9L663.5 1861.6L691.7 1859.6ZM734.9 1862.2L706.7 1864.2L708.4 1868.9L678.1 1864.9L704.1 1856.9L705.8 1861.6L733.9 1859.6ZM777.1 1862.2L749.0 1864.2L750.7 1868.9L720.4 1864.9L746.3 1856.9L748.0 1861.6L776.2 1859.6ZM819.4 1862.2L791.2 1864.2L792.9 1868.9L762.6 1864.9L788.6 1856.9L790.3 1861.6L818.4 1859.6ZM861.6 1862.2L833.5 1864.2L835.2 1868.9L804.9 1864.9L830.8 1856.9L832.5 1861.6L860.7 1859.6ZM903.9 1862.2L875.7 1864.2L877.4 1868.9L847.1 1864.9L873.1 1856.9L874.8 1861.6L902.9 1859.6ZM946.1 1862.2L918.0 1864.2L919.7 1868.9L889.4 1864.9L915.3 1856.9L917.0 1861.6L945.2 1859.6ZM988.4 1862.2L960.2 1864.2L961.9 1868.9L931.6 1864.9L957.6 1856.9L959.3 1861.6L987.4 1859.6ZM1030.6 1862.2L1002.5 1864.2L1004.2 1868.9L973.9 1864.9L999.8 1856.9L1001.5 1861.6L1029.7 1859.6ZM1072.9 1862.2L1044.7 1864.2L1046.4 1868.9L1016.1 1864.9L1042.1 1856.9L1043.8 1861.6L1071.9 1859.6ZM1115.1 1862.2L1087.0 1864.2L1088.7 1868.9L1058.4 1864.9L1084.3 1856.9L1086.0 1861.6L1114.2 1859.6ZM1157.4 1862.2L1129.2 1864.2L1130.9 1868.9L1100.6 1864.9L1126.6 1856.9L1128.3 1861.6L1156.4 1859.6ZM1199.6 1862.2L1171.5 1864.2L1173.2 1868.9L1142.9 1864.9L1168.8 1856.9L1170.5 1861.6L1198.7 1859.6ZM1241.9 1862.2L1213.7 1864.2L1215.4 1868.9L1185.1 1864.9L1211.1 1856.9L1212.8 1861.6L1240.9 1859.6ZM1284.1 1862.2L1256.0 1864.2L1257.7 1868.9L1227.4 1864.9L1253.3 1856.9L1255.0 1861.6L1283.2 1859.6ZM1326.4 1862.2L1298.2 1864.2L1299.9 1868.9L1269.6 1864.9L1295.6 1856.9L1297.3 1861.6L1325.4 1859.6ZM1368.6 1862.2L1340.5 1864.2L1342.2 1868.9L1311.9 1864.9L1337.8 1856.9L1339.5 1861.6L1367.7 1859.6ZM1410.9 1862.2L1382.7 1864.2L1384.4 1868.9L1354.1 1864.9L1380.1 1856.9L1381.8 1861.6L1409.9 1859.6ZM1453.1 1862.2L1425.0 1864.2L1426.7 1868.9L1396.4 1864.9L1422.3 1856.9L1424.0 1861.6L1452.2 1859.6ZM1495.4 1862.2L1467.2 1864.2L1468.9 1868.9L1438.6 1864.9L1464.6 1856.9L1466.3 1861.6L1494.4 1859.6ZM1537.6 1862.2L1509.5 1864.2L1511.2 1868.9L1480.9 1864.9L1506.8 1856.9L1508.5 1861.6L1536.7 1859.6ZM1579.9 1862.2L1551.7 1864.2L1553.4 1868.9L1523.1 1864.9L1549.1 1856.9L1550.8 1861.6L1578.9 1859.6ZM1622.1 1862.2L1594.0 1864.2L1595.7 1868.9L1565.4 1864.9L1591.3 1856.9L1593.0 1861.6L1621.2 1859.6ZM1664.4 1862.2L1636.2 1864.2L1637.9 1868.9L1607.6 1864.9L1633.6 1856.9L1635.3 1861.6L1663.4 1859.6ZM1706.6 1862.2L1678.5 1864.2L1680.2 1868.9L1649.9 1864.9L1675.8 1856.9L1677.5 1861.6L1705.7 1859.6ZM1748.9 1862.2L1720.7 1864.2L1722.4 1868.9L1692.1 1864.9L1718.1 1856.9L1719.8 1861.6L1747.9 1859.6ZM396.9 2059.0L368.4 2059.5L368.8 2064.3L339.8 2058.7L367.7 2052.1L368.1 2056.9L396.6 2056.4ZM439.1 2058.8L410.7 2059.5L411.3 2064.3L382.0 2058.9L409.7 2052.1L410.3 2056.9L438.8 2056.2ZM481.4 2058.3L453.0 2059.5L454.1 2064.3L424.4 2059.4L451.4 2052.1L452.5 2056.9L480.8 2055.7ZM523.6 2057.4L495.5 2059.5L497.3 2064.2L466.9 2060.3L492.7 2052.2L494.5 2056.9L522.6 2054.8ZM565.7 2056.6L537.9 2059.5L540.4 2064.2L509.5 2061.0L534.1 2052.2L536.6 2056.9L564.3 2054.1ZM606.4 2053.9L580.8 2059.4L585.6 2063.7L553.9 2063.7L573.4 2052.7L578.2 2057.0L603.9 2051.6ZM648.7 2053.9L623.0 2059.4L627.8 2063.7L596.1 2063.7L615.7 2052.7L620.5 2057.0L646.1 2051.6ZM685.7 2050.0L666.2 2059.1L674.2 2062.4L644.5 2067.3L653.8 2054.0L661.8 2057.3L681.4 2048.2ZM727.9 2050.0L708.4 2059.1L716.4 2062.4L686.7 2067.3L696.1 2054.0L704.1 2057.3L723.6 2048.2ZM770.2 2050.0L750.7 2059.1L758.7 2062.4L729.0 2067.3L738.3 2054.0L746.3 2057.3L765.9 2048.2ZM812.5 2050.0L792.9 2059.1L800.9 2062.4L771.2 2067.3L780.6 2054.0L788.6 2057.3L808.2 2048.2ZM855.0 2050.1L835.1 2059.1L843.0 2062.5L813.2 2067.2L823.0 2053.9L830.9 2057.3L850.7 2048.3ZM1102.5 2068.6L1084.2 2059.0L1075.8 2062.1L1068.2 2048.6L1097.2 2054.3L1088.8 2057.4L1107.0 2067.0ZM1143.9 2068.9L1126.4 2059.0L1117.7 2062.0L1111.2 2048.3L1139.8 2054.4L1131.1 2057.4L1148.6 2067.3ZM1186.0 2068.9L1168.6 2059.0L1159.9 2061.9L1153.7 2048.3L1182.1 2054.5L1173.4 2057.4L1190.7 2067.3ZM1228.1 2068.9L1210.9 2059.0L1202.1 2061.9L1196.0 2048.3L1224.4 2054.5L1215.6 2057.4L1232.9 2067.4ZM1270.4 2068.9L1253.1 2059.0L1244.4 2061.9L1238.3 2048.2L1266.6 2054.5L1257.9 2057.4L1275.1 2067.4ZM1312.6 2068.9L1295.4 2059.0L1286.6 2061.9L1280.5 2048.2L1308.9 2054.5L1300.1 2057.4L1317.4 2067.4ZM1354.9 2068.9L1337.6 2059.0L1328.9 2061.9L1322.8 2048.2L1351.1 2054.5L1342.4 2057.4L1359.6 2067.4ZM1397.1 2068.9L1379.9 2059.0L1371.1 2061.9L1365.0 2048.2L1393.4 2054.5L1384.6 2057.4L1401.9 2067.4ZM1439.4 2068.9L1422.1 2059.0L1413.4 2061.9L1407.3 2048.2L1435.6 2054.5L1426.9 2057.4L1444.1 2067.4ZM312.4 2085.5L284.2 2087.4L285.9 2092.2L255.6 2088.0L281.6 2080.0L283.3 2084.8L311.5 2082.9ZM354.7 2086.0L326.3 2087.4L327.6 2092.2L297.7 2087.5L324.4 2080.0L325.7 2084.8L354.0 2083.4ZM396.9 2086.6L368.4 2087.4L369.1 2092.2L339.8 2086.9L367.4 2080.0L368.1 2084.8L396.5 2084.0ZM439.1 2086.8L410.6 2087.4L411.2 2092.2L382.0 2086.7L409.8 2080.0L410.4 2084.8L438.8 2084.2ZM481.4 2086.7L452.9 2087.4L453.6 2092.2L424.3 2086.8L451.9 2080.0L452.6 2084.8L481.0 2084.1ZM523.7 2086.3L495.3 2087.4L496.3 2092.2L466.6 2087.2L493.7 2080.0L494.7 2084.8L523.1 2083.7ZM565.8 2085.0L537.8 2087.4L539.9 2092.1L509.3 2088.5L534.6 2080.1L536.7 2084.8L564.7 2082.4ZM605.6 2080.9L581.0 2087.2L586.6 2091.4L554.9 2092.4L572.4 2080.8L578.0 2085.0L602.6 2078.7ZM646.7 2079.9L623.5 2087.2L629.8 2091.1L598.5 2093.3L613.7 2081.1L620.0 2085.0L643.3 2077.8ZM683.0 2076.7L666.4 2086.9L675.4 2089.7L647.4 2096.3L652.6 2082.5L661.6 2085.3L678.2 2075.2ZM725.4 2076.8L708.6 2086.9L717.5 2089.7L689.5 2096.2L695.0 2082.5L703.9 2085.3L720.6 2075.2ZM767.8 2076.8L750.9 2086.9L759.7 2089.7L731.6 2096.2L737.3 2082.5L746.1 2085.3L763.0 2075.3ZM811.0 2077.2L793.1 2086.9L801.6 2090.0L772.8 2095.8L779.9 2082.2L788.4 2085.3L806.4 2075.6ZM1102.2 2096.6L1084.2 2086.9L1075.7 2090.0L1068.5 2076.4L1097.3 2082.2L1088.8 2085.3L1106.8 2095.0ZM1143.8 2096.8L1126.4 2086.9L1117.7 2089.8L1111.3 2076.2L1139.8 2082.4L1131.1 2085.3L1148.5 2095.2ZM1185.9 2096.8L1168.6 2086.9L1159.9 2089.8L1153.7 2076.2L1182.1 2082.4L1173.4 2085.3L1190.6 2095.3ZM1228.1 2096.8L1210.9 2086.9L1202.1 2089.8L1196.0 2076.1L1224.4 2082.4L1215.6 2085.3L1232.9 2095.3ZM1270.4 2096.8L1253.1 2086.9L1244.4 2089.8L1238.3 2076.1L1266.6 2082.4L1257.9 2085.3L1275.1 2095.3ZM1312.6 2096.8L1295.4 2086.9L1286.6 2089.8L1280.5 2076.1L1308.9 2082.4L1300.1 2085.3L1317.4 2095.3ZM1354.9 2096.8L1337.6 2086.9L1328.9 2089.8L1322.8 2076.1L1351.1 2082.4L1342.4 2085.3L1359.6 2095.3ZM1397.1 2096.8L1379.9 2086.9L1371.1 2089.8L1365.0 2076.1L1393.4 2082.4L1384.6 2085.3L1401.9 2095.3ZM1439.4 2096.8L1422.1 2086.9L1413.4 2089.8L1407.3 2076.1L1435.6 2082.4L1426.9 2085.3L1444.1 2095.3ZM1481.6 2096.8L1464.4 2086.9L1455.6 2089.8L1449.5 2076.1L1477.9 2082.4L1469.1 2085.3L1486.4 2095.3ZM1523.9 2096.8L1506.6 2086.9L1497.9 2089.8L1491.8 2076.1L1520.1 2082.4L1511.4 2085.3L1528.6 2095.3ZM1566.1 2096.8L1548.9 2086.9L1540.1 2089.8L1534.0 2076.1L1562.4 2082.4L1553.6 2085.3L1570.9 2095.3ZM269.2 2110.8L242.5 2115.2L246.4 2119.7L214.8 2118.4L236.6 2108.3L240.5 2112.8L267.1 2108.4ZM311.5 2110.9L284.8 2115.2L288.6 2119.7L257.0 2118.4L278.9 2108.3L282.7 2112.8L309.4 2108.4ZM353.8 2110.9L327.0 2115.2L330.8 2119.8L299.2 2118.3L321.2 2108.2L325.0 2112.8L351.8 2108.5ZM396.1 2111.0L369.2 2115.2L372.9 2119.8L341.4 2118.2L363.6 2108.2L367.3 2112.8L394.1 2108.6ZM438.2 2110.9L411.5 2115.2L415.4 2119.7L383.8 2118.4L405.6 2108.3L409.5 2112.8L436.2 2108.4ZM480.1 2110.3L453.9 2115.2L458.2 2119.6L426.5 2118.9L447.3 2108.4L451.6 2112.8L477.8 2107.9ZM521.8 2109.6L496.3 2115.2L501.3 2119.5L469.5 2119.6L488.7 2108.5L493.7 2112.8L519.2 2107.2ZM558.5 2105.6L539.5 2114.9L547.6 2118.1L518.2 2123.3L526.9 2109.9L535.0 2113.1L554.1 2103.8ZM598.1 2104.5L581.9 2114.7L591.0 2117.5L563.3 2124.3L568.0 2110.5L577.1 2113.3L593.3 2103.0ZM632.0 2102.3L624.6 2114.3L635.2 2115.6L614.4 2126.1L608.3 2112.4L618.9 2113.7L626.3 2101.6ZM666.7 2101.5L667.0 2114.0L678.0 2113.9L664.3 2126.5L650.0 2114.1L661.0 2114.0L660.8 2101.5ZM707.3 2101.4L709.2 2113.9L720.2 2113.6L708.2 2126.5L692.3 2114.4L703.3 2114.1L701.4 2101.6ZM1228.1 2124.7L1210.9 2114.8L1202.1 2117.7L1196.0 2104.0L1224.4 2110.3L1215.6 2113.2L1232.8 2123.2ZM1270.4 2124.7L1253.1 2114.8L1244.4 2117.7L1238.3 2104.0L1266.6 2110.3L1257.9 2113.2L1275.1 2123.2ZM1312.6 2124.7L1295.4 2114.8L1286.6 2117.7L1280.5 2104.0L1308.9 2110.3L1300.1 2113.2L1317.3 2123.2ZM1354.9 2124.7L1337.6 2114.8L1328.9 2117.7L1322.8 2104.0L1351.1 2110.3L1342.4 2113.2L1359.6 2123.2ZM1397.1 2124.8L1379.9 2114.8L1371.1 2117.7L1365.1 2104.0L1393.4 2110.3L1384.6 2113.2L1401.8 2123.2ZM1439.3 2124.8L1422.1 2114.8L1413.4 2117.7L1407.3 2104.0L1435.6 2110.3L1426.9 2113.2L1444.0 2123.2ZM1493.6 2118.4L1466.0 2115.3L1463.2 2119.9L1439.2 2110.8L1470.3 2108.1L1467.5 2112.7L1495.1 2115.9ZM1536.2 2118.0L1508.4 2115.3L1506.0 2120.0L1481.2 2111.3L1512.0 2108.0L1509.6 2112.7L1537.5 2115.4ZM1578.8 2117.5L1550.7 2115.3L1548.8 2120.0L1523.2 2111.8L1553.7 2108.0L1551.8 2112.7L1579.8 2115.0ZM226.8 2138.4L200.4 2143.1L204.5 2147.6L172.8 2146.6L194.0 2136.2L198.1 2140.7L224.6 2136.0ZM269.0 2138.4L242.6 2143.1L246.7 2147.6L215.1 2146.6L236.3 2136.2L240.4 2140.7L266.8 2136.0ZM311.3 2138.4L284.9 2143.1L289.0 2147.6L257.3 2146.6L278.5 2136.2L282.6 2140.7L309.1 2136.0ZM353.5 2138.4L327.1 2143.1L331.2 2147.6L299.6 2146.6L320.8 2136.2L324.9 2140.7L351.3 2136.0ZM514.7 2132.8L497.4 2142.7L506.1 2145.6L477.6 2151.8L483.9 2138.2L492.6 2141.1L510.0 2131.2ZM549.6 2130.6L540.0 2142.3L550.4 2143.9L527.7 2153.7L524.1 2139.9L534.5 2141.5L544.0 2129.7ZM590.4 2130.3L582.3 2142.3L592.9 2143.6L571.4 2153.9L566.1 2140.2L576.7 2141.5L584.7 2129.5ZM628.2 2129.7L624.7 2142.1L635.6 2142.7L618.2 2154.3L607.9 2141.1L618.8 2141.7L622.3 2129.3ZM664.2 2129.3L667.0 2141.8L677.9 2141.3L666.8 2154.3L650.1 2142.5L661.0 2142.0L658.3 2129.6ZM703.2 2129.4L709.1 2141.6L719.9 2140.6L712.2 2154.1L692.6 2143.2L703.4 2142.2L697.4 2129.9ZM742.1 2129.7L751.3 2141.5L761.7 2139.9L757.7 2153.7L735.3 2143.9L745.7 2142.3L736.5 2130.5ZM776.5 2131.0L793.2 2141.1L802.1 2138.3L807.4 2152.0L779.4 2145.5L788.3 2142.7L771.7 2132.5ZM818.2 2131.1L835.4 2141.1L844.1 2138.2L850.2 2151.9L821.9 2145.6L830.6 2142.7L813.5 2132.7ZM853.7 2133.6L877.0 2140.8L883.3 2136.9L898.5 2149.1L867.2 2146.9L873.5 2143.0L850.3 2135.8ZM895.1 2134.0L919.1 2140.8L925.1 2136.7L941.5 2148.7L909.9 2147.1L915.9 2143.0L891.9 2136.2ZM1396.4 2152.8L1379.8 2142.7L1370.9 2145.5L1365.7 2131.7L1393.6 2138.3L1384.7 2141.1L1401.2 2151.3ZM1438.6 2152.8L1422.1 2142.7L1413.1 2145.5L1407.9 2131.7L1435.9 2138.3L1426.9 2141.1L1443.5 2151.3ZM1483.6 2152.1L1464.5 2142.8L1456.4 2146.0L1447.7 2132.6L1477.1 2137.8L1469.0 2141.0L1488.0 2150.3ZM1526.2 2151.9L1506.8 2142.8L1498.8 2146.1L1489.6 2132.7L1519.2 2137.7L1511.2 2141.0L1530.6 2150.2ZM226.8 2166.3L200.4 2171.0L204.5 2175.5L172.8 2174.5L194.0 2164.1L198.1 2168.6L224.6 2163.9ZM269.0 2166.3L242.6 2171.0L246.7 2175.5L215.1 2174.5L236.3 2164.1L240.4 2168.6L266.8 2163.9ZM311.3 2166.3L284.9 2171.0L289.0 2175.5L257.3 2174.5L278.5 2164.1L282.6 2168.6L309.1 2163.9ZM353.5 2166.3L327.1 2171.0L331.2 2175.5L299.6 2174.5L320.8 2164.1L324.9 2168.6L351.3 2163.9ZM625.8 2157.4L624.7 2169.9L635.7 2170.0L620.6 2182.3L607.8 2169.6L618.8 2169.7L619.9 2157.3ZM662.1 2157.3L666.9 2169.6L677.8 2168.8L668.8 2182.1L650.2 2170.8L661.1 2170.0L656.3 2157.7ZM699.0 2157.6L709.0 2169.3L719.3 2167.6L716.3 2181.5L693.2 2172.0L703.5 2170.3L693.5 2158.6ZM740.2 2157.8L751.2 2169.3L761.4 2167.4L759.5 2181.3L735.6 2172.2L745.8 2170.3L734.8 2158.8ZM775.1 2159.3L793.1 2169.0L801.6 2165.9L808.7 2179.5L779.9 2173.7L788.4 2170.6L770.5 2160.9ZM817.2 2159.3L835.3 2169.0L843.8 2165.9L851.1 2179.5L822.2 2173.7L830.7 2170.6L812.7 2161.0ZM852.5 2162.1L876.8 2168.7L882.6 2164.6L899.5 2176.4L867.9 2175.0L873.7 2170.9L849.4 2164.4ZM894.7 2162.2L919.0 2168.7L924.8 2164.6L941.8 2176.3L910.2 2175.0L916.0 2170.9L891.6 2164.4ZM932.7 2165.6L960.4 2168.5L963.0 2163.8L987.5 2172.7L956.5 2175.8L959.1 2171.1L931.3 2168.1ZM975.0 2165.6L1002.7 2168.5L1005.3 2163.8L1029.7 2172.7L998.7 2175.8L1001.3 2171.1L973.6 2168.2ZM1017.2 2165.6L1044.9 2168.5L1047.5 2163.8L1072.0 2172.7L1041.0 2175.8L1043.6 2171.1L1015.8 2168.2ZM1387.8 2182.1L1379.4 2170.2L1368.9 2171.6L1373.9 2157.9L1395.6 2168.0L1385.1 2169.4L1393.5 2181.4ZM1430.0 2182.1L1421.7 2170.2L1411.2 2171.6L1416.1 2157.9L1437.8 2168.0L1427.3 2169.4L1435.7 2181.4ZM1472.3 2182.1L1463.9 2170.2L1453.4 2171.6L1458.4 2157.9L1480.1 2168.0L1469.6 2169.4L1478.0 2181.4ZM269.1 2194.2L242.6 2198.9L246.7 2203.4L215.1 2202.4L236.3 2192.0L240.4 2196.5L266.8 2191.8ZM311.3 2194.2L284.9 2198.9L289.0 2203.4L257.3 2202.4L278.5 2192.0L282.6 2196.5L309.1 2191.8ZM353.5 2194.2L327.1 2198.9L331.2 2203.4L299.6 2202.4L320.8 2192.0L324.9 2196.5L351.3 2191.8ZM697.5 2185.7L709.0 2197.2L719.0 2195.2L717.7 2209.1L693.5 2200.2L703.5 2198.2L692.1 2186.8ZM739.8 2185.7L751.2 2197.2L761.3 2195.2L759.9 2209.1L735.7 2200.2L745.8 2198.2L734.3 2186.8ZM774.9 2187.2L793.0 2196.9L801.5 2193.8L808.9 2207.3L780.0 2201.6L788.5 2198.5L770.3 2188.9ZM817.2 2187.2L835.3 2196.9L843.8 2193.8L851.1 2207.3L822.2 2201.6L830.7 2198.5L812.6 2188.9ZM852.5 2190.1L876.8 2196.6L882.5 2192.5L899.6 2204.2L868.0 2202.9L873.7 2198.8L849.4 2192.3ZM894.7 2190.1L919.0 2196.6L924.8 2192.5L941.8 2204.2L910.2 2202.9L916.0 2198.8L891.6 2192.3ZM932.7 2193.5L960.4 2196.4L963.0 2191.7L987.5 2200.6L956.5 2203.7L959.1 2199.0L931.3 2196.1ZM975.0 2193.5L1002.7 2196.4L1005.3 2191.7L1029.7 2200.6L998.7 2203.7L1001.3 2199.0L973.6 2196.1ZM1017.2 2193.5L1044.9 2196.4L1047.5 2191.7L1072.0 2200.6L1041.0 2203.7L1043.6 2199.0L1015.8 2196.1ZM687.1 2216.3L708.2 2224.6L715.6 2221.0L727.4 2234.0L696.9 2230.2L704.3 2226.6L683.1 2218.2ZM730.7 2215.7L750.6 2224.7L758.5 2221.3L768.4 2234.6L738.5 2229.9L746.4 2226.5L726.5 2217.6ZM770.7 2216.6L792.6 2224.6L799.7 2220.9L812.7 2233.6L781.8 2230.3L788.9 2226.6L766.9 2218.6ZM813.3 2216.5L834.9 2224.6L842.1 2221.0L854.6 2233.8L823.9 2230.2L831.1 2226.6L809.5 2218.4ZM852.5 2218.0L876.8 2224.5L882.5 2220.4L899.6 2232.1L868.0 2230.8L873.7 2226.7L849.4 2220.2ZM894.7 2218.0L919.0 2224.5L924.8 2220.4L941.8 2232.1L910.2 2230.8L916.0 2226.7L891.6 2220.2ZM934.3 2219.8L960.8 2224.4L964.9 2219.9L986.3 2230.2L954.6 2231.3L958.7 2226.8L932.1 2222.2ZM265.8 2260.1L240.2 2254.7L235.4 2259.0L215.9 2248.0L247.6 2248.0L242.8 2252.3L268.4 2257.8ZM308.0 2260.2L282.4 2254.7L277.6 2259.0L258.2 2248.0L289.9 2248.0L285.1 2252.3L310.6 2257.9ZM352.9 2257.8L325.3 2254.8L322.6 2259.4L298.4 2250.4L329.4 2247.6L326.7 2252.2L354.4 2255.3ZM551.9 2250.2L580.0 2252.2L581.8 2247.5L607.6 2255.5L577.2 2259.5L579.0 2254.8L550.9 2252.8ZM593.8 2250.8L622.1 2252.2L623.4 2247.4L650.1 2255.0L620.1 2259.6L621.4 2254.8L593.1 2253.3ZM636.1 2250.6L664.4 2252.2L665.7 2247.4L692.3 2255.1L662.3 2259.6L663.6 2254.8L635.4 2253.2ZM263.4 2289.5L239.8 2282.5L233.7 2286.5L217.9 2274.4L249.3 2276.3L243.2 2280.3L266.8 2287.3ZM305.7 2289.5L282.1 2282.5L275.9 2286.5L260.2 2274.4L291.6 2276.3L285.4 2280.3L309.0 2287.3ZM352.8 2285.8L325.2 2282.7L322.4 2287.3L298.4 2278.2L329.6 2275.5L326.8 2280.1L354.3 2283.3ZM396.0 2284.5L367.8 2282.7L366.2 2287.5L340.0 2279.6L370.3 2275.3L368.7 2280.1L396.9 2281.9ZM438.5 2284.1L410.2 2282.7L408.9 2287.5L382.2 2280.0L412.1 2275.3L410.8 2280.1L439.2 2281.6ZM593.3 2280.1L621.8 2280.1L621.8 2275.3L650.2 2281.4L621.7 2287.5L621.7 2282.7L593.2 2282.7ZM635.5 2280.1L664.0 2280.1L664.0 2275.3L692.5 2281.4L664.0 2287.5L664.0 2282.7L635.5 2282.7ZM305.0 2317.7L282.0 2310.4L275.5 2314.3L260.7 2301.9L292.0 2304.3L285.5 2308.2L308.5 2315.6ZM353.9 2312.2L325.6 2310.6L324.2 2315.4L297.7 2307.7L327.8 2303.2L326.4 2308.0L354.6 2309.6ZM396.3 2312.0L367.9 2310.6L366.7 2315.4L339.9 2307.9L369.8 2303.2L368.6 2308.0L396.9 2309.4ZM438.5 2311.9L410.2 2310.6L409.1 2315.4L382.1 2308.0L411.9 2303.2L410.8 2308.0L439.2 2309.3ZM480.8 2311.9L452.5 2310.6L451.3 2315.4L424.4 2308.0L454.2 2303.2L453.0 2308.0L481.4 2309.3ZM593.2 2308.0L621.7 2308.0L621.7 2303.2L650.2 2309.3L621.8 2315.4L621.8 2310.6L593.3 2310.6ZM635.5 2308.0L664.0 2308.0L664.0 2303.2L692.5 2309.3L664.0 2315.4L664.0 2310.6L635.5 2310.6ZM396.2 2339.9L367.9 2338.5L366.7 2343.3L339.9 2335.8L369.8 2331.1L368.6 2335.9L396.9 2337.3ZM438.5 2339.8L410.2 2338.5L409.0 2343.3L382.2 2335.9L412.0 2331.1L410.8 2335.9L439.2 2337.2ZM480.8 2339.8L452.4 2338.5L451.3 2343.3L424.4 2335.9L454.2 2331.1L453.1 2335.9L481.4 2337.2ZM1703.5 2331.4L1679.6 2338.3L1685.6 2342.3L1654.1 2344.0L1670.4 2332.1L1676.4 2336.1L1700.2 2329.3ZM1661.2 2359.3L1637.4 2366.2L1643.4 2370.2L1611.9 2371.9L1628.1 2360.0L1634.1 2364.0L1658.0 2357.2ZM1703.5 2359.3L1679.6 2366.2L1685.6 2370.2L1654.1 2371.9L1670.4 2360.0L1676.4 2364.0L1700.2 2357.2ZM902.9 2396.3L874.8 2394.3L873.1 2399.0L847.1 2391.0L877.4 2387.0L875.7 2391.7L903.9 2393.7ZM945.2 2396.3L917.0 2394.3L915.3 2399.0L889.4 2391.0L919.7 2387.0L918.0 2391.7L946.1 2393.7ZM1661.2 2387.2L1637.4 2394.1L1643.4 2398.1L1611.9 2399.8L1628.1 2387.9L1634.1 2391.9L1658.0 2385.1ZM1703.5 2387.2L1679.6 2394.1L1685.6 2398.1L1654.1 2399.8L1670.4 2387.9L1676.4 2391.9L1700.2 2385.1ZM680.4 2426.3L704.7 2419.8L699.0 2415.7L730.6 2414.4L713.5 2426.1L707.8 2422.0L683.5 2428.5ZM902.9 2424.1L874.8 2422.2L873.1 2426.9L847.1 2418.9L877.4 2414.9L875.7 2419.6L903.9 2421.6ZM945.2 2424.2L917.0 2422.2L915.3 2426.9L889.4 2418.9L919.7 2414.9L918.0 2419.6L946.1 2421.6ZM1661.2 2415.1L1637.4 2422.0L1643.4 2426.0L1611.9 2427.7L1628.1 2415.8L1634.1 2419.8L1658.0 2413.0ZM1703.5 2415.1L1679.6 2422.0L1685.6 2426.0L1654.1 2427.7L1670.4 2415.8L1676.4 2419.8L1700.2 2413.0ZM680.4 2454.2L704.7 2447.7L699.0 2443.6L730.6 2442.3L713.5 2454.0L707.8 2449.9L683.5 2456.4ZM810.2 2441.2L834.5 2447.7L840.3 2443.6L857.3 2455.3L825.7 2454.0L831.5 2449.9L807.1 2443.4ZM1280.1 2458.7L1295.2 2448.1L1285.9 2445.6L1312.9 2438.2L1309.6 2452.0L1300.3 2449.5L1285.1 2460.1ZM1661.2 2443.0L1637.4 2449.9L1643.4 2453.9L1611.9 2455.6L1628.1 2443.7L1634.1 2447.7L1658.0 2440.9ZM1703.5 2443.0L1679.6 2449.9L1685.6 2453.9L1654.1 2455.6L1670.4 2443.7L1676.4 2447.7L1700.2 2440.9ZM681.6 2020.1L666.5 2030.7L675.8 2033.3L648.9 2040.6L652.2 2026.7L661.5 2029.3L676.6 2018.7ZM723.6 2020.1L708.5 2030.7L717.8 2033.3L690.9 2040.6L694.2 2026.7L703.5 2029.3L718.6 2018.7ZM765.6 2020.1L750.5 2030.7L759.8 2033.3L732.9 2040.6L736.2 2026.7L745.5 2029.3L760.6 2018.7ZM807.6 2020.1L792.5 2030.7L801.8 2033.3L774.9 2040.6L778.2 2026.7L787.5 2029.3L802.6 2018.7ZM738.7 2405.3L742.1 2392.8L731.1 2392.3L748.3 2380.6L758.9 2393.7L747.9 2393.2L744.6 2405.6ZM738.7 2433.3L742.1 2420.8L731.1 2420.3L748.3 2408.6L758.9 2421.7L747.9 2421.2L744.6 2433.6ZM738.7 2461.3L742.1 2448.8L731.1 2448.3L748.3 2436.6L758.9 2449.7L747.9 2449.2L744.6 2461.6ZM480.7 2369.3L452.5 2367.3L450.8 2372.0L424.9 2364.0L455.2 2360.0L453.5 2364.7L481.6 2366.7ZM521.2 2371.1L494.1 2367.2L490.7 2371.8L467.9 2362.2L499.3 2360.2L495.9 2364.8L523.0 2368.6ZM504.9 2403.7L487.6 2393.8L478.9 2396.7L472.8 2383.0L501.1 2389.3L492.4 2392.2L509.6 2402.2ZM497.8 2433.5L492.1 2421.3L481.3 2422.2L489.3 2408.8L508.7 2419.8L497.9 2420.7L503.6 2433.0ZM1664.2 2116.3L1635.8 2115.3L1634.9 2120.1L1607.6 2113.0L1637.1 2107.9L1636.2 2112.7L1664.6 2113.7ZM1706.2 2116.3L1677.8 2115.3L1676.9 2120.1L1649.6 2113.0L1679.1 2107.9L1678.2 2112.7L1706.6 2113.7ZM1748.2 2116.3L1719.8 2115.3L1718.9 2120.1L1691.6 2113.0L1721.1 2107.9L1720.2 2112.7L1748.6 2113.7ZM1706.2 2144.3L1677.8 2143.3L1676.9 2148.1L1649.6 2141.0L1679.1 2135.9L1678.2 2140.7L1706.6 2141.7ZM1748.2 2144.3L1719.8 2143.3L1718.9 2148.1L1691.6 2141.0L1721.1 2135.9L1720.2 2140.7L1748.6 2141.7ZM1748.2 2172.3L1719.8 2171.3L1718.9 2176.1L1691.6 2169.0L1721.1 2163.9L1720.2 2168.7L1748.6 2169.7ZM1176.5 2196.7L1205.0 2196.7L1205.0 2191.9L1233.5 2198.0L1205.0 2204.1L1205.0 2199.3L1176.5 2199.3ZM1137.7 2220.1L1164.1 2224.8L1168.2 2220.3L1189.4 2230.7L1157.8 2231.7L1161.9 2227.2L1135.5 2222.5ZM1179.7 2220.1L1206.1 2224.8L1210.2 2220.3L1231.4 2230.7L1199.8 2231.7L1203.9 2227.2L1177.5 2222.5ZM1018.3 2401.2L1037.8 2392.1L1029.8 2388.8L1059.5 2383.9L1050.2 2397.2L1042.2 2393.9L1022.6 2403.0ZM1103.3 2401.2L1122.8 2392.1L1114.8 2388.8L1144.5 2383.9L1135.2 2397.2L1127.2 2393.9L1107.6 2403.0ZM1058.2 2428.0L1080.1 2420.0L1073.1 2416.3L1103.9 2413.0L1090.9 2425.7L1083.9 2422.0L1062.0 2430.0ZM1103.3 2429.2L1122.8 2420.1L1114.8 2416.8L1144.5 2411.9L1135.2 2425.2L1127.2 2421.9L1107.6 2431.0ZM1318.5 2363.8L1290.6 2366.3L1292.7 2371.0L1262.1 2367.4L1287.3 2359.0L1289.4 2363.7L1317.4 2361.3ZM1431.0 2372.5L1452.0 2364.0L1444.5 2360.5L1475.0 2356.5L1463.5 2369.5L1456.0 2366.0L1435.0 2374.4ZM1434.4 2402.2L1451.6 2392.2L1442.9 2389.3L1471.2 2383.0L1465.1 2396.7L1456.4 2393.8L1439.1 2403.7ZM1446.1 2433.1L1451.1 2420.8L1440.2 2419.9L1459.0 2408.7L1467.8 2422.1L1456.9 2421.2L1451.9 2433.5ZM1562.6 2438.1L1547.5 2448.7L1556.8 2451.3L1529.9 2458.6L1533.2 2444.7L1542.5 2447.3L1557.6 2436.7ZM982.1 1963.3L999.4 1973.2L1008.1 1970.3L1014.2 1984.0L985.9 1977.7L994.6 1974.8L977.4 1964.8ZM1025.1 1963.3L1042.4 1973.2L1051.1 1970.3L1057.2 1984.0L1028.9 1977.7L1037.6 1974.8L1020.4 1964.8ZM1067.1 1963.3L1084.4 1973.2L1093.1 1970.3L1099.2 1984.0L1070.9 1977.7L1079.6 1974.8L1062.4 1964.8ZM853.8 2303.0L831.9 2311.0L838.9 2314.7L808.1 2318.0L821.1 2305.3L828.1 2309.0L850.0 2301.0ZM858.0 2363.4L830.9 2367.2L834.3 2371.8L802.9 2369.8L825.7 2360.2L829.1 2364.8L856.2 2360.9ZM1613.2 2287.1L1586.1 2283.2L1582.7 2287.8L1559.9 2278.2L1591.3 2276.2L1587.9 2280.8L1615.0 2284.6ZM503.2 2158.9L492.8 2170.5L503.0 2172.2L479.5 2181.6L477.0 2167.8L487.2 2169.5L497.7 2157.9ZM1018.3 2373.2L1037.8 2364.1L1029.8 2360.8L1059.5 2355.9L1050.2 2369.2L1042.2 2365.9L1022.6 2375.0ZM676.5 2476.7L705.0 2476.7L705.0 2471.9L733.5 2478.0L705.0 2484.1L705.0 2479.3L676.5 2479.3Z"/>
<path fill="#fff" fill-opacity="0.52" d="M189 1806L744.4 1806.5L735.0 1809.3L725.7 1812.1L716.6 1814.9L707.7 1817.7L698.9 1820.5L690.2 1823.3L681.7 1826.1L673.4 1829.0L665.2 1831.8L657.1 1834.6L649.2 1837.4L641.4 1840.2L633.8 1843.0L626.2 1845.8L618.8 1848.6L611.6 1851.4L604.5 1854.2L597.4 1857.0L590.5 1859.8L583.8 1862.6L577.1 1865.4L570.6 1868.3L564.1 1871.1L557.8 1873.9L551.6 1876.7L545.5 1879.5L539.5 1882.3L533.6 1885.1L527.8 1887.9L522.2 1890.7L516.6 1893.5L511.1 1896.3L505.7 1899.1L500.4 1901.9L495.1 1904.7L490.0 1907.6L485.0 1910.4L480.0 1913.2L475.2 1916.0L470.4 1918.8L465.7 1921.6L461.1 1924.4L456.5 1927.2L452.1 1930.0L447.7 1932.8L443.4 1935.6L439.2 1938.4L435.0 1941.2L430.9 1944.0L426.9 1946.9L423.0 1949.7L419.1 1952.5L415.3 1955.3L411.5 1958.1L407.8 1960.9L404.2 1963.7L400.7 1966.5L397.2 1969.3L393.8 1972.1L390.4 1974.9L387.1 1977.7L383.8 1980.5L380.6 1983.3L377.5 1986.2L374.4 1989.0L371.3 1991.8L368.4 1994.6L365.4 1997.4L362.5 2000.2L359.7 2003.0L356.9 2005.8L354.2 2008.6L351.5 2011.4L348.9 2014.2L346.3 2017.0L343.7 2019.8L341.2 2022.6L338.8 2025.5L336.3 2028.3L334.0 2031.1L331.6 2033.9L329.3 2036.7L327.1 2039.5L324.9 2042.3L322.7 2045.1L320.5 2047.9L318.4 2050.7L316.4 2053.5L314.3 2056.3L312.3 2059.1L310.4 2061.9L308.5 2064.8L306.6 2067.6L304.7 2070.4L302.9 2073.2L301.1 2076.0L299.3 2078.8L297.6 2081.6L295.9 2084.4L294.2 2087.2L292.6 2090.0L290.9 2092.8L289.3 2095.6L287.8 2098.4L286.3 2101.2L284.7 2104.1L283.3 2106.9L281.8 2109.7L280.4 2112.5L279.0 2115.3L277.6 2118.1L276.2 2120.9L274.9 2123.7L273.6 2126.5L272.3 2129.3L271.0 2132.1L269.8 2134.9L268.6 2137.7L267.4 2140.5L266.2 2143.4L265.0 2146.2L263.9 2149.0L262.8 2151.8L261.7 2154.6L260.6 2157.4L259.6 2160.2L258.5 2163.0L257.5 2165.8L256.5 2168.6L255.5 2171.4L254.5 2174.2L253.6 2177.0L252.6 2179.8L251.7 2182.7L250.8 2185.5L249.9 2188.3L249.1 2191.1L248.2 2193.9L247.4 2196.7L246.5 2199.5L245.7 2202.3L244.9 2205.1L244.1 2207.9L243.4 2210.7L242.6 2213.5L241.9 2216.3L241.1 2219.1L240.4 2222.0L239.7 2224.8L239.0 2227.6L238.3 2230.4L237.7 2233.2L237.0 2236.0L236.4 2238.8L235.7 2241.6L235.1 2244.4L234.5 2247.2L233.9 2250.0L233.3 2252.8L232.7 2255.6L232.2 2258.4L231.6 2261.3L231.0 2264.1L230.5 2266.9L230.0 2269.7L229.5 2272.5L228.9 2275.3L228.4 2278.1L228.0 2280.9L227.5 2283.7L227.0 2286.5L226.5 2289.3L226.1 2292.1L225.6 2294.9L225.2 2297.7L224.7 2300.6L224.3 2303.4L223.9 2306.2L223.5 2309.0L223.1 2311.8L222.7 2314.6L222.3 2317.4L221.9 2320.2L221.5 2323.0L221.2 2325.8L220.8 2328.6L220.4 2331.4L220.1 2334.2L219.7 2337.0L219.4 2339.9L219.1 2342.7L218.8 2345.5L218.4 2348.3L218.1 2351.1L217.8 2353.9L217.5 2356.7L217.2 2359.5L216.9 2362.3L216.6 2365.1L216.4 2367.9L216.1 2370.7L215.8 2373.5L215.5 2376.3L215.3 2379.2L215.0 2382.0L214.8 2384.8L214.5 2387.6L214.3 2390.4L214.0 2393.2L213.8 2396.0L213.6 2398.8L213.4 2401.6L213.1 2404.4L212.9 2407.2L212.7 2410.0L212.5 2412.8L212.3 2415.6L212.1 2418.5L211.9 2421.3L211.7 2424.1L211.5 2426.9L211.3 2429.7L211.1 2432.5L211.0 2435.3L210.8 2438.1L210.6 2440.9L210.5 2443.7L210.3 2446.5L210.1 2449.3L210.0 2452.1L209.8 2454.9L209.7 2457.8L209.5 2460.6L209.4 2463.4L209.2 2466.2L209.1 2469.0L208.9 2471.8L208.8 2474.6L208.6 2477.4L189 2477ZM1729 1806L1178.6 1806.5L1188.0 1809.3L1197.3 1812.1L1206.4 1814.9L1215.3 1817.7L1224.1 1820.5L1232.8 1823.3L1241.3 1826.1L1249.6 1829.0L1257.8 1831.8L1265.9 1834.6L1273.8 1837.4L1281.6 1840.2L1289.2 1843.0L1296.8 1845.8L1304.2 1848.6L1311.4 1851.4L1318.5 1854.2L1325.6 1857.0L1332.5 1859.8L1339.2 1862.6L1345.9 1865.4L1352.4 1868.3L1358.9 1871.1L1365.2 1873.9L1371.4 1876.7L1377.5 1879.5L1383.5 1882.3L1389.4 1885.1L1395.2 1887.9L1400.8 1890.7L1406.4 1893.5L1411.9 1896.3L1417.3 1899.1L1422.6 1901.9L1427.9 1904.7L1433.0 1907.6L1438.0 1910.4L1443.0 1913.2L1447.8 1916.0L1452.6 1918.8L1457.3 1921.6L1461.9 1924.4L1466.5 1927.2L1470.9 1930.0L1475.3 1932.8L1479.6 1935.6L1483.8 1938.4L1488.0 1941.2L1492.1 1944.0L1496.1 1946.9L1500.0 1949.7L1503.9 1952.5L1507.7 1955.3L1511.5 1958.1L1515.2 1960.9L1518.8 1963.7L1522.3 1966.5L1525.8 1969.3L1529.2 1972.1L1532.6 1974.9L1535.9 1977.7L1539.2 1980.5L1542.4 1983.3L1545.5 1986.2L1548.6 1989.0L1551.7 1991.8L1554.6 1994.6L1557.6 1997.4L1560.5 2000.2L1563.3 2003.0L1566.1 2005.8L1568.8 2008.6L1571.5 2011.4L1574.1 2014.2L1576.7 2017.0L1579.3 2019.8L1581.8 2022.6L1584.2 2025.5L1586.7 2028.3L1589.0 2031.1L1591.4 2033.9L1593.7 2036.7L1595.9 2039.5L1598.1 2042.3L1600.3 2045.1L1602.5 2047.9L1604.6 2050.7L1606.6 2053.5L1608.7 2056.3L1610.7 2059.1L1612.6 2061.9L1614.5 2064.8L1616.4 2067.6L1618.3 2070.4L1620.1 2073.2L1621.9 2076.0L1623.7 2078.8L1625.4 2081.6L1627.1 2084.4L1628.8 2087.2L1630.4 2090.0L1632.1 2092.8L1633.7 2095.6L1635.2 2098.4L1636.7 2101.2L1638.3 2104.1L1639.7 2106.9L1641.2 2109.7L1642.6 2112.5L1644.0 2115.3L1645.4 2118.1L1646.8 2120.9L1648.1 2123.7L1649.4 2126.5L1650.7 2129.3L1652.0 2132.1L1653.2 2134.9L1654.4 2137.7L1655.6 2140.5L1656.8 2143.4L1658.0 2146.2L1659.1 2149.0L1660.2 2151.8L1661.3 2154.6L1662.4 2157.4L1663.4 2160.2L1664.5 2163.0L1665.5 2165.8L1666.5 2168.6L1667.5 2171.4L1668.5 2174.2L1669.4 2177.0L1670.4 2179.8L1671.3 2182.7L1672.2 2185.5L1673.1 2188.3L1673.9 2191.1L1674.8 2193.9L1675.6 2196.7L1676.5 2199.5L1677.3 2202.3L1678.1 2205.1L1678.9 2207.9L1679.6 2210.7L1680.4 2213.5L1681.1 2216.3L1681.9 2219.1L1682.6 2222.0L1683.3 2224.8L1684.0 2227.6L1684.7 2230.4L1685.3 2233.2L1686.0 2236.0L1686.6 2238.8L1687.3 2241.6L1687.9 2244.4L1688.5 2247.2L1689.1 2250.0L1689.7 2252.8L1690.3 2255.6L1690.8 2258.4L1691.4 2261.3L1692.0 2264.1L1692.5 2266.9L1693.0 2269.7L1693.5 2272.5L1694.1 2275.3L1694.6 2278.1L1695.0 2280.9L1695.5 2283.7L1696.0 2286.5L1696.5 2289.3L1696.9 2292.1L1697.4 2294.9L1697.8 2297.7L1698.3 2300.6L1698.7 2303.4L1699.1 2306.2L1699.5 2309.0L1699.9 2311.8L1700.3 2314.6L1700.7 2317.4L1701.1 2320.2L1701.5 2323.0L1701.8 2325.8L1702.2 2328.6L1702.6 2331.4L1702.9 2334.2L1703.3 2337.0L1703.6 2339.9L1703.9 2342.7L1704.2 2345.5L1704.6 2348.3L1704.9 2351.1L1705.2 2353.9L1705.5 2356.7L1705.8 2359.5L1706.1 2362.3L1706.4 2365.1L1706.6 2367.9L1706.9 2370.7L1707.2 2373.5L1707.5 2376.3L1707.7 2379.2L1708.0 2382.0L1708.2 2384.8L1708.5 2387.6L1708.7 2390.4L1709.0 2393.2L1709.2 2396.0L1709.4 2398.8L1709.6 2401.6L1709.9 2404.4L1710.1 2407.2L1710.3 2410.0L1710.5 2412.8L1710.7 2415.6L1710.9 2418.5L1711.1 2421.3L1711.3 2424.1L1711.5 2426.9L1711.7 2429.7L1711.9 2432.5L1712.0 2435.3L1712.2 2438.1L1712.4 2440.9L1712.5 2443.7L1712.7 2446.5L1712.9 2449.3L1713.0 2452.1L1713.2 2454.9L1713.3 2457.8L1713.5 2460.6L1713.6 2463.4L1713.8 2466.2L1713.9 2469.0L1714.1 2471.8L1714.2 2474.6L1714.4 2477.4L1729 2477Z"/>
<path fill="none" stroke="#fff" stroke-width="8" stroke-dasharray="39 38" stroke-dashoffset="-71.9" d="M208.6 2477.4L208.8 2474.6L208.9 2471.8L209.1 2469.0L209.2 2466.2L209.4 2463.4L209.5 2460.6L209.7 2457.8L209.8 2454.9L210.0 2452.1L210.1 2449.3L210.3 2446.5L210.5 2443.7L210.6 2440.9L210.8 2438.1L211.0 2435.3L211.1 2432.5L211.3 2429.7L211.5 2426.9L211.7 2424.1L211.9 2421.3L212.1 2418.5L212.3 2415.6L212.5 2412.8L212.7 2410.0L212.9 2407.2L213.1 2404.4L213.4 2401.6L213.6 2398.8L213.8 2396.0L214.0 2393.2L214.3 2390.4L214.5 2387.6L214.8 2384.8L215.0 2382.0L215.3 2379.2L215.5 2376.3L215.8 2373.5L216.1 2370.7L216.4 2367.9L216.6 2365.1L216.9 2362.3L217.2 2359.5L217.5 2356.7L217.8 2353.9L218.1 2351.1L218.4 2348.3L218.8 2345.5L219.1 2342.7L219.4 2339.9L219.7 2337.0L220.1 2334.2L220.4 2331.4L220.8 2328.6L221.2 2325.8L221.5 2323.0L221.9 2320.2L222.3 2317.4L222.7 2314.6L223.1 2311.8L223.5 2309.0L223.9 2306.2L224.3 2303.4L224.7 2300.6L225.2 2297.7L225.6 2294.9L226.1 2292.1L226.5 2289.3L227.0 2286.5L227.5 2283.7L228.0 2280.9L228.4 2278.1L228.9 2275.3L229.5 2272.5L230.0 2269.7L230.5 2266.9L231.0 2264.1L231.6 2261.3L232.2 2258.4L232.7 2255.6L233.3 2252.8L233.9 2250.0L234.5 2247.2L235.1 2244.4L235.7 2241.6L236.4 2238.8L237.0 2236.0L237.7 2233.2L238.3 2230.4L239.0 2227.6L239.7 2224.8L240.4 2222.0L241.1 2219.1L241.9 2216.3L242.6 2213.5L243.4 2210.7L244.1 2207.9L244.9 2205.1L245.7 2202.3L246.5 2199.5L247.4 2196.7L248.2 2193.9L249.1 2191.1L249.9 2188.3L250.8 2185.5L251.7 2182.7L252.6 2179.8L253.6 2177.0L254.5 2174.2L255.5 2171.4L256.5 2168.6L257.5 2165.8L258.5 2163.0L259.6 2160.2L260.6 2157.4L261.7 2154.6L262.8 2151.8L263.9 2149.0L265.0 2146.2L266.2 2143.4L267.4 2140.5L268.6 2137.7L269.8 2134.9L271.0 2132.1L272.3 2129.3L273.6 2126.5L274.9 2123.7L276.2 2120.9L277.6 2118.1L279.0 2115.3L280.4 2112.5L281.8 2109.7L283.3 2106.9L284.7 2104.1L286.3 2101.2L287.8 2098.4L289.3 2095.6L290.9 2092.8L292.6 2090.0L294.2 2087.2L295.9 2084.4L297.6 2081.6L299.3 2078.8L301.1 2076.0L302.9 2073.2L304.7 2070.4L306.6 2067.6L308.5 2064.8L310.4 2061.9L312.3 2059.1L314.3 2056.3L316.4 2053.5L318.4 2050.7L320.5 2047.9L322.7 2045.1L324.9 2042.3L327.1 2039.5L329.3 2036.7L331.6 2033.9L334.0 2031.1L336.3 2028.3L338.8 2025.5L341.2 2022.6L343.7 2019.8L346.3 2017.0L348.9 2014.2L351.5 2011.4L354.2 2008.6L356.9 2005.8L359.7 2003.0L362.5 2000.2L365.4 1997.4L368.4 1994.6L371.3 1991.8L374.4 1989.0L377.5 1986.2L380.6 1983.3L383.8 1980.5L387.1 1977.7L390.4 1974.9L393.8 1972.1L397.2 1969.3L400.7 1966.5L404.2 1963.7L407.8 1960.9L411.5 1958.1L415.3 1955.3L419.1 1952.5L423.0 1949.7L426.9 1946.9L430.9 1944.0L435.0 1941.2L439.2 1938.4L443.4 1935.6L447.7 1932.8L452.1 1930.0L456.5 1927.2L461.1 1924.4L465.7 1921.6L470.4 1918.8L475.2 1916.0L480.0 1913.2L485.0 1910.4L490.0 1907.6L495.1 1904.7L500.4 1901.9L505.7 1899.1L511.1 1896.3L516.6 1893.5L522.2 1890.7L527.8 1887.9L533.6 1885.1L539.5 1882.3L545.5 1879.5L551.6 1876.7L557.8 1873.9L564.1 1871.1L570.6 1868.3L577.1 1865.4L583.8 1862.6L590.5 1859.8L597.4 1857.0L604.5 1854.2L611.6 1851.4L618.8 1848.6L626.2 1845.8L633.8 1843.0L641.4 1840.2L649.2 1837.4L657.1 1834.6L665.2 1831.8L673.4 1829.0L681.7 1826.1L690.2 1823.3L698.9 1820.5L707.7 1817.7L716.6 1814.9L725.7 1812.1L735.0 1809.3L744.4 1806.5"/>
<path fill="none" stroke="#fff" stroke-width="8" stroke-dasharray="39 38" stroke-dashoffset="-10.8" d="M1178.6 1806.5L1188.0 1809.3L1197.3 1812.1L1206.4 1814.9L1215.3 1817.7L1224.1 1820.5L1232.8 1823.3L1241.3 1826.1L1249.6 1829.0L1257.8 1831.8L1265.9 1834.6L1273.8 1837.4L1281.6 1840.2L1289.2 1843.0L1296.8 1845.8L1304.2 1848.6L1311.4 1851.4L1318.5 1854.2L1325.6 1857.0L1332.5 1859.8L1339.2 1862.6L1345.9 1865.4L1352.4 1868.3L1358.9 1871.1L1365.2 1873.9L1371.4 1876.7L1377.5 1879.5L1383.5 1882.3L1389.4 1885.1L1395.2 1887.9L1400.8 1890.7L1406.4 1893.5L1411.9 1896.3L1417.3 1899.1L1422.6 1901.9L1427.9 1904.7L1433.0 1907.6L1438.0 1910.4L1443.0 1913.2L1447.8 1916.0L1452.6 1918.8L1457.3 1921.6L1461.9 1924.4L1466.5 1927.2L1470.9 1930.0L1475.3 1932.8L1479.6 1935.6L1483.8 1938.4L1488.0 1941.2L1492.1 1944.0L1496.1 1946.9L1500.0 1949.7L1503.9 1952.5L1507.7 1955.3L1511.5 1958.1L1515.2 1960.9L1518.8 1963.7L1522.3 1966.5L1525.8 1969.3L1529.2 1972.1L1532.6 1974.9L1535.9 1977.7L1539.2 1980.5L1542.4 1983.3L1545.5 1986.2L1548.6 1989.0L1551.7 1991.8L1554.6 1994.6L1557.6 1997.4L1560.5 2000.2L1563.3 2003.0L1566.1 2005.8L1568.8 2008.6L1571.5 2011.4L1574.1 2014.2L1576.7 2017.0L1579.3 2019.8L1581.8 2022.6L1584.2 2025.5L1586.7 2028.3L1589.0 2031.1L1591.4 2033.9L1593.7 2036.7L1595.9 2039.5L1598.1 2042.3L1600.3 2045.1L1602.5 2047.9L1604.6 2050.7L1606.6 2053.5L1608.7 2056.3L1610.7 2059.1L1612.6 2061.9L1614.5 2064.8L1616.4 2067.6L1618.3 2070.4L1620.1 2073.2L1621.9 2076.0L1623.7 2078.8L1625.4 2081.6L1627.1 2084.4L1628.8 2087.2L1630.4 2090.0L1632.1 2092.8L1633.7 2095.6L1635.2 2098.4L1636.7 2101.2L1638.3 2104.1L1639.7 2106.9L1641.2 2109.7L1642.6 2112.5L1644.0 2115.3L1645.4 2118.1L1646.8 2120.9L1648.1 2123.7L1649.4 2126.5L1650.7 2129.3L1652.0 2132.1L1653.2 2134.9L1654.4 2137.7L1655.6 2140.5L1656.8 2143.4L1658.0 2146.2L1659.1 2149.0L1660.2 2151.8L1661.3 2154.6L1662.4 2157.4L1663.4 2160.2L1664.5 2163.0L1665.5 2165.8L1666.5 2168.6L1667.5 2171.4L1668.5 2174.2L1669.4 2177.0L1670.4 2179.8L1671.3 2182.7L1672.2 2185.5L1673.1 2188.3L1673.9 2191.1L1674.8 2193.9L1675.6 2196.7L1676.5 2199.5L1677.3 2202.3L1678.1 2205.1L1678.9 2207.9L1679.6 2210.7L1680.4 2213.5L1681.1 2216.3L1681.9 2219.1L1682.6 2222.0L1683.3 2224.8L1684.0 2227.6L1684.7 2230.4L1685.3 2233.2L1686.0 2236.0L1686.6 2238.8L1687.3 2241.6L1687.9 2244.4L1688.5 2247.2L1689.1 2250.0L1689.7 2252.8L1690.3 2255.6L1690.8 2258.4L1691.4 2261.3L1692.0 2264.1L1692.5 2266.9L1693.0 2269.7L1693.5 2272.5L1694.1 2275.3L1694.6 2278.1L1695.0 2280.9L1695.5 2283.7L1696.0 2286.5L1696.5 2289.3L1696.9 2292.1L1697.4 2294.9L1697.8 2297.7L1698.3 2300.6L1698.7 2303.4L1699.1 2306.2L1699.5 2309.0L1699.9 2311.8L1700.3 2314.6L1700.7 2317.4L1701.1 2320.2L1701.5 2323.0L1701.8 2325.8L1702.2 2328.6L1702.6 2331.4L1702.9 2334.2L1703.3 2337.0L1703.6 2339.9L1703.9 2342.7L1704.2 2345.5L1704.6 2348.3L1704.9 2351.1L1705.2 2353.9L1705.5 2356.7L1705.8 2359.5L1706.1 2362.3L1706.4 2365.1L1706.6 2367.9L1706.9 2370.7L1707.2 2373.5L1707.5 2376.3L1707.7 2379.2L1708.0 2382.0L1708.2 2384.8L1708.5 2387.6L1708.7 2390.4L1709.0 2393.2L1709.2 2396.0L1709.4 2398.8L1709.6 2401.6L1709.9 2404.4L1710.1 2407.2L1710.3 2410.0L1710.5 2412.8L1710.7 2415.6L1710.9 2418.5L1711.1 2421.3L1711.3 2424.1L1711.5 2426.9L1711.7 2429.7L1711.9 2432.5L1712.0 2435.3L1712.2 2438.1L1712.4 2440.9L1712.5 2443.7L1712.7 2446.5L1712.9 2449.3L1713.0 2452.1L1713.2 2454.9L1713.3 2457.8L1713.5 2460.6L1713.6 2463.4L1713.8 2466.2L1713.9 2469.0L1714.1 2471.8L1714.2 2474.6L1714.4 2477.4"/>
</g>
<rect x="191.4" y="1806.5" width="1535.6" height="670.9" fill="none" stroke="#3a3629" stroke-width="4"/>
<path stroke="#8a8570" stroke-opacity="0.75" stroke-width="1.4" fill="none" d="M191.4 1850.8h13M1727.0 1850.8h-13M191.4 1962.9h13M1727.0 1962.9h-13M191.4 2075.0h13M1727.0 2075.0h-13M191.4 2187.1h13M1727.0 2187.1h-13M191.4 2299.2h13M1727.0 2299.2h-13M191.4 2411.3h13M1727.0 2411.3h-13"/>
<path stroke="#3a3629" stroke-width="1.8" fill="none" d="M502.3 1806.5v10M502.3 2477.4v-10M802.3 1806.5v10M802.3 2477.4v-10M1101.8 1806.5v10M1101.8 2477.4v-10M1401.6 1806.5v10M1401.6 2477.4v-10M1701.5 1806.5v10M1701.5 2477.4v-10"/>
<path stroke="#3a3629" stroke-width="1.5" fill="none" d="M193.4 2479.0v23M252.0 2479.0v23M310.6 2479.0v23M369.2 2479.0v23M427.9 2479.0v23M486.5 2479.0v23M545.1 2479.0v23M603.7 2479.0v23M662.3 2479.0v23M721.0 2479.0v23M779.6 2479.0v23M838.2 2479.0v23M896.8 2479.0v23M955.4 2479.0v23M1014.1 2479.0v23M1072.7 2479.0v23M1131.3 2479.0v23M1189.9 2479.0v23M1248.5 2479.0v23M1307.2 2479.0v23M1365.8 2479.0v23M1424.4 2479.0v23M1483.0 2479.0v23M1541.6 2479.0v23M1600.3 2479.0v23M1658.9 2479.0v23M1713.5 2479.0v23"/>
<text x="270.9" y="2562" text-anchor="middle" font-size="42" font-weight="bold">-500</text>
<text x="553.1" y="2562" text-anchor="middle" font-size="42" font-weight="bold">0</text>
<text x="845.7" y="2562" text-anchor="middle" font-size="42" font-weight="bold">500</text>
<text x="1138.3" y="2559" text-anchor="middle" font-size="42" font-weight="bold">1000</text>
<text x="1449.9" y="2562" text-anchor="middle" font-size="42" font-weight="bold">1500</text>
<text x="1724.1" y="2562" text-anchor="middle" font-size="42" font-weight="bold">2000</text>
<text x="174" y="1869.2" text-anchor="end" font-size="48.5" letter-spacing="-0.7">1024</text>
<text x="174" y="1981.0" text-anchor="end" font-size="48.5" letter-spacing="-0.7">512</text>
<text x="174" y="2092.7" text-anchor="end" font-size="48.5" letter-spacing="-0.7">256</text>
<text x="174" y="2204.4" text-anchor="end" font-size="48.5" letter-spacing="-0.7">128</text>
<text x="174" y="2316.2" text-anchor="end" font-size="48.5" letter-spacing="-0.7">64</text>
<text x="174" y="2427.9" text-anchor="end" font-size="48.5" letter-spacing="-0.7">32</text>
<text transform="translate(41.5 2148.6) rotate(-90)" text-anchor="middle" font-size="53.3">Period (years)</text>
<text x="948.0" y="1790" text-anchor="middle" font-size="54" font-weight="bold" word-spacing="0">RICE / TALDICE</text>
<text x="12.5" y="1780" font-size="59" style="fill:#1e1e1c">(c)</text>
<rect x="1804.3" y="1809.4" width="97.2" height="668.5" fill="url(#cb)" stroke="#3a3629" stroke-width="2"/>
<text x="1921" y="1826.4" font-size="42">1</text>
<text x="1921" y="1960.1" font-size="42">0.8</text>
<text x="1921" y="2093.8" font-size="42">0.6</text>
<text x="1921" y="2227.5" font-size="42">0.4</text>
<text x="1921" y="2361.2" font-size="42">0.2</text>
<text x="1921" y="2494.9" font-size="42">0</text>
<path stroke="#3a3629" stroke-width="1.5" fill="none" d="M1901.5 1943.1h-7M1901.5 2076.8h-7M1901.5 2210.5h-7M1901.5 2344.2h-7"/>
<text transform="translate(2040 2136.9) rotate(-90)" text-anchor="middle" font-size="43.8" word-spacing="2">Magnitude-squared coherence</text>
<text x="999" y="2620" text-anchor="middle" font-size="48" font-weight="bold">Year CE</text>
</svg></body></html>
